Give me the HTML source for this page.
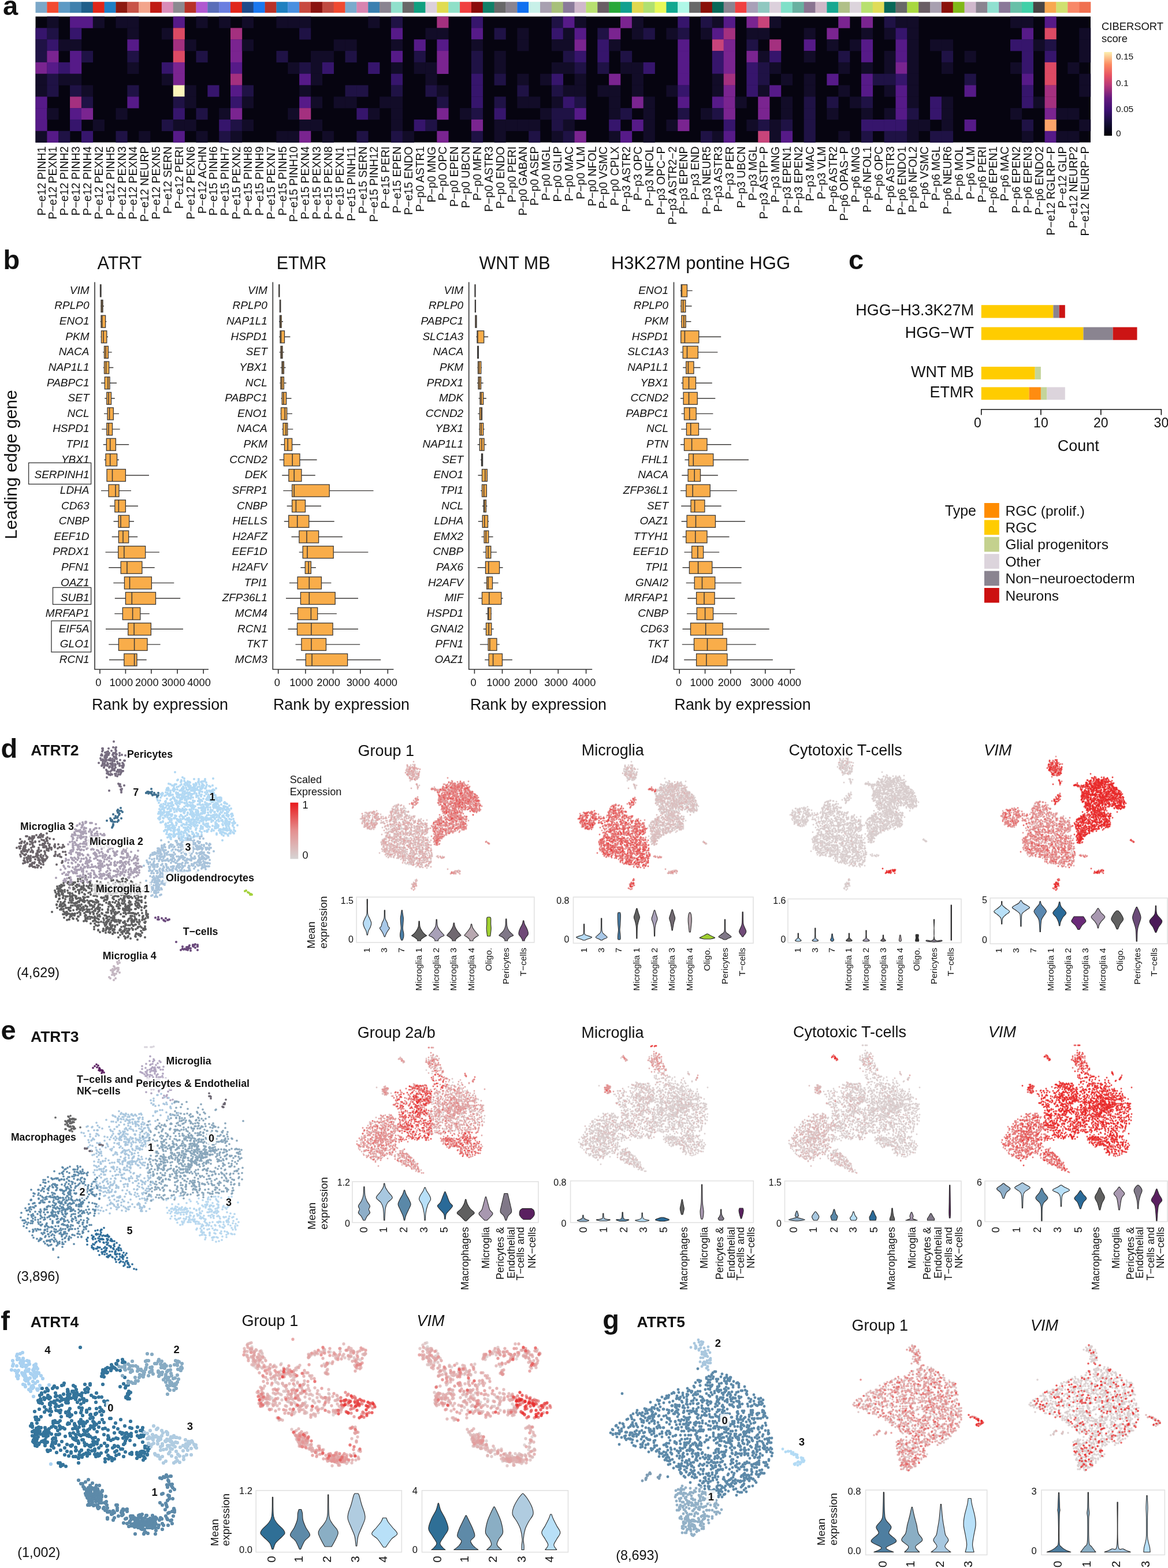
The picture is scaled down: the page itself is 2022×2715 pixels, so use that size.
<!DOCTYPE html>
<html><head><meta charset="utf-8"><title>Figure</title>
<style>html,body{margin:0;padding:0;background:#fff;overflow:hidden;width:2022px;height:2715px;} svg{display:block;} text{font-family:'Liberation Sans', Arial, sans-serif;fill:#111;}</style>
</head><body>
<svg width="2022" height="2715" viewBox="0 0 2022 2715">
<rect width="2022" height="2715" fill="#fff"/>
<defs>
<marker id="k0" markerUnits="userSpaceOnUse" markerWidth="4.1" markerHeight="4.1" refX="2.05" refY="2.05" overflow="visible"><circle cx="2.05" cy="2.05" r="2.05" fill="#5f5f60"/></marker>
<marker id="k1" markerUnits="userSpaceOnUse" markerWidth="4.1" markerHeight="4.1" refX="2.05" refY="2.05" overflow="visible"><circle cx="2.05" cy="2.05" r="2.05" fill="#6b6469"/></marker>
<marker id="k2" markerUnits="userSpaceOnUse" markerWidth="4.1" markerHeight="4.1" refX="2.05" refY="2.05" overflow="visible"><circle cx="2.05" cy="2.05" r="2.05" fill="#aba1b5"/></marker>
<marker id="k3" markerUnits="userSpaceOnUse" markerWidth="4.1" markerHeight="4.1" refX="2.05" refY="2.05" overflow="visible"><circle cx="2.05" cy="2.05" r="2.05" fill="#776d80"/></marker>
<marker id="k4" markerUnits="userSpaceOnUse" markerWidth="4.1" markerHeight="4.1" refX="2.05" refY="2.05" overflow="visible"><circle cx="2.05" cy="2.05" r="2.05" fill="#3f6f8f"/></marker>
<marker id="k5" markerUnits="userSpaceOnUse" markerWidth="4.1" markerHeight="4.1" refX="2.05" refY="2.05" overflow="visible"><circle cx="2.05" cy="2.05" r="2.05" fill="#b2d9f4"/></marker>
<marker id="k6" markerUnits="userSpaceOnUse" markerWidth="4.1" markerHeight="4.1" refX="2.05" refY="2.05" overflow="visible"><circle cx="2.05" cy="2.05" r="2.05" fill="#a8c3db"/></marker>
<marker id="k7" markerUnits="userSpaceOnUse" markerWidth="4.1" markerHeight="4.1" refX="2.05" refY="2.05" overflow="visible"><circle cx="2.05" cy="2.05" r="2.05" fill="#a3d13c"/></marker>
<marker id="k8" markerUnits="userSpaceOnUse" markerWidth="4.1" markerHeight="4.1" refX="2.05" refY="2.05" overflow="visible"><circle cx="2.05" cy="2.05" r="2.05" fill="#6b4a7c"/></marker>
<marker id="k9" markerUnits="userSpaceOnUse" markerWidth="4.1" markerHeight="4.1" refX="2.05" refY="2.05" overflow="visible"><circle cx="2.05" cy="2.05" r="2.05" fill="#c4b7c2"/></marker>
<marker id="k10" markerUnits="userSpaceOnUse" markerWidth="2.9" markerHeight="2.9" refX="1.45" refY="1.45" overflow="visible"><circle cx="1.45" cy="1.45" r="1.45" fill="#d8cdcd" fill-opacity="0.88"/></marker>
<marker id="k11" markerUnits="userSpaceOnUse" markerWidth="2.9" markerHeight="2.9" refX="1.45" refY="1.45" overflow="visible"><circle cx="1.45" cy="1.45" r="1.45" fill="#dbbebe" fill-opacity="0.88"/></marker>
<marker id="k12" markerUnits="userSpaceOnUse" markerWidth="2.9" markerHeight="2.9" refX="1.45" refY="1.45" overflow="visible"><circle cx="1.45" cy="1.45" r="1.45" fill="#deb0b0" fill-opacity="0.88"/></marker>
<marker id="k13" markerUnits="userSpaceOnUse" markerWidth="2.9" markerHeight="2.9" refX="1.45" refY="1.45" overflow="visible"><circle cx="1.45" cy="1.45" r="1.45" fill="#e0a2a2" fill-opacity="0.88"/></marker>
<marker id="k14" markerUnits="userSpaceOnUse" markerWidth="2.9" markerHeight="2.9" refX="1.45" refY="1.45" overflow="visible"><circle cx="1.45" cy="1.45" r="1.45" fill="#e39393" fill-opacity="0.88"/></marker>
<marker id="k15" markerUnits="userSpaceOnUse" markerWidth="2.9" markerHeight="2.9" refX="1.45" refY="1.45" overflow="visible"><circle cx="1.45" cy="1.45" r="1.45" fill="#e48181" fill-opacity="0.88"/></marker>
<marker id="k16" markerUnits="userSpaceOnUse" markerWidth="2.9" markerHeight="2.9" refX="1.45" refY="1.45" overflow="visible"><circle cx="1.45" cy="1.45" r="1.45" fill="#e56a6a" fill-opacity="0.88"/></marker>
<marker id="k17" markerUnits="userSpaceOnUse" markerWidth="2.9" markerHeight="2.9" refX="1.45" refY="1.45" overflow="visible"><circle cx="1.45" cy="1.45" r="1.45" fill="#e65454" fill-opacity="0.88"/></marker>
<marker id="k18" markerUnits="userSpaceOnUse" markerWidth="2.9" markerHeight="2.9" refX="1.45" refY="1.45" overflow="visible"><circle cx="1.45" cy="1.45" r="1.45" fill="#e73e3e" fill-opacity="0.88"/></marker>
<marker id="k19" markerUnits="userSpaceOnUse" markerWidth="2.9" markerHeight="2.9" refX="1.45" refY="1.45" overflow="visible"><circle cx="1.45" cy="1.45" r="1.45" fill="#e82727" fill-opacity="0.88"/></marker>
<marker id="k20" markerUnits="userSpaceOnUse" markerWidth="3.7" markerHeight="3.7" refX="1.85" refY="1.85" overflow="visible"><circle cx="1.85" cy="1.85" r="1.85" fill="#5b88a8"/></marker>
<marker id="k21" markerUnits="userSpaceOnUse" markerWidth="3.7" markerHeight="3.7" refX="1.85" refY="1.85" overflow="visible"><circle cx="1.85" cy="1.85" r="1.85" fill="#2b6b98"/></marker>
<marker id="k22" markerUnits="userSpaceOnUse" markerWidth="3.7" markerHeight="3.7" refX="1.85" refY="1.85" overflow="visible"><circle cx="1.85" cy="1.85" r="1.85" fill="#a8c6de"/></marker>
<marker id="k23" markerUnits="userSpaceOnUse" markerWidth="3.7" markerHeight="3.7" refX="1.85" refY="1.85" overflow="visible"><circle cx="1.85" cy="1.85" r="1.85" fill="#88a6bb"/></marker>
<marker id="k24" markerUnits="userSpaceOnUse" markerWidth="3.7" markerHeight="3.7" refX="1.85" refY="1.85" overflow="visible"><circle cx="1.85" cy="1.85" r="1.85" fill="#b6d7ef"/></marker>
<marker id="k25" markerUnits="userSpaceOnUse" markerWidth="3.7" markerHeight="3.7" refX="1.85" refY="1.85" overflow="visible"><circle cx="1.85" cy="1.85" r="1.85" fill="#b0a4c0"/></marker>
<marker id="k26" markerUnits="userSpaceOnUse" markerWidth="3.7" markerHeight="3.7" refX="1.85" refY="1.85" overflow="visible"><circle cx="1.85" cy="1.85" r="1.85" fill="#5a1e60"/></marker>
<marker id="k27" markerUnits="userSpaceOnUse" markerWidth="3.7" markerHeight="3.7" refX="1.85" refY="1.85" overflow="visible"><circle cx="1.85" cy="1.85" r="1.85" fill="#626263"/></marker>
<marker id="k28" markerUnits="userSpaceOnUse" markerWidth="3.7" markerHeight="3.7" refX="1.85" refY="1.85" overflow="visible"><circle cx="1.85" cy="1.85" r="1.85" fill="#6a6470"/></marker>
<marker id="k29" markerUnits="userSpaceOnUse" markerWidth="3.7" markerHeight="3.7" refX="1.85" refY="1.85" overflow="visible"><circle cx="1.85" cy="1.85" r="1.85" fill="#d8d4dc"/></marker>
<marker id="k30" markerUnits="userSpaceOnUse" markerWidth="6.2" markerHeight="6.2" refX="3.1" refY="3.1" overflow="visible"><circle cx="3.1" cy="3.1" r="3.1" fill="#a9d1f1"/></marker>
<marker id="k31" markerUnits="userSpaceOnUse" markerWidth="6.2" markerHeight="6.2" refX="3.1" refY="3.1" overflow="visible"><circle cx="3.1" cy="3.1" r="3.1" fill="#34749b"/></marker>
<marker id="k32" markerUnits="userSpaceOnUse" markerWidth="6.2" markerHeight="6.2" refX="3.1" refY="3.1" overflow="visible"><circle cx="3.1" cy="3.1" r="3.1" fill="#87abc3"/></marker>
<marker id="k33" markerUnits="userSpaceOnUse" markerWidth="6.2" markerHeight="6.2" refX="3.1" refY="3.1" overflow="visible"><circle cx="3.1" cy="3.1" r="3.1" fill="#b0cce1"/></marker>
<marker id="k34" markerUnits="userSpaceOnUse" markerWidth="6.2" markerHeight="6.2" refX="3.1" refY="3.1" overflow="visible"><circle cx="3.1" cy="3.1" r="3.1" fill="#5d8aa9"/></marker>
<marker id="k35" markerUnits="userSpaceOnUse" markerWidth="5.3" markerHeight="5.3" refX="2.65" refY="2.65" overflow="visible"><circle cx="2.65" cy="2.65" r="2.65" fill="#d8cdcd" fill-opacity="0.8"/></marker>
<marker id="k36" markerUnits="userSpaceOnUse" markerWidth="5.3" markerHeight="5.3" refX="2.65" refY="2.65" overflow="visible"><circle cx="2.65" cy="2.65" r="2.65" fill="#dbbebe" fill-opacity="0.8"/></marker>
<marker id="k37" markerUnits="userSpaceOnUse" markerWidth="5.3" markerHeight="5.3" refX="2.65" refY="2.65" overflow="visible"><circle cx="2.65" cy="2.65" r="2.65" fill="#deb0b0" fill-opacity="0.8"/></marker>
<marker id="k38" markerUnits="userSpaceOnUse" markerWidth="5.3" markerHeight="5.3" refX="2.65" refY="2.65" overflow="visible"><circle cx="2.65" cy="2.65" r="2.65" fill="#e0a2a2" fill-opacity="0.8"/></marker>
<marker id="k39" markerUnits="userSpaceOnUse" markerWidth="5.3" markerHeight="5.3" refX="2.65" refY="2.65" overflow="visible"><circle cx="2.65" cy="2.65" r="2.65" fill="#e39393" fill-opacity="0.8"/></marker>
<marker id="k40" markerUnits="userSpaceOnUse" markerWidth="5.3" markerHeight="5.3" refX="2.65" refY="2.65" overflow="visible"><circle cx="2.65" cy="2.65" r="2.65" fill="#e48181" fill-opacity="0.8"/></marker>
<marker id="k41" markerUnits="userSpaceOnUse" markerWidth="5.3" markerHeight="5.3" refX="2.65" refY="2.65" overflow="visible"><circle cx="2.65" cy="2.65" r="2.65" fill="#e56a6a" fill-opacity="0.8"/></marker>
<marker id="k42" markerUnits="userSpaceOnUse" markerWidth="5.3" markerHeight="5.3" refX="2.65" refY="2.65" overflow="visible"><circle cx="2.65" cy="2.65" r="2.65" fill="#e65454" fill-opacity="0.8"/></marker>
<marker id="k43" markerUnits="userSpaceOnUse" markerWidth="5.3" markerHeight="5.3" refX="2.65" refY="2.65" overflow="visible"><circle cx="2.65" cy="2.65" r="2.65" fill="#e73e3e" fill-opacity="0.8"/></marker>
<marker id="k44" markerUnits="userSpaceOnUse" markerWidth="5.3" markerHeight="5.3" refX="2.65" refY="2.65" overflow="visible"><circle cx="2.65" cy="2.65" r="2.65" fill="#e82727" fill-opacity="0.8"/></marker>
<marker id="k45" markerUnits="userSpaceOnUse" markerWidth="4.9" markerHeight="4.9" refX="2.45" refY="2.45" overflow="visible"><circle cx="2.45" cy="2.45" r="2.45" fill="#5e8aa9"/></marker>
<marker id="k46" markerUnits="userSpaceOnUse" markerWidth="4.9" markerHeight="4.9" refX="2.45" refY="2.45" overflow="visible"><circle cx="2.45" cy="2.45" r="2.45" fill="#93b1c7"/></marker>
<marker id="k47" markerUnits="userSpaceOnUse" markerWidth="4.9" markerHeight="4.9" refX="2.45" refY="2.45" overflow="visible"><circle cx="2.45" cy="2.45" r="2.45" fill="#a9c7de"/></marker>
<marker id="k48" markerUnits="userSpaceOnUse" markerWidth="4.9" markerHeight="4.9" refX="2.45" refY="2.45" overflow="visible"><circle cx="2.45" cy="2.45" r="2.45" fill="#b3dbf5"/></marker>
<marker id="k49" markerUnits="userSpaceOnUse" markerWidth="4.9" markerHeight="4.9" refX="2.45" refY="2.45" overflow="visible"><circle cx="2.45" cy="2.45" r="2.45" fill="#7f9db4"/></marker>
<marker id="k50" markerUnits="userSpaceOnUse" markerWidth="3.6" markerHeight="3.6" refX="1.8" refY="1.8" overflow="visible"><circle cx="1.8" cy="1.8" r="1.8" fill="#d8cdcd" fill-opacity="0.88"/></marker>
<marker id="k51" markerUnits="userSpaceOnUse" markerWidth="3.6" markerHeight="3.6" refX="1.8" refY="1.8" overflow="visible"><circle cx="1.8" cy="1.8" r="1.8" fill="#dbbebe" fill-opacity="0.88"/></marker>
<marker id="k52" markerUnits="userSpaceOnUse" markerWidth="3.6" markerHeight="3.6" refX="1.8" refY="1.8" overflow="visible"><circle cx="1.8" cy="1.8" r="1.8" fill="#deb0b0" fill-opacity="0.88"/></marker>
<marker id="k53" markerUnits="userSpaceOnUse" markerWidth="3.6" markerHeight="3.6" refX="1.8" refY="1.8" overflow="visible"><circle cx="1.8" cy="1.8" r="1.8" fill="#e0a2a2" fill-opacity="0.88"/></marker>
<marker id="k54" markerUnits="userSpaceOnUse" markerWidth="3.6" markerHeight="3.6" refX="1.8" refY="1.8" overflow="visible"><circle cx="1.8" cy="1.8" r="1.8" fill="#e39393" fill-opacity="0.88"/></marker>
<marker id="k55" markerUnits="userSpaceOnUse" markerWidth="3.6" markerHeight="3.6" refX="1.8" refY="1.8" overflow="visible"><circle cx="1.8" cy="1.8" r="1.8" fill="#e48181" fill-opacity="0.88"/></marker>
<marker id="k56" markerUnits="userSpaceOnUse" markerWidth="3.6" markerHeight="3.6" refX="1.8" refY="1.8" overflow="visible"><circle cx="1.8" cy="1.8" r="1.8" fill="#e56a6a" fill-opacity="0.88"/></marker>
<marker id="k57" markerUnits="userSpaceOnUse" markerWidth="3.6" markerHeight="3.6" refX="1.8" refY="1.8" overflow="visible"><circle cx="1.8" cy="1.8" r="1.8" fill="#e65454" fill-opacity="0.88"/></marker>
<marker id="k58" markerUnits="userSpaceOnUse" markerWidth="3.6" markerHeight="3.6" refX="1.8" refY="1.8" overflow="visible"><circle cx="1.8" cy="1.8" r="1.8" fill="#e73e3e" fill-opacity="0.88"/></marker>
<marker id="k59" markerUnits="userSpaceOnUse" markerWidth="3.6" markerHeight="3.6" refX="1.8" refY="1.8" overflow="visible"><circle cx="1.8" cy="1.8" r="1.8" fill="#e82727" fill-opacity="0.88"/></marker>
</defs>
<text x="5" y="26" font-size="47" font-weight="bold">a</text>
<rect x="61.50" y="3.2" width="20.15" height="19" fill="#7ba7c8"/>
<rect x="81.35" y="3.2" width="20.15" height="19" fill="#f24a30"/>
<rect x="101.21" y="3.2" width="20.15" height="19" fill="#5d9ac4"/>
<rect x="121.06" y="3.2" width="20.15" height="19" fill="#3f80ad"/>
<rect x="140.91" y="3.2" width="20.15" height="19" fill="#1f5f8a"/>
<rect x="160.77" y="3.2" width="20.15" height="19" fill="#e0261a"/>
<rect x="180.62" y="3.2" width="20.15" height="19" fill="#1f7fc4"/>
<rect x="200.47" y="3.2" width="20.15" height="19" fill="#8e1a10"/>
<rect x="220.33" y="3.2" width="20.15" height="19" fill="#c85448"/>
<rect x="240.18" y="3.2" width="20.15" height="19" fill="#f3a58c"/>
<rect x="260.03" y="3.2" width="20.15" height="19" fill="#c01c14"/>
<rect x="279.89" y="3.2" width="20.15" height="19" fill="#d98cb8"/>
<rect x="299.74" y="3.2" width="20.15" height="19" fill="#8c8a90"/>
<rect x="319.59" y="3.2" width="20.15" height="19" fill="#b83228"/>
<rect x="339.45" y="3.2" width="20.15" height="19" fill="#b058d0"/>
<rect x="359.30" y="3.2" width="20.15" height="19" fill="#5a6eb8"/>
<rect x="379.15" y="3.2" width="20.15" height="19" fill="#6a7ee0"/>
<rect x="399.01" y="3.2" width="20.15" height="19" fill="#e0261a"/>
<rect x="418.86" y="3.2" width="20.15" height="19" fill="#1f4a8a"/>
<rect x="438.71" y="3.2" width="20.15" height="19" fill="#1a78f0"/>
<rect x="458.57" y="3.2" width="20.15" height="19" fill="#b83228"/>
<rect x="478.42" y="3.2" width="20.15" height="19" fill="#1f80c0"/>
<rect x="498.27" y="3.2" width="20.15" height="19" fill="#4a90e0"/>
<rect x="518.12" y="3.2" width="20.15" height="19" fill="#c84a40"/>
<rect x="537.98" y="3.2" width="20.15" height="19" fill="#8a1410"/>
<rect x="557.83" y="3.2" width="20.15" height="19" fill="#c04a40"/>
<rect x="577.68" y="3.2" width="20.15" height="19" fill="#f04a30"/>
<rect x="597.54" y="3.2" width="20.15" height="19" fill="#7aaacc"/>
<rect x="617.39" y="3.2" width="20.15" height="19" fill="#d884b0"/>
<rect x="637.24" y="3.2" width="20.15" height="19" fill="#3a80b0"/>
<rect x="657.10" y="3.2" width="20.15" height="19" fill="#8a8490"/>
<rect x="676.95" y="3.2" width="20.15" height="19" fill="#90e0cc"/>
<rect x="696.80" y="3.2" width="20.15" height="19" fill="#686868"/>
<rect x="716.66" y="3.2" width="20.15" height="19" fill="#10a080"/>
<rect x="736.51" y="3.2" width="20.15" height="19" fill="#dcd0dc"/>
<rect x="756.36" y="3.2" width="20.15" height="19" fill="#e0dc50"/>
<rect x="776.22" y="3.2" width="20.15" height="19" fill="#90e0c8"/>
<rect x="796.07" y="3.2" width="20.15" height="19" fill="#f04040"/>
<rect x="815.92" y="3.2" width="20.15" height="19" fill="#8a0a0a"/>
<rect x="835.78" y="3.2" width="20.15" height="19" fill="#108068"/>
<rect x="855.63" y="3.2" width="20.15" height="19" fill="#686868"/>
<rect x="875.48" y="3.2" width="20.15" height="19" fill="#8a8490"/>
<rect x="895.34" y="3.2" width="20.15" height="19" fill="#1070f0"/>
<rect x="915.19" y="3.2" width="20.15" height="19" fill="#c8f0e8"/>
<rect x="935.04" y="3.2" width="20.15" height="19" fill="#a8a0b0"/>
<rect x="954.90" y="3.2" width="20.15" height="19" fill="#a8c07a"/>
<rect x="974.75" y="3.2" width="20.15" height="19" fill="#8a7a9a"/>
<rect x="994.60" y="3.2" width="20.15" height="19" fill="#d0b8cc"/>
<rect x="1014.46" y="3.2" width="20.15" height="19" fill="#b8e070"/>
<rect x="1034.31" y="3.2" width="20.15" height="19" fill="#6a5e64"/>
<rect x="1054.16" y="3.2" width="20.15" height="19" fill="#28a838"/>
<rect x="1074.02" y="3.2" width="20.15" height="19" fill="#10a090"/>
<rect x="1093.87" y="3.2" width="20.15" height="19" fill="#e0d850"/>
<rect x="1113.72" y="3.2" width="20.15" height="19" fill="#b0e070"/>
<rect x="1133.58" y="3.2" width="20.15" height="19" fill="#e8f858"/>
<rect x="1153.43" y="3.2" width="20.15" height="19" fill="#10a890"/>
<rect x="1173.28" y="3.2" width="20.15" height="19" fill="#b0f8e8"/>
<rect x="1193.14" y="3.2" width="20.15" height="19" fill="#686868"/>
<rect x="1212.99" y="3.2" width="20.15" height="19" fill="#8a1008"/>
<rect x="1232.84" y="3.2" width="20.15" height="19" fill="#086858"/>
<rect x="1252.70" y="3.2" width="20.15" height="19" fill="#8a8490"/>
<rect x="1272.55" y="3.2" width="20.15" height="19" fill="#f04040"/>
<rect x="1292.40" y="3.2" width="20.15" height="19" fill="#a8a0b8"/>
<rect x="1312.26" y="3.2" width="20.15" height="19" fill="#90c8c0"/>
<rect x="1332.11" y="3.2" width="20.15" height="19" fill="#dcd0dc"/>
<rect x="1351.96" y="3.2" width="20.15" height="19" fill="#80e0c8"/>
<rect x="1371.82" y="3.2" width="20.15" height="19" fill="#68b0a0"/>
<rect x="1391.67" y="3.2" width="20.15" height="19" fill="#8a7490"/>
<rect x="1411.52" y="3.2" width="20.15" height="19" fill="#d0b8c8"/>
<rect x="1431.38" y="3.2" width="20.15" height="19" fill="#18a890"/>
<rect x="1451.23" y="3.2" width="20.15" height="19" fill="#b0c088"/>
<rect x="1471.08" y="3.2" width="20.15" height="19" fill="#dcd4dc"/>
<rect x="1490.93" y="3.2" width="20.15" height="19" fill="#b8e070"/>
<rect x="1510.79" y="3.2" width="20.15" height="19" fill="#e0dc58"/>
<rect x="1530.64" y="3.2" width="20.15" height="19" fill="#086858"/>
<rect x="1550.49" y="3.2" width="20.15" height="19" fill="#686868"/>
<rect x="1570.35" y="3.2" width="20.15" height="19" fill="#a8d840"/>
<rect x="1590.20" y="3.2" width="20.15" height="19" fill="#6a5e64"/>
<rect x="1610.05" y="3.2" width="20.15" height="19" fill="#a8a0b0"/>
<rect x="1629.91" y="3.2" width="20.15" height="19" fill="#8a1008"/>
<rect x="1649.76" y="3.2" width="20.15" height="19" fill="#80b818"/>
<rect x="1669.61" y="3.2" width="20.15" height="19" fill="#d0b8cc"/>
<rect x="1689.47" y="3.2" width="20.15" height="19" fill="#8a8490"/>
<rect x="1709.32" y="3.2" width="20.15" height="19" fill="#90e0d0"/>
<rect x="1729.17" y="3.2" width="20.15" height="19" fill="#8a7898"/>
<rect x="1749.03" y="3.2" width="20.15" height="19" fill="#68c0a8"/>
<rect x="1768.88" y="3.2" width="20.15" height="19" fill="#40d0a8"/>
<rect x="1788.73" y="3.2" width="20.15" height="19" fill="#484444"/>
<rect x="1808.59" y="3.2" width="20.15" height="19" fill="#f8a850"/>
<rect x="1828.44" y="3.2" width="20.15" height="19" fill="#d0e070"/>
<rect x="1848.29" y="3.2" width="20.15" height="19" fill="#f88868"/>
<rect x="1868.15" y="3.2" width="20.15" height="19" fill="#f07050"/>
<rect x="61.5" y="28.6" width="1826.50" height="218.00" fill="#060410"/>
<rect x="81.35" y="28.60" width="20.15" height="20.12" fill="#120c28"/>
<rect x="121.06" y="28.60" width="20.15" height="20.12" fill="#561a88"/>
<rect x="140.91" y="28.60" width="20.15" height="20.12" fill="#561a88"/>
<rect x="160.77" y="28.60" width="20.15" height="20.12" fill="#120c28"/>
<rect x="200.47" y="28.60" width="20.15" height="20.12" fill="#120c28"/>
<rect x="220.33" y="28.60" width="20.15" height="20.12" fill="#120c28"/>
<rect x="299.74" y="28.60" width="20.15" height="20.12" fill="#561a88"/>
<rect x="339.45" y="28.60" width="20.15" height="20.12" fill="#120c28"/>
<rect x="379.15" y="28.60" width="20.15" height="20.12" fill="#120c28"/>
<rect x="418.86" y="28.60" width="20.15" height="20.12" fill="#120c28"/>
<rect x="478.42" y="28.60" width="20.15" height="20.12" fill="#120c28"/>
<rect x="498.27" y="28.60" width="20.15" height="20.12" fill="#120c28"/>
<rect x="518.12" y="28.60" width="20.15" height="20.12" fill="#120c28"/>
<rect x="637.24" y="28.60" width="20.15" height="20.12" fill="#120c28"/>
<rect x="676.95" y="28.60" width="20.15" height="20.12" fill="#1f1245"/>
<rect x="756.36" y="28.60" width="20.15" height="20.12" fill="#a4307f"/>
<rect x="815.92" y="28.60" width="20.15" height="20.12" fill="#36156c"/>
<rect x="954.90" y="28.60" width="20.15" height="20.12" fill="#1f1245"/>
<rect x="974.75" y="28.60" width="20.15" height="20.12" fill="#561a88"/>
<rect x="994.60" y="28.60" width="20.15" height="20.12" fill="#120c28"/>
<rect x="1074.02" y="28.60" width="20.15" height="20.12" fill="#7a2490"/>
<rect x="1093.87" y="28.60" width="20.15" height="20.12" fill="#120c28"/>
<rect x="1173.28" y="28.60" width="20.15" height="20.12" fill="#36156c"/>
<rect x="1212.99" y="28.60" width="20.15" height="20.12" fill="#1f1245"/>
<rect x="1232.84" y="28.60" width="20.15" height="20.12" fill="#120c28"/>
<rect x="1252.70" y="28.60" width="20.15" height="20.12" fill="#561a88"/>
<rect x="1292.40" y="28.60" width="20.15" height="20.12" fill="#7a2490"/>
<rect x="1312.26" y="28.60" width="20.15" height="20.12" fill="#c8447a"/>
<rect x="1332.11" y="28.60" width="20.15" height="20.12" fill="#120c28"/>
<rect x="1451.23" y="28.60" width="20.15" height="20.12" fill="#7a2490"/>
<rect x="1490.93" y="28.60" width="20.15" height="20.12" fill="#7a2490"/>
<rect x="1530.64" y="28.60" width="20.15" height="20.12" fill="#1f1245"/>
<rect x="1550.49" y="28.60" width="20.15" height="20.12" fill="#120c28"/>
<rect x="1570.35" y="28.60" width="20.15" height="20.12" fill="#120c28"/>
<rect x="1749.03" y="28.60" width="20.15" height="20.12" fill="#120c28"/>
<rect x="1768.88" y="28.60" width="20.15" height="20.12" fill="#120c28"/>
<rect x="1808.59" y="28.60" width="20.15" height="20.12" fill="#561a88"/>
<rect x="61.50" y="48.42" width="20.15" height="20.12" fill="#36156c"/>
<rect x="81.35" y="48.42" width="20.15" height="20.12" fill="#1f1245"/>
<rect x="121.06" y="48.42" width="20.15" height="20.12" fill="#36156c"/>
<rect x="220.33" y="48.42" width="20.15" height="20.12" fill="#120c28"/>
<rect x="279.89" y="48.42" width="20.15" height="20.12" fill="#120c28"/>
<rect x="299.74" y="48.42" width="20.15" height="20.12" fill="#dc4a64"/>
<rect x="399.01" y="48.42" width="20.15" height="20.12" fill="#a4307f"/>
<rect x="518.12" y="48.42" width="20.15" height="20.12" fill="#1f1245"/>
<rect x="676.95" y="48.42" width="20.15" height="20.12" fill="#561a88"/>
<rect x="736.51" y="48.42" width="20.15" height="20.12" fill="#120c28"/>
<rect x="756.36" y="48.42" width="20.15" height="20.12" fill="#120c28"/>
<rect x="815.92" y="48.42" width="20.15" height="20.12" fill="#561a88"/>
<rect x="855.63" y="48.42" width="20.15" height="20.12" fill="#1f1245"/>
<rect x="895.34" y="48.42" width="20.15" height="20.12" fill="#120c28"/>
<rect x="954.90" y="48.42" width="20.15" height="20.12" fill="#36156c"/>
<rect x="974.75" y="48.42" width="20.15" height="20.12" fill="#120c28"/>
<rect x="994.60" y="48.42" width="20.15" height="20.12" fill="#561a88"/>
<rect x="1034.31" y="48.42" width="20.15" height="20.12" fill="#1f1245"/>
<rect x="1054.16" y="48.42" width="20.15" height="20.12" fill="#7a2490"/>
<rect x="1093.87" y="48.42" width="20.15" height="20.12" fill="#120c28"/>
<rect x="1113.72" y="48.42" width="20.15" height="20.12" fill="#1f1245"/>
<rect x="1153.43" y="48.42" width="20.15" height="20.12" fill="#120c28"/>
<rect x="1173.28" y="48.42" width="20.15" height="20.12" fill="#1f1245"/>
<rect x="1212.99" y="48.42" width="20.15" height="20.12" fill="#120c28"/>
<rect x="1232.84" y="48.42" width="20.15" height="20.12" fill="#561a88"/>
<rect x="1252.70" y="48.42" width="20.15" height="20.12" fill="#a4307f"/>
<rect x="1292.40" y="48.42" width="20.15" height="20.12" fill="#120c28"/>
<rect x="1312.26" y="48.42" width="20.15" height="20.12" fill="#120c28"/>
<rect x="1391.67" y="48.42" width="20.15" height="20.12" fill="#120c28"/>
<rect x="1431.38" y="48.42" width="20.15" height="20.12" fill="#7a2490"/>
<rect x="1490.93" y="48.42" width="20.15" height="20.12" fill="#120c28"/>
<rect x="1530.64" y="48.42" width="20.15" height="20.12" fill="#120c28"/>
<rect x="1550.49" y="48.42" width="20.15" height="20.12" fill="#36156c"/>
<rect x="1570.35" y="48.42" width="20.15" height="20.12" fill="#120c28"/>
<rect x="1768.88" y="48.42" width="20.15" height="20.12" fill="#561a88"/>
<rect x="1808.59" y="48.42" width="20.15" height="20.12" fill="#dc4a64"/>
<rect x="1868.15" y="48.42" width="20.15" height="20.12" fill="#120c28"/>
<rect x="61.50" y="68.24" width="20.15" height="20.12" fill="#1f1245"/>
<rect x="81.35" y="68.24" width="20.15" height="20.12" fill="#36156c"/>
<rect x="101.21" y="68.24" width="20.15" height="20.12" fill="#120c28"/>
<rect x="121.06" y="68.24" width="20.15" height="20.12" fill="#120c28"/>
<rect x="220.33" y="68.24" width="20.15" height="20.12" fill="#561a88"/>
<rect x="299.74" y="68.24" width="20.15" height="20.12" fill="#a4307f"/>
<rect x="319.59" y="68.24" width="20.15" height="20.12" fill="#120c28"/>
<rect x="399.01" y="68.24" width="20.15" height="20.12" fill="#7a2490"/>
<rect x="418.86" y="68.24" width="20.15" height="20.12" fill="#120c28"/>
<rect x="577.68" y="68.24" width="20.15" height="20.12" fill="#120c28"/>
<rect x="597.54" y="68.24" width="20.15" height="20.12" fill="#120c28"/>
<rect x="676.95" y="68.24" width="20.15" height="20.12" fill="#120c28"/>
<rect x="716.66" y="68.24" width="20.15" height="20.12" fill="#561a88"/>
<rect x="756.36" y="68.24" width="20.15" height="20.12" fill="#561a88"/>
<rect x="815.92" y="68.24" width="20.15" height="20.12" fill="#120c28"/>
<rect x="895.34" y="68.24" width="20.15" height="20.12" fill="#120c28"/>
<rect x="954.90" y="68.24" width="20.15" height="20.12" fill="#120c28"/>
<rect x="974.75" y="68.24" width="20.15" height="20.12" fill="#120c28"/>
<rect x="994.60" y="68.24" width="20.15" height="20.12" fill="#7a2490"/>
<rect x="1034.31" y="68.24" width="20.15" height="20.12" fill="#36156c"/>
<rect x="1054.16" y="68.24" width="20.15" height="20.12" fill="#120c28"/>
<rect x="1173.28" y="68.24" width="20.15" height="20.12" fill="#561a88"/>
<rect x="1232.84" y="68.24" width="20.15" height="20.12" fill="#c8447a"/>
<rect x="1252.70" y="68.24" width="20.15" height="20.12" fill="#7a2490"/>
<rect x="1292.40" y="68.24" width="20.15" height="20.12" fill="#1f1245"/>
<rect x="1332.11" y="68.24" width="20.15" height="20.12" fill="#a4307f"/>
<rect x="1391.67" y="68.24" width="20.15" height="20.12" fill="#561a88"/>
<rect x="1431.38" y="68.24" width="20.15" height="20.12" fill="#120c28"/>
<rect x="1471.08" y="68.24" width="20.15" height="20.12" fill="#120c28"/>
<rect x="1490.93" y="68.24" width="20.15" height="20.12" fill="#561a88"/>
<rect x="1550.49" y="68.24" width="20.15" height="20.12" fill="#561a88"/>
<rect x="1570.35" y="68.24" width="20.15" height="20.12" fill="#120c28"/>
<rect x="1610.05" y="68.24" width="20.15" height="20.12" fill="#120c28"/>
<rect x="1629.91" y="68.24" width="20.15" height="20.12" fill="#120c28"/>
<rect x="1749.03" y="68.24" width="20.15" height="20.12" fill="#36156c"/>
<rect x="1768.88" y="68.24" width="20.15" height="20.12" fill="#36156c"/>
<rect x="1788.73" y="68.24" width="20.15" height="20.12" fill="#120c28"/>
<rect x="1808.59" y="68.24" width="20.15" height="20.12" fill="#1f1245"/>
<rect x="1868.15" y="68.24" width="20.15" height="20.12" fill="#120c28"/>
<rect x="61.50" y="88.05" width="20.15" height="20.12" fill="#1f1245"/>
<rect x="81.35" y="88.05" width="20.15" height="20.12" fill="#7a2490"/>
<rect x="121.06" y="88.05" width="20.15" height="20.12" fill="#561a88"/>
<rect x="140.91" y="88.05" width="20.15" height="20.12" fill="#1f1245"/>
<rect x="220.33" y="88.05" width="20.15" height="20.12" fill="#1f1245"/>
<rect x="299.74" y="88.05" width="20.15" height="20.12" fill="#dc4a64"/>
<rect x="339.45" y="88.05" width="20.15" height="20.12" fill="#1f1245"/>
<rect x="399.01" y="88.05" width="20.15" height="20.12" fill="#7a2490"/>
<rect x="478.42" y="88.05" width="20.15" height="20.12" fill="#1f1245"/>
<rect x="537.98" y="88.05" width="20.15" height="20.12" fill="#120c28"/>
<rect x="557.83" y="88.05" width="20.15" height="20.12" fill="#120c28"/>
<rect x="597.54" y="88.05" width="20.15" height="20.12" fill="#1f1245"/>
<rect x="676.95" y="88.05" width="20.15" height="20.12" fill="#561a88"/>
<rect x="716.66" y="88.05" width="20.15" height="20.12" fill="#1f1245"/>
<rect x="756.36" y="88.05" width="20.15" height="20.12" fill="#7a2490"/>
<rect x="815.92" y="88.05" width="20.15" height="20.12" fill="#1f1245"/>
<rect x="855.63" y="88.05" width="20.15" height="20.12" fill="#120c28"/>
<rect x="974.75" y="88.05" width="20.15" height="20.12" fill="#1f1245"/>
<rect x="994.60" y="88.05" width="20.15" height="20.12" fill="#36156c"/>
<rect x="1034.31" y="88.05" width="20.15" height="20.12" fill="#36156c"/>
<rect x="1074.02" y="88.05" width="20.15" height="20.12" fill="#1f1245"/>
<rect x="1173.28" y="88.05" width="20.15" height="20.12" fill="#561a88"/>
<rect x="1232.84" y="88.05" width="20.15" height="20.12" fill="#36156c"/>
<rect x="1252.70" y="88.05" width="20.15" height="20.12" fill="#7a2490"/>
<rect x="1292.40" y="88.05" width="20.15" height="20.12" fill="#7a2490"/>
<rect x="1312.26" y="88.05" width="20.15" height="20.12" fill="#120c28"/>
<rect x="1332.11" y="88.05" width="20.15" height="20.12" fill="#36156c"/>
<rect x="1391.67" y="88.05" width="20.15" height="20.12" fill="#120c28"/>
<rect x="1451.23" y="88.05" width="20.15" height="20.12" fill="#1f1245"/>
<rect x="1490.93" y="88.05" width="20.15" height="20.12" fill="#561a88"/>
<rect x="1530.64" y="88.05" width="20.15" height="20.12" fill="#120c28"/>
<rect x="1550.49" y="88.05" width="20.15" height="20.12" fill="#561a88"/>
<rect x="1570.35" y="88.05" width="20.15" height="20.12" fill="#120c28"/>
<rect x="1629.91" y="88.05" width="20.15" height="20.12" fill="#1f1245"/>
<rect x="1669.61" y="88.05" width="20.15" height="20.12" fill="#120c28"/>
<rect x="1768.88" y="88.05" width="20.15" height="20.12" fill="#36156c"/>
<rect x="1808.59" y="88.05" width="20.15" height="20.12" fill="#36156c"/>
<rect x="1868.15" y="88.05" width="20.15" height="20.12" fill="#120c28"/>
<rect x="61.50" y="107.87" width="20.15" height="20.12" fill="#7a2490"/>
<rect x="81.35" y="107.87" width="20.15" height="20.12" fill="#561a88"/>
<rect x="101.21" y="107.87" width="20.15" height="20.12" fill="#36156c"/>
<rect x="121.06" y="107.87" width="20.15" height="20.12" fill="#561a88"/>
<rect x="220.33" y="107.87" width="20.15" height="20.12" fill="#120c28"/>
<rect x="279.89" y="107.87" width="20.15" height="20.12" fill="#36156c"/>
<rect x="299.74" y="107.87" width="20.15" height="20.12" fill="#7a2490"/>
<rect x="399.01" y="107.87" width="20.15" height="20.12" fill="#561a88"/>
<rect x="498.27" y="107.87" width="20.15" height="20.12" fill="#120c28"/>
<rect x="518.12" y="107.87" width="20.15" height="20.12" fill="#1f1245"/>
<rect x="537.98" y="107.87" width="20.15" height="20.12" fill="#120c28"/>
<rect x="557.83" y="107.87" width="20.15" height="20.12" fill="#36156c"/>
<rect x="637.24" y="107.87" width="20.15" height="20.12" fill="#36156c"/>
<rect x="676.95" y="107.87" width="20.15" height="20.12" fill="#120c28"/>
<rect x="716.66" y="107.87" width="20.15" height="20.12" fill="#120c28"/>
<rect x="736.51" y="107.87" width="20.15" height="20.12" fill="#120c28"/>
<rect x="756.36" y="107.87" width="20.15" height="20.12" fill="#7a2490"/>
<rect x="815.92" y="107.87" width="20.15" height="20.12" fill="#1f1245"/>
<rect x="855.63" y="107.87" width="20.15" height="20.12" fill="#120c28"/>
<rect x="954.90" y="107.87" width="20.15" height="20.12" fill="#120c28"/>
<rect x="974.75" y="107.87" width="20.15" height="20.12" fill="#120c28"/>
<rect x="994.60" y="107.87" width="20.15" height="20.12" fill="#1f1245"/>
<rect x="1034.31" y="107.87" width="20.15" height="20.12" fill="#1f1245"/>
<rect x="1074.02" y="107.87" width="20.15" height="20.12" fill="#120c28"/>
<rect x="1093.87" y="107.87" width="20.15" height="20.12" fill="#120c28"/>
<rect x="1113.72" y="107.87" width="20.15" height="20.12" fill="#36156c"/>
<rect x="1173.28" y="107.87" width="20.15" height="20.12" fill="#561a88"/>
<rect x="1232.84" y="107.87" width="20.15" height="20.12" fill="#36156c"/>
<rect x="1252.70" y="107.87" width="20.15" height="20.12" fill="#7a2490"/>
<rect x="1292.40" y="107.87" width="20.15" height="20.12" fill="#36156c"/>
<rect x="1312.26" y="107.87" width="20.15" height="20.12" fill="#1f1245"/>
<rect x="1332.11" y="107.87" width="20.15" height="20.12" fill="#120c28"/>
<rect x="1451.23" y="107.87" width="20.15" height="20.12" fill="#120c28"/>
<rect x="1490.93" y="107.87" width="20.15" height="20.12" fill="#120c28"/>
<rect x="1530.64" y="107.87" width="20.15" height="20.12" fill="#120c28"/>
<rect x="1550.49" y="107.87" width="20.15" height="20.12" fill="#7a2490"/>
<rect x="1570.35" y="107.87" width="20.15" height="20.12" fill="#120c28"/>
<rect x="1629.91" y="107.87" width="20.15" height="20.12" fill="#120c28"/>
<rect x="1749.03" y="107.87" width="20.15" height="20.12" fill="#120c28"/>
<rect x="1768.88" y="107.87" width="20.15" height="20.12" fill="#36156c"/>
<rect x="1808.59" y="107.87" width="20.15" height="20.12" fill="#dc4a64"/>
<rect x="1848.29" y="107.87" width="20.15" height="20.12" fill="#120c28"/>
<rect x="61.50" y="127.69" width="20.15" height="20.12" fill="#120c28"/>
<rect x="81.35" y="127.69" width="20.15" height="20.12" fill="#1f1245"/>
<rect x="101.21" y="127.69" width="20.15" height="20.12" fill="#120c28"/>
<rect x="121.06" y="127.69" width="20.15" height="20.12" fill="#120c28"/>
<rect x="279.89" y="127.69" width="20.15" height="20.12" fill="#120c28"/>
<rect x="299.74" y="127.69" width="20.15" height="20.12" fill="#7a2490"/>
<rect x="399.01" y="127.69" width="20.15" height="20.12" fill="#a4307f"/>
<rect x="518.12" y="127.69" width="20.15" height="20.12" fill="#561a88"/>
<rect x="537.98" y="127.69" width="20.15" height="20.12" fill="#120c28"/>
<rect x="676.95" y="127.69" width="20.15" height="20.12" fill="#36156c"/>
<rect x="736.51" y="127.69" width="20.15" height="20.12" fill="#120c28"/>
<rect x="815.92" y="127.69" width="20.15" height="20.12" fill="#36156c"/>
<rect x="855.63" y="127.69" width="20.15" height="20.12" fill="#1f1245"/>
<rect x="895.34" y="127.69" width="20.15" height="20.12" fill="#120c28"/>
<rect x="935.04" y="127.69" width="20.15" height="20.12" fill="#120c28"/>
<rect x="954.90" y="127.69" width="20.15" height="20.12" fill="#36156c"/>
<rect x="994.60" y="127.69" width="20.15" height="20.12" fill="#120c28"/>
<rect x="1054.16" y="127.69" width="20.15" height="20.12" fill="#7a2490"/>
<rect x="1093.87" y="127.69" width="20.15" height="20.12" fill="#120c28"/>
<rect x="1173.28" y="127.69" width="20.15" height="20.12" fill="#561a88"/>
<rect x="1232.84" y="127.69" width="20.15" height="20.12" fill="#120c28"/>
<rect x="1252.70" y="127.69" width="20.15" height="20.12" fill="#a4307f"/>
<rect x="1292.40" y="127.69" width="20.15" height="20.12" fill="#36156c"/>
<rect x="1312.26" y="127.69" width="20.15" height="20.12" fill="#1f1245"/>
<rect x="1351.96" y="127.69" width="20.15" height="20.12" fill="#120c28"/>
<rect x="1391.67" y="127.69" width="20.15" height="20.12" fill="#120c28"/>
<rect x="1431.38" y="127.69" width="20.15" height="20.12" fill="#561a88"/>
<rect x="1490.93" y="127.69" width="20.15" height="20.12" fill="#561a88"/>
<rect x="1510.79" y="127.69" width="20.15" height="20.12" fill="#1f1245"/>
<rect x="1530.64" y="127.69" width="20.15" height="20.12" fill="#1f1245"/>
<rect x="1550.49" y="127.69" width="20.15" height="20.12" fill="#36156c"/>
<rect x="1570.35" y="127.69" width="20.15" height="20.12" fill="#120c28"/>
<rect x="1669.61" y="127.69" width="20.15" height="20.12" fill="#1f1245"/>
<rect x="1768.88" y="127.69" width="20.15" height="20.12" fill="#561a88"/>
<rect x="1808.59" y="127.69" width="20.15" height="20.12" fill="#dc4a64"/>
<rect x="1868.15" y="127.69" width="20.15" height="20.12" fill="#120c28"/>
<rect x="61.50" y="147.51" width="20.15" height="20.12" fill="#120c28"/>
<rect x="81.35" y="147.51" width="20.15" height="20.12" fill="#1f1245"/>
<rect x="121.06" y="147.51" width="20.15" height="20.12" fill="#1f1245"/>
<rect x="140.91" y="147.51" width="20.15" height="20.12" fill="#120c28"/>
<rect x="220.33" y="147.51" width="20.15" height="20.12" fill="#1f1245"/>
<rect x="299.74" y="147.51" width="20.15" height="20.12" fill="#fcf4bc"/>
<rect x="319.59" y="147.51" width="20.15" height="20.12" fill="#120c28"/>
<rect x="359.30" y="147.51" width="20.15" height="20.12" fill="#36156c"/>
<rect x="399.01" y="147.51" width="20.15" height="20.12" fill="#561a88"/>
<rect x="418.86" y="147.51" width="20.15" height="20.12" fill="#1f1245"/>
<rect x="518.12" y="147.51" width="20.15" height="20.12" fill="#120c28"/>
<rect x="597.54" y="147.51" width="20.15" height="20.12" fill="#1f1245"/>
<rect x="617.39" y="147.51" width="20.15" height="20.12" fill="#1f1245"/>
<rect x="676.95" y="147.51" width="20.15" height="20.12" fill="#1f1245"/>
<rect x="736.51" y="147.51" width="20.15" height="20.12" fill="#1f1245"/>
<rect x="756.36" y="147.51" width="20.15" height="20.12" fill="#120c28"/>
<rect x="815.92" y="147.51" width="20.15" height="20.12" fill="#36156c"/>
<rect x="895.34" y="147.51" width="20.15" height="20.12" fill="#1f1245"/>
<rect x="954.90" y="147.51" width="20.15" height="20.12" fill="#1f1245"/>
<rect x="974.75" y="147.51" width="20.15" height="20.12" fill="#120c28"/>
<rect x="994.60" y="147.51" width="20.15" height="20.12" fill="#120c28"/>
<rect x="1034.31" y="147.51" width="20.15" height="20.12" fill="#120c28"/>
<rect x="1054.16" y="147.51" width="20.15" height="20.12" fill="#120c28"/>
<rect x="1093.87" y="147.51" width="20.15" height="20.12" fill="#120c28"/>
<rect x="1153.43" y="147.51" width="20.15" height="20.12" fill="#120c28"/>
<rect x="1173.28" y="147.51" width="20.15" height="20.12" fill="#36156c"/>
<rect x="1232.84" y="147.51" width="20.15" height="20.12" fill="#120c28"/>
<rect x="1252.70" y="147.51" width="20.15" height="20.12" fill="#7a2490"/>
<rect x="1292.40" y="147.51" width="20.15" height="20.12" fill="#36156c"/>
<rect x="1312.26" y="147.51" width="20.15" height="20.12" fill="#120c28"/>
<rect x="1332.11" y="147.51" width="20.15" height="20.12" fill="#561a88"/>
<rect x="1391.67" y="147.51" width="20.15" height="20.12" fill="#120c28"/>
<rect x="1451.23" y="147.51" width="20.15" height="20.12" fill="#120c28"/>
<rect x="1490.93" y="147.51" width="20.15" height="20.12" fill="#561a88"/>
<rect x="1530.64" y="147.51" width="20.15" height="20.12" fill="#120c28"/>
<rect x="1550.49" y="147.51" width="20.15" height="20.12" fill="#561a88"/>
<rect x="1570.35" y="147.51" width="20.15" height="20.12" fill="#120c28"/>
<rect x="1669.61" y="147.51" width="20.15" height="20.12" fill="#561a88"/>
<rect x="1768.88" y="147.51" width="20.15" height="20.12" fill="#36156c"/>
<rect x="1808.59" y="147.51" width="20.15" height="20.12" fill="#a4307f"/>
<rect x="1868.15" y="147.51" width="20.15" height="20.12" fill="#120c28"/>
<rect x="61.50" y="167.33" width="20.15" height="20.12" fill="#561a88"/>
<rect x="121.06" y="167.33" width="20.15" height="20.12" fill="#a4307f"/>
<rect x="140.91" y="167.33" width="20.15" height="20.12" fill="#1f1245"/>
<rect x="220.33" y="167.33" width="20.15" height="20.12" fill="#561a88"/>
<rect x="299.74" y="167.33" width="20.15" height="20.12" fill="#1f1245"/>
<rect x="319.59" y="167.33" width="20.15" height="20.12" fill="#120c28"/>
<rect x="399.01" y="167.33" width="20.15" height="20.12" fill="#36156c"/>
<rect x="418.86" y="167.33" width="20.15" height="20.12" fill="#120c28"/>
<rect x="518.12" y="167.33" width="20.15" height="20.12" fill="#561a88"/>
<rect x="537.98" y="167.33" width="20.15" height="20.12" fill="#120c28"/>
<rect x="577.68" y="167.33" width="20.15" height="20.12" fill="#120c28"/>
<rect x="597.54" y="167.33" width="20.15" height="20.12" fill="#120c28"/>
<rect x="657.10" y="167.33" width="20.15" height="20.12" fill="#120c28"/>
<rect x="676.95" y="167.33" width="20.15" height="20.12" fill="#120c28"/>
<rect x="756.36" y="167.33" width="20.15" height="20.12" fill="#1f1245"/>
<rect x="815.92" y="167.33" width="20.15" height="20.12" fill="#36156c"/>
<rect x="855.63" y="167.33" width="20.15" height="20.12" fill="#1f1245"/>
<rect x="895.34" y="167.33" width="20.15" height="20.12" fill="#120c28"/>
<rect x="915.19" y="167.33" width="20.15" height="20.12" fill="#120c28"/>
<rect x="954.90" y="167.33" width="20.15" height="20.12" fill="#120c28"/>
<rect x="974.75" y="167.33" width="20.15" height="20.12" fill="#36156c"/>
<rect x="994.60" y="167.33" width="20.15" height="20.12" fill="#1f1245"/>
<rect x="1054.16" y="167.33" width="20.15" height="20.12" fill="#120c28"/>
<rect x="1093.87" y="167.33" width="20.15" height="20.12" fill="#7a2490"/>
<rect x="1113.72" y="167.33" width="20.15" height="20.12" fill="#120c28"/>
<rect x="1173.28" y="167.33" width="20.15" height="20.12" fill="#561a88"/>
<rect x="1232.84" y="167.33" width="20.15" height="20.12" fill="#561a88"/>
<rect x="1252.70" y="167.33" width="20.15" height="20.12" fill="#7a2490"/>
<rect x="1272.55" y="167.33" width="20.15" height="20.12" fill="#120c28"/>
<rect x="1312.26" y="167.33" width="20.15" height="20.12" fill="#7a2490"/>
<rect x="1351.96" y="167.33" width="20.15" height="20.12" fill="#120c28"/>
<rect x="1391.67" y="167.33" width="20.15" height="20.12" fill="#1f1245"/>
<rect x="1431.38" y="167.33" width="20.15" height="20.12" fill="#1f1245"/>
<rect x="1471.08" y="167.33" width="20.15" height="20.12" fill="#120c28"/>
<rect x="1490.93" y="167.33" width="20.15" height="20.12" fill="#1f1245"/>
<rect x="1550.49" y="167.33" width="20.15" height="20.12" fill="#561a88"/>
<rect x="1570.35" y="167.33" width="20.15" height="20.12" fill="#120c28"/>
<rect x="1610.05" y="167.33" width="20.15" height="20.12" fill="#36156c"/>
<rect x="1629.91" y="167.33" width="20.15" height="20.12" fill="#120c28"/>
<rect x="1768.88" y="167.33" width="20.15" height="20.12" fill="#36156c"/>
<rect x="1788.73" y="167.33" width="20.15" height="20.12" fill="#120c28"/>
<rect x="1808.59" y="167.33" width="20.15" height="20.12" fill="#a4307f"/>
<rect x="61.50" y="187.15" width="20.15" height="20.12" fill="#561a88"/>
<rect x="81.35" y="187.15" width="20.15" height="20.12" fill="#120c28"/>
<rect x="121.06" y="187.15" width="20.15" height="20.12" fill="#561a88"/>
<rect x="140.91" y="187.15" width="20.15" height="20.12" fill="#7a2490"/>
<rect x="200.47" y="187.15" width="20.15" height="20.12" fill="#120c28"/>
<rect x="299.74" y="187.15" width="20.15" height="20.12" fill="#36156c"/>
<rect x="339.45" y="187.15" width="20.15" height="20.12" fill="#1f1245"/>
<rect x="379.15" y="187.15" width="20.15" height="20.12" fill="#120c28"/>
<rect x="399.01" y="187.15" width="20.15" height="20.12" fill="#7a2490"/>
<rect x="498.27" y="187.15" width="20.15" height="20.12" fill="#120c28"/>
<rect x="518.12" y="187.15" width="20.15" height="20.12" fill="#a4307f"/>
<rect x="617.39" y="187.15" width="20.15" height="20.12" fill="#36156c"/>
<rect x="637.24" y="187.15" width="20.15" height="20.12" fill="#120c28"/>
<rect x="676.95" y="187.15" width="20.15" height="20.12" fill="#120c28"/>
<rect x="756.36" y="187.15" width="20.15" height="20.12" fill="#7a2490"/>
<rect x="796.07" y="187.15" width="20.15" height="20.12" fill="#120c28"/>
<rect x="815.92" y="187.15" width="20.15" height="20.12" fill="#1f1245"/>
<rect x="855.63" y="187.15" width="20.15" height="20.12" fill="#36156c"/>
<rect x="935.04" y="187.15" width="20.15" height="20.12" fill="#120c28"/>
<rect x="954.90" y="187.15" width="20.15" height="20.12" fill="#1f1245"/>
<rect x="974.75" y="187.15" width="20.15" height="20.12" fill="#1f1245"/>
<rect x="994.60" y="187.15" width="20.15" height="20.12" fill="#561a88"/>
<rect x="1054.16" y="187.15" width="20.15" height="20.12" fill="#120c28"/>
<rect x="1074.02" y="187.15" width="20.15" height="20.12" fill="#1f1245"/>
<rect x="1113.72" y="187.15" width="20.15" height="20.12" fill="#120c28"/>
<rect x="1173.28" y="187.15" width="20.15" height="20.12" fill="#1f1245"/>
<rect x="1212.99" y="187.15" width="20.15" height="20.12" fill="#120c28"/>
<rect x="1232.84" y="187.15" width="20.15" height="20.12" fill="#1f1245"/>
<rect x="1252.70" y="187.15" width="20.15" height="20.12" fill="#7a2490"/>
<rect x="1312.26" y="187.15" width="20.15" height="20.12" fill="#7a2490"/>
<rect x="1351.96" y="187.15" width="20.15" height="20.12" fill="#120c28"/>
<rect x="1391.67" y="187.15" width="20.15" height="20.12" fill="#1f1245"/>
<rect x="1431.38" y="187.15" width="20.15" height="20.12" fill="#120c28"/>
<rect x="1490.93" y="187.15" width="20.15" height="20.12" fill="#120c28"/>
<rect x="1530.64" y="187.15" width="20.15" height="20.12" fill="#120c28"/>
<rect x="1550.49" y="187.15" width="20.15" height="20.12" fill="#561a88"/>
<rect x="1570.35" y="187.15" width="20.15" height="20.12" fill="#1f1245"/>
<rect x="1610.05" y="187.15" width="20.15" height="20.12" fill="#36156c"/>
<rect x="1629.91" y="187.15" width="20.15" height="20.12" fill="#120c28"/>
<rect x="1749.03" y="187.15" width="20.15" height="20.12" fill="#120c28"/>
<rect x="1808.59" y="187.15" width="20.15" height="20.12" fill="#7a2490"/>
<rect x="1828.44" y="187.15" width="20.15" height="20.12" fill="#120c28"/>
<rect x="1848.29" y="187.15" width="20.15" height="20.12" fill="#120c28"/>
<rect x="61.50" y="206.96" width="20.15" height="20.12" fill="#561a88"/>
<rect x="121.06" y="206.96" width="20.15" height="20.12" fill="#36156c"/>
<rect x="160.77" y="206.96" width="20.15" height="20.12" fill="#120c28"/>
<rect x="279.89" y="206.96" width="20.15" height="20.12" fill="#1f1245"/>
<rect x="299.74" y="206.96" width="20.15" height="20.12" fill="#120c28"/>
<rect x="319.59" y="206.96" width="20.15" height="20.12" fill="#120c28"/>
<rect x="379.15" y="206.96" width="20.15" height="20.12" fill="#36156c"/>
<rect x="399.01" y="206.96" width="20.15" height="20.12" fill="#1f1245"/>
<rect x="418.86" y="206.96" width="20.15" height="20.12" fill="#120c28"/>
<rect x="518.12" y="206.96" width="20.15" height="20.12" fill="#120c28"/>
<rect x="537.98" y="206.96" width="20.15" height="20.12" fill="#120c28"/>
<rect x="676.95" y="206.96" width="20.15" height="20.12" fill="#120c28"/>
<rect x="716.66" y="206.96" width="20.15" height="20.12" fill="#36156c"/>
<rect x="736.51" y="206.96" width="20.15" height="20.12" fill="#1f1245"/>
<rect x="815.92" y="206.96" width="20.15" height="20.12" fill="#7a2490"/>
<rect x="855.63" y="206.96" width="20.15" height="20.12" fill="#120c28"/>
<rect x="875.48" y="206.96" width="20.15" height="20.12" fill="#120c28"/>
<rect x="895.34" y="206.96" width="20.15" height="20.12" fill="#120c28"/>
<rect x="915.19" y="206.96" width="20.15" height="20.12" fill="#120c28"/>
<rect x="954.90" y="206.96" width="20.15" height="20.12" fill="#1f1245"/>
<rect x="974.75" y="206.96" width="20.15" height="20.12" fill="#120c28"/>
<rect x="1054.16" y="206.96" width="20.15" height="20.12" fill="#36156c"/>
<rect x="1093.87" y="206.96" width="20.15" height="20.12" fill="#561a88"/>
<rect x="1113.72" y="206.96" width="20.15" height="20.12" fill="#120c28"/>
<rect x="1153.43" y="206.96" width="20.15" height="20.12" fill="#120c28"/>
<rect x="1173.28" y="206.96" width="20.15" height="20.12" fill="#7a2490"/>
<rect x="1252.70" y="206.96" width="20.15" height="20.12" fill="#36156c"/>
<rect x="1292.40" y="206.96" width="20.15" height="20.12" fill="#120c28"/>
<rect x="1312.26" y="206.96" width="20.15" height="20.12" fill="#1f1245"/>
<rect x="1332.11" y="206.96" width="20.15" height="20.12" fill="#120c28"/>
<rect x="1351.96" y="206.96" width="20.15" height="20.12" fill="#1f1245"/>
<rect x="1391.67" y="206.96" width="20.15" height="20.12" fill="#1f1245"/>
<rect x="1490.93" y="206.96" width="20.15" height="20.12" fill="#36156c"/>
<rect x="1510.79" y="206.96" width="20.15" height="20.12" fill="#36156c"/>
<rect x="1530.64" y="206.96" width="20.15" height="20.12" fill="#36156c"/>
<rect x="1550.49" y="206.96" width="20.15" height="20.12" fill="#36156c"/>
<rect x="1570.35" y="206.96" width="20.15" height="20.12" fill="#120c28"/>
<rect x="1590.20" y="206.96" width="20.15" height="20.12" fill="#120c28"/>
<rect x="1629.91" y="206.96" width="20.15" height="20.12" fill="#120c28"/>
<rect x="1669.61" y="206.96" width="20.15" height="20.12" fill="#561a88"/>
<rect x="1768.88" y="206.96" width="20.15" height="20.12" fill="#1f1245"/>
<rect x="1808.59" y="206.96" width="20.15" height="20.12" fill="#fca46a"/>
<rect x="1868.15" y="206.96" width="20.15" height="20.12" fill="#120c28"/>
<rect x="61.50" y="226.78" width="20.15" height="20.12" fill="#120c28"/>
<rect x="81.35" y="226.78" width="20.15" height="20.12" fill="#561a88"/>
<rect x="101.21" y="226.78" width="20.15" height="20.12" fill="#1f1245"/>
<rect x="140.91" y="226.78" width="20.15" height="20.12" fill="#36156c"/>
<rect x="200.47" y="226.78" width="20.15" height="20.12" fill="#1f1245"/>
<rect x="240.18" y="226.78" width="20.15" height="20.12" fill="#120c28"/>
<rect x="299.74" y="226.78" width="20.15" height="20.12" fill="#561a88"/>
<rect x="339.45" y="226.78" width="20.15" height="20.12" fill="#120c28"/>
<rect x="379.15" y="226.78" width="20.15" height="20.12" fill="#1f1245"/>
<rect x="399.01" y="226.78" width="20.15" height="20.12" fill="#120c28"/>
<rect x="478.42" y="226.78" width="20.15" height="20.12" fill="#120c28"/>
<rect x="498.27" y="226.78" width="20.15" height="20.12" fill="#120c28"/>
<rect x="518.12" y="226.78" width="20.15" height="20.12" fill="#7a2490"/>
<rect x="557.83" y="226.78" width="20.15" height="20.12" fill="#120c28"/>
<rect x="617.39" y="226.78" width="20.15" height="20.12" fill="#1f1245"/>
<rect x="676.95" y="226.78" width="20.15" height="20.12" fill="#1f1245"/>
<rect x="696.80" y="226.78" width="20.15" height="20.12" fill="#120c28"/>
<rect x="756.36" y="226.78" width="20.15" height="20.12" fill="#7a2490"/>
<rect x="815.92" y="226.78" width="20.15" height="20.12" fill="#1f1245"/>
<rect x="855.63" y="226.78" width="20.15" height="20.12" fill="#120c28"/>
<rect x="915.19" y="226.78" width="20.15" height="20.12" fill="#1f1245"/>
<rect x="954.90" y="226.78" width="20.15" height="20.12" fill="#120c28"/>
<rect x="974.75" y="226.78" width="20.15" height="20.12" fill="#1f1245"/>
<rect x="994.60" y="226.78" width="20.15" height="20.12" fill="#7a2490"/>
<rect x="1054.16" y="226.78" width="20.15" height="20.12" fill="#120c28"/>
<rect x="1074.02" y="226.78" width="20.15" height="20.12" fill="#561a88"/>
<rect x="1113.72" y="226.78" width="20.15" height="20.12" fill="#120c28"/>
<rect x="1212.99" y="226.78" width="20.15" height="20.12" fill="#1f1245"/>
<rect x="1232.84" y="226.78" width="20.15" height="20.12" fill="#120c28"/>
<rect x="1252.70" y="226.78" width="20.15" height="20.12" fill="#561a88"/>
<rect x="1312.26" y="226.78" width="20.15" height="20.12" fill="#c8447a"/>
<rect x="1332.11" y="226.78" width="20.15" height="20.12" fill="#120c28"/>
<rect x="1351.96" y="226.78" width="20.15" height="20.12" fill="#561a88"/>
<rect x="1391.67" y="226.78" width="20.15" height="20.12" fill="#1f1245"/>
<rect x="1451.23" y="226.78" width="20.15" height="20.12" fill="#120c28"/>
<rect x="1490.93" y="226.78" width="20.15" height="20.12" fill="#1f1245"/>
<rect x="1530.64" y="226.78" width="20.15" height="20.12" fill="#1f1245"/>
<rect x="1550.49" y="226.78" width="20.15" height="20.12" fill="#1f1245"/>
<rect x="1570.35" y="226.78" width="20.15" height="20.12" fill="#120c28"/>
<rect x="1610.05" y="226.78" width="20.15" height="20.12" fill="#1f1245"/>
<rect x="1629.91" y="226.78" width="20.15" height="20.12" fill="#1f1245"/>
<rect x="1768.88" y="226.78" width="20.15" height="20.12" fill="#120c28"/>
<rect x="1808.59" y="226.78" width="20.15" height="20.12" fill="#561a88"/>
<rect x="1828.44" y="226.78" width="20.15" height="20.12" fill="#120c28"/>
<rect x="1848.29" y="226.78" width="20.15" height="20.12" fill="#120c28"/>
<text transform="translate(78.63,253.5) rotate(-90)" text-anchor="end" font-size="19.5">P−e12 PINH1</text>
<text transform="translate(98.48,253.5) rotate(-90)" text-anchor="end" font-size="19.5">P−e12 PEXN1</text>
<text transform="translate(118.33,253.5) rotate(-90)" text-anchor="end" font-size="19.5">P−e12 PINH2</text>
<text transform="translate(138.19,253.5) rotate(-90)" text-anchor="end" font-size="19.5">P−e12 PINH3</text>
<text transform="translate(158.04,253.5) rotate(-90)" text-anchor="end" font-size="19.5">P−e12 PINH4</text>
<text transform="translate(177.89,253.5) rotate(-90)" text-anchor="end" font-size="19.5">P−e12 PEXN2</text>
<text transform="translate(197.75,253.5) rotate(-90)" text-anchor="end" font-size="19.5">P−e12 PINH5</text>
<text transform="translate(217.60,253.5) rotate(-90)" text-anchor="end" font-size="19.5">P−e12 PEXN3</text>
<text transform="translate(237.45,253.5) rotate(-90)" text-anchor="end" font-size="19.5">P−e12 PEXN4</text>
<text transform="translate(257.31,253.5) rotate(-90)" text-anchor="end" font-size="19.5">P−e12 NEURP</text>
<text transform="translate(277.16,253.5) rotate(-90)" text-anchor="end" font-size="19.5">P−e12 PEXN5</text>
<text transform="translate(297.01,253.5) rotate(-90)" text-anchor="end" font-size="19.5">P−e12 SERN</text>
<text transform="translate(316.87,253.5) rotate(-90)" text-anchor="end" font-size="19.5">P−e12 PERI</text>
<text transform="translate(336.72,253.5) rotate(-90)" text-anchor="end" font-size="19.5">P−e12 PEXN6</text>
<text transform="translate(356.57,253.5) rotate(-90)" text-anchor="end" font-size="19.5">P−e12 ACHN</text>
<text transform="translate(376.43,253.5) rotate(-90)" text-anchor="end" font-size="19.5">P−e15 PINH6</text>
<text transform="translate(396.28,253.5) rotate(-90)" text-anchor="end" font-size="19.5">P−e15 PINH7</text>
<text transform="translate(416.13,253.5) rotate(-90)" text-anchor="end" font-size="19.5">P−e15 PEXN2</text>
<text transform="translate(435.99,253.5) rotate(-90)" text-anchor="end" font-size="19.5">P−e15 PINH8</text>
<text transform="translate(455.84,253.5) rotate(-90)" text-anchor="end" font-size="19.5">P−e15 PINH9</text>
<text transform="translate(475.69,253.5) rotate(-90)" text-anchor="end" font-size="19.5">P−e15 PEXN7</text>
<text transform="translate(495.55,253.5) rotate(-90)" text-anchor="end" font-size="19.5">P−e15 PINH5</text>
<text transform="translate(515.40,253.5) rotate(-90)" text-anchor="end" font-size="19.5">P−e15 PINH10</text>
<text transform="translate(535.25,253.5) rotate(-90)" text-anchor="end" font-size="19.5">P−e15 PEXN4</text>
<text transform="translate(555.10,253.5) rotate(-90)" text-anchor="end" font-size="19.5">P−e15 PEXN3</text>
<text transform="translate(574.96,253.5) rotate(-90)" text-anchor="end" font-size="19.5">P−e15 PEXN8</text>
<text transform="translate(594.81,253.5) rotate(-90)" text-anchor="end" font-size="19.5">P−e15 PEXN1</text>
<text transform="translate(614.66,253.5) rotate(-90)" text-anchor="end" font-size="19.5">P−e15 PINH11</text>
<text transform="translate(634.52,253.5) rotate(-90)" text-anchor="end" font-size="19.5">P−e15 SERN</text>
<text transform="translate(654.37,253.5) rotate(-90)" text-anchor="end" font-size="19.5">P−e15 PINH12</text>
<text transform="translate(674.22,253.5) rotate(-90)" text-anchor="end" font-size="19.5">P−e15 PERI</text>
<text transform="translate(694.08,253.5) rotate(-90)" text-anchor="end" font-size="19.5">P−e15 EPEN</text>
<text transform="translate(713.93,253.5) rotate(-90)" text-anchor="end" font-size="19.5">P−e15 ENDO</text>
<text transform="translate(733.78,253.5) rotate(-90)" text-anchor="end" font-size="19.5">P−p0 ASTR1</text>
<text transform="translate(753.64,253.5) rotate(-90)" text-anchor="end" font-size="19.5">P−p0 MNG</text>
<text transform="translate(773.49,253.5) rotate(-90)" text-anchor="end" font-size="19.5">P−p0 OPC</text>
<text transform="translate(793.34,253.5) rotate(-90)" text-anchor="end" font-size="19.5">P−p0 EPEN</text>
<text transform="translate(813.20,253.5) rotate(-90)" text-anchor="end" font-size="19.5">P−p0 UBCN</text>
<text transform="translate(833.05,253.5) rotate(-90)" text-anchor="end" font-size="19.5">P−p0 MFN</text>
<text transform="translate(852.90,253.5) rotate(-90)" text-anchor="end" font-size="19.5">P−p0 ASTR3</text>
<text transform="translate(872.76,253.5) rotate(-90)" text-anchor="end" font-size="19.5">P−p0 ENDO</text>
<text transform="translate(892.61,253.5) rotate(-90)" text-anchor="end" font-size="19.5">P−p0 PERI</text>
<text transform="translate(912.46,253.5) rotate(-90)" text-anchor="end" font-size="19.5">P−p0 GABAN</text>
<text transform="translate(932.32,253.5) rotate(-90)" text-anchor="end" font-size="19.5">P−p0 ASEP</text>
<text transform="translate(952.17,253.5) rotate(-90)" text-anchor="end" font-size="19.5">P−p0 MGL</text>
<text transform="translate(972.02,253.5) rotate(-90)" text-anchor="end" font-size="19.5">P−p0 GLIP</text>
<text transform="translate(991.88,253.5) rotate(-90)" text-anchor="end" font-size="19.5">P−p0 MAC</text>
<text transform="translate(1011.73,253.5) rotate(-90)" text-anchor="end" font-size="19.5">P−p0 VLM</text>
<text transform="translate(1031.58,253.5) rotate(-90)" text-anchor="end" font-size="19.5">P−p0 NFOL</text>
<text transform="translate(1051.44,253.5) rotate(-90)" text-anchor="end" font-size="19.5">P−p0 VSMC</text>
<text transform="translate(1071.29,253.5) rotate(-90)" text-anchor="end" font-size="19.5">P−p0 CPLX</text>
<text transform="translate(1091.14,253.5) rotate(-90)" text-anchor="end" font-size="19.5">P−p3 ASTR2</text>
<text transform="translate(1111.00,253.5) rotate(-90)" text-anchor="end" font-size="19.5">P−p3 OPC</text>
<text transform="translate(1130.85,253.5) rotate(-90)" text-anchor="end" font-size="19.5">P−p3 NFOL</text>
<text transform="translate(1150.70,253.5) rotate(-90)" text-anchor="end" font-size="19.5">P−p3 OPC−P</text>
<text transform="translate(1170.56,253.5) rotate(-90)" text-anchor="end" font-size="19.5">P−p3 ASTR2−2</text>
<text transform="translate(1190.41,253.5) rotate(-90)" text-anchor="end" font-size="19.5">P−p3 EPENP</text>
<text transform="translate(1210.26,253.5) rotate(-90)" text-anchor="end" font-size="19.5">P−p3 END</text>
<text transform="translate(1230.12,253.5) rotate(-90)" text-anchor="end" font-size="19.5">P−p3 NEUR5</text>
<text transform="translate(1249.97,253.5) rotate(-90)" text-anchor="end" font-size="19.5">P−p3 ASTR3</text>
<text transform="translate(1269.82,253.5) rotate(-90)" text-anchor="end" font-size="19.5">P−p3 PER</text>
<text transform="translate(1289.68,253.5) rotate(-90)" text-anchor="end" font-size="19.5">P−p3 UBCN</text>
<text transform="translate(1309.53,253.5) rotate(-90)" text-anchor="end" font-size="19.5">P−p3 MGL</text>
<text transform="translate(1329.38,253.5) rotate(-90)" text-anchor="end" font-size="19.5">P−p3 ASTP−P</text>
<text transform="translate(1349.24,253.5) rotate(-90)" text-anchor="end" font-size="19.5">P−p3 MNG</text>
<text transform="translate(1369.09,253.5) rotate(-90)" text-anchor="end" font-size="19.5">P−p3 EPEN1</text>
<text transform="translate(1388.94,253.5) rotate(-90)" text-anchor="end" font-size="19.5">P−p3 EPEN2</text>
<text transform="translate(1408.80,253.5) rotate(-90)" text-anchor="end" font-size="19.5">P−p3 MAC</text>
<text transform="translate(1428.65,253.5) rotate(-90)" text-anchor="end" font-size="19.5">P−p3 VLM</text>
<text transform="translate(1448.50,253.5) rotate(-90)" text-anchor="end" font-size="19.5">P−p6 ASTR2</text>
<text transform="translate(1468.35,253.5) rotate(-90)" text-anchor="end" font-size="19.5">P−p6 OPAS−P</text>
<text transform="translate(1488.21,253.5) rotate(-90)" text-anchor="end" font-size="19.5">P−p6 MNG</text>
<text transform="translate(1508.06,253.5) rotate(-90)" text-anchor="end" font-size="19.5">P−p6 NFOL1</text>
<text transform="translate(1527.91,253.5) rotate(-90)" text-anchor="end" font-size="19.5">P−p6 OPC</text>
<text transform="translate(1547.77,253.5) rotate(-90)" text-anchor="end" font-size="19.5">P−p6 ASTR3</text>
<text transform="translate(1567.62,253.5) rotate(-90)" text-anchor="end" font-size="19.5">P−p6 ENDO1</text>
<text transform="translate(1587.47,253.5) rotate(-90)" text-anchor="end" font-size="19.5">P−p6 NFOL2</text>
<text transform="translate(1607.33,253.5) rotate(-90)" text-anchor="end" font-size="19.5">P−p6 VSMC</text>
<text transform="translate(1627.18,253.5) rotate(-90)" text-anchor="end" font-size="19.5">P−p6 MGL</text>
<text transform="translate(1647.03,253.5) rotate(-90)" text-anchor="end" font-size="19.5">P−p6 NEUR6</text>
<text transform="translate(1666.89,253.5) rotate(-90)" text-anchor="end" font-size="19.5">P−p6 MOL</text>
<text transform="translate(1686.74,253.5) rotate(-90)" text-anchor="end" font-size="19.5">P−p6 VLM</text>
<text transform="translate(1706.59,253.5) rotate(-90)" text-anchor="end" font-size="19.5">P−p6 PERI</text>
<text transform="translate(1726.45,253.5) rotate(-90)" text-anchor="end" font-size="19.5">P−p6 EPEN1</text>
<text transform="translate(1746.30,253.5) rotate(-90)" text-anchor="end" font-size="19.5">P−p6 MAC</text>
<text transform="translate(1766.15,253.5) rotate(-90)" text-anchor="end" font-size="19.5">P−p6 EPEN2</text>
<text transform="translate(1786.01,253.5) rotate(-90)" text-anchor="end" font-size="19.5">P−p6 EPEN3</text>
<text transform="translate(1805.86,253.5) rotate(-90)" text-anchor="end" font-size="19.5">P−p6 ENDO2</text>
<text transform="translate(1825.71,253.5) rotate(-90)" text-anchor="end" font-size="19.5">P−e12 RGLRP−P</text>
<text transform="translate(1845.57,253.5) rotate(-90)" text-anchor="end" font-size="19.5">P−e12 GLIP</text>
<text transform="translate(1865.42,253.5) rotate(-90)" text-anchor="end" font-size="19.5">P−e12 NEURP2</text>
<text transform="translate(1885.27,253.5) rotate(-90)" text-anchor="end" font-size="19.5">P−e12 NEURP−P</text>
<defs><linearGradient id="magma" x1="0" y1="1" x2="0" y2="0"><stop offset="0" stop-color="#000004"/><stop offset="0.15" stop-color="#140e36"/><stop offset="0.3" stop-color="#3b0f70"/><stop offset="0.45" stop-color="#641a80"/><stop offset="0.6" stop-color="#b73779"/><stop offset="0.72" stop-color="#e75263"/><stop offset="0.85" stop-color="#fc8961"/><stop offset="1" stop-color="#fcf0b0"/></linearGradient></defs>
<rect x="1911.4" y="90" width="13.6" height="145" fill="url(#magma)"/>
<text x="1907" y="51.5" font-size="18.4">CIBERSORT</text>
<text x="1907" y="73" font-size="18.4">score</text>
<text x="1932" y="102.6" font-size="15.5">0.15</text>
<text x="1932" y="148.6" font-size="15.5">0.1</text>
<text x="1932" y="193.6" font-size="15.5">0.05</text>
<text x="1932" y="235.6" font-size="15.5">0</text>
<text x="5.5" y="466" font-size="47" font-weight="bold">b</text>
<text transform="translate(29.2,804.4) rotate(-90)" font-size="30.2" text-anchor="middle">Leading edge gene</text>
<path d="M164 488.4V1159H361" fill="none" stroke="#333" stroke-width="1.6"/>
<path d="M172.9 1159v7.5" stroke="#333" stroke-width="1.6"/>
<text x="170.4" y="1187.8" font-size="18.3" text-anchor="middle">0</text>
<path d="M217.4 1159v7.5" stroke="#333" stroke-width="1.6"/>
<text x="209.8" y="1187.8" font-size="18.3" text-anchor="middle">1000</text>
<path d="M261.9 1159v7.5" stroke="#333" stroke-width="1.6"/>
<text x="254.3" y="1187.8" font-size="18.3" text-anchor="middle">2000</text>
<path d="M307.1 1159v7.5" stroke="#333" stroke-width="1.6"/>
<text x="300" y="1187.8" font-size="18.3" text-anchor="middle">3000</text>
<path d="M352.2 1159v7.5" stroke="#333" stroke-width="1.6"/>
<text x="344.5" y="1187.8" font-size="18.3" text-anchor="middle">4000</text>
<text x="277" y="1228.5" font-size="26.9" text-anchor="middle">Rank by expression</text>
<text x="207" y="466" font-size="30.5" text-anchor="middle">ATRT</text>
<text x="154.5" y="508.7" font-size="19" font-style="italic" text-anchor="end">VIM</text>
<path d="M173.8 503.4H173.5M175.0 503.4H174.6" stroke="#3c3a38" stroke-width="1.4"/>
<rect x="173.5" y="492.9" width="1.5" height="21" fill="#f9ad4a" stroke="#3c3a38" stroke-width="1.3"/>
<path d="M174.2 492.9v21" stroke="#3c3a38" stroke-width="1.5"/>
<text x="154.5" y="535.3" font-size="19" font-style="italic" text-anchor="end">RPLP0</text>
<path d="M174.5 530.0H175.0M178.0 530.0H180.0" stroke="#3c3a38" stroke-width="1.4"/>
<rect x="175.0" y="519.5" width="3.0" height="21" fill="#f9ad4a" stroke="#3c3a38" stroke-width="1.3"/>
<path d="M176.5 519.5v21" stroke="#3c3a38" stroke-width="1.5"/>
<text x="154.5" y="562.0" font-size="19" font-style="italic" text-anchor="end">ENO1</text>
<path d="M173.7 556.7H175.0M182.6 556.7H184.3" stroke="#3c3a38" stroke-width="1.4"/>
<rect x="175.0" y="546.2" width="7.6" height="21" fill="#f9ad4a" stroke="#3c3a38" stroke-width="1.3"/>
<path d="M176.7 546.2v21" stroke="#3c3a38" stroke-width="1.5"/>
<text x="154.5" y="588.6" font-size="19" font-style="italic" text-anchor="end">PKM</text>
<path d="M174.5 583.3H175.4M184.8 583.3H187.0" stroke="#3c3a38" stroke-width="1.4"/>
<rect x="175.4" y="572.8" width="9.4" height="21" fill="#f9ad4a" stroke="#3c3a38" stroke-width="1.3"/>
<path d="M179.0 572.8v21" stroke="#3c3a38" stroke-width="1.5"/>
<text x="154.5" y="615.2" font-size="19" font-style="italic" text-anchor="end">NACA</text>
<path d="M178.0 609.9H180.5M187.4 609.9H193.7" stroke="#3c3a38" stroke-width="1.4"/>
<rect x="180.5" y="599.4" width="6.9" height="21" fill="#f9ad4a" stroke="#3c3a38" stroke-width="1.3"/>
<path d="M183.0 599.4v21" stroke="#3c3a38" stroke-width="1.5"/>
<text x="154.5" y="641.8" font-size="19" font-style="italic" text-anchor="end">NAP1L1</text>
<path d="M178.7 636.5H180.5M188.7 636.5H196.3" stroke="#3c3a38" stroke-width="1.4"/>
<rect x="180.5" y="626.0" width="8.2" height="21" fill="#f9ad4a" stroke="#3c3a38" stroke-width="1.3"/>
<path d="M183.5 626.0v21" stroke="#3c3a38" stroke-width="1.5"/>
<text x="154.5" y="668.5" font-size="19" font-style="italic" text-anchor="end">PABPC1</text>
<path d="M175.0 663.2H181.3M190.0 663.2H202.0" stroke="#3c3a38" stroke-width="1.4"/>
<rect x="181.3" y="652.7" width="8.7" height="21" fill="#f9ad4a" stroke="#3c3a38" stroke-width="1.3"/>
<path d="M186.9 652.7v21" stroke="#3c3a38" stroke-width="1.5"/>
<text x="154.5" y="695.1" font-size="19" font-style="italic" text-anchor="end">SET</text>
<path d="M181.3 689.8H184.8M192.5 689.8H198.8" stroke="#3c3a38" stroke-width="1.4"/>
<rect x="184.8" y="679.3" width="7.7" height="21" fill="#f9ad4a" stroke="#3c3a38" stroke-width="1.3"/>
<path d="M188.0 679.3v21" stroke="#3c3a38" stroke-width="1.5"/>
<text x="154.5" y="721.7" font-size="19" font-style="italic" text-anchor="end">NCL</text>
<path d="M180.0 716.4H186.0M196.3 716.4H206.0" stroke="#3c3a38" stroke-width="1.4"/>
<rect x="186.0" y="705.9" width="10.3" height="21" fill="#f9ad4a" stroke="#3c3a38" stroke-width="1.3"/>
<path d="M189.5 705.9v21" stroke="#3c3a38" stroke-width="1.5"/>
<text x="154.5" y="748.4" font-size="19" font-style="italic" text-anchor="end">HSPD1</text>
<path d="M176.2 743.1H184.8M194.5 743.1H207.7" stroke="#3c3a38" stroke-width="1.4"/>
<rect x="184.8" y="732.6" width="9.7" height="21" fill="#f9ad4a" stroke="#3c3a38" stroke-width="1.3"/>
<path d="M188.0 732.6v21" stroke="#3c3a38" stroke-width="1.5"/>
<text x="154.5" y="775.0" font-size="19" font-style="italic" text-anchor="end">TPI1</text>
<path d="M178.7 769.7H184.3M200.4 769.7H223.2" stroke="#3c3a38" stroke-width="1.4"/>
<rect x="184.3" y="759.2" width="16.1" height="21" fill="#f9ad4a" stroke="#3c3a38" stroke-width="1.3"/>
<path d="M190.7 759.2v21" stroke="#3c3a38" stroke-width="1.5"/>
<text x="154.5" y="801.6" font-size="19" font-style="italic" text-anchor="end">YBX1</text>
<path d="M180.5 796.3H183.0M202.6 796.3H206.0" stroke="#3c3a38" stroke-width="1.4"/>
<rect x="183.0" y="785.8" width="19.6" height="21" fill="#f9ad4a" stroke="#3c3a38" stroke-width="1.3"/>
<path d="M190.7 785.8v21" stroke="#3c3a38" stroke-width="1.5"/>
<text x="154.5" y="828.3" font-size="19" font-style="italic" text-anchor="end">SERPINH1</text>
<path d="M185.0 823.0H185.0M217.4 823.0H258.0" stroke="#3c3a38" stroke-width="1.4"/>
<rect x="185.0" y="812.5" width="32.4" height="21" fill="#f9ad4a" stroke="#3c3a38" stroke-width="1.3"/>
<path d="M194.5 812.5v21" stroke="#3c3a38" stroke-width="1.5"/>
<text x="154.5" y="854.9" font-size="19" font-style="italic" text-anchor="end">LDHA</text>
<path d="M175.0 849.6H188.0M206.0 849.6H227.0" stroke="#3c3a38" stroke-width="1.4"/>
<rect x="188.0" y="839.1" width="18.0" height="21" fill="#f9ad4a" stroke="#3c3a38" stroke-width="1.3"/>
<path d="M200.0 839.1v21" stroke="#3c3a38" stroke-width="1.5"/>
<text x="154.5" y="881.5" font-size="19" font-style="italic" text-anchor="end">CD63</text>
<path d="M190.0 876.2H198.8M217.4 876.2H239.0" stroke="#3c3a38" stroke-width="1.4"/>
<rect x="198.8" y="865.7" width="18.6" height="21" fill="#f9ad4a" stroke="#3c3a38" stroke-width="1.3"/>
<path d="M205.4 865.7v21" stroke="#3c3a38" stroke-width="1.5"/>
<text x="154.5" y="908.1" font-size="19" font-style="italic" text-anchor="end">CNBP</text>
<path d="M196.5 902.8H205.0M223.7 902.8H232.0" stroke="#3c3a38" stroke-width="1.4"/>
<rect x="205.0" y="892.3" width="18.7" height="21" fill="#f9ad4a" stroke="#3c3a38" stroke-width="1.3"/>
<path d="M209.0 892.3v21" stroke="#3c3a38" stroke-width="1.5"/>
<text x="154.5" y="934.8" font-size="19" font-style="italic" text-anchor="end">EEF1D</text>
<path d="M193.7 929.5H205.4M222.7 929.5H238.2" stroke="#3c3a38" stroke-width="1.4"/>
<rect x="205.4" y="919.0" width="17.3" height="21" fill="#f9ad4a" stroke="#3c3a38" stroke-width="1.3"/>
<path d="M213.0 919.0v21" stroke="#3c3a38" stroke-width="1.5"/>
<text x="154.5" y="961.4" font-size="19" font-style="italic" text-anchor="end">PRDX1</text>
<path d="M182.5 956.1H204.7M251.7 956.1H275.9" stroke="#3c3a38" stroke-width="1.4"/>
<rect x="204.7" y="945.6" width="47.0" height="21" fill="#f9ad4a" stroke="#3c3a38" stroke-width="1.3"/>
<path d="M214.8 945.6v21" stroke="#3c3a38" stroke-width="1.5"/>
<text x="154.5" y="988.0" font-size="19" font-style="italic" text-anchor="end">PFN1</text>
<path d="M188.2 982.7H209.2M245.9 982.7H267.7" stroke="#3c3a38" stroke-width="1.4"/>
<rect x="209.2" y="972.2" width="36.7" height="21" fill="#f9ad4a" stroke="#3c3a38" stroke-width="1.3"/>
<path d="M219.9 972.2v21" stroke="#3c3a38" stroke-width="1.5"/>
<text x="154.5" y="1014.7" font-size="19" font-style="italic" text-anchor="end">OAZ1</text>
<path d="M196.3 1009.4H215.4M262.4 1009.4H301.3" stroke="#3c3a38" stroke-width="1.4"/>
<rect x="215.4" y="998.9" width="47.0" height="21" fill="#f9ad4a" stroke="#3c3a38" stroke-width="1.3"/>
<path d="M224.5 998.9v21" stroke="#3c3a38" stroke-width="1.5"/>
<text x="154.5" y="1041.3" font-size="19" font-style="italic" text-anchor="end">SUB1</text>
<path d="M198.8 1036.0H217.4M269.5 1036.0H312.2" stroke="#3c3a38" stroke-width="1.4"/>
<rect x="217.4" y="1025.5" width="52.1" height="21" fill="#f9ad4a" stroke="#3c3a38" stroke-width="1.3"/>
<path d="M228.3 1025.5v21" stroke="#3c3a38" stroke-width="1.5"/>
<text x="154.5" y="1067.9" font-size="19" font-style="italic" text-anchor="end">MRFAP1</text>
<path d="M198.3 1062.6H212.3M242.8 1062.6H258.8" stroke="#3c3a38" stroke-width="1.4"/>
<rect x="212.3" y="1052.1" width="30.5" height="21" fill="#f9ad4a" stroke="#3c3a38" stroke-width="1.3"/>
<path d="M229.6 1052.1v21" stroke="#3c3a38" stroke-width="1.5"/>
<text x="154.5" y="1094.6" font-size="19" font-style="italic" text-anchor="end">EIF5A</text>
<path d="M183.0 1089.3H221.7M261.4 1089.3H317.0" stroke="#3c3a38" stroke-width="1.4"/>
<rect x="221.7" y="1078.8" width="39.7" height="21" fill="#f9ad4a" stroke="#3c3a38" stroke-width="1.3"/>
<path d="M232.1 1078.8v21" stroke="#3c3a38" stroke-width="1.5"/>
<text x="154.5" y="1121.2" font-size="19" font-style="italic" text-anchor="end">GLO1</text>
<path d="M188.2 1115.9H205.4M255.0 1115.9H277.6" stroke="#3c3a38" stroke-width="1.4"/>
<rect x="205.4" y="1105.4" width="49.6" height="21" fill="#f9ad4a" stroke="#3c3a38" stroke-width="1.3"/>
<path d="M232.6 1105.4v21" stroke="#3c3a38" stroke-width="1.5"/>
<text x="154.5" y="1147.8" font-size="19" font-style="italic" text-anchor="end">RCN1</text>
<path d="M188.9 1142.5H214.8M237.0 1142.5H253.7" stroke="#3c3a38" stroke-width="1.4"/>
<rect x="214.8" y="1132.0" width="22.2" height="21" fill="#f9ad4a" stroke="#3c3a38" stroke-width="1.3"/>
<path d="M232.6 1132.0v21" stroke="#3c3a38" stroke-width="1.5"/>
<path d="M472.3 488.4V1159H681.4" fill="none" stroke="#333" stroke-width="1.6"/>
<path d="M481.7 1159v7.5" stroke="#333" stroke-width="1.6"/>
<text x="479.9" y="1187.8" font-size="18.3" text-anchor="middle">0</text>
<path d="M528.9 1159v7.5" stroke="#333" stroke-width="1.6"/>
<text x="521.5" y="1187.8" font-size="18.3" text-anchor="middle">1000</text>
<path d="M576.6 1159v7.5" stroke="#333" stroke-width="1.6"/>
<text x="568.6" y="1187.8" font-size="18.3" text-anchor="middle">2000</text>
<path d="M623.8 1159v7.5" stroke="#333" stroke-width="1.6"/>
<text x="620" y="1187.8" font-size="18.3" text-anchor="middle">3000</text>
<path d="M671.3 1159v7.5" stroke="#333" stroke-width="1.6"/>
<text x="667.7" y="1187.8" font-size="18.3" text-anchor="middle">4000</text>
<text x="591" y="1228.5" font-size="26.9" text-anchor="middle">Rank by expression</text>
<text x="522" y="466" font-size="30.5" text-anchor="middle">ETMR</text>
<text x="462.8" y="508.7" font-size="19" font-style="italic" text-anchor="end">VIM</text>
<path d="M482.9 503.4H482.8M483.8 503.4H483.8" stroke="#3c3a38" stroke-width="1.4"/>
<rect x="482.8" y="492.9" width="1.0" height="21" fill="#f9ad4a" stroke="#3c3a38" stroke-width="1.3"/>
<path d="M483.3 492.9v21" stroke="#3c3a38" stroke-width="1.5"/>
<text x="462.8" y="535.3" font-size="19" font-style="italic" text-anchor="end">RPLP0</text>
<path d="M484.4 530.0H484.4M485.8 530.0H485.8" stroke="#3c3a38" stroke-width="1.4"/>
<rect x="484.4" y="519.5" width="1.4" height="21" fill="#f9ad4a" stroke="#3c3a38" stroke-width="1.3"/>
<path d="M485.0 519.5v21" stroke="#3c3a38" stroke-width="1.5"/>
<text x="462.8" y="562.0" font-size="19" font-style="italic" text-anchor="end">NAP1L1</text>
<path d="M483.0 556.7H484.4M487.2 556.7H490.0" stroke="#3c3a38" stroke-width="1.4"/>
<rect x="484.4" y="546.2" width="2.8" height="21" fill="#f9ad4a" stroke="#3c3a38" stroke-width="1.3"/>
<path d="M485.5 546.2v21" stroke="#3c3a38" stroke-width="1.5"/>
<text x="462.8" y="588.6" font-size="19" font-style="italic" text-anchor="end">HSPD1</text>
<path d="M483.3 583.3H485.0M492.5 583.3H502.4" stroke="#3c3a38" stroke-width="1.4"/>
<rect x="485.0" y="572.8" width="7.5" height="21" fill="#f9ad4a" stroke="#3c3a38" stroke-width="1.3"/>
<path d="M486.5 572.8v21" stroke="#3c3a38" stroke-width="1.5"/>
<text x="462.8" y="615.2" font-size="19" font-style="italic" text-anchor="end">SET</text>
<path d="M483.5 609.9H486.0M489.0 609.9H491.8" stroke="#3c3a38" stroke-width="1.4"/>
<rect x="486.0" y="599.4" width="3.0" height="21" fill="#f9ad4a" stroke="#3c3a38" stroke-width="1.3"/>
<path d="M487.5 599.4v21" stroke="#3c3a38" stroke-width="1.5"/>
<text x="462.8" y="641.8" font-size="19" font-style="italic" text-anchor="end">YBX1</text>
<path d="M485.5 636.5H488.0M491.4 636.5H494.6" stroke="#3c3a38" stroke-width="1.4"/>
<rect x="488.0" y="626.0" width="3.4" height="21" fill="#f9ad4a" stroke="#3c3a38" stroke-width="1.3"/>
<path d="M489.5 626.0v21" stroke="#3c3a38" stroke-width="1.5"/>
<text x="462.8" y="668.5" font-size="19" font-style="italic" text-anchor="end">NCL</text>
<path d="M484.4 663.2H485.9M491.4 663.2H495.6" stroke="#3c3a38" stroke-width="1.4"/>
<rect x="485.9" y="652.7" width="5.5" height="21" fill="#f9ad4a" stroke="#3c3a38" stroke-width="1.3"/>
<path d="M488.0 652.7v21" stroke="#3c3a38" stroke-width="1.5"/>
<text x="462.8" y="695.1" font-size="19" font-style="italic" text-anchor="end">PABPC1</text>
<path d="M486.5 689.8H488.2M495.6 689.8H504.5" stroke="#3c3a38" stroke-width="1.4"/>
<rect x="488.2" y="679.3" width="7.4" height="21" fill="#f9ad4a" stroke="#3c3a38" stroke-width="1.3"/>
<path d="M490.8 679.3v21" stroke="#3c3a38" stroke-width="1.5"/>
<text x="462.8" y="721.7" font-size="19" font-style="italic" text-anchor="end">ENO1</text>
<path d="M485.5 716.4H486.5M496.7 716.4H506.0" stroke="#3c3a38" stroke-width="1.4"/>
<rect x="486.5" y="705.9" width="10.2" height="21" fill="#f9ad4a" stroke="#3c3a38" stroke-width="1.3"/>
<path d="M493.3 705.9v21" stroke="#3c3a38" stroke-width="1.5"/>
<text x="462.8" y="748.4" font-size="19" font-style="italic" text-anchor="end">NACA</text>
<path d="M488.0 743.1H490.0M497.8 743.1H507.3" stroke="#3c3a38" stroke-width="1.4"/>
<rect x="490.0" y="732.6" width="7.8" height="21" fill="#f9ad4a" stroke="#3c3a38" stroke-width="1.3"/>
<path d="M495.0 732.6v21" stroke="#3c3a38" stroke-width="1.5"/>
<text x="462.8" y="775.0" font-size="19" font-style="italic" text-anchor="end">PKM</text>
<path d="M486.0 769.7H492.5M505.6 769.7H520.0" stroke="#3c3a38" stroke-width="1.4"/>
<rect x="492.5" y="759.2" width="13.1" height="21" fill="#f9ad4a" stroke="#3c3a38" stroke-width="1.3"/>
<path d="M498.2 759.2v21" stroke="#3c3a38" stroke-width="1.5"/>
<text x="462.8" y="801.6" font-size="19" font-style="italic" text-anchor="end">CCND2</text>
<path d="M483.8 796.3H491.4M519.0 796.3H548.6" stroke="#3c3a38" stroke-width="1.4"/>
<rect x="491.4" y="785.8" width="27.6" height="21" fill="#f9ad4a" stroke="#3c3a38" stroke-width="1.3"/>
<path d="M506.2 785.8v21" stroke="#3c3a38" stroke-width="1.5"/>
<text x="462.8" y="828.3" font-size="19" font-style="italic" text-anchor="end">DEK</text>
<path d="M488.2 823.0H499.9M521.9 823.0H545.8" stroke="#3c3a38" stroke-width="1.4"/>
<rect x="499.9" y="812.5" width="22.0" height="21" fill="#f9ad4a" stroke="#3c3a38" stroke-width="1.3"/>
<path d="M509.2 812.5v21" stroke="#3c3a38" stroke-width="1.5"/>
<text x="462.8" y="854.9" font-size="19" font-style="italic" text-anchor="end">SFRP1</text>
<path d="M490.3 849.6H505.6M570.2 849.6H646.5" stroke="#3c3a38" stroke-width="1.4"/>
<rect x="505.6" y="839.1" width="64.6" height="21" fill="#f9ad4a" stroke="#3c3a38" stroke-width="1.3"/>
<path d="M509.2 839.1v21" stroke="#3c3a38" stroke-width="1.5"/>
<text x="462.8" y="881.5" font-size="19" font-style="italic" text-anchor="end">CNBP</text>
<path d="M496.7 876.2H505.6M528.5 876.2H556.0" stroke="#3c3a38" stroke-width="1.4"/>
<rect x="505.6" y="865.7" width="22.9" height="21" fill="#f9ad4a" stroke="#3c3a38" stroke-width="1.3"/>
<path d="M512.4 865.7v21" stroke="#3c3a38" stroke-width="1.5"/>
<text x="462.8" y="908.1" font-size="19" font-style="italic" text-anchor="end">HELLS</text>
<path d="M491.8 902.8H499.7M534.8 902.8H578.7" stroke="#3c3a38" stroke-width="1.4"/>
<rect x="499.7" y="892.3" width="35.1" height="21" fill="#f9ad4a" stroke="#3c3a38" stroke-width="1.3"/>
<path d="M514.7 892.3v21" stroke="#3c3a38" stroke-width="1.5"/>
<text x="462.8" y="934.8" font-size="19" font-style="italic" text-anchor="end">H2AFZ</text>
<path d="M504.5 929.5H517.9M551.6 929.5H592.9" stroke="#3c3a38" stroke-width="1.4"/>
<rect x="517.9" y="919.0" width="33.7" height="21" fill="#f9ad4a" stroke="#3c3a38" stroke-width="1.3"/>
<path d="M531.0 919.0v21" stroke="#3c3a38" stroke-width="1.5"/>
<text x="462.8" y="961.4" font-size="19" font-style="italic" text-anchor="end">EEF1D</text>
<path d="M517.7 956.1H524.2M577.2 956.1H637.4" stroke="#3c3a38" stroke-width="1.4"/>
<rect x="524.2" y="945.6" width="53.0" height="21" fill="#f9ad4a" stroke="#3c3a38" stroke-width="1.3"/>
<path d="M532.0 945.6v21" stroke="#3c3a38" stroke-width="1.5"/>
<text x="462.8" y="988.0" font-size="19" font-style="italic" text-anchor="end">H2AFV</text>
<path d="M520.4 982.7H528.3M538.4 982.7H546.9" stroke="#3c3a38" stroke-width="1.4"/>
<rect x="528.3" y="972.2" width="10.1" height="21" fill="#f9ad4a" stroke="#3c3a38" stroke-width="1.3"/>
<path d="M534.2 972.2v21" stroke="#3c3a38" stroke-width="1.5"/>
<text x="462.8" y="1014.7" font-size="19" font-style="italic" text-anchor="end">TPI1</text>
<path d="M500.9 1009.4H515.1M556.4 1009.4H573.4" stroke="#3c3a38" stroke-width="1.4"/>
<rect x="515.1" y="998.9" width="41.3" height="21" fill="#f9ad4a" stroke="#3c3a38" stroke-width="1.3"/>
<path d="M535.3 998.9v21" stroke="#3c3a38" stroke-width="1.5"/>
<text x="462.8" y="1041.3" font-size="19" font-style="italic" text-anchor="end">ZFP36L1</text>
<path d="M495.0 1036.0H520.4M580.2 1036.0H620.0" stroke="#3c3a38" stroke-width="1.4"/>
<rect x="520.4" y="1025.5" width="59.8" height="21" fill="#f9ad4a" stroke="#3c3a38" stroke-width="1.3"/>
<path d="M535.3 1025.5v21" stroke="#3c3a38" stroke-width="1.5"/>
<text x="462.8" y="1067.9" font-size="19" font-style="italic" text-anchor="end">MCM4</text>
<path d="M502.0 1062.6H515.5M549.7 1062.6H582.9" stroke="#3c3a38" stroke-width="1.4"/>
<rect x="515.5" y="1052.1" width="34.2" height="21" fill="#f9ad4a" stroke="#3c3a38" stroke-width="1.3"/>
<path d="M538.4 1052.1v21" stroke="#3c3a38" stroke-width="1.5"/>
<text x="462.8" y="1094.6" font-size="19" font-style="italic" text-anchor="end">RCN1</text>
<path d="M498.6 1089.3H514.5M576.1 1089.3H620.0" stroke="#3c3a38" stroke-width="1.4"/>
<rect x="514.5" y="1078.8" width="61.6" height="21" fill="#f9ad4a" stroke="#3c3a38" stroke-width="1.3"/>
<path d="M538.9 1078.8v21" stroke="#3c3a38" stroke-width="1.5"/>
<text x="462.8" y="1121.2" font-size="19" font-style="italic" text-anchor="end">TKT</text>
<path d="M511.5 1115.9H521.9M564.5 1115.9H623.2" stroke="#3c3a38" stroke-width="1.4"/>
<rect x="521.9" y="1105.4" width="42.6" height="21" fill="#f9ad4a" stroke="#3c3a38" stroke-width="1.3"/>
<path d="M539.0 1105.4v21" stroke="#3c3a38" stroke-width="1.5"/>
<text x="462.8" y="1147.8" font-size="19" font-style="italic" text-anchor="end">MCM3</text>
<path d="M512.6 1142.5H529.3M601.6 1142.5H659.2" stroke="#3c3a38" stroke-width="1.4"/>
<rect x="529.3" y="1132.0" width="72.3" height="21" fill="#f9ad4a" stroke="#3c3a38" stroke-width="1.3"/>
<path d="M540.1 1132.0v21" stroke="#3c3a38" stroke-width="1.5"/>
<path d="M811.7 488.4V1159H1025.2" fill="none" stroke="#333" stroke-width="1.6"/>
<path d="M821.4 1159v7.5" stroke="#333" stroke-width="1.6"/>
<text x="819.7" y="1187.8" font-size="18.3" text-anchor="middle">0</text>
<path d="M869.5 1159v7.5" stroke="#333" stroke-width="1.6"/>
<text x="862.6" y="1187.8" font-size="18.3" text-anchor="middle">1000</text>
<path d="M918.2 1159v7.5" stroke="#333" stroke-width="1.6"/>
<text x="910.3" y="1187.8" font-size="18.3" text-anchor="middle">2000</text>
<path d="M966.3 1159v7.5" stroke="#333" stroke-width="1.6"/>
<text x="962.7" y="1187.8" font-size="18.3" text-anchor="middle">3000</text>
<path d="M1014.6 1159v7.5" stroke="#333" stroke-width="1.6"/>
<text x="1011" y="1187.8" font-size="18.3" text-anchor="middle">4000</text>
<text x="932" y="1228.5" font-size="26.9" text-anchor="middle">Rank by expression</text>
<text x="891" y="466" font-size="30.5" text-anchor="middle">WNT MB</text>
<text x="802.2" y="508.7" font-size="19" font-style="italic" text-anchor="end">VIM</text>
<path d="M822.3 503.4H822.1M822.9 503.4H822.9" stroke="#3c3a38" stroke-width="1.4"/>
<rect x="822.1" y="492.9" width="0.8" height="21" fill="#f9ad4a" stroke="#3c3a38" stroke-width="1.3"/>
<path d="M822.5 492.9v21" stroke="#3c3a38" stroke-width="1.5"/>
<text x="802.2" y="535.3" font-size="19" font-style="italic" text-anchor="end">RPLP0</text>
<path d="M822.5 530.0H822.4M823.4 530.0H823.4" stroke="#3c3a38" stroke-width="1.4"/>
<rect x="822.4" y="519.5" width="1.0" height="21" fill="#f9ad4a" stroke="#3c3a38" stroke-width="1.3"/>
<path d="M822.9 519.5v21" stroke="#3c3a38" stroke-width="1.5"/>
<text x="802.2" y="562.0" font-size="19" font-style="italic" text-anchor="end">PABPC1</text>
<path d="M822.9 556.7H822.9M825.0 556.7H825.0" stroke="#3c3a38" stroke-width="1.4"/>
<rect x="822.9" y="546.2" width="2.1" height="21" fill="#f9ad4a" stroke="#3c3a38" stroke-width="1.3"/>
<path d="M824.0 546.2v21" stroke="#3c3a38" stroke-width="1.5"/>
<text x="802.2" y="588.6" font-size="19" font-style="italic" text-anchor="end">SLC1A3</text>
<path d="M824.4 583.3H826.0M837.7 583.3H845.1" stroke="#3c3a38" stroke-width="1.4"/>
<rect x="826.0" y="572.8" width="11.7" height="21" fill="#f9ad4a" stroke="#3c3a38" stroke-width="1.3"/>
<path d="M827.0 572.8v21" stroke="#3c3a38" stroke-width="1.5"/>
<text x="802.2" y="615.2" font-size="19" font-style="italic" text-anchor="end">NACA</text>
<path d="M826.0 609.9H826.7M828.4 609.9H829.0" stroke="#3c3a38" stroke-width="1.4"/>
<rect x="826.7" y="599.4" width="1.7" height="21" fill="#f9ad4a" stroke="#3c3a38" stroke-width="1.3"/>
<path d="M827.5 599.4v21" stroke="#3c3a38" stroke-width="1.5"/>
<text x="802.2" y="641.8" font-size="19" font-style="italic" text-anchor="end">PKM</text>
<path d="M826.5 636.5H827.5M832.8 636.5H834.0" stroke="#3c3a38" stroke-width="1.4"/>
<rect x="827.5" y="626.0" width="5.3" height="21" fill="#f9ad4a" stroke="#3c3a38" stroke-width="1.3"/>
<path d="M829.5 626.0v21" stroke="#3c3a38" stroke-width="1.5"/>
<text x="802.2" y="668.5" font-size="19" font-style="italic" text-anchor="end">PRDX1</text>
<path d="M826.0 663.2H828.0M832.6 663.2H836.7" stroke="#3c3a38" stroke-width="1.4"/>
<rect x="828.0" y="652.7" width="4.6" height="21" fill="#f9ad4a" stroke="#3c3a38" stroke-width="1.3"/>
<path d="M830.0 652.7v21" stroke="#3c3a38" stroke-width="1.5"/>
<text x="802.2" y="695.1" font-size="19" font-style="italic" text-anchor="end">MDK</text>
<path d="M828.6 689.8H831.0M836.7 689.8H842.0" stroke="#3c3a38" stroke-width="1.4"/>
<rect x="831.0" y="679.3" width="5.7" height="21" fill="#f9ad4a" stroke="#3c3a38" stroke-width="1.3"/>
<path d="M833.0 679.3v21" stroke="#3c3a38" stroke-width="1.5"/>
<text x="802.2" y="721.7" font-size="19" font-style="italic" text-anchor="end">CCND2</text>
<path d="M827.3 716.4H830.3M834.5 716.4H835.0" stroke="#3c3a38" stroke-width="1.4"/>
<rect x="830.3" y="705.9" width="4.2" height="21" fill="#f9ad4a" stroke="#3c3a38" stroke-width="1.3"/>
<path d="M833.0 705.9v21" stroke="#3c3a38" stroke-width="1.5"/>
<text x="802.2" y="748.4" font-size="19" font-style="italic" text-anchor="end">YBX1</text>
<path d="M829.0 743.1H830.3M836.7 743.1H838.8" stroke="#3c3a38" stroke-width="1.4"/>
<rect x="830.3" y="732.6" width="6.4" height="21" fill="#f9ad4a" stroke="#3c3a38" stroke-width="1.3"/>
<path d="M833.0 732.6v21" stroke="#3c3a38" stroke-width="1.5"/>
<text x="802.2" y="775.0" font-size="19" font-style="italic" text-anchor="end">NAP1L1</text>
<path d="M826.7 769.7H830.3M838.1 769.7H842.0" stroke="#3c3a38" stroke-width="1.4"/>
<rect x="830.3" y="759.2" width="7.8" height="21" fill="#f9ad4a" stroke="#3c3a38" stroke-width="1.3"/>
<path d="M834.0 759.2v21" stroke="#3c3a38" stroke-width="1.5"/>
<text x="802.2" y="801.6" font-size="19" font-style="italic" text-anchor="end">SET</text>
<path d="M832.0 796.3H833.5M835.6 796.3H836.0" stroke="#3c3a38" stroke-width="1.4"/>
<rect x="833.5" y="785.8" width="2.1" height="21" fill="#f9ad4a" stroke="#3c3a38" stroke-width="1.3"/>
<path d="M834.5 785.8v21" stroke="#3c3a38" stroke-width="1.5"/>
<text x="802.2" y="828.3" font-size="19" font-style="italic" text-anchor="end">ENO1</text>
<path d="M827.5 823.0H834.5M843.4 823.0H844.1" stroke="#3c3a38" stroke-width="1.4"/>
<rect x="834.5" y="812.5" width="8.9" height="21" fill="#f9ad4a" stroke="#3c3a38" stroke-width="1.3"/>
<path d="M839.8 812.5v21" stroke="#3c3a38" stroke-width="1.5"/>
<text x="802.2" y="854.9" font-size="19" font-style="italic" text-anchor="end">TPI1</text>
<path d="M832.0 849.6H834.5M842.4 849.6H843.0" stroke="#3c3a38" stroke-width="1.4"/>
<rect x="834.5" y="839.1" width="7.9" height="21" fill="#f9ad4a" stroke="#3c3a38" stroke-width="1.3"/>
<path d="M837.7 839.1v21" stroke="#3c3a38" stroke-width="1.5"/>
<text x="802.2" y="881.5" font-size="19" font-style="italic" text-anchor="end">NCL</text>
<path d="M835.0 876.2H837.3M841.5 876.2H843.4" stroke="#3c3a38" stroke-width="1.4"/>
<rect x="837.3" y="865.7" width="4.2" height="21" fill="#f9ad4a" stroke="#3c3a38" stroke-width="1.3"/>
<path d="M838.8 865.7v21" stroke="#3c3a38" stroke-width="1.5"/>
<text x="802.2" y="908.1" font-size="19" font-style="italic" text-anchor="end">LDHA</text>
<path d="M827.8 902.8H835.2M844.5 902.8H846.2" stroke="#3c3a38" stroke-width="1.4"/>
<rect x="835.2" y="892.3" width="9.3" height="21" fill="#f9ad4a" stroke="#3c3a38" stroke-width="1.3"/>
<path d="M838.8 892.3v21" stroke="#3c3a38" stroke-width="1.5"/>
<text x="802.2" y="934.8" font-size="19" font-style="italic" text-anchor="end">EMX2</text>
<path d="M833.5 929.5H838.1M845.8 929.5H853.6" stroke="#3c3a38" stroke-width="1.4"/>
<rect x="838.1" y="919.0" width="7.7" height="21" fill="#f9ad4a" stroke="#3c3a38" stroke-width="1.3"/>
<path d="M841.3 919.0v21" stroke="#3c3a38" stroke-width="1.5"/>
<text x="802.2" y="961.4" font-size="19" font-style="italic" text-anchor="end">CNBP</text>
<path d="M836.2 956.1H841.3M849.8 956.1H860.0" stroke="#3c3a38" stroke-width="1.4"/>
<rect x="841.3" y="945.6" width="8.5" height="21" fill="#f9ad4a" stroke="#3c3a38" stroke-width="1.3"/>
<path d="M845.1 945.6v21" stroke="#3c3a38" stroke-width="1.5"/>
<text x="802.2" y="988.0" font-size="19" font-style="italic" text-anchor="end">PAX6</text>
<path d="M826.7 982.7H840.5M864.6 982.7H870.6" stroke="#3c3a38" stroke-width="1.4"/>
<rect x="840.5" y="972.2" width="24.1" height="21" fill="#f9ad4a" stroke="#3c3a38" stroke-width="1.3"/>
<path d="M845.8 972.2v21" stroke="#3c3a38" stroke-width="1.5"/>
<text x="802.2" y="1014.7" font-size="19" font-style="italic" text-anchor="end">H2AFV</text>
<path d="M837.7 1009.4H842.6M852.5 1009.4H862.7" stroke="#3c3a38" stroke-width="1.4"/>
<rect x="842.6" y="998.9" width="9.9" height="21" fill="#f9ad4a" stroke="#3c3a38" stroke-width="1.3"/>
<path d="M845.1 998.9v21" stroke="#3c3a38" stroke-width="1.5"/>
<text x="802.2" y="1041.3" font-size="19" font-style="italic" text-anchor="end">MIF</text>
<path d="M828.2 1036.0H834.5M867.8 1036.0H870.6" stroke="#3c3a38" stroke-width="1.4"/>
<rect x="834.5" y="1025.5" width="33.3" height="21" fill="#f9ad4a" stroke="#3c3a38" stroke-width="1.3"/>
<path d="M846.8 1025.5v21" stroke="#3c3a38" stroke-width="1.5"/>
<text x="802.2" y="1067.9" font-size="19" font-style="italic" text-anchor="end">HSPD1</text>
<path d="M841.0 1062.6H844.5M850.0 1062.6H851.0" stroke="#3c3a38" stroke-width="1.4"/>
<rect x="844.5" y="1052.1" width="5.5" height="21" fill="#f9ad4a" stroke="#3c3a38" stroke-width="1.3"/>
<path d="M846.0 1052.1v21" stroke="#3c3a38" stroke-width="1.5"/>
<text x="802.2" y="1094.6" font-size="19" font-style="italic" text-anchor="end">GNAI2</text>
<path d="M836.7 1089.3H841.5M850.8 1089.3H854.7" stroke="#3c3a38" stroke-width="1.4"/>
<rect x="841.5" y="1078.8" width="9.3" height="21" fill="#f9ad4a" stroke="#3c3a38" stroke-width="1.3"/>
<path d="M846.2 1078.8v21" stroke="#3c3a38" stroke-width="1.5"/>
<text x="802.2" y="1121.2" font-size="19" font-style="italic" text-anchor="end">PFN1</text>
<path d="M830.9 1115.9H845.1M860.0 1115.9H864.8" stroke="#3c3a38" stroke-width="1.4"/>
<rect x="845.1" y="1105.4" width="14.9" height="21" fill="#f9ad4a" stroke="#3c3a38" stroke-width="1.3"/>
<path d="M847.9 1105.4v21" stroke="#3c3a38" stroke-width="1.5"/>
<text x="802.2" y="1147.8" font-size="19" font-style="italic" text-anchor="end">OAZ1</text>
<path d="M839.2 1142.5H846.2M869.5 1142.5H886.9" stroke="#3c3a38" stroke-width="1.4"/>
<rect x="846.2" y="1132.0" width="23.3" height="21" fill="#f9ad4a" stroke="#3c3a38" stroke-width="1.3"/>
<path d="M853.6 1132.0v21" stroke="#3c3a38" stroke-width="1.5"/>
<path d="M1166.5 488.4V1159H1376.3" fill="none" stroke="#333" stroke-width="1.6"/>
<path d="M1176.2 1159v7.5" stroke="#333" stroke-width="1.6"/>
<text x="1175" y="1187.8" font-size="18.3" text-anchor="middle">0</text>
<path d="M1220.6 1159v7.5" stroke="#333" stroke-width="1.6"/>
<text x="1214.8" y="1187.8" font-size="18.3" text-anchor="middle">1000</text>
<path d="M1264.8 1159v7.5" stroke="#333" stroke-width="1.6"/>
<text x="1263" y="1187.8" font-size="18.3" text-anchor="middle">2000</text>
<path d="M1324.8 1159v7.5" stroke="#333" stroke-width="1.6"/>
<text x="1319" y="1187.8" font-size="18.3" text-anchor="middle">3000</text>
<path d="M1368.3 1159v7.5" stroke="#333" stroke-width="1.6"/>
<text x="1366.7" y="1187.8" font-size="18.3" text-anchor="middle">4000</text>
<text x="1285.6" y="1228.5" font-size="26.9" text-anchor="middle">Rank by expression</text>
<text x="1213" y="466" font-size="31" text-anchor="middle">H3K27M pontine HGG</text>
<text x="1157.0" y="508.7" font-size="19" font-style="italic" text-anchor="end">ENO1</text>
<path d="M1177.6 503.4H1179.2M1189.5 503.4H1198.7" stroke="#3c3a38" stroke-width="1.4"/>
<rect x="1179.2" y="492.9" width="10.3" height="21" fill="#f9ad4a" stroke="#3c3a38" stroke-width="1.3"/>
<path d="M1180.3 492.9v21" stroke="#3c3a38" stroke-width="1.5"/>
<text x="1157.0" y="535.3" font-size="19" font-style="italic" text-anchor="end">RPLP0</text>
<path d="M1178.0 530.0H1179.2M1186.8 530.0H1197.6" stroke="#3c3a38" stroke-width="1.4"/>
<rect x="1179.2" y="519.5" width="7.6" height="21" fill="#f9ad4a" stroke="#3c3a38" stroke-width="1.3"/>
<path d="M1182.6 519.5v21" stroke="#3c3a38" stroke-width="1.5"/>
<text x="1157.0" y="562.0" font-size="19" font-style="italic" text-anchor="end">PKM</text>
<path d="M1178.7 556.7H1179.9M1187.2 556.7H1196.4" stroke="#3c3a38" stroke-width="1.4"/>
<rect x="1179.9" y="546.2" width="7.3" height="21" fill="#f9ad4a" stroke="#3c3a38" stroke-width="1.3"/>
<path d="M1183.8 546.2v21" stroke="#3c3a38" stroke-width="1.5"/>
<text x="1157.0" y="588.6" font-size="19" font-style="italic" text-anchor="end">HSPD1</text>
<path d="M1178.0 583.3H1178.7M1209.8 583.3H1248.2" stroke="#3c3a38" stroke-width="1.4"/>
<rect x="1178.7" y="572.8" width="31.1" height="21" fill="#f9ad4a" stroke="#3c3a38" stroke-width="1.3"/>
<path d="M1185.4 572.8v21" stroke="#3c3a38" stroke-width="1.5"/>
<text x="1157.0" y="615.2" font-size="19" font-style="italic" text-anchor="end">SLC1A3</text>
<path d="M1178.0 609.9H1182.2M1208.4 609.9H1242.4" stroke="#3c3a38" stroke-width="1.4"/>
<rect x="1182.2" y="599.4" width="26.2" height="21" fill="#f9ad4a" stroke="#3c3a38" stroke-width="1.3"/>
<path d="M1189.5 599.4v21" stroke="#3c3a38" stroke-width="1.5"/>
<text x="1157.0" y="641.8" font-size="19" font-style="italic" text-anchor="end">NAP1L1</text>
<path d="M1182.2 636.5H1187.7M1201.0 636.5H1212.5" stroke="#3c3a38" stroke-width="1.4"/>
<rect x="1187.7" y="626.0" width="13.3" height="21" fill="#f9ad4a" stroke="#3c3a38" stroke-width="1.3"/>
<path d="M1191.4 626.0v21" stroke="#3c3a38" stroke-width="1.5"/>
<text x="1157.0" y="668.5" font-size="19" font-style="italic" text-anchor="end">YBX1</text>
<path d="M1179.2 663.2H1182.2M1204.5 663.2H1232.8" stroke="#3c3a38" stroke-width="1.4"/>
<rect x="1182.2" y="652.7" width="22.3" height="21" fill="#f9ad4a" stroke="#3c3a38" stroke-width="1.3"/>
<path d="M1192.5 652.7v21" stroke="#3c3a38" stroke-width="1.5"/>
<text x="1157.0" y="695.1" font-size="19" font-style="italic" text-anchor="end">CCND2</text>
<path d="M1178.0 689.8H1183.1M1207.2 689.8H1238.3" stroke="#3c3a38" stroke-width="1.4"/>
<rect x="1183.1" y="679.3" width="24.1" height="21" fill="#f9ad4a" stroke="#3c3a38" stroke-width="1.3"/>
<path d="M1192.5 679.3v21" stroke="#3c3a38" stroke-width="1.5"/>
<text x="1157.0" y="721.7" font-size="19" font-style="italic" text-anchor="end">PABPC1</text>
<path d="M1179.6 716.4H1184.5M1205.2 716.4H1234.4" stroke="#3c3a38" stroke-width="1.4"/>
<rect x="1184.5" y="705.9" width="20.7" height="21" fill="#f9ad4a" stroke="#3c3a38" stroke-width="1.3"/>
<path d="M1193.7 705.9v21" stroke="#3c3a38" stroke-width="1.5"/>
<text x="1157.0" y="748.4" font-size="19" font-style="italic" text-anchor="end">NCL</text>
<path d="M1179.2 743.1H1188.4M1209.5 743.1H1230.9" stroke="#3c3a38" stroke-width="1.4"/>
<rect x="1188.4" y="732.6" width="21.1" height="21" fill="#f9ad4a" stroke="#3c3a38" stroke-width="1.3"/>
<path d="M1195.7 732.6v21" stroke="#3c3a38" stroke-width="1.5"/>
<text x="1157.0" y="775.0" font-size="19" font-style="italic" text-anchor="end">PTN</text>
<path d="M1178.0 769.7H1184.5M1224.0 769.7H1265.9" stroke="#3c3a38" stroke-width="1.4"/>
<rect x="1184.5" y="759.2" width="39.5" height="21" fill="#f9ad4a" stroke="#3c3a38" stroke-width="1.3"/>
<path d="M1197.6 759.2v21" stroke="#3c3a38" stroke-width="1.5"/>
<text x="1157.0" y="801.6" font-size="19" font-style="italic" text-anchor="end">FHL1</text>
<path d="M1185.4 796.3H1192.3M1234.8 796.3H1296.0" stroke="#3c3a38" stroke-width="1.4"/>
<rect x="1192.3" y="785.8" width="42.5" height="21" fill="#f9ad4a" stroke="#3c3a38" stroke-width="1.3"/>
<path d="M1200.3 785.8v21" stroke="#3c3a38" stroke-width="1.5"/>
<text x="1157.0" y="828.3" font-size="19" font-style="italic" text-anchor="end">NACA</text>
<path d="M1180.3 823.0H1191.1M1212.5 823.0H1242.9" stroke="#3c3a38" stroke-width="1.4"/>
<rect x="1191.1" y="812.5" width="21.4" height="21" fill="#f9ad4a" stroke="#3c3a38" stroke-width="1.3"/>
<path d="M1202.2 812.5v21" stroke="#3c3a38" stroke-width="1.5"/>
<text x="1157.0" y="854.9" font-size="19" font-style="italic" text-anchor="end">ZFP36L1</text>
<path d="M1178.0 849.6H1187.9M1229.3 849.6H1275.8" stroke="#3c3a38" stroke-width="1.4"/>
<rect x="1187.9" y="839.1" width="41.4" height="21" fill="#f9ad4a" stroke="#3c3a38" stroke-width="1.3"/>
<path d="M1199.2 839.1v21" stroke="#3c3a38" stroke-width="1.5"/>
<text x="1157.0" y="881.5" font-size="19" font-style="italic" text-anchor="end">SET</text>
<path d="M1179.2 876.2H1196.0M1219.9 876.2H1248.7" stroke="#3c3a38" stroke-width="1.4"/>
<rect x="1196.0" y="865.7" width="23.9" height="21" fill="#f9ad4a" stroke="#3c3a38" stroke-width="1.3"/>
<path d="M1202.6 865.7v21" stroke="#3c3a38" stroke-width="1.5"/>
<text x="1157.0" y="908.1" font-size="19" font-style="italic" text-anchor="end">OAZ1</text>
<path d="M1179.6 902.8H1189.1M1238.5 902.8H1290.0" stroke="#3c3a38" stroke-width="1.4"/>
<rect x="1189.1" y="892.3" width="49.4" height="21" fill="#f9ad4a" stroke="#3c3a38" stroke-width="1.3"/>
<path d="M1204.5 892.3v21" stroke="#3c3a38" stroke-width="1.5"/>
<text x="1157.0" y="934.8" font-size="19" font-style="italic" text-anchor="end">TTYH1</text>
<path d="M1181.5 929.5H1187.7M1224.0 929.5H1262.5" stroke="#3c3a38" stroke-width="1.4"/>
<rect x="1187.7" y="919.0" width="36.3" height="21" fill="#f9ad4a" stroke="#3c3a38" stroke-width="1.3"/>
<path d="M1203.8 919.0v21" stroke="#3c3a38" stroke-width="1.5"/>
<text x="1157.0" y="961.4" font-size="19" font-style="italic" text-anchor="end">EEF1D</text>
<path d="M1184.5 956.1H1197.6M1217.6 956.1H1245.2" stroke="#3c3a38" stroke-width="1.4"/>
<rect x="1197.6" y="945.6" width="20.0" height="21" fill="#f9ad4a" stroke="#3c3a38" stroke-width="1.3"/>
<path d="M1207.9 945.6v21" stroke="#3c3a38" stroke-width="1.5"/>
<text x="1157.0" y="988.0" font-size="19" font-style="italic" text-anchor="end">TPI1</text>
<path d="M1181.5 982.7H1193.4M1232.8 982.7H1283.8" stroke="#3c3a38" stroke-width="1.4"/>
<rect x="1193.4" y="972.2" width="39.4" height="21" fill="#f9ad4a" stroke="#3c3a38" stroke-width="1.3"/>
<path d="M1208.6 972.2v21" stroke="#3c3a38" stroke-width="1.5"/>
<text x="1157.0" y="1014.7" font-size="19" font-style="italic" text-anchor="end">GNAI2</text>
<path d="M1187.7 1009.4H1202.2M1237.8 1009.4H1283.4" stroke="#3c3a38" stroke-width="1.4"/>
<rect x="1202.2" y="998.9" width="35.6" height="21" fill="#f9ad4a" stroke="#3c3a38" stroke-width="1.3"/>
<path d="M1215.5 998.9v21" stroke="#3c3a38" stroke-width="1.5"/>
<text x="1157.0" y="1041.3" font-size="19" font-style="italic" text-anchor="end">MRFAP1</text>
<path d="M1190.2 1036.0H1205.6M1237.1 1036.0H1272.3" stroke="#3c3a38" stroke-width="1.4"/>
<rect x="1205.6" y="1025.5" width="31.5" height="21" fill="#f9ad4a" stroke="#3c3a38" stroke-width="1.3"/>
<path d="M1219.0 1025.5v21" stroke="#3c3a38" stroke-width="1.5"/>
<text x="1157.0" y="1067.9" font-size="19" font-style="italic" text-anchor="end">CNBP</text>
<path d="M1189.1 1062.6H1206.3M1234.6 1062.6H1275.8" stroke="#3c3a38" stroke-width="1.4"/>
<rect x="1206.3" y="1052.1" width="28.3" height="21" fill="#f9ad4a" stroke="#3c3a38" stroke-width="1.3"/>
<path d="M1220.6 1052.1v21" stroke="#3c3a38" stroke-width="1.5"/>
<text x="1157.0" y="1094.6" font-size="19" font-style="italic" text-anchor="end">CD63</text>
<path d="M1181.5 1089.3H1195.5M1251.2 1089.3H1331.7" stroke="#3c3a38" stroke-width="1.4"/>
<rect x="1195.5" y="1078.8" width="55.7" height="21" fill="#f9ad4a" stroke="#3c3a38" stroke-width="1.3"/>
<path d="M1221.7 1078.8v21" stroke="#3c3a38" stroke-width="1.5"/>
<text x="1157.0" y="1121.2" font-size="19" font-style="italic" text-anchor="end">TKT</text>
<path d="M1180.8 1115.9H1201.5M1258.1 1115.9H1308.7" stroke="#3c3a38" stroke-width="1.4"/>
<rect x="1201.5" y="1105.4" width="56.6" height="21" fill="#f9ad4a" stroke="#3c3a38" stroke-width="1.3"/>
<path d="M1224.5 1105.4v21" stroke="#3c3a38" stroke-width="1.5"/>
<text x="1157.0" y="1147.8" font-size="19" font-style="italic" text-anchor="end">ID4</text>
<path d="M1184.2 1142.5H1205.6M1259.0 1142.5H1337.9" stroke="#3c3a38" stroke-width="1.4"/>
<rect x="1205.6" y="1132.0" width="53.4" height="21" fill="#f9ad4a" stroke="#3c3a38" stroke-width="1.3"/>
<path d="M1222.9 1132.0v21" stroke="#3c3a38" stroke-width="1.5"/>
<rect x="49.6" y="801.4" width="108.0" height="36.9" fill="none" stroke="#333" stroke-width="1.3"/>
<rect x="91.5" y="1017.3" width="66.1" height="29.2" fill="none" stroke="#333" stroke-width="1.3"/>
<rect x="89" y="1075" width="68.6" height="54.0" fill="none" stroke="#333" stroke-width="1.3"/>
<text x="1469" y="465.5" font-size="47" font-weight="bold">c</text>
<rect x="1698.8" y="528.2" width="124.6" height="22.3" fill="#ffcc00"/>
<rect x="1823.4" y="528.2" width="10.2" height="22.3" fill="#8a8490"/>
<rect x="1833.6" y="528.2" width="10.2" height="22.3" fill="#cc1414"/>
<text x="1686" y="546.4" font-size="27" text-anchor="end">HGG−H3.3K27M</text>
<rect x="1698.8" y="566.5" width="176.7" height="22.2" fill="#ffcc00"/>
<rect x="1875.5" y="566.5" width="51.1" height="22.2" fill="#8a8490"/>
<rect x="1926.6" y="566.5" width="41.9" height="22.2" fill="#cc1414"/>
<text x="1686" y="584.6" font-size="27" text-anchor="end">HGG−WT</text>
<rect x="1698.8" y="635" width="92.9" height="21.9" fill="#ffcc00"/>
<rect x="1791.7" y="635" width="10.2" height="21.9" fill="#c4d49a"/>
<text x="1686" y="653.0" font-size="27" text-anchor="end">WNT MB</text>
<rect x="1698.8" y="670.4" width="82.7" height="21.8" fill="#ffcc00"/>
<rect x="1781.5" y="670.4" width="20.4" height="21.8" fill="#ff8c10"/>
<rect x="1801.9" y="670.4" width="10.6" height="21.8" fill="#c4d49a"/>
<rect x="1812.5" y="670.4" width="31.3" height="21.8" fill="#dcd4dc"/>
<text x="1686" y="688.3" font-size="27" text-anchor="end">ETMR</text>
<path d="M1698.0 709H2011" stroke="#111" stroke-width="1.6"/>
<path d="M1698.8 709V718.6" stroke="#111" stroke-width="1.6"/>
<text x="1692.5" y="740.4" font-size="23" text-anchor="middle">0</text>
<path d="M1801.9 709V718.6" stroke="#111" stroke-width="1.6"/>
<text x="1801.9" y="740.4" font-size="23" text-anchor="middle">10</text>
<path d="M1905.8 709V718.6" stroke="#111" stroke-width="1.6"/>
<text x="1905.8" y="740.4" font-size="23" text-anchor="middle">20</text>
<path d="M2010.4 709V718.6" stroke="#111" stroke-width="1.6"/>
<text x="2010.4" y="740.4" font-size="23" text-anchor="middle">30</text>
<text x="1866.8" y="780.5" font-size="27" text-anchor="middle">Count</text>
<text x="1635.8" y="892.8" font-size="25">Type</text>
<rect x="1704" y="871.0" width="25.8" height="25.6" fill="#ff8c00"/>
<text x="1740.5" y="892.5" font-size="24.5">RGC (prolif.)</text>
<rect x="1704" y="900.4" width="25.8" height="25.6" fill="#ffcc00"/>
<text x="1740.5" y="921.9" font-size="24.5">RGC</text>
<rect x="1704" y="929.8" width="25.8" height="25.6" fill="#c4d18e"/>
<text x="1740.5" y="951.3" font-size="24.5">Glial progenitors</text>
<rect x="1704" y="959.2" width="25.8" height="25.6" fill="#dcd4dc"/>
<text x="1740.5" y="980.7" font-size="24.5">Other</text>
<rect x="1704" y="988.6" width="25.8" height="25.6" fill="#8a8490"/>
<text x="1740.5" y="1010.1" font-size="24.5">Non−neuroectoderm</text>
<rect x="1704" y="1018.0" width="25.8" height="25.6" fill="#cc1010"/>
<text x="1740.5" y="1039.5" font-size="24.5">Neurons</text>
<text x="1.5" y="1312.3" font-size="47" font-weight="bold">d</text>
<text x="53.2" y="1308.2" font-size="26.5" font-weight="bold">ATRT2</text>
<path d="M188 1517l4 4 21 0-78 1 92 4-10 1-93 1 2 0 3 0 79 0-98 1 7 0 3 0 68 1-69 1 56 0 60 0-114 1 4 0 12 0-26 1 50 0 80 0-138 1 63 0 26 0 36 0-129 1 100 0-93 1 96 0 27 0-109 1 24 0 79 0-122 1 44 0 10 0 12 0 70 0 14 0-110 1 37 0 18 0-69 1 45 0 54 0-114 1 33 0 35 0-31 1 10 0 7 0 14 0 18 0 6 0-103 1 64 0 12 0 7 0 43 0 21 0-82 1-10 1 25 0 18 1 3 0 8 0 2 0-111 1 90 0 5 0 31 0 6 0-135 1 9 0 14 0 65 0 23 0-62 1 10 0 7 0 28 0 21 0 26 0-137 1 82 0-87 1 24 0 43 0 19 0-69 1 89 0 17 0 32 0-155 1 56 0 33 0 40 0-50 1 40 0-21 1 34 0-126 1 29 0 13 0 41 0 23 0-96 1 68 1-42 1 12 0 17 0 73 0 4 0-89 1 24 0-45 1 9 0 10 0 7 0 9 0-65 1 49 0 16 0 20 0 5 0 31 0-116 1 13 0 44 0 56 0-114 1 81 0 16 0 5 0-81 1 76 0 28 0-122 1 61 0 55 0-70 1 33 0-32 1-56 1 31 0 5 0 10 0 13 0 75 0 5 0-109 1 84 0 2 0 2 0 3 0-88 1 34 0-50 1 2 0 19 0 27 0 5 0-67 1 28 0 25 1 11 0 53 0 12 0-89 1 9 0 22 0 21 0 15 0 14 0-40 1 31 0 3 0 24 0-124 1 44 0 7 0 20 0 61 0-163 2 62 0 32 1-68 1 82 0 24 0 6 0 2 0 9 0-110 1 27 0 37 0 25 0 16 0-123 1 6 0 5 0 40 0 56 0 35 0-114 1 33 0-57 1 14 0 54 0 58 0-15 1 1 0 2 0-93 1 19 0 18 0 24 0 30 0 20 0-126 1 31 0 7 0 27 0-23 1 32 0-69 1 25 0 28 0 6 0 10 0-39 1 42 0-50 1 88 0 11 0-83 1 16 0 25 0 24 0-65 1 1 0 31 0 31 0-41 1 22 0-9 1 31 0 2 0-61 1 21 0 58 0-43 1 44 0-60 2 37 0 13 0-38 1-8 1 23 0 7 0 5 0-61 1 62 0 12 1-80 1 23 0 6 0-5 2 6 0 35 0 10 0-53 1 23 1 8 0 8 0 6 0-60 1 60 0 18 0-35 2 7 0-5 1-27 1 3 0-8 1 7 0 30 0 2 0 14 1-41 1 40 1-13 3-17 2 12 0 4 0-4 2 9 0" fill="none" stroke="none" marker-start="url(#k0)" marker-mid="url(#k0)" marker-end="url(#k0)"/>
<path d="M63 1446l6 0 6 0-28 2 4 2 15 0-11 1 3 0-23 2 15 0 43 0-55 4 16 1 24 0-31 2 31 0-22 1 18 0-22 1 49 0-57 1 25 0 7 0-19 1 2 2-18 1 3 0 23 1-32 1 50 0-45 2 10 0 5 1 26 0-39 1 6 0 23 0 13 0-43 1 16 0 8 0-18 1-10 1 26 2 40 1-68 1 28 0 8 0-6 2 15 0-18 1 9 1 35 0-60 1 7 1 14 0 6 1 3 1-29 1 22 0-17 1 56 1-64 2 15 1 9 0-13 2 16 0-19 1 12 1-11 1 2 0 12 0-16 1 6 1 2 0 1 0 1 1 4 0" fill="none" stroke="none" marker-start="url(#k1)" marker-mid="url(#k1)" marker-end="url(#k1)"/>
<path d="M143 1424l14 1 2 0 7 2-32 2 9 0 29 5-42 2 15 0-13 1 24 0-18 3 30 0-9 1-13 1 20 1-23 1-18 1 3 1 41 1-29 1 19 0-16 2 7 0-16 1 6 0 30 0-43 1 27 3 7 0-36 2 48 0 11 1-28 1 5 0 14 0-49 2 13 0 4 0 2 0 2 0 36 0-65 1 14 0 17 0 8 0 42 0-68 1 67 0-72 1 48 1-38 1 33 0-43 1 66 1-32 1 35 0-19 1-49 1 31 0 4 0-23 1 6 0-23 1 2 0 46 0 33 1 9 0-25 1 30 0-94 1 49 0-37 1 29 0-26 1 62 0 20 0-97 1 44 0-32 1 17 0-8 1 9 0 31 0 14 0 22 0-47 1 4 0 2 0 20 0 39 1-17 1 12 0-110 1 33 0 10 0 12 0-53 1 41 0-35 1 19 0 63 0-88 1 99 0 15 0-124 1 4 0 7 0 8 0-6 1 23 0 77 0 10 0-125 1 41 0 18 0 3 0 33 0-69 1 41 0 28 0 1 0-55 1 54 1-57 1 22 0-38 2 57 0 7 0 25 0-87 1 37 0 24 0 1 0 2 0-30 1 3 0 7 0 6 0 12 0-81 1 89 1 32 0-99 1 12 0 4 0 60 0-43 2 1 0 34 0 26 0-104 2 2 0 4 0 82 1-94 1 73 0 16 0-71 1-24 1 2 0 64 0 20 0 5 0 13 0 11 0-122 1 8 0 71 1-82 1 66 0 5 0-35 1 20 0 8 0-58 1 2 0 70 0-38 1 9 0 23 0-3 1 21 0-60 1 9 0 55 0-60 1 6 0 9 0 66 0 1 0 8 0-69 1-41 4 80 0-88 1 9 1 17 0 1 0 4 0-21 1 27 0-30 1-1 2 17 1-16 7" fill="none" stroke="none" marker-start="url(#k2)" marker-mid="url(#k2)" marker-end="url(#k2)"/>
<path d="M197 1284l4 10 0 6-19 3 18 0-4 1 1 0 0 1 4 1-15 1 2 0 7 0-20 1 2 0 40 0-32 3-2 1-1 2 20 0-18 1 24 1-29 1 4 0 1 0 7 0 25 0-30 4 18 1 3 0-26 1 5 1 7 0 2 0-18 1-1 1 10 0 25 0-21 1 5 1 18 1-19 1-10 3 14 0-5 1-8 1 26 0-24 1 20 0-22 3 24 0-8 1 4 1-5 2 6 15 2 0 2 11" fill="none" stroke="none" marker-start="url(#k3)" marker-mid="url(#k3)" marker-end="url(#k3)"/>
<path d="M262 1366l-5 6 4 0-3 1 3 0-4 1 5 0 2 2 3 0-3 1 9 1-66 31-15 10 2 1 11 0-9 3 3 0 4 0-8 8" fill="none" stroke="none" marker-start="url(#k4)" marker-mid="url(#k4)" marker-end="url(#k4)"/>
<path d="M308 1350l6 1 39 2-40 1 14 1 17 0-5 1 1 1 10 0-55 1 10 0 19 0 15 0 12 0-26 1 12 0 3 0-4 1 14 0 3 0 15 0-67 1 48 0 13 0-53 1 55 0-58 1 22 0-37 1 58 0 2 0-62 1 40 0-29 1 1 0 14 0 23 0 11 0-26 1 4 0 7 0 5 0-40 1 32 0 8 0 4 0-48 1 19 0 17 0 2 0 2 0 11 0-29 1 30 0 16 0 1 0 4 1-31 1 18 0-74 1 9 0 18 0-26 1 26 0 18 0 10 0 9 0 22 0-72 1 11 0 26 0-39 1 19 0 3 0 4 0 50 0 0 1-52 2 31 0 12 0 2 0-41 1 10 0-17 1 60 0 5 0 2 0-61 1 10 0 42 0-60 1 14 0 38 0-43 1 36 0 10 0-9 1 25 0-77 1 42 0 18 0 10 0 4 0-77 1 20 0 14 0 6 0 22 0-79 1 24 0 1 0 35 0-48 1 30 0 61 0-82 1 23 0 3 0-42 1 3 0 4 0 11 0 49 0-47 1 53 0 7 0 22 0-114 1 72 0 8 0 16 0 8 0-83 1 26 0 1 0 6 0 1 0-57 1 19 0 39 0-53 1 15 0 41 0 14 0 22 0-55 1 40 0-72 1 49 0 24 0 16 0 3 0 9 0 6 0-109 1 47 0 50 0-91 1 1 0 10 0 14 0 72 0-112 1 20 0 14 0 6 0 5 0 34 0 38 0 3 0-80 1 2 0 10 0 3 0 20 0 9 0 5 0-60 1 9 0 1 0 2 0-39 1 37 0 16 1 2 0 20 0-76 1 1 0 1 0 6 0 4 0 3 0 10 0 29 0 20 0 21 0 10 0 13 0-70 1-45 1 3 0 42 0 5 0 18 0 5 0-22 1 70 0 1 0-107 1 3 0 33 0 4 0 9 0 3 0-51 1 28 0 11 0 26 0 8 0-79 1 6 0 7 0 62 0 14 0 17 0-118 1 27 0 16 0 24 0 40 0-69 1 20 0 49 0 10 0-118 1 98 0 4 0 9 0-85 1 37 0 1 0-67 1 44 0 25 0 47 0-93 1 30 0 7 0 15 0 6 0 37 0 12 0-73 1 7 0 3 0-32 1 23 0 53 0-72 1 23 0 11 0 43 0 3 0-80 1 66 0-69 1 82 0 6 0-101 1 26 0 7 0 11 0 4 0 45 0-60 1 5 0 17 0 55 0-120 1 73 0 45 0-75 1 6 0 37 0-87 1 11 0-3 1 35 0 6 0 3 0 37 0 3 0 13 0-101 1 11 0 47 0 11 0 1 0 18 0-88 1 41 0 30 0-68 1 17 0 15 0 23 0 15 0 11 0-77 1 5 0 1 0 74 0 28 0-104 1 28 0 11 0-49 1 48 0-47 1 69 0 6 0 13 0 2 0-95 1 3 0 33 0-3 1 80 0-46 1 28 0 25 0-93 1 18 0 26 0 1 0-70 1 21 0 75 0-66 1 15 0 47 0-69 1 6 0 65 0 8 0 14 0-63 1-33 1 5 0 22 0 48 0-41 1 44 1-93 1 8 0 33 1-10 1-4 1 10 0-17 1 4 4 0 7-21 10" fill="none" stroke="none" marker-start="url(#k5)" marker-mid="url(#k5)" marker-end="url(#k5)"/>
<path d="M329 1452l17 0 6 0-16 3-5 1 1 0 11 1-13 3 27 0-25 1 2 1 1 0 29 0-69 1 12 0 17 0 6 0 23 0-12 1 21 0-78 1 47 1 9 0 4 0 3 0-61 1 23 0 35 0-62 1 74 0 3 0-24 1 13 0-73 1 70 0-25 1 22 0-34 1 12 0-47 1 5 0 5 0 29 0 16 0 6 0-59 1 9 1 7 0 29 0 8 0 6 0-66 1 10 0 50 0 25 0 7 0-72 1 26 0 26 0 5 0 7 0 10 0-88 1 15 0 43 0 9 0-19 1 25 0-82 1 13 0 15 0 6 0 31 1-58 1 28 0 57 0 1 0-82 1 5 0 3 0 22 0 31 0 23 0-50 1 5 0-43 1 27 0 15 0 3 0 3 0-19 1 33 0 18 0-28 1 8 0 4 0 10 0 3 0 5 0-78 1 20 0 13 0-21 1 43 0 13 0 19 0-109 1 28 0 5 0 4 0 32 0 8 0 12 0-76 1 31 0 9 0 37 0 8 0-96 2 4 0 62 0-26 1 8 0 21 0 29 0-1 1 6 0-93 1 48 0 18 0 22 0-92 1 26 0-25 1 4 0 12 0 53 0 13 0 1 0-58 1 39 0 16 0-44 1 7 0 51 0 3 0-100 1 24 1 42 0 24 0-60 1 25 1-11 1-28 1 30 0 6 1 7 0-37 1-19 1 10 2 67 0-35 1-27 1-1 1 5 0 39 0-61 3 6 0 21 0-23 2 35 0-31 1 25 2-29 2 5 1 2 0 11 0-1 1 3 0 4 0-25 1 4 1 19 0-14 1 8 0-6 1 5 0-9 2 6 0-1 5-10 2 15 1-8 1 1 0-4 1 2 4 6 4-15 1" fill="none" stroke="none" marker-start="url(#k6)" marker-mid="url(#k6)" marker-end="url(#k6)"/>
<path d="M434 1548l0 1 2 0" fill="none" stroke="none" marker-start="url(#k7)" marker-mid="url(#k7)" marker-end="url(#k7)"/>
<path d="M334 1636l0 2 1 1-12 1 3 1 12 0-14 1-8 1 6 1 3 0 5 2" fill="none" stroke="none" marker-start="url(#k8)" marker-mid="url(#k8)" marker-end="url(#k8)"/>
<path d="M287 1590l-12 2 18 0-9 2" fill="none" stroke="none" marker-start="url(#k8)" marker-mid="url(#k8)" marker-end="url(#k8)"/>
<path d="M204 1669l-6 5-3 4 3 1-3 3 0 2 12 0-10 2 1 3-9 3 11 2-3 3" fill="none" stroke="none" marker-start="url(#k9)" marker-mid="url(#k9)" marker-end="url(#k9)"/>
<path d="M148 1517l-5 2 5 0-28 1 19 2 72 0 7 0-68 1 70 1-17 1-68 1 33 0 44 0-94 1 88 0-76 1 13 0 13 0 31 1 31 0-30 1 36 0-97 1 45 0 4 0 32 0 22 0 6 0-130 1 27 0 27 0 5 0-20 1 54 0-62 1 8 0 5 0 8 0 19 0-73 1 37 0 12 0 61 0-81 1 8 0 73 0 2 0 19 0 6 0-99 1 11 0 12 0 8 0 8 1 56 0-108 1 11 0 24 0 32 0 17 0-111 1 39 0 6 0 23 0 15 0-79 1 2 1 9 0-13 1 33 0 38 1-79 1 11 0 96 0 7 0 33 0-122 1 117 0-136 1 23 0 41 0 23 0-26 1 80 0-135 1 78 1 33 0 18 0-134 1 7 0 15 0 37 0 38 0 16 0 7 0-91 1 66 0 17 0-101 1 9 0 21 0 7 0 33 0 60 0-97 1 33 0 6 0 35 0-85 1 3 0 38 0 37 0 9 0 12 0 4 0 12 0-118 1-8 1 14 0 1 0 45 1 27 0-91 1 21 0 98 0-117 1 24 0 12 0-59 1 34 1 3 0 27 0 4 0 77 0-126 1 12 0 22 0 84 0 1 0-134 3 37 0 30 0 35 0 33 0-102 1 40 0 15 0 34 0 13 0 2 0-115 1 8 0 74 0 14 0 13 0-125 1 83 0 25 0 33 0 2 0-145 1 43 0 12 0 42 0-60 1 51 0 25 0-122 1 19 0 103 0-26 1 10 0 2 0 17 0-114 1 30 0 4 0 21 0 50 0 2 0 17 0-130 1 47 0 44 0-56 1 85 0-102 1 41 0 52 0-64 1 45 0 28 0-109 1 1 0 33 0 57 0-50 1 30 0 18 0-42 1 14 0 27 0 22 0 6 0 15 0-132 1 5 0 58 0 23 0-91 1 91 0 33 0-34 1-18 1-57 1 45 0 27 0 19 1 18 0-75 1 7 1 27 0 55 0 9 0-107 1 85 0 18 0-125 1 6 0 19 0 98 1-49 1 40 0 5 0-98 1 45 0 15 0-63 1 16 0 24 0 31 0 5 0-54 1 35 0 4 0 31 0 15 0-82 1 9 0 4 0 2 0 28 0-28 1-21 1 26 0-24 3 5 0 51 0-23 1-5 1 57 0-41 1 6 0 23 0 1 0 5 1-61 1 6 0-11 1 40 0 30 0-86 1 21 0 12 0 39 0 17 0-54 1 11 0 41 0-80 1 37 0-28 1 18 2 13 0 2 0-17 3 17 0 31 1-35 1 32 0 4 1-10 1 9 0-8 1 3 5" fill="none" stroke="none" marker-start="url(#k0)" marker-mid="url(#k0)" marker-end="url(#k0)"/>
<path d="M81 1443l-9 4-16 1 11 1-16 1 8 0 8 0-16 1 1 1 5 0 24 2-5 1 5 1 1 0-39 1-6 1 24 0-4 1-23 1 3 0 46 0-8 1 20 1-10 2-6 1 32 1-36 1 11 0 9 0 8 0 5 0-79 1 52 1 19 0-60 1 2 0 1 0 41 0 5 1-49 1 42 0-17 1-22 1 53 1 13 0 4 0-74 3 25 0 1 0-1 1 14 0-12 2-17 1 21 0 5 0 20 0-59 1 68 0-55 1 3 0 13 1-23 1 11 1 8 1 5 1-13 1 20 0 2 0-23 1-9 1 5 0 26 0-14 1 15 0-32 1 13 0 13 0 2 8" fill="none" stroke="none" marker-start="url(#k1)" marker-mid="url(#k1)" marker-end="url(#k1)"/>
<path d="M148 1423l1 0 0 1-1 1 8 0-14 4 0 3 4 1 19 1-9 2 7 0-24 1-3 1-2 1 1 0 19 1 5 0-18 1 2 0 15 0-18 1 18 2 22 0-3 2 4 0-18 2-14 1-23 1 33 0-19 2-14 1 43 1-20 1 10 0 18 1-56 2 8 0 16 0-16 1 32 0 18 0 18 0-47 2 22 0-21 2-7 3 3 0-12 1 45 0 8 0-61 1 23 2 64 1-90 1 16 0 99 1-113 1 70 0 20 0-14 1-80 1 10 0 66 0 13 0-91 1 58 1 35 0-75 1 61 0 3 1-64 1 96 0-66 2-33 1 74 0 16 0-36 1 24 0 6 0-83 1 100 0-122 1 49 0 18 1 4 0-12 2 65 0-49 1 21 0-61 1 25 0 25 0 19 0-87 1 85 0 6 0-30 1 6 0 14 0 23 0-87 1 84 0-89 2 32 0 13 1 23 0-101 1 42 0-17 1 16 0 14 0 11 0 1 0 32 0 28 0-126 1 20 0 1 0 14 0 1 0 23 0 8 0 37 0 26 0-115 1 5 0 106 0-97 1 31 0 16 0-15 1 66 0-24 1-109 1 30 0 88 0 4 0 7 0 1 0-102 1 9 0 17 0 32 0 41 0 9 0-79 1 24 0 13 0 6 0-55 1 51 0-75 1 3 0 15 0 72 0 1 0 15 0 4 0 1 0-106 1 32 0 49 0 25 0 4 0-114 1 4 0 2 0 24 0 73 0-77 1 35 0 20 0-93 1 61 0 5 0 23 0 19 0-67 1 45 0 14 0-7 1-74 1 3 0 37 0 22 0 40 0-89 1 19 0 1 0 7 0 17 0-69 1 66 0-91 1 94 0 3 0-18 1 8 0-72 1 35 0 35 0-25 3-5 3" fill="none" stroke="none" marker-start="url(#k2)" marker-mid="url(#k2)" marker-end="url(#k2)"/>
<path d="M196 1294l4 1-23 1 1 0 0 3 15 1-16 1 12 3 18 0-25 4 1 0 3 0 11 2 3 1-1 1-4 2-4 1-16 1 13 0 10 0 17 1-17 1-20 3 3 1 10 0 4 0 9 0 9 0-35 1 9 0 13 1-16 1 11 1 4 0-5 2-14 1 9 0 11 0-2 2-3 2 12 0 2 0-11 1-7 2 11 0 3 1 5 0-11 3-11 1 6 0-9 5 20 11 2 4 4 5-2 1-20 2 21 3" fill="none" stroke="none" marker-start="url(#k3)" marker-mid="url(#k3)" marker-end="url(#k3)"/>
<path d="M255 1371l2 0 6 0-3 1-7 1 14 0 7 0-4 3 2 3 0 2-62 23-6 3 2 4-6 2-9 4-6 4 7 0 13 0-11 12" fill="none" stroke="none" marker-start="url(#k4)" marker-mid="url(#k4)" marker-end="url(#k4)"/>
<path d="M303 1337l41 12-37 2 48 1-27 2 15 0 5 0-27 1 3 1-21 2 11 0 5 0 16 0-33 1 56 0-60 1 27 0 11 1 2 0 14 0-35 1 28 0-10 1-34 1 17 0 15 0-41 2 10 0 67 1-56 1 2 0-14 1 10 0 24 0 1 0 26 0 4 0-46 1 48 1-81 1 8 0 50 0 14 0 9 0-41 1 1 0 41 0-50 1 14 1-54 1 32 0 50 0 10 0-84 1 39 0 4 0 17 0-67 1 13 0 17 0 5 0 26 0 20 0 12 0-67 1 12 0 7 0 0 1-15 1 8 0 9 0 32 0-57 1 73 0-103 1 17 0 63 0-50 1 13 0 6 0 24 0 28 0-78 1 8 0 17 0 28 0 13 0 19 0-107 1 61 0 49 0-40 1 1 0 6 0 21 0-2 1 9 0-72 1 6 0-37 1 44 0 4 0 65 0-92 1 8 0 72 0 15 0-46 1 17 0 13 0 1 0-90 1 59 0 25 0 1 0 1 0-47 1 5 0 18 0 13 0-72 1 9 0 24 0 7 0 50 0 18 0-119 1 4 0 26 0 17 0 62 0 2 0-111 1 75 0 18 0 5 0-83 1 15 0 25 0 16 0 25 0 20 0-95 1 45 0 5 0 3 0 22 0 3 0-22 1 30 0-103 1 8 0 11 0 10 0 24 0 58 0-98 1 17 0 27 0 11 0 27 0 13 0-106 1 58 0 7 0 6 0 21 0-82 2 12 0 7 0 17 0-55 1 8 0 88 0-87 1 34 0 25 0 12 0-78 1 12 0 3 0 40 0 8 0-66 1 59 0 60 0-115 1 58 0 45 0-100 1 17 0 15 0 48 0 12 0 22 0-110 1 29 0 19 0 25 0 14 0 4 0 10 0 1 0 16 0-35 1 2 0-84 1-10 1 41 0 34 0 17 0 12 0-53 1 20 0 11 0-56 1 42 0 16 0 3 0-86 1 29 0 19 0 2 0 7 0 7 0 56 0-121 1 75 0 2 0 3 0 3 0 3 0-68 1 3 0 27 0-11 1 14 0 42 0 6 0 8 0-74 1 21 0 7 0 68 0-123 1 12 0 18 0 15 0 13 0 26 0 39 0-127 1 1 0 55 0 2 0 37 0-68 1 40 0 57 0-96 1 17 0 34 0 32 0 4 0-75 1 14 0 20 0 33 0-65 1 3 0 31 0 22 0 15 0-86 1 9 0 46 0 26 0 17 0-112 1 50 0 27 0-76 1 45 0 35 0 1 0 23 0-109 1 61 0 3 0 8 0 33 0-101 1 27 0-20 1 75 0 14 0-95 1 2 0 8 0 19 0 3 0 6 0 60 0 3 0-99 1 88 0-79 1 36 0-13 1 33 0 20 0 13 0 2 0-110 1 16 0 2 0 64 0-45 1 6 0 72 0-82 1 86 0-94 1 31 0-39 1 74 0 24 0-93 1 27 0-36 1 28 0 24 0 45 0-101 1 8 0 2 1 15 0-24 1 6 0-7 1 16 0 1 0 4 0 2 0 14 0-40 1 6 0 29 0 10 0-11 1 3 2-15 2 5 0 68 0-59 1" fill="none" stroke="none" marker-start="url(#k5)" marker-mid="url(#k5)" marker-end="url(#k5)"/>
<path d="M336 1448l13 0-3 1-36 3 20 1-51 2 50 0-23 1 17 1 19 0-50 1 54 0-11 1 3 1 6 0 1 0-36 1 4 0 19 0 26 0 5 0-67 1 29 0 13 0-54 1 15 0 63 0-82 1 34 0 13 0 12 1 6 0 8 0-51 1 15 0 2 0 0 1 15 0 7 0 1 0-49 1 35 0 35 0-12 1 11 0-44 1 22 0 4 0-67 1 5 0 17 0 5 0-22 1 3 0 85 2-52 1 14 0 17 0-48 1 49 0-73 1-9 2 12 0 23 0 43 0-82 1 25 0 7 0 26 0-26 2 18 0 2 0 28 0-27 1-38 1 33 0 19 0 18 0 12 0-16 1 8 0 1 1 4 0-68 1 27 1 12 0 27 0-76 1 15 0 2 0 32 0 18 0-81 4 75 0-3 1 7 0 12 0 2 0 1 0-39 1 42 0-76 1 24 0-49 1 9 0 1 0 78 0-84 1 42 0 2 0-61 1 71 0 30 0-67 1 18 0-43 1 7 0 2 0 50 0 21 0 14 1 3 0-55 1 5 0 5 0 17 0-68 1 40 0 29 0 8 0-69 1 26 0 63 0-75 1 2 1 11 0 20 0 13 0 2 0 14 0-85 1 6 0 59 0-33 1 9 0 9 0 17 0-39 1 30 0-5 1-45 1 15 0 26 0 6 0-4 2-22 1 18 0 5 1-28 2 4 1-13 1-4 2 26 0-28 1 6 1 3 0 11 0-17 3 17 0-15 1 13 0-25 1 22 1-21 1 22 0-13 1 15 0-13 1 3 2-13 1 1 0 8 0-6 1-2 2 11 0 1 1 1 1-8 1 2 1-9 1 7 0-1 2 2 0 1 0 0 5-2 2" fill="none" stroke="none" marker-start="url(#k6)" marker-mid="url(#k6)" marker-end="url(#k6)"/>
<path d="M424 1543l7 3 2 3" fill="none" stroke="none" marker-start="url(#k7)" marker-mid="url(#k7)" marker-end="url(#k7)"/>
<path d="M305 1631l29 7 8 0-17 2 2 2-11 1 4 0-2 1 5 0 2 1 17 0" fill="none" stroke="none" marker-start="url(#k8)" marker-mid="url(#k8)" marker-end="url(#k8)"/>
<path d="M274 1588l6 2-7 2 17 1" fill="none" stroke="none" marker-start="url(#k8)" marker-mid="url(#k8)" marker-end="url(#k8)"/>
<path d="M206 1663l-1 13-6 2 5 0 1 1-1 2-7 5 4 0-4 1 1 0-7 7" fill="none" stroke="none" marker-start="url(#k9)" marker-mid="url(#k9)" marker-end="url(#k9)"/>
<path d="M196 1524l-53 1 50 0-38 2 19 1 31 0 1 0 23 0-85 1 56 0 43 0-87 1 40 0 17 1-79 1 33 0 6 0-65 1 47 0 13 0 1 0 14 0 26 0 18 0-119 1 23 0 31 0 5 0 42 0-3 1 5 0 10 0-94 2 58 0 47 0-128 1 86 0 50 0-141 1 60 0 19 0 25 0 14 0 26 0-32 1-76 1 3 0 25 0 4 0 62 0-134 1 129 0-116 1 61 0 45 0-113 1 5 0 6 0 19 0 57 0 16 0 35 0-102 1 5 0-24 1 35 0 12 0 57 0-113 1 28 0 9 1 25 0 55 0-60 1 27 0-90 1 24 0 83 0-80 1-16 1 3 0 4 0 47 0 37 0 28 0-108 1 71 0 31 0 13 0 5 0-136 1 22 0 44 0-66 1-6 1 18 0 5 0-24 1 43 0 52 0 18 0-70 1 21 0 17 0 1 0 22 0 31 0-111 1 11 1 6 0 15 0 43 0 11 0 4 0 8 0 20 0-132 1 123 0-89 1 15 0 28 0 16 0 40 0-120 1 59 0 15 0 16 0 37 0-124 1 5 0 107 0-132 1 47 0 33 0 25 0 26 0-141 1 7 0 59 0 39 0 14 0 8 0-127 1 14 0-6 1 7 0 10 0 7 0 18 0 8 0 36 0-88 1 30 0 36 0 24 0 8 0 15 0-83 1 10 0 44 0 63 0-129 1 39 0 57 0 20 0 7 0-131 1 1 0 125 0 10 0-37 1-76 1 13 0 19 0 18 0 30 0 1 0-111 1 12 0 14 0 20 0 19 0-45 1 16 1-33 1 27 1 18 0 5 0 10 0 30 0-88 1 75 0 6 0 24 0 36 0-119 1 5 0 7 0 68 0 15 0-104 1 5 0 38 0 9 0-50 1 82 0 27 0 20 0-132 1 24 0-26 1 6 0 21 0-26 1 24 0 23 0 78 0 6 0-119 1 29 0 21 0 4 0 24 0 43 0-58 1-87 1 37 0 12 0 8 1 16 0 41 0-61 1 6 0 53 0 5 0-109 1 1 0 51 0 18 0 47 0-120 1 71 0 8 0 27 0 11 0-98 1 28 0 35 0 11 0 23 0-82 1 38 0-13 1 67 0-26 1 12 0 11 0-25 1-57 1 24 1 37 0-34 1 6 0 27 0 17 0 1 0-44 1-9 1 49 0-17 1-15 1-14 1 0 1 66 0-28 1 25 0-69 1 12 0 7 0 26 0-35 1-6 1 12 0 21 0 7 0-45 1 66 0-71 2 48 0-22 1 5 0 42 0-28 1 6 1 13 0 3 0-25 4 36 2" fill="none" stroke="none" marker-start="url(#k0)" marker-mid="url(#k0)" marker-end="url(#k0)"/>
<path d="M71 1444l-26 4 14 0 15 1-4 1 12 0-28 2 26 0 6 0-14 2-16 1 19 0 1 0-24 2 9 0 7 0-26 2 14 1-9 1 29 1 10 0-13 1 1 0 35 0-65 1-8 1 6 0 52 0 1 0-62 1 24 0 23 0-5 1 2 0-23 1 35 0 18 0-73 1 55 0-22 2-22 1-8 2 40 0-24 1 12 0 3 0-11 1 21 0-33 3 51 0-54 1 72 0-71 1 57 0-47 1 41 0 6 0-43 2 2 0 23 0-10 1 2 1 7 0-34 1 3 0 29 1-38 2 1 0 34 0 2 0-10 1-20 2 60 0-1 1-67 1 19 0-6 2 2 0 20 0 23 0" fill="none" stroke="none" marker-start="url(#k1)" marker-mid="url(#k1)" marker-end="url(#k1)"/>
<path d="M138 1426l0 1 6 0-1 1 0 1-10 1 8 3 8 1 18 0-21 1 10 2 6 0-30 2 16 0-6 1 3 0-16 1 0 2 20 0-19 1 14 0 20 0 5 0 5 0-43 2 9 0 19 0-24 1 4 0 41 0-56 1 17 0 25 0-21 1 11 0 14 0-32 1 22 1-12 2 21 1-36 1 20 0 1 1-6 1 8 0 22 1-48 1 41 0 30 0-50 1 23 0 16 1 5 1-59 1 32 0 14 0-55 1 7 0 22 0 33 0-4 1-46 1 13 2 24 0 44 0-83 2 53 0-63 1 7 0 7 0 27 1 19 0 31 0-32 2-10 1 42 0 9 0-63 1-26 1 27 0 7 0 26 0-60 1 24 0 49 0 10 0-86 1 7 0 22 0-12 1 30 0-17 1 1 0 56 0-32 1-21 1 13 1 28 0-81 1 20 0 38 0 28 0-26 1 25 0 18 0 4 0-95 1 4 0 48 0 38 1-76 1 14 0-29 2 10 0 7 0 66 1-73 1 54 0 12 0-98 1 6 0 79 0 19 0-97 1 45 0 7 0 36 0 24 0 2 0-88 1 67 0-59 1 18 0 8 0 6 0-48 1 71 0 21 0-82 1 20 0 37 1 6 0 25 0 2 0-123 1 39 0 2 0 1 0 83 0-98 1 5 0 15 0 73 0-66 1 52 0-113 1 27 0 4 0 45 0 45 0-105 1 74 0 10 0 11 0 9 0-95 1 6 1 30 0-41 1 39 1 55 0 2 1-100 1 101 0-20 1 1 1 15 0-82 1 19 0-45 1 67 0 39 0 2 0 13 0-100 1 27 0 24 0 25 0-58 1-14 1 25 0-15 1 69 0-59 1 9 0 51 0-107 1 68 0-72 2 11 0 26 0-39 2 30 1 2 0-29 1" fill="none" stroke="none" marker-start="url(#k2)" marker-mid="url(#k2)" marker-end="url(#k2)"/>
<path d="M188 1296l12 2-13 3-2 1 1 3-10 1 8 0 18 0-1 1 10 0-4 1-25 2 15 0-16 1 20 0-27 2 17 0 9 0-22 2 11 0 0 1-7 1 12 0-16 1 17 0-13 1 21 0-32 2 23 0 18 0-34 2 21 0-6 1 21 0-37 1 30 0-26 1 26 0 5 0 2 0-24 2-10 1 32 0-17 3 9 1 0 1 0 1 2 0 7 0-26 4 5 1-2 1 18 0-17 1 12 2 12 16-6 2" fill="none" stroke="none" marker-start="url(#k3)" marker-mid="url(#k3)" marker-end="url(#k3)"/>
<path d="M253 1373l21 4-65 22-5 3-1 2 4 0 5 2-7 1-9 3 8 4-4 2 3 0-5 1 12 0-17 5 3 5 0 2" fill="none" stroke="none" marker-start="url(#k4)" marker-mid="url(#k4)" marker-end="url(#k4)"/>
<path d="M316 1346l3 2 50 0-33 1 19 0-36 3 25 0 10 0-40 1 11 0 25 0-21 2 28 0-36 1-29 1 53 1-17 1-16 1 9 0 5 0 10 0-6 1-4 1 11 0 20 0-15 1-20 1 6 0 3 0 5 0-21 1 23 0 9 0 8 0 1 0 18 0-58 1 2 0 19 0 4 0 6 0 1 0-58 1 13 0 4 0-19 1 27 0 1 0 9 0 43 0 3 0-80 1 10 0 57 0-57 1 64 0-45 1 17 0 13 0-45 1 19 0 4 0 37 0-49 1 54 0-65 1 17 0 7 0 11 0-62 1 1 0 11 0 3 0 33 0 5 0 26 0 11 0-87 1 11 0 7 0 9 0 1 0 23 0 17 0-54 1 1 0 44 0 33 0-88 1 46 0 12 0 11 0-32 1-22 1 40 0 23 0 5 0-90 1 29 0 27 0 27 0 14 0 7 0-83 1 17 0 28 0 39 0-70 1 2 0 6 0 9 0 28 0-62 1 27 0 43 0 10 0-99 2 35 0 52 0 15 0-92 1 24 0 56 0 14 1-84 1 18 0 20 0 20 0 12 0-80 1 59 0 28 0-54 1 4 0 65 0-106 1 94 0-71 1 36 0 13 0 2 0-66 1 33 0 45 0-36 1 25 0-65 1 4 0 12 0 21 0 42 0 15 0-106 1 88 0 22 0-109 1 75 0 7 0-17 1 23 0 11 1 19 0-120 1 26 0 80 0-85 1 8 0 7 0 5 0 2 0 6 0 31 0 19 0 3 0 10 0-97 1 18 0 5 0 1 0 49 0 29 0-119 1 18 0 15 0 44 0 12 0 19 0-66 1 23 0 21 0 13 0 16 0-54 1 1 0-60 1 61 0 19 0 5 0 19 0-65 1 16 0 19 0 35 0 3 0-42 1 30 0-51 1 13 0 30 0 3 0 25 0-112 1 4 0 47 0 4 0-11 1 60 0 1 0-96 1 39 0 5 0-30 1 22 0 2 0 14 0 52 0-111 1 28 0 31 0 7 0 14 0-88 1 12 0 8 0 50 0 13 0 6 0-88 1 18 0 23 0 41 0 7 0 10 0-90 1 20 0 4 0 56 0-64 1 13 0 6 0 34 0 4 0 13 0 14 0 8 0-93 1 30 0 6 0 7 0 17 0-15 1 5 0-75 1 67 0-19 1 56 0 10 0-118 1 27 0 9 0-23 1 49 0 57 0-99 1 77 0 18 0 3 0-79 1 42 0 38 0-110 1 12 0 28 0 11 0 4 1 13 0 40 0 16 0-96 1 88 0-104 1 58 0 20 0 1 0-52 1 50 0-55 1-28 1 36 0 43 0 2 0 18 0 5 0-50 1 1 0 3 0 41 0-91 1 7 0 2 0 71 0 5 0-100 1 21 0 19 0 60 0 3 0 8 0 1 0 7 0-116 1 7 0 14 0 48 0 12 0-61 1 37 0 36 1-81 1 48 0 37 0-76 1 78 0 16 0-91 1 10 0 66 0 8 0-109 1 6 0 40 0 9 0-51 1 11 0 8 0 31 0 33 0-83 1 32 0 3 1 68 0-56 1 3 0-41 1 14 1 2 0-22 2 26 0-25 1 26 0-7 1 3 2 3 4" fill="none" stroke="none" marker-start="url(#k5)" marker-mid="url(#k5)" marker-end="url(#k5)"/>
<path d="M328 1447l-3 5 0 2-21 2 17 1 12 0-27 1 9 0 3 0 28 0-40 1 20 0-12 1 24 0-53 2 26 1 1 0 3 0 34 0-20 1-36 1 4 1-17 1 21 0 12 0 8 0 11 0 16 0-68 1 45 0 21 0 3 0 16 0-92 1 2 0 43 0-37 1 55 0 7 0 15 0-44 1 36 0 7 0 5 0-75 1 21 0 5 0 11 0-14 2-37 1-6 1 80 0-83 1 6 0 50 0-50 1 15 0 35 0 29 0 3 0-30 1-61 1 93 0-69 1 71 0-96 1 16 0 74 0-65 1 11 0 13 0 42 0-73 1 83 1-102 1 24 0 17 0 18 0 19 0 1 0-71 1 5 0 5 0 34 0 40 0-88 1 35 0 12 0 16 0 19 0-42 1 6 0 14 0-38 1 35 0-45 1 6 0 11 0 51 0-42 1 44 0-90 1 93 0 7 0-50 1 11 0 21 0 8 0-9 1-79 1 8 0 8 0 8 0 27 0 38 0-5 1-73 1 47 0 17 0 3 0-1 1 20 0-81 1 44 0 11 0 34 0-94 1 4 0 24 0 12 0 4 0-23 1 2 0 25 0-39 2 5 0 67 0-61 2 9 0-37 1 39 0 29 0-58 1 2 0 26 0-21 1 37 1 5 0-41 1 10 0-26 1 10 0 25 0 3 0-14 3 13 0 1 0 7 0-36 2 4 0 3 0 22 0-19 1-6 1 3 0 11 0-17 1 12 0 1 0-19 2 34 0-26 1-1 1 19 0-39 1 15 1 8 0 15 0-21 1 3 0 7 0-11 1 2 3-12 2 7 0 4 1 4 1-1 2-3 1 9 0-6 2-9 1 3 3 2 1 5 0-4 2 9 2-15 1 8 3" fill="none" stroke="none" marker-start="url(#k6)" marker-mid="url(#k6)" marker-end="url(#k6)"/>
<path d="M426 1542l3 3 5 3" fill="none" stroke="none" marker-start="url(#k7)" marker-mid="url(#k7)" marker-end="url(#k7)"/>
<path d="M338 1635l-1 1 5 0-14 1-12 2 11 0 15 0-17 2 5 1-17 3" fill="none" stroke="none" marker-start="url(#k8)" marker-mid="url(#k8)" marker-end="url(#k8)"/>
<path d="M269 1589l14 4 8 0-5 2" fill="none" stroke="none" marker-start="url(#k8)" marker-mid="url(#k8)" marker-end="url(#k8)"/>
<path d="M203 1666l4 1-10 6 6 3-4 1 2 0-9 3 4 1 7 1-8 1-1 5" fill="none" stroke="none" marker-start="url(#k9)" marker-mid="url(#k9)" marker-end="url(#k9)"/>
<text x="220" y="1312.3" font-size="17.8" font-weight="bold">Pericytes</text>
<text x="235.3" y="1378.4" font-size="18" font-weight="bold" text-anchor="middle">7</text>
<text x="367.5" y="1385.5" font-size="18" font-weight="bold" text-anchor="middle">1</text>
<rect x="317.4" y="1456.0" width="16.0" height="20.7" fill="#fff" fill-opacity="0.85" rx="2"/><text x="325.4" y="1472.8" font-size="18" font-weight="bold" text-anchor="middle">3</text>
<text x="35" y="1437.2" font-size="17.8" font-weight="bold">Microglia 3</text>
<rect x="151" y="1448" width="99" height="20.5" fill="#fff" fill-opacity="0.72" rx="2"/>
<text x="155" y="1463.3" font-size="17.8" font-weight="bold">Microglia 2</text>
<rect x="160" y="1528" width="101.5" height="22" fill="#fff" fill-opacity="0.72" rx="2"/>
<text x="166" y="1544.6" font-size="17.8" font-weight="bold">Microglia 1</text>
<rect x="283" y="1509.5" width="159" height="19" fill="#fff" fill-opacity="0.8"/>
<text x="287" y="1525.8" font-size="18" font-weight="bold">Oligodendrocytes</text>
<text x="316.7" y="1618.7" font-size="17.8" font-weight="bold">T−cells</text>
<text x="177.8" y="1660.9" font-size="17.8" font-weight="bold">Microglia 4</text>
<text x="29" y="1692" font-size="23.4">(4,629)</text>
<text x="619.5" y="1308.6" font-size="27">Group 1</text>
<path d="M718 1325l0 9-5 1 6 0-15 1 6 5 11 0 3 5-3 1 2 0-40 48 4 1 28 0-29 2 3 1 11 0-3 1 5 0-21 1 3 0 10 0-9 2 1 0 4 1 11 0 2 1-19 1 11 0 6 0-61 1 45 0 12 0 2 0-11 1 7 0 6 0-62 1 62 1-52 1 1 0 55 0-60 1 64 0-71 1 41 0 17 0 6 0 4 0-53 1 27 0 7 0 1 0-8 1 28 0 9 0-78 1 15 0 28 1 22 0 7 0 2 0-83 2 1 0 59 0-58 1 11 0 44 0 41 0-100 1 19 0 63 0 17 0-90 1 43 0 4 0 14 0 4 0-59 1 40 0 14 0 2 0 19 0-71 1 37 0 16 0-41 1 4 0 49 0 4 0 14 0-91 1 61 0-69 1 104 0-101 1 101 0-104 1 19 0 23 0 11 1 6 0 33 0-82 1 89 0-41 1 50 0-57 1 13 0 18 0-75 1 49 0 16 0 8 0-71 1 42 0 13 0 1 0 1 0 26 0 3 0-53 1 18 0 2 0 6 0 39 0 1 0-14 1 11 0-11 2-47 1 49 0-58 1 12 0 31 0 22 0-47 1 10 0 33 0-43 1 22 0-20 1 28 0-42 1 11 0 8 0 4 0 32 0 1 0-62 1 28 0 16 0-38 1 9 0 5 0 25 1-46 2 11 0 7 0 41 0 14 0-39 1 14 0-17 1 9 0 14 0-58 1 24 0 13 0 4 0-43 1 19 0 59 0-75 1 20 1 13 0 29 0-61 1 16 0 15 0-30 1 13 0 15 0-26 1 51 0 3 0 18 0-29 1 20 0 1 0-59 2 3 0 32 0 21 0 8 0-66 1 3 0 1 0 14 0 30 0 12 0-28 1 6 0-33 1 7 0 4 0 46 0-49 1 2 0 51 0-61 1 6 0 6 0 6 0 24 0 5 0-28 1 5 0-33 1 5 0 53 0 12 0-36 1 9 0 28 0-77 1 4 0 16 0 21 0-2 1 13 0 13 0 11 0 3 0-70 1 16 0 33 0 10 0 16 0-45 1 2 0 22 0 1 0 3 0-56 1 19 0 10 0-28 1 12 0 11 0 4 1 30 0-60 1 46 0 10 0 8 0-66 1 3 0 7 0 18 0 26 0 15 0-62 1 14 0 54 1-50 1 1 0 8 0 14 0 9 0-37 1 59 0-46 1 43 0-63 1 28 0 6 0 3 0-30 1 21 0-9 1 7 0 26 0 11 0-23 1 24 0-33 1 2 0 4 0 18 0-35 1 6 0 17 0 7 0-22 2 2 0-11 2 14 0 7 0 9 0-26 1 4 0 20 0-26 1 10 0-5 1 33 1-11 2 11 0-21 1 7 1 64 7-3 2-7 1-62 12 0 5-2 2-2 1 4 1-7 5" fill="none" stroke="none" marker-start="url(#k10)" marker-mid="url(#k10)" marker-end="url(#k10)"/>
<path d="M715 1324l-10 1 6 0 6 1-11 1 10 2-6 1-5 1 6 0 4 0-10 1 5 0 6 1 2 0-10 1 0 1 7 0-6 1 3 0 10 0-16 1 2 0 1 0 4 0 2 0 11 0-16 1-4 1 2 0 3 0 9 0 4 0-19 1 9 0 4 0 7 0-21 1 1 0 7 1-5 1 7 0 4 0 6 0-15 2 7 0-2 1 6 0 1 0 4 0-6 1 3 0 1 1-10 1 4 0-6 1 2 0-3 2 78 5-67 1 72 1-71 1 4 0-3 1 0 2 65 0-65 3 36 3 47 4-10 4-30 7 35 7 2 0-113 2-4 1 3 0 137 0-137 1 4 0 1 0-10 1 2 1-1 2 3 0 11 0-20 1 9 0 80 0-71 1-16 1 1 0-3 1 5 0 2 0 1 0 6 0 2 0 5 0-48 1 27 0 6 0 3 0-12 1 10 0 1 0 20 0-65 1 3 0 2 0 33 0 2 0 23 0 2 0-75 1 53 0 5 0 4 0 1 0 79 0-138 1 4 0 6 0 2 0 37 0 2 0 14 0-66 1 1 0 46 0 3 0 4 0 100 0-130 1 33 0 9 0-69 1 6 0 43 0 9 0 2 0 2 0 1 0 1 0 7 0-75 1 8 0 42 0 9 0 2 0 16 0-74 1 3 0 17 0 28 0 12 0 5 0 7 0 13 0 2 0-91 1 7 0 29 0 14 0 7 0 4 0 2 0 18 0 4 0 78 0-158 1 13 0 4 0 33 0 9 0 3 0 85 0-148 1 8 0 1 0 49 0 14 0 6 0-83 1 4 0 19 0 18 0 10 0 5 0 5 0 4 0 9 0-76 1 2 0 1 0 10 0 15 0 2 0 9 0 20 0 13 0 8 0 11 0 14 0 63 0-162 1 1 0 4 0 10 0 36 0 119 0-170 1 4 0 42 0 9 0 15 0 39 0-109 1 4 0 5 0 6 0 5 0 10 0 8 0 9 0 42 0 5 0 2 0-98 1 11 0 12 0 23 0 1 0 29 0 13 0-88 1 3 0 32 0 11 0 7 0 2 0 22 0 18 0 1 0 4 0-102 1 15 0 8 0 11 0 2 0 7 0 12 0 9 0-45 1 6 0 8 0 27 0 19 0 30 0-96 1 7 0 18 0 67 0-95 1 12 0 26 0 7 0 12 0 5 0 12 0 1 0 14 0 2 0-77 1 29 0 5 0 5 0 17 0 3 0 15 0 6 0 58 0-156 1 4 0 4 0 4 0 3 0 1 0 28 0 1 0 4 0 19 0 38 0-45 1 9 0 4 0 15 0 6 0 10 0-106 1 2 0 38 0 8 0 4 0 6 0 3 0 10 0 14 0 3 0 4 0 2 0 1 0 76 0-173 1 9 0 6 0 1 0 20 0 10 0 1 0 14 0 10 0 12 0 7 0 2 0 13 0 2 0 1 0 64 0-164 1 24 0 29 0 14 0 12 0-72 1 57 0 9 0 6 0 1 0 5 0 14 0-101 1 32 0 1 0 4 0 7 0 8 0 3 0 14 0 16 0 5 0 12 0 2 0 1 0 41 0-141 1 2 0 4 0 30 0 3 0 31 0 16 0-57 1 15 0 2 0 15 0 1 0 22 0 6 0 1 0-52 1 2 0 2 0 3 0 41 0 2 0 6 0 1 0-61 1 5 0 5 0 9 0 8 0 7 0 3 0 3 0 2 0 3 0 15 0-63 1 1 0 3 0 13 0 12 0 7 0 13 0 5 0 3 0 2 0 1 0 3 0 1 0-64 1 6 0 1 0 18 0 25 0 15 0 35 0 6 0-112 1 4 0 33 0 2 0 1 0 13 0 4 0 8 0 2 0-50 1 5 0 4 0 19 0 6 0 8 0 6 0 7 0-57 1 1 0 6 0 11 0 3 0 2 0 6 0-50 1 23 0 2 0 3 0 3 0 7 0 14 0 6 0 11 0-59 1 3 0 35 0 4 0 12 0-43 1 8 0 18 0 16 0-49 1 44 0-46 1 12 0 1 0 1 0 4 0 9 0 21 0-51 1 4 0 2 0 1 0 10 0 5 0 2 0 9 0 17 0 8 0-55 1 5 0 26 0 1 0 6 0 26 0-71 1 11 0 19 0 4 0 3 0 30 0 1 0-67 1 2 0 19 0 2 0 3 0 2 0 5 0 17 0 6 0 1 0 9 0-48 1 7 0 27 0 2 0 4 0 2 0 2 0-66 1 11 0 4 0 8 0 1 0 6 0 10 0 4 0 2 0 21 0 6 0 2 0-59 1 6 0 4 0 6 0 11 0 13 0 5 0 8 0 9 0-57 1 3 0 3 0 9 0 8 0 24 0-71 1 3 0 3 0 33 0 2 0 3 0 1 0 4 0 8 0 3 0 5 0 7 0-72 1 47 0 10 0 6 0-50 1 10 0 9 0 19 0 2 0 3 0 3 0 19 0-77 1 5 0 22 0 6 0 4 0 1 0 15 0 25 0 2 0-77 1 1 0 32 0 1 0 10 0 2 0 8 0 8 0-65 1 10 0 3 0 7 0 11 0 17 0 7 0 10 0 10 0 7 0 3 0-78 1 12 0 4 0 4 0 19 0 8 0 12 0 12 0-75 1 10 0 36 0 5 0 1 0 9 0-51 1 35 0 1 0 14 0 2 0-63 1 23 0 6 0 1 0 7 0 37 0 3 0 2 0-60 1 1 0 5 0 8 0 4 0 12 0 8 0 12 0-64 1 7 0 1 0 2 0 3 0 11 0 17 0 12 0 3 0 7 0 7 0 2 0-70 1 15 0 8 0 28 0 4 0 2 0 9 0-66 1 13 0 6 0 5 0 1 0 3 0 15 0 18 0 1 0 7 0 1 0-76 1 1 0 16 0 6 0 3 0 7 0 17 0 5 0 8 0 1 0 2 0 1 0 16 0-80 1 8 0 21 0 5 0 10 0 5 0 12 0 1 0 10 0 1 0-78 1 8 0 16 0 14 0 15 0 6 0 6 0 18 0-78 1 1 0 10 0 3 0 4 0 3 0 2 0 8 0 7 0 10 0 10 0 5 0-55 1 24 0 3 0 9 0 2 0 15 0 14 0-85 1 11 0 23 0 2 0 3 0 25 0-40 1 3 0 9 0 11 0 5 0 2 0 3 0 6 0 13 0 1 0 5 0 8 0-76 1 1 0 28 0 5 0 9 0 13 0 3 0 6 0 12 0-73 1 3 0 24 0 15 0 30 0-76 1 5 0 12 0 13 0 6 0 8 0 17 0 2 0 6 0 7 0-73 1 8 0 1 0 8 0 18 0 7 0 9 0 8 0-64 1 8 0 12 0 2 0 5 0 4 0 9 0 4 0 2 0 17 0 4 0 10 0 10 0 10 0-93 1 4 0 14 0 7 0 13 0 19 0 28 0-86 1 26 0 16 0 1 0 6 0 13 0 2 0 28 0-77 1 3 0 6 0 14 0 1 0 6 0 10 0-28 1 3 0 4 0 4 0 7 0 8 0 8 0 2 0 4 0 2 0-47 1 18 0 21 0-26 1 2 0 3 0 25 0-36 1 1 0 25 0 7 0-24 1 3 0 1 0 3 0 6 0 16 0 1 0 1 0 5 0-35 1 3 0-5 1 1 0 6 0 10 0 2 0 5 0 13 0-45 1 5 0 6 0 4 0 10 0 8 0 10 0 1 0-39 1 24 0-19 1 9 0 3 0 7 0 13 0-31 1 5 0 12 0 1 0 1 1 9 0-3 1 3 0 2 0-13 2 10 2 55 4-1 1 3 0-5 1 5 0-10 2 3 0-4 1-63 13-6 3 4 1-3 1-4 1 7 0-4 1-1 1 1 2-2 1 2 0" fill="none" stroke="none" marker-start="url(#k11)" marker-mid="url(#k11)" marker-end="url(#k11)"/>
<path d="M716 1319l2 5 0 3-13 1 4 0 1 0-2 1 4 0 6 1 1 0 5 1-20 1 4 0 8 0-9 1 11 0-15 1 14 0-12 1 1 1 5 0 3 0 2 0 10 0-7 1-11 1 6 0-1 1 2 0 7 0-15 1 3 0 4 0 1 0 2 0-10 1 2 0 6 0 2 0 5 0 2 0-9 1-9 1 6 0 5 1-2 1 1 0 4 0 1 0 2 0-9 1-1 1-4 1 2 0 1 1 9 0 1 0-4 1 1 1 3 7 2 5 28 0 31 0 11 0-71 1-11 1 70 0-35 1 2 0 2 0 59 0-52 1 23 1 14 1 11 0 7 0-55 1 18 0 6 1 30 0 4 0-15 1 4 0-1 5-12 1-72 4 56 0 44 0-97 1 57 0 2 0-22 1 5 0 29 0-4 1 2 1 22 0-43 1 3 0-56 1 90 2 4 0 6 0-12 1 17 0 3 0-46 1 20 0-111 1 120 0 13 0-127 1 85 0 6 0 3 0 4 0 37 0-143 2 12 0-18 1 149 0-59 2-77 1 129 0-48 1 29 0 23 0-147 1 100 0 38 0-123 1 4 1 80 0-100 1 16 0 3 0-49 1 36 0 22 0-73 1 5 0 6 0 31 0 22 0 80 0-139 1 5 0 9 0 24 0 7 0 6 0 6 0-58 1 14 0 3 0 23 0-31 1 2 0 28 0-25 1 1 0 40 0-56 1 4 0 33 0 3 0-49 1 11 0 54 0 11 0 89 0-145 1 1 0 6 0 5 0 42 0 13 0-79 1 13 0 19 0 5 0 27 0 17 0 59 0 31 0-156 1 1 0 8 0 17 0 1 0 34 0-82 1 20 0 5 0 5 0 4 0 3 0 2 0 15 0 23 0 55 0 7 0 19 0 3 0-134 1 21 0 121 0-145 1 2 0 22 0 7 0 9 0 3 0 15 0 13 0-87 1 14 0 2 0 21 0 9 0 26 0 61 0-140 1 12 0 1 0 26 0 45 0 18 0-51 1 20 0 17 0 5 0 3 0 26 0 2 0 9 0 38 0 4 0-163 1 43 0 12 0 19 0 39 0 39 0 6 0-170 1 12 0 1 0 47 0 28 0 34 0 16 0-138 1 6 0 12 0 3 0 32 0 8 0 6 0 1 0 10 0 8 0 12 0 44 0-138 1 7 0 11 0 13 0 16 0 19 0 7 0 15 0 6 0 3 0 4 0 3 0 37 0 24 0 1 0-168 1 10 0 2 0 7 0 27 0 11 0 16 0 6 0 13 0 12 0 26 0-128 1 13 0 23 0 5 0 21 0 17 0 65 0 3 0-151 1 18 0 22 0 22 0 40 0 33 0 19 0 2 0 2 0 7 0-162 1 2 0 9 0 22 0 3 0 22 0 10 0 2 0 8 0 5 0 22 0-107 1 17 0 18 0 55 0 26 0 47 0-164 1 7 0 2 0 63 0 2 0 20 0 29 0 8 0 25 0-151 1 13 0 37 0 18 0 5 0 4 0 14 0 30 0 20 0-140 1 6 0 48 0 1 0 11 0 1 0 3 0 19 0 51 0 4 0-142 1 1 0 40 0 19 0 2 0 3 0 19 0 17 0 2 0 12 0 19 0-89 1 1 0 3 0 1 0 17 0 34 0 24 0 39 0-124 1 24 0 16 0 3 0 17 0 21 0-95 1 14 0 4 0 49 0 4 0 4 0 22 0 4 0 9 0 1 0-95 1 16 0 20 0 72 0-103 1 1 0 33 0 16 0 2 0-61 1 2 0 15 0 46 0-38 1 9 0 11 0-52 1 1 0 1 0 26 0 1 0 7 0 4 0-27 1 6 0 5 0 5 0 4 0 13 0 6 0 4 0 11 0 26 0 10 0-87 1 3 0 22 0 4 0 15 0 5 0 26 0-59 1 3 0 4 0 46 0-86 1 19 0 40 0 26 0-86 1 2 0 46 0 13 0 24 0 15 0-93 1 7 0 3 0 1 0 7 0 31 0 32 0 3 0 3 0-90 1 4 0 3 0 43 0 12 0 20 0 11 0-91 1 9 0 28 0 7 0 13 0 6 0-63 1 7 0 2 0 73 0-89 1 16 0 13 0 1 0 2 0 14 0 9 0 18 0-75 1 1 0 20 0 31 0 8 0 8 0 4 0-63 1 18 0 20 0 28 0 6 0-84 1 16 0 23 0 1 0 8 0 5 0 1 0 9 0-56 1 3 0 27 0 35 0-71 1 2 0 2 0 32 0 12 0 33 0-61 1 3 0 8 0 5 0 20 0 20 0-76 1 1 0 4 0 6 0 3 0 22 0 3 0 21 0 2 0 29 0-89 1 2 0 22 0 8 0 16 0 12 0 3 0-67 1 7 0 11 0 44 0 30 0-83 1 17 0 13 0 19 0 10 0 4 0 7 0 2 0-60 1 23 0 5 0 19 0 1 0 7 0 9 0-82 1 1 0 12 0 3 0 1 0 42 0-53 1 29 0 10 0 12 0 19 0-64 1 8 0 2 0 5 0 16 0 20 0 15 0-77 1 5 0 12 0 5 0 5 0 6 0 3 0 10 0 6 0 26 0-63 1 19 0 47 0-85 1 6 0 12 0 54 0-68 1 1 0 3 0 1 0 5 0 38 0 6 0 18 0 3 0-72 1 9 0 2 0 3 0 2 0 7 0 22 0-39 1 9 0 15 0 44 0-76 1 7 0 10 0 28 0 10 0 10 0-66 1 26 0 2 0 2 0 22 0 11 0 4 0 4 0 1 0-53 1 42 0 3 0 2 0 16 0-75 1 11 0 7 0 1 0 25 0 1 0-47 1 18 0 22 0 16 0 6 0 2 0 1 0 8 0-70 1 5 0 16 0 3 0 21 0 2 0 8 0 8 0-69 1 12 0 5 0 5 0 29 0-43 1 1 0 24 0 8 0 4 0 32 0-51 1 5 0 12 0 26 0 8 0 4 0 10 0-60 1 8 0-25 1 12 0 8 0 15 0 17 0 4 0 6 0 26 0-80 1 8 0 1 0 9 0 15 0 8 0 2 0 3 0 5 0 19 0 4 0-59 1 25 0 9 0 8 0-33 1 6 0 2 0 6 0-29 1 29 0 13 0-27 1-14 1 18 0 13 0 5 0-37 1 28 0 13 1 4 0 3 0-40 1 3 0 6 0 16 0 3 0 3 0 7 0 1 0-48 1 15 0 9 0 2 0 2 1 1 0-10 1 12 1 10 0-23 1 23 0-16 1 4 1 10 0 1 0-10 1 19 0-14 1 43 3 12 5 7 1-7 1-66 11-4 6 1 1 2 0-5 1 1 4 1 0-4 4 5 0" fill="none" stroke="none" marker-start="url(#k12)" marker-mid="url(#k12)" marker-end="url(#k12)"/>
<path d="M705 1325l9 3 4 1-3 1 1 0 5 0-12 1 1 0 8 0-10 1 14 0 5 0-18 1 4 1-1 1-4 1 8 1-14 1 23 1 0 2-10 1 10 1-16 3 1 1 4 2 68 3 21 2-7 2-16 1 4 0-63 1 73 0-20 1 5 0 7 0 6 0 9 1-19 1 5 0-20 1 6 1 1 0 2 0 5 0 4 0 9 0 17 0-41 1 11 0 13 0-21 1 17 0-43 1 2 0 2 0 19 0 40 0 1 0-62 1 26 0 8 0 5 0 21 0-39 1 9 0-26 1 5 0 7 0 16 0 8 0-16 1 12 0 2 0 19 0 4 0-38 1 6 0 2 0 10 0 2 0 5 0 9 0 12 0-39 1 2 0 8 0 19 0-50 1 16 0 2 0 33 0 9 0-53 1 14 0 14 0 16 0 3 0-36 1 3 0 42 0-36 1 4 0 14 1 9 0-39 1 16 0 10 0-36 1 42 0 5 0 3 0 2 0 5 0-97 1 43 0 35 0-34 2 3 0 7 0 1 0 6 0 4 0 8 0 26 0 2 0-44 1 23 0 7 0-51 1 2 0-40 1 41 0 21 0 9 0 11 0-87 1 6 0 46 0 31 0 1 0 12 0-91 1 47 0 3 0 3 0 18 0 4 0 14 0 6 0 9 0-58 1 13 0 40 0-60 1 7 0 15 0 19 0 3 0-30 1 12 0 9 0 17 0-21 1 4 0 4 0 3 0 1 0 2 0 2 0-98 1 61 0 7 0 41 0-104 1 49 0 16 0 14 0-76 1 2 0 41 0 8 0 7 0 17 0 40 0-60 1 23 0 9 0 1 0-40 1 18 0 30 0 1 0-99 1 53 0 1 0 36 0 1 0 17 0-36 1 17 0-90 1 60 0 21 0-21 1 24 0 1 0 18 0 1 0-53 1 4 0 9 0-89 1 95 0 18 0 16 0 6 0 4 0-1 1 3 0-50 1 34 0 7 0 2 0-176 1 132 0 2 0 10 0 9 0-122 1 96 0 8 0 5 0 9 0-26 1 12 0 10 0 2 0-150 1 146 0-163 1 158 0-133 1 119 0 16 0-12 1 1 0 13 0 4 0-142 1 125 0 5 0 1 0 9 0 7 0-14 1 8 0 12 0-165 1 10 0 122 0 19 0 1 0 3 0 11 0-157 1 35 0 78 0 9 0 13 0 4 0 15 0-174 1 141 0 2 0 9 0-148 1 130 0 3 0 15 0 17 0 1 0-153 1 12 0 101 0 25 0 17 0-41 1 4 0 21 0 9 0 4 0 8 0-152 1 23 0 25 0 64 0 12 0 3 0-149 1 79 0 90 0-17 1 5 0 7 0 5 0-40 1 24 0 14 0 2 0-92 1 47 0 7 0 2 0 6 0 15 0-150 1 8 0 60 0 2 0 84 0 15 0-177 1 9 0 142 0 3 0 1 0 24 0-159 1 29 0 107 0 22 0 1 0-169 1 13 0 37 0 12 0 38 0 15 0 7 0 8 0 11 0 8 0 7 0 5 0-154 1 47 0 77 0 21 0 10 0-151 1 42 0 64 0 8 0 2 0 8 0 24 0 6 0-162 1 159 0-69 1 45 0 6 0 3 0 14 0 4 0-165 1 10 0 84 0 18 0 3 0 5 0 1 0 8 0 14 0 10 0-107 1 71 0 42 0-41 1 11 0 22 0-97 1 11 0 65 0 9 0 2 0 22 0-97 1 9 0 24 0 14 0 31 0 19 0-49 1 37 0-31 1 26 0 5 0-27 1 4 0 15 0 2 0 4 0-62 1 33 0 18 0 5 0-88 1 68 0-29 1 32 0 2 0-14 1 15 0-4 1 3 0-7 1 12 0 3 0-17 1-62 1 61 0 3 0 2 0-28 1 36 0-95 1 48 0 36 0-64 1 32 0 25 1 6 0-76 1 19 2 1 0 38 0 20 0-94 1 42 0 56 0-7 1 4 0 83 0-159 1-16 1 63 0 24 0-18 1 20 0-46 1 136 0-169 1-6 1 71 0-37 1-18 2 20 0 24 1-16 1 27 0-30 1 9 1 18 0-34 1 17 0 24 1-65 2 6 1 40 0-51 4 56 2-35 1 13 1 5 0 22 1 6 1 24 0 1 0-46 1 43 0-55 1 15 0 2 2 15 6-18 1-9 2 9 0 64 10 3 0 5 1-11 1 2 0 5 0-6 1-2 1-4 1 6 0 3 0 7 0-76 13-3 5 3 1-5 2 6 0-3 1-1 1-1 5" fill="none" stroke="none" marker-start="url(#k13)" marker-mid="url(#k13)" marker-end="url(#k13)"/>
<path d="M705 1341l70 6-57 2 93 4-34 1 3 1 3 0 14 0 6 0-16 1 12 0 3 0-14 1 6 0 10 0-36 1 2 0 5 0 11 0 6 0-18 1 14 0 5 0 2 0 15 0-23 1 2 0 5 0-16 1 10 0 2 0 8 0 6 0-31 1 9 0 3 0 3 0 11 0 2 0 2 0-35 1 5 0 19 0 7 0-33 1 2 0 12 0 11 0 1 0 4 0 11 0 3 0-62 1 36 0 14 0 10 0 2 0-57 1 1 0 28 0 6 0 5 0 15 0-56 1 9 0 8 0 1 0 7 0 8 0 2 0 2 0 1 0 5 0 16 0-58 1 2 0 6 0 11 0 4 0 1 0 1 0 1 0 4 0 8 0 13 0 8 0-50 1 3 0 22 0 16 0 10 0-30 1 1 0 23 0-50 1 19 0 8 0 30 0 2 0 1 0-47 1 10 0 1 0 3 0 3 0 10 0-37 1 45 0 4 0 8 0-2 1 2 0 2 0-48 1 40 0 4 0-37 1 8 0 5 0 23 0 8 0 1 0-59 1 1 0 14 0 26 0 2 0 1 0 3 0 1 0 2 0-29 1 1 0 1 0 18 0 1 0 10 0-54 1 1 0 49 0 1 0 8 0-52 1 28 0 3 0 2 0 9 0 2 0 1 0 4 0 3 0-58 1 2 0 2 0 5 0 2 0 16 0 2 0 25 0 4 0 5 0-64 1 11 0 1 0 7 0 3 0 10 0 6 0 1 0 7 0 15 0-101 1 38 0 1 0 9 0 11 0-20 1 7 0 28 0 6 0 6 0 7 0 3 0 6 0 1 0-105 1 44 0 3 0-7 1 1 0 9 0 2 0 14 0 4 0 1 0 6 0 6 0 14 0 7 0 5 0-63 1 6 0 14 0 6 0 2 0 3 0 7 0 4 0 4 0 11 0-103 1 50 0 1 0 4 0 9 0 7 0 1 0 28 0-102 1 42 0 5 0 14 0 12 0 2 0 7 0 10 0 6 0 1 0 4 0-105 1 4 0 43 0 7 0 3 0 1 0 1 0 8 0 14 0 2 0 9 0 14 0-109 1 47 0 11 0 5 0 3 0 11 0 2 0 20 0 3 0 15 0-115 1 5 0 68 0 8 0 14 0 4 0 5 0 5 0-109 1 63 0 10 0 1 0 6 0 4 0 17 0 11 0 4 0-70 1 64 0 4 0-53 1 6 0 10 0 22 0 8 0 2 0 1 0-54 1 1 0 11 0 5 0 14 0 21 0-56 1 13 0 1 0 8 0 3 0 11 0 12 0 5 0 9 0-114 1 54 0 3 0 6 0 15 0 6 0 9 0 4 0 1 0 11 0-56 1 1 0 5 0 9 0-15 1 21 0 5 0 27 0 5 0-41 1 20 0 5 0-46 1 7 0 1 0 2 0 4 0 27 0 27 0-65 1 11 0 4 0 18 0 20 0-38 1 1 0 8 0 27 0 8 0 1 0 3 0-34 1-27 1 5 0 12 0-17 1 31 0 25 0-58 1 4 0 15 0-16 1 8 0 6 0-1 2 4 0 9 0-28 1 28 0 2 0-17 1 8 0 3 0 1 0 5 1 9 0-43 1 24 0 7 0-31 1 19 0-10 1 5 0 12 0 5 0 1 0-37 1 39 0 3 0 2 0 2 0 2 0 1 0-48 1 2 0 34 0 8 0-41 1 16 0 5 0 2 0 5 0-33 1 26 0 27 0-55 1 10 0 15 0 18 0 8 0-49 1 7 0 2 0 23 0-18 1 13 0 12 1 7 0-81 1 37 0 1 0 10 0 8 0 14 0-36 1 23 0 2 0 2 0 10 0 8 0-48 1 16 0 8 0 14 0 6 0 2 0 1 0-38 1 7 0 8 0 7 0 5 0 18 0-61 1 12 0 6 0 3 0 8 0 21 0-48 1 2 0 42 0 4 0 7 0-11 1 12 0-52 1 8 0 4 0 14 0 16 0 5 0-55 1 7 0 3 0 35 0 2 0 6 0 2 0-43 1 1 0 12 0 2 0 4 0 30 0-56 1 31 0 6 0 14 0-32 1 19 0-28 1-4 1 8 0 7 0 6 0 3 0 5 0 11 0-36 1 12 0 11 0-21 1 9 0 6 0 18 0-17 1-13 1 8 0 3 0-22 1 3 0 2 0-1 1 7 0 2 0 5 0-3 2-22 1 10 0 9 0-11 1 6 0 3 0 1 0-1 1-1 1-12 1 5 0 7 0 2 0-9 1 3 1-5 1-2 1 6 0 1 0-6 1 5 0-7 1 5 0 0 1 2 0 86 0 1 1 1 0-85 1 86 0-95 1 4 0-1 1 7 20 23 29" fill="none" stroke="none" marker-start="url(#k14)" marker-mid="url(#k14)" marker-end="url(#k14)"/>
<path d="M783 1353l9 1 8 2-16 1 2 0 2 0-8 1 14 0 7 0-18 1 15 0 7 0-32 1 11 0 9 0 7 0 7 0-31 1 16 0 1 0 15 0-41 1 14 0 10 0 3 0 6 0 13 0-46 1 15 0 11 0 6 0-26 1 6 0 1 0 10 0 15 0 4 0 3 0-14 1 9 0-58 1 18 0 9 0 10 0 7 0 5 0-51 1 16 0 30 0 4 0-41 1 6 0 5 0 1 0 1 0 21 0 1 0 8 0 11 0-41 1 9 0 9 0 3 0 5 0 4 0-13 1 9 0 12 0-19 1 26 0-47 1 7 0 10 0-10 1 5 0 5 0 15 0 5 0 9 0-48 1 20 0 11 0 1 0 11 0 2 0-45 1 16 0 2 0 5 0 4 0 11 0 7 0 7 0-49 1 2 0 5 0 2 0 7 0 14 0 7 0 8 0-52 1 15 0 21 0 1 0 14 0 3 0 3 0 6 0-53 1 17 0 3 0 20 0-42 1 2 0 6 0 1 0 8 0 2 0 1 0 3 0 9 0-38 1 28 0 2 0 5 0 2 0 4 0 2 0 2 0 7 0 1 0 8 0-64 1 21 0 22 0 16 0 5 0 4 0-64 1 15 0 2 0 1 0 7 0 14 0 3 0 10 0 2 0-99 1 60 0 2 0 29 0 4 0 12 0-52 1 10 0 5 0 1 0 1 0 4 0 17 0-50 1 2 0 19 0 3 0 3 0 6 0 4 0 20 0-60 1 30 0 1 0 31 0-59 1 18 0 26 0 24 0-69 1 3 0 17 0 11 0 23 0 5 0 5 0-43 1 13 0 5 0 14 0-101 1 10 0 35 0 30 0 18 0-47 1 25 0 3 0 1 0 40 0-107 1 48 0 2 0 7 0 2 0 6 0 5 0 3 0 7 0-23 1 26 0 16 0 4 0-29 1 18 0-47 1 10 0 21 0 22 0 7 0-41 1 5 0 24 0 20 0-59 1 19 0 1 0 4 0 6 0 5 0 6 0 9 0-58 1 1 0 19 0 3 0 15 0 1 0 9 0 1 0 9 0-54 1 2 0 15 0 1 0 23 0 1 0 2 0 8 0 7 0-46 1 2 0 15 0 21 0 2 0-58 1 1 0 1 0 9 0 10 0 7 0 26 0 1 0 5 0-49 1 13 0 8 0 7 0 4 0 14 0-45 1 6 0 36 0-42 1 13 0 39 0-64 1 2 0 1 0 18 0 37 0-55 1 8 0 11 0 8 0 29 0-52 1 8 0 11 0 4 0 2 0-17 1 1 0 4 1 2 0 1 0 9 0 4 0-21 1-20 1 18 0 3 0 1 0 7 0-14 1 9 0-9 1 11 0 10 0-33 1 14 0-6 1 7 0 2 0 5 0 3 0 18 0-19 1 6 0 3 0 5 0-39 1 11 0 16 0 5 0 2 0 2 0-13 1-4 1 25 0-49 1 6 0 13 0-18 1-4 1 6 0 12 0 12 1 17 0-51 1 3 0 6 0 38 0 4 0-45 1 3 0 10 0 10 0 2 0 18 0-38 1 2 0 26 0-40 1 22 0 1 0 24 0 4 0-29 1 1 0 17 0 14 0-42 1 9 0 3 0 23 0-24 1 11 0-13 1 26 0-4 1 14 0-55 1 0 1 3 0 23 0 14 0 11 0-52 1 26 0 2 0 3 0 6 0 6 0 10 0 3 0-53 2 9 0 9 0 1 0 19 0 11 0-33 1-20 1 3 0 19 0 9 0-14 1-15 1 6 0-4 1 7 0 23 0-12 1 5 0-16 1-8 1 11 0-9 2 4 0-1 1 5 0-11 1 6 0-2 1 6 0-11 1 7 0 3 0-7 1-2 2 5 0 4 1-7 1 4 0-3 1 2 0-2 1 86 0-85 1 1 1 3 2 22 48 0 1 0 1" fill="none" stroke="none" marker-start="url(#k15)" marker-mid="url(#k15)" marker-end="url(#k15)"/>
<path d="M797 1353l-20 2 4 1 16 1 3 1-28 2 15 0 13 0 2 0-6 1-8 1 5 0-19 1 21 0 5 0-28 1 9 0 6 0 5 0-8 1 16 0 7 0-41 1 22 0 15 0-35 2 38 0 5 0-40 1 25 0-14 1 17 0-38 1 44 0 8 0 5 0-60 1 16 0 15 0-19 1 15 0 24 0 5 0 2 0-42 1 17 0 9 0-21 1 19 0 24 0-63 1 10 0 3 0 42 1-48 1 2 0 18 0 40 0-65 1 22 0 11 0 28 0-45 1 38 0-47 1 2 1 5 0 4 0 11 0 16 0 9 0-45 1 12 0 1 0 17 0 3 0 17 0-57 1 7 0 20 0 11 0-77 1 82 0 3 0 14 0-21 1 25 0-21 1 7 0 11 0-34 1 5 0 3 0 13 0 17 0-65 1 48 0-23 1 17 0-37 1 14 0 5 0 21 0-95 1 80 0 18 0-48 1 17 0 9 0 4 0 7 0-29 1 18 0 8 0 4 0 21 0-37 1 21 0 18 0-35 1 5 0-21 1 28 1-36 1 19 0-15 1 5 0 32 0 7 0 5 0-31 1 24 0 5 0 14 0-57 2 15 0-15 1 13 0 9 0 26 0-50 1 5 0 16 0 22 0 5 0 2 1-52 1 8 0 9 1-5 1-1 5 28 0-8 1-17 2-8 2 20 0 1 0-36 1 28 0-10 1 12 1 1 0-7 1-17 1 7 0 29 1-42 1 17 0 28 0-46 2 42 0-48 3 31 0-1 1 13 0 5 0 3 0-21 2-29 1 12 1 1 0 19 0-16 2-8 1-11 1 14 1 12 2-19 2 7 4-6 3-2 1-1 10" fill="none" stroke="none" marker-start="url(#k16)" marker-mid="url(#k16)" marker-end="url(#k16)"/>
<path d="M773 1364l8 0 28 0 0 1-4 1-42 1 36 6-21 1 19 0 4 3-41 1 62 2-54 1 17 1-5 1-4 1 20 1 16 0-21 1 37 0-2 1-16 1-14 2 5 0-6 1 29 0-54 2 61 2-66 1 31 1 3 1 18 5-44 3 16 1 3 1 0 6-8 3-12 2 9 0 17 0-30 3-17 3 13 1-7 2 33 6-27 1-7 20 0 5" fill="none" stroke="none" marker-start="url(#k17)" marker-mid="url(#k17)" marker-end="url(#k17)"/>
<path d="M773 1408l46 3-37 6" fill="none" stroke="none" marker-start="url(#k18)" marker-mid="url(#k18)" marker-end="url(#k18)"/>
<text x="1006.7" y="1308.0" font-size="27">Microglia</text>
<path d="M1093 1319l-11 6 6 0 7 0-13 1 12 1 1 0-13 1 2 1 2 0 6 1-11 1 5 0 7 0 2 0-15 1 2 0 4 0 1 0 8 0 9 0-20 1 9 0-9 1 1 0 1 0 8 0 1 0-15 1 4 0 5 0 2 0-10 1 1 0 3 0 3 0 1 0 4 0 5 0-16 1 1 0 1 0 1 0 4 0 13 0 1 0-11 1 4 0-14 1 2 0 2 0 5 0 5 0 2 0 3 0-19 1 2 0 3 0 7 0-12 1 8 0 8 0-17 1 6 0 2 0 4 0 8 0 1 0-19 1 6 0 2 0 3 0 7 0-10 1 6 1 1 0 1 0-13 1 5 0 6 0-10 1 2 0 8 0 1 0 2 0 1 0-15 1 65 0-64 1 2 0 1 0 1 0 3 0 1 0 2 0 2 0-11 1 10 0-4 1 2 0-10 1 72 0 29 1-34 1 26 0-26 1 3 0 23 0-22 1 2 0 4 0 13 0 2 0-22 1 8 0 11 0 5 0-10 1 6 0-77 1 47 0 4 0 1 0 5 0 6 0 2 0 6 0 3 0 3 0-28 1 1 0 6 0 5 0 3 0 2 0 3 0 1 0 8 0 5 0 4 0-88 1 65 0 6 0 4 0-29 1 5 0 3 0 6 0 6 0 3 0 7 0 1 0 1 0 3 0-79 1 43 0 1 0 5 0 1 0 7 0 1 0 6 0 5 0 6 0 1 0 10 0-86 1 48 0 1 0 1 0 2 0 4 0 1 0 6 0 3 0 4 0 2 0 13 0 2 0-41 1 3 0 9 0 2 0 6 0 1 0 1 0 12 0 3 0 2 0-85 1 42 0 10 0 8 0 2 0 2 0 5 0 5 0 2 0 3 0 5 0 2 0-47 1 5 0 7 0 2 0 5 0 1 0 4 0 1 0 1 0 6 0 14 0 2 0-50 1 6 0 2 0 1 0 6 0 5 0 6 0 3 0 14 0 2 0 4 0 1 0-49 1 1 0 7 0 1 0 7 0 3 0 6 0 2 0 6 0 1 0 3 0 7 0 6 0-43 1 7 0 2 0 5 0 1 0 1 0 1 0 1 0 3 0 5 0 4 0 8 0 6 0-52 1 15 0 2 0 2 0 2 0 8 0 16 0 4 0 2 0 1 0 1 0 2 0 1 0-59 1 9 0 7 0 5 0 2 0 3 0 3 0 2 0 8 0 8 0-35 1 4 0 10 0 1 0 14 0 6 0 1 0 11 0 1 0-60 1 7 0 9 0 2 0 3 0 12 0 5 0 4 0 8 0 1 0 8 0 1 0-53 1 6 0 5 0 2 0 1 0 1 0 12 0 6 0 12 0 5 0 6 0-62 1 7 0 2 0 1 0 1 0 2 0 5 0 1 0 3 0 2 0 2 0 1 0 27 0 1 0 7 0 1 0-61 1 3 0 33 0 4 0 4 0 2 0 1 0 3 0 1 0 2 0 1 0 3 0 5 0-58 1 3 0 3 0 14 0 1 0 1 0 2 0 2 0 1 0 6 0 1 0 5 0 2 0 5 0 5 0 9 0-64 1 2 0 8 0 6 0 1 0 10 0 4 0 2 0 7 0 9 0 1 0 9 0-51 1 8 0 6 0 8 0 1 0 5 0 1 0 2 0 1 0 3 0 2 0 2 0 5 0 1 0 2 0 1 0 4 0 1 0 2 0-59 1 3 0 1 0 31 0 13 0 4 0 2 0 8 0-67 1 2 0 1 0 7 0 3 0 3 0 1 0 2 0 2 0 8 0 1 0 2 0 2 0 6 0 5 0 1 0 10 0 6 0 1 0 2 0-64 1 3 0 11 0 5 0 1 0 1 0 1 0 12 0 8 0 23 0-66 1 1 0 2 0 4 0 3 0 14 0 5 0 1 0 1 0 11 0 1 0 6 0 2 0 4 0 9 0 1 0-64 1 1 0 2 0 10 0 9 0 11 0 1 0 4 0 2 0 2 0 16 0-60 1 27 0 3 0 1 0 11 0 1 0 15 0 7 0 3 0 1 0-67 1 5 0 14 0 12 0 2 0 2 0 1 0 9 0 4 0 2 0 4 0 1 0 7 0 5 0-68 1 4 0 2 0 13 0 4 0 8 0 6 0 12 0 2 0 8 0 5 0-65 1 5 0 14 0 3 0 9 0 2 0 7 0 1 0 9 0 6 0 1 0 2 0-56 1 7 0 3 0 1 0 1 0 8 0 5 0 7 0 2 0 2 0 2 0 4 0 2 0 1 0 4 0 2 0 4 0 4 0-63 1 9 0 14 0 5 0 1 0 3 0 4 0 4 0 3 0 10 0 3 0 11 0 4 0-61 1 1 0 1 0 6 0 7 0 3 0 7 0 2 0 5 0 2 0 6 0 1 0 4 0 4 0 5 0 4 0-64 1 15 0 2 0 12 0 1 0 5 0 2 0 4 0 5 0 11 0 2 0 8 0-69 1 7 0 3 0 5 0 3 0 6 0 4 0 2 0 2 0 4 0 15 0 10 0 6 0-62 1 10 0 6 0 13 0 6 0 3 0 1 0 1 0 8 0 5 0 5 0 2 0-55 1 1 0 11 0 2 0 5 0 2 0 2 0 7 0 12 0 1 0 12 0 7 0-66 1 9 0 5 0 7 0 4 0 7 0 6 0 5 0 5 0 5 0 9 0-62 1 1 0 4 0 15 0 3 0 5 0 4 0 5 0 9 0 2 0 10 0-59 1 2 0 1 0 2 0 2 0 1 0 9 0 1 0 4 0 1 0 6 0 17 0 3 0 15 0-62 1 2 0 1 0 3 0 12 0 3 0 9 0 1 0 2 0 12 0 4 0 3 0 2 0 1 0 3 0-59 1 1 0 7 0 2 0 8 0 2 0 23 0 6 0 1 0 3 0 1 0 5 0 4 0-66 1 7 0 3 0 4 0 2 0 4 0 14 0 4 0 7 0 14 0 1 0 3 0 4 0-58 1 5 0 10 0 2 0 9 0 18 0 12 0-56 1 5 0 1 0 1 0 2 0 1 0 3 0 5 0 3 0 20 0 4 0 3 0 5 0 1 0 3 0-64 1 3 0 7 0 3 0 8 0 4 0 1 0 3 0 1 0 4 0 19 0 5 0-55 1 2 0 3 0 3 0 4 0 6 0 9 0 18 0 6 0 4 0-55 1 1 0 7 0 1 0 11 0 3 0 2 0 2 0 2 0 27 0-57 1 3 0 2 0 8 0 5 0-8 1 3 0 3 0 5 0-8 1 5 0-11 1 1 0 3 0 3 0 1 0 6 0 3 0-16 1 5 0 4 0 6 0 7 0-22 1 8 0 8 0 5 0-26 1 9 0 11 0 1 0 12 0 3 0 1 0-38 1 9 0 2 0 2 0 3 0 3 0 6 0 5 0 2 0 5 0-36 1 12 0 5 0 6 0 3 0-35 1 3 0 4 0 5 0 8 0 2 0 4 0 1 0 1 0 1 0 4 0 2 0 1 0 1 0-16 1 3 0 6 0 6 0 1 0 1 0 3 0 2 0-45 1 3 0 18 0 1 0 14 0 1 0 3 0 5 0-47 1 5 0 3 0 5 0 6 0 7 0-26 1 26 0 16 0 11 0-54 1 9 0 17 0 5 0 3 0 4 0 6 0 5 0 1 0-51 1 3 0 1 0 5 0 2 0 17 0 6 0 9 0-48 1 2 0 1 0 11 0 4 0 16 0-25 1 11 0 9 0 17 0 3 0 4 0-43 1 2 0 1 0 12 0 2 0 1 0 3 0 8 0-40 1 7 0 6 0 10 0 21 0 3 0 4 0-43 1 2 0 12 0 6 0 8 0 6 0 1 0 4 0 1 0 3 0 2 0-40 1 3 0 5 0 3 0 4 0 7 0 4 0 7 0 1 0 1 0 9 0-45 1 2 0 1 0 3 0 4 0 1 0 23 0 1 0 4 0-53 1 3 0 20 0 24 0 2 0 8 0-43 1 19 0 3 0 9 0 5 0 4 0 3 0-55 1 2 0 1 0 5 0 8 0 11 0 1 0 2 0 10 0 5 0-43 1 3 0 29 0 4 0 2 0 2 0 5 0 5 0-48 1 1 0 2 0 1 0 13 0 5 0 1 0 2 0 3 0 6 0 6 0 12 0 1 0-43 1 3 0 1 0 14 0 5 0 13 0 3 0-48 1 14 0 4 0 15 0 12 0-49 1 12 0 3 0 4 0 1 0 17 0 1 0-32 1 14 0 6 0 3 0 3 0 5 0-28 1 5 0 16 0 1 0 1 0-29 1 4 0 8 0 7 0 6 0 1 0 14 0-21 2 4 0-18 1 7 0 7 0-20 1 9 0 2 0 1 0 7 0-14 1 12 0-16 1 12 0 3 0-22 1 8 0 1 0 1 0 1 0-2 1 2 0 1 0 5 0 2 0-15 1 4 0 7 0 3 0-13 1 5 0 1 0 4 0 1 0-13 1 15 0-13 2 5 0 2 0 0 1 2 0-9 1 6 0 1 0-6 1 3 0-5 1 4 0 86 0-86 1 1 1 1 0 89 0 0 1-94 1 4 1 2 21 26 27 2 1" fill="none" stroke="none" marker-start="url(#k10)" marker-mid="url(#k10)" marker-end="url(#k10)"/>
<path d="M1092 1325l2 0-12 2 5 1 3 0 4 1-8 1 2 0 10 0-11 1-3 1 1 0 13 0 2 0-6 3 1 0-7 1 3 1-7 1 9 0-15 1 4 1 7 0 8 0 5 0-20 1 2 0 1 0 6 0 1 0 2 0 4 1 2 0-17 1 5 0 5 1-8 1 6 0 1 0 1 0-2 1 2 0 3 0 4 0-5 1 2 0-8 3 70 3 9 1 5 0 0 2 5 0-18 1 4 0 8 0 1 0-76 1 47 0 18 0-64 1 61 0 9 0 1 0 2 0 9 0-78 1 61 0 6 0 6 0 1 0 2 0-79 1 55 0 4 0 6 0 8 0 8 0 4 0-27 1 4 0 4 0 3 0 2 0-25 1 14 0 2 0 3 0 6 0 1 0 18 0-90 1 43 0 13 0 2 0 11 0 2 0 16 0-98 1 56 0 5 0 7 0 12 0 6 0 8 0 1 0 1 0-38 1 23 0 12 0-28 1 8 0 7 0 5 0 14 0-43 1 1 0 3 0 7 0 4 0 7 0 1 0-26 1 1 0 11 0 10 0 8 0 4 0 4 0 7 0 1 0-38 1 9 0 24 0 1 0-19 1 4 0 13 0-33 1 2 0 6 0 9 0 12 0 7 0 10 0-37 1 23 0 5 0 4 0 1 0 2 0-56 1 25 0 8 0 3 0 1 0 11 0 2 0 2 0 2 0-26 1 22 0 7 0-42 1 9 0 5 0 2 0 7 0 5 0 19 0-46 1 3 0 17 0 8 0 8 0 2 0-47 1 6 0 13 0 2 0 3 0 12 0 9 0 2 0-54 1 1 0 1 0 7 0 2 0 15 0 3 0 16 0 7 0 1 0 8 0-58 1 3 0 48 0 10 0-52 1 2 0 7 0 9 0 11 0 2 0 8 0 4 0 6 0-54 1 7 0 4 0 4 0 2 0 1 0 3 0 13 0 2 0 5 0 7 0 3 0 1 0 4 0-62 1 9 0 9 0 3 0 17 0 11 0 4 0 6 0-61 1 6 0 3 0 8 0 4 0 10 0 6 0 12 0 9 0-55 1 2 0 3 0 19 0 3 0 1 0 5 0 1 0 9 0 3 0 4 0 11 0-63 1 8 0 2 0 2 0 19 0 1 0 8 0 12 0 1 0 8 0 7 0-65 1 6 0 2 0 1 0 2 0 12 0 13 0 24 0-53 1 1 0 3 0 1 0 15 0 1 0 1 0 3 0 9 0 4 0 3 0 3 0 5 0 6 0-58 1 14 0 18 0 4 0 18 0 7 0-65 1 23 0 10 0 9 0 7 0-53 1 1 0 11 0 5 0 3 0 8 0 2 0 3 0 11 0 3 0 2 0 15 0-45 1 2 0 6 0 4 0 3 0 7 0 19 0-56 1 7 0 19 0 6 0 21 0 7 0 1 0 2 0-48 1 2 0 8 0 1 0 6 0 30 0 5 0 1 0-59 1 13 0 7 0 5 0 24 0 4 0 5 0-65 1 18 0 5 0 1 0 13 0 21 0-54 1 4 0 8 0 12 0 3 0 9 0 10 0 8 0 2 0-56 1 9 0 9 0 6 0 6 0 1 0 5 0 1 0 6 0 1 0 3 0-9 1 6 0 10 0-39 1 5 0 5 0 12 0 17 0 1 0-59 1 1 0 3 0 5 0 3 0 1 0 16 0 11 0 6 0 9 0 6 0-53 1 31 0 12 0 1 0 1 0-51 1 15 0 2 0 21 0 14 0 1 0 7 0-49 1 43 0 2 0 7 0-39 1-17 1 1 0 7 0 4 0 2 0 8 0-26 1 3 0 1 0 8 0 10 0 7 0-17 1 4 0 6 0-22 1 15 0 1 0 3 0 1 0 8 0 3 0-30 1 16 0-26 1 22 0 4 0 3 0 29 0-43 1 6 0 3 0 11 0 2 0-17 1 6 0 2 0 3 0 1 0 11 0-39 1 13 0 12 0 8 0-36 1 2 0 8 0 4 0 12 0 6 0-30 1 5 0 11 0 22 0-40 1 1 0 10 0 5 0 2 0 3 0 13 0-38 1 1 0 40 0 8 0 1 0-49 1 13 0 12 0 9 0 2 0 2 0 7 0 2 0-45 1 2 0 1 0 13 0 2 0 1 0 6 0 5 0-32 1 19 0-25 1 2 0 6 0 3 0 4 0 6 0 7 0 7 0 2 0 8 0 2 0-15 1 10 0 3 0 3 0-46 1 6 0 1 0 5 0 3 0 2 0 2 0 24 0 4 0-51 1 6 0 16 0 9 0 7 0 14 0 1 0-44 1 1 0 10 0 10 0 12 0 7 0 1 0 4 0 1 0-34 1 8 0 2 0 1 0 1 0 18 0 2 0 2 0-54 1 3 0 12 0 3 0 3 0 6 0 3 0 7 0 1 0 1 0 9 0 2 0-54 1 14 0 6 0 2 0 15 0 5 0-35 1 4 0 17 0 8 0-35 1 5 0 31 0 14 0 4 0 1 0-50 1 21 0 9 0 3 0 10 0 5 0 3 0 2 0-53 1 3 0 4 0 5 0 13 0 19 0 2 0-55 1 9 0 1 0 11 0 11 0 13 0 6 0 4 0-50 1 1 0 4 0 8 0 9 0 1 0 9 0 22 0-28 1 2 0 9 0 14 0-50 1 9 0 3 0 9 0 9 0 11 0 11 0-43 1 12 0 3 0 1 0 5 0-31 1 3 0 3 0 7 0 1 0 21 0 11 0-35 1 6 0 5 0 14 0-34 1 6 0 5 0 8 0 4 0 2 0-17 1 1 0 2 0 15 0 6 0-19 1 1 0 6 0 4 0 2 0-27 1 3 0 3 0 4 0 2 0-7 1 2 0 1 0 2 0 4 0 2 0 2 1 4 0-18 1 1 0 2 0 1 0-6 1 7 0 3 0-10 1 9 0 2 0 4 0-12 1 1 0 6 1-9 1 2 0 2 0 2 0-4 1-4 1 7 0-5 1 2 0 2 0-4 1 8 0-7 1 2 0 2 0 83 0-85 1-1 1 2 0-3 1-2 1 8 0 84 0 1 0 1 0-90 1 3 0-3 1 34 44 2 1-6 1-1 1 7 0-8 2 4 1" fill="none" stroke="none" marker-start="url(#k11)" marker-mid="url(#k11)" marker-end="url(#k11)"/>
<path d="M1092 1331l-1 12 94 30 2 16-6 2-4 1 2 5 11 1-132 11 86 3-6 7 13 0 13 1-28 8 27 0 6 3-36 2 24 1-85 5 57 0 5 18 86 2-82 24 34 25-14 1 9 0 1 0 4 0-9 1-5 1 4 0-6 1 1 0 6 0 8 0" fill="none" stroke="none" marker-start="url(#k12)" marker-mid="url(#k12)" marker-end="url(#k12)"/>
<path d="M1124 1366l-1 1 8 0-3 1 4 0-32 22-26 17-52 5 45 1-17 2 33 2 5 0-35 3-33 3 85 0-53 4-5 3 47 0-13 2 15 0-10 1-30 2 58 1-16 1-48 3 13 0 36 2-3 6-34 1-2 4-11 4 170 2-174 3 18 1 12 3 11 0 18 8-41 2 71 6 8 1-55 1 58 0-5 1 12 20 18 2-6 1-3 1 11 0-9 1-5 2 3 0" fill="none" stroke="none" marker-start="url(#k13)" marker-mid="url(#k13)" marker-end="url(#k13)"/>
<path d="M1126 1367l3 1 4 3-35 12-4 7-3 2 6 0-31 1 26 0-20 1 19 5-26 1 10 0-18 1 4 0 9 0-6 2 7 0 1 3 10 0 1 0-30 1 21 0-52 1 38 0 3 0 9 0-68 1 51 0 13 1 9 0-68 1 58 0 15 0-18 1 6 0 3 1 10 0-43 1 14 0 11 0-42 1 3 0 32 0 13 0-54 1 12 0 25 1 18 1-50 1 49 0-19 1 9 0 1 0 54 0-111 1 3 0 14 0 25 0 40 0-28 1 20 0 2 0-61 1 39 0 1 0 2 0 11 0 2 0 7 0 12 0 6 0-5 1-81 1 6 0 6 0 3 0 11 0 36 0 29 0 10 0-96 1 65 0 15 0 9 0-79 1 46 0 37 0-94 1 93 0-100 2 11 0 45 0 13 0 8 0 27 0-104 1 32 0 58 0-94 1 2 0 14 0 30 0 48 0-88 1 1 0 68 0 12 0 10 0-41 1 16 0 14 0 1 0 1 0 18 0-63 1 25 0 42 0-63 1 2 0 5 0-5 1 45 0 14 0-73 1 71 0-33 1 9 0-39 1 4 0 2 1 8 1 10 0 22 0-49 1 29 0-18 1 3 0 2 0 2 0 6 0 22 0-22 1 8 0 12 0 15 0-25 1-16 1 2 0 28 0-43 2 11 0 1 0 54 1-31 1-11 1-35 1 23 0 12 0 18 0-36 1 44 0-16 1 3 0 29 0-77 1 20 0 31 0-28 1-22 1 1 0 32 0 45 0-58 1 14 1 12 0 24 0 3 1-77 1 18 0 38 0-42 1 29 0 35 0-63 2 4 0 30 0 5 0-38 2 9 0 6 0 3 0 11 0 25 0 6 1 5 0-19 1 15 0-69 1 10 0 32 0-28 1-18 1 16 0 16 0-1 1 33 0 13 0-32 1 17 0 3 0-62 1 46 0-19 2 47 1-72 1 7 0 1 0 18 0-12 1 55 0-37 1 13 0-20 1 18 0-24 1 26 0 40 0-37 1 17 0 31 0-46 1 42 0 2 0 3 0-80 1 17 0 17 0-15 1 18 0-26 1 33 1-30 1 24 0 9 0-8 1-25 2 29 0 13 0-32 1 6 3 22 2-10 2 61 8-3 2 1 0-67 13-4 6-4 1 1 1 5 0-6 7" fill="none" stroke="none" marker-start="url(#k14)" marker-mid="url(#k14)" marker-end="url(#k14)"/>
<path d="M1128 1363l0 3 1 0-6 1 8 1 3 2-35 11 0 3-3 1 1 0 4 0-9 1 6 1-1 2-7 2-4 1 4 0-24 1-3 1 33 0-26 1 1 0-10 1 2 0 29 0-29 1 29 0-30 2 3 0 1 0-10 1 8 0 6 1-11 1 7 0-4 1 1 0 6 0 3 0 5 0-22 1 7 0 14 0-52 1 32 0 15 0 9 0-27 1 4 0 2 0 2 0 16 0-67 1 1 0 13 0 38 0 10 0-51 1 49 0 8 0-62 1 13 0-5 1 12 0-21 1 11 0 3 0 1 0 39 0 4 0 7 0-75 2 3 0 3 0 4 0 13 0 42 0 3 0 5 0 15 0-89 1 7 0 14 0 1 0 4 0 2 0 5 0 20 0 7 0 3 0 12 0 1 0-66 1 42 0 11 0 3 0 14 0-79 1 23 0 3 0 6 0 17 0 26 0 6 0-79 1 2 0 18 0 10 0 4 0 3 0 15 0 2 0 2 0 14 0 4 0-78 1 11 0 40 0 38 0 13 0-97 1 23 0 2 0 25 0 2 0 2 0 5 0 21 0 14 0-95 1 13 0 9 0 1 0 1 0 46 0 10 0 17 0-84 1 7 0 65 0 9 0 2 0 6 0-104 1 23 0 24 0 8 0 19 0 14 0 10 0-43 1 14 0 27 0 5 0-87 1 5 0 16 0 20 0 8 0-60 1 15 0 13 0 1 0 31 0 21 0 4 0-88 1 8 0 3 0 8 0 53 0 25 0 10 0-102 1 43 0 6 0 17 0 12 0 14 0 12 0-102 1 16 0 19 0 6 0 33 0 21 0-99 1 3 0 14 0 1 0 1 0 43 0 7 0 38 0-101 1 11 0 19 0 17 0 8 0 2 0 8 0 2 0 34 0-106 1 8 0 27 0 5 0 7 0 37 0 3 0-43 1 13 0 1 0 11 0 20 0 16 0 2 0-57 1 1 0 12 0 9 0 8 0-67 1 23 0 23 0 10 0 2 0 4 0 16 0-84 1 2 0 28 0 3 0 8 0 1 0 7 0 8 0 8 0 18 0 18 0-52 1 3 0 8 0 2 0 4 0 5 0 29 0-54 1 17 0 28 0 1 0 5 0-54 1 5 0 43 0 5 0-60 1 6 0 4 0 25 0 6 0 4 0-42 1 19 0 25 0 7 0 3 0 1 0-64 1 11 0 1 0 24 0 7 0 22 0-63 1 16 0 5 0 11 0 1 0 3 0-35 1 17 0 17 0 3 0 30 0-56 1 16 0 6 0 21 0-52 1 11 0 4 0 8 0 2 0 31 0-61 1 55 0-55 1 6 0 7 0 7 0-21 1 7 0 19 0 20 0 14 0-58 1 3 0 3 0 9 0 5 0 30 0-47 1 6 0 12 0 2 0 10 0 14 0-44 1 1 0 9 0 19 0 8 0 14 0 9 0 3 0 1 0-71 1 17 0 13 0 4 0 8 0 14 0 10 0-65 1 23 0 1 0 9 0 22 0 10 0 8 0-55 1 35 0 6 0 7 0 2 0-73 1 12 0 18 0 6 0 1 0 3 0 3 0 20 0 12 0 2 0-54 1 10 0 6 0 30 0-65 1 1 0 22 0 17 0 10 0 3 0 12 0-31 1 4 0-37 1 16 0 15 0 21 0 4 0 1 0 14 0-75 1 3 0 2 0 15 0 8 0 18 0 3 0 3 0 7 0 2 1-60 1 10 0 35 0-39 1 6 0 16 0 23 0 5 0 11 0 1 0-68 1 18 0 43 0 1 0 2 0 2 0 3 0 12 0-81 1 10 0 7 0 6 0 38 0-41 1 1 0 2 0 3 0 17 0 30 0-75 1 7 0 17 0 7 0-12 1 2 0 5 0 4 0 9 0 10 0 1 0 19 0 11 0-74 1 10 0 30 0 4 0 9 0 9 0 8 0 1 0-74 1 54 0 5 0 15 0-77 1 4 0 4 0 9 0 14 0 1 0 19 0 9 0 15 0 2 0-75 1 23 0 3 0 1 0 6 0 17 0 4 0 2 0 7 0 1 0 1 0-67 1 8 0 1 0 1 0 10 0 3 0 2 0 28 0 24 0 5 0-63 1 19 0 21 0 9 0-65 1 23 0 7 0 37 0 4 0-46 1 7 0 30 0 2 0 1 0 16 0-75 1 18 0 4 0 24 0 4 0 25 0-73 1 23 0 9 0 14 0 10 0 3 0 4 0 3 0-70 1 10 0 35 0 3 0 10 0 19 0-29 1-17 1 24 0 1 0 23 0-74 1 17 0 1 0 2 0 4 0-7 1 2 0 5 0 3 0 4 0 26 0-59 1 1 0 16 0 9 0 3 0 10 0 18 0 8 0 8 0 13 0-69 1 33 0 18 0 2 0-33 1 8 0 4 0 14 0 5 0-39 1 12 0 20 0 5 0 7 0-51 1 13 0 5 0 21 0-21 1 7 0 15 0 2 0-38 1 36 0 7 0-24 1-8 1 4 0 25 0 4 0-36 1 3 0 17 0 4 0 4 0-33 1 29 0-24 1 22 0-17 1 5 0 7 0 19 0-15 1-6 1 9 0 6 0 3 0 2 0-16 2 4 0 7 0-17 25-4 5 4 0 0 2-2 7-2 1" fill="none" stroke="none" marker-start="url(#k15)" marker-mid="url(#k15)" marker-end="url(#k15)"/>
<path d="M1125 1366l2 0-2 1 10 0-6 2 6 0-39 14 2 3-8 7 7 0-31 1 28 0-34 1 6 0-3 1-5 1 33 1-29 1 14 0-2 1 5 0-5 1-16 1 1 0-3 1 5 0 2 0 9 0-43 1 36 0-2 1 14 0-58 1 4 0 3 0 29 0-38 1 59 0-63 1 3 0 1 0 4 0 2 0 2 0 5 0 24 0 10 0 3 0 11 0-66 1 1 0 2 0 47 0 4 0-37 1 25 0-28 1 1 0 31 0 11 0 3 0-66 1 12 0 10 0 23 0 2 0 2 0 11 0 19 0-69 1 40 0 25 0-65 1 47 0 26 0 3 0-83 1 17 0 19 0 14 0 34 0 1 0-86 1 8 0 49 0 23 0-80 1 18 0 6 0 12 0 46 0-89 1 3 0 25 0 5 0 47 0-74 1 1 0 5 0 41 0-39 1 49 0-57 1 9 0 8 0 20 0 43 0-73 1 37 0 6 0 17 0 21 0 5 0-90 1 10 0 21 0 11 0 41 0-85 1 13 0 26 0 12 0 9 0 8 0-47 1 31 0 4 0 11 0 4 0 3 0 1 0 2 0 9 0 12 0 7 0-101 1 18 0 13 0 16 0 18 0 23 0 6 0 2 0-100 1 6 0 8 0 4 0 29 0 11 0 4 0 17 0 14 0 3 0-93 1 3 0 13 0 29 0 8 0 20 0-76 1 6 0 7 0 27 0 6 0 1 0 13 0 41 0-42 1 12 0 4 0 15 0 1 0 1 0 4 0-86 1 4 0 4 0 35 0 6 0 2 0 30 0 4 0 3 0 1 0-92 1 1 0 63 0 11 0 16 0 5 0-85 1 13 0 24 0 4 0 40 0-92 1 73 0 14 0-89 1 59 0 1 0 5 0 4 0 18 0 2 0 1 0 12 0 2 0-99 1 2 0 4 0 37 0 4 0 3 0 2 0 33 0-56 1 16 0 16 0 1 0 8 0 8 0 6 0 10 0-56 1 1 0 2 0 1 0 52 0 5 0-44 1 22 0 6 0-51 1 4 0 10 0 3 0 29 0 7 0 9 0 2 0-60 1 17 0 29 0 1 0 13 0 3 0-73 1 35 0 9 0 12 0 7 0 1 0-60 1 13 0 33 0 5 0 3 0 5 0-47 1 5 0 1 0 14 0 8 0 1 0 3 0 3 0-57 1 13 0 12 0 3 0 22 0 19 0 5 0-38 1 10 0 1 0 1 0 3 0 1 0 10 0 4 0-43 1-14 1 16 0-1 1 47 0-64 1 6 0 2 0 1 0 1 0 8 0 1 0 34 0 6 0 6 0-40 1 11 0 11 0 16 0-62 1 7 0 5 0 12 0 5 0-33 1 2 0 12 0 8 0 7 0 11 0 8 0 4 0-55 1 25 0 31 0 7 0 11 0 4 0-75 1 22 0 5 0 6 0 9 0 12 0 18 0 8 0-76 1 16 0 4 0 13 0 3 0-45 1 23 0 12 0 4 0 7 0 27 0-70 1 4 0 2 0 11 0 3 0 25 0 2 0 15 0 7 0-72 1 33 0 23 0-52 1 10 0 23 0 35 0-71 1 3 0 3 0 21 0 5 0 5 0 15 0 1 0 8 0 5 0-63 1 12 0 22 0 28 0 11 0-76 1 9 0 1 0 1 0 8 0 19 0 5 0 4 0 8 0 12 0 7 0 6 0 1 0 4 0-78 1 20 0 17 0 2 0 7 0 22 0 3 0-75 1 10 1 34 0 1 0 12 0 18 0 1 0-65 1 7 0 6 0 6 0 2 0 30 0-61 1 15 0 12 0 4 0 1 0 2 0 2 0 13 0 3 0 3 0 5 0 13 0-71 1 1 0 7 0 18 0 6 0-34 1 4 0 16 0 12 0 5 0 3 0 15 0 1 0 6 0 4 0 1 0-62 1 5 0 14 0 23 0 17 0 2 0 9 0-73 1 1 0 13 0 3 0 17 0 13 0 13 0 13 0 6 0-72 1 1 0 27 0 25 0-61 1 21 0 14 0 13 0 12 0-59 1 6 0 5 0 2 0 5 0 5 0 2 0 1 0 5 0 4 0 2 0 6 0 6 0 8 0-49 1 27 0 11 0 2 0 11 0 4 0 12 0-85 1 14 0 12 0 8 0 2 0 8 0 9 0 9 0-48 1 10 0 3 0 4 0 5 0 11 0 6 0 4 0 2 0 10 0 5 0 3 0-67 1 5 0 3 0 25 0 5 0 12 0 5 0 13 0-64 1 7 0 11 0-14 1 1 0 6 0 6 0 20 0 1 0 2 0 20 0 1 0 1 0 10 0 4 0-65 1 7 0 7 0 1 0 13 0 4 0 2 0 16 0 16 0-71 1 23 0 8 0 1 0 21 0 2 0 4 0-30 1 31 0-55 1 15 0 1 0 11 0 5 0 1 0 13 0-32 1 3 0 11 0 8 0 8 0 20 0-38 1 1 0 12 0 6 1-26 1 7 0 4 0 3 0 12 0 2 0 7 0-29 1 10 0-4 1 10 0 16 0-31 1 2 0 2 0 20 0 13 0-48 1 15 0 3 0 1 0 5 0 13 0 10 0-18 1 8 0 10 0 1 0-20 1 16 0-38 1 5 0 4 0 7 0 5 0 5 0-15 1 10 0 14 0 2 3-20 1 6 0 6 1 6 1-22 25 0 1 2 1-2 1 5 2-7 1 1 0 1 1 0 1-5 2" fill="none" stroke="none" marker-start="url(#k16)" marker-mid="url(#k16)" marker-end="url(#k16)"/>
<path d="M1125 1366l-29 17-7 7 4 0 3 0-20 6-14 1-5 5 9 2-3 1 12 0 8 0 1 1-68 1 50 0-53 1 59 0-57 1 17 0 30 0-57 3 8 0 1 0 4 0 64 0 13 1-34 1 5 0 19 0-60 1 1 0-10 1 21 0 18 0-29 1 20 0 22 0-46 1 52 1-64 1 1 0 67 0-70 1 13 0 16 0 17 0 42 0-80 1 59 0 18 0-87 1-2 1 23 0 10 0-17 3 62 0-57 1 37 0 5 0 7 0 17 0 10 0-51 1-41 2 8 1 96 0-98 1 9 0 66 0-76 1 6 0 48 0 12 0 7 0-70 1 51 0 30 0 21 0-63 1 24 1 24 1 5 0 4 0-56 1 28 1 18 0 9 0 2 0-58 1 14 2 17 0 1 0-17 1 5 0-7 1 38 0-59 1 44 2-33 1 10 0 8 0 24 0 2 0-6 1-43 1 26 0-29 1 7 0 14 0 7 0 20 0-25 1 2 0 24 0-57 1 19 0 44 0-66 1 14 0 8 0 45 0-52 1 1 0 18 0 12 0 14 0 3 0-27 1-36 1 36 0 6 0 2 1 15 0 7 0-56 1 38 0 20 0-43 1 53 0-64 1 20 0 11 0 22 0-56 1 16 0 19 0-41 1 12 0 4 0 26 0-40 1 7 0 7 0 38 0-22 1 24 0 18 0-59 1 35 0 6 0 12 0 5 0-65 1 10 0-13 1 7 0-19 1 40 0 35 0-59 1 4 0 32 0 26 0-29 1 17 0 18 0-16 1 9 0-55 1 7 0 10 0 20 0 4 0 3 0 9 0-62 2 10 0-15 2 40 0 16 0 8 0 1 0-58 1 51 0 21 0-73 1 1 0 2 0 24 0 5 0-6 1 34 0-66 1 74 0-62 1 9 0 26 0 30 0-3 1-28 1 1 0 16 0 1 0 2 0-45 1 47 0-36 1 24 0 1 0 18 0-4 1-28 1-12 1 14 0-17 1 13 0 29 0-30 1-3 1 10 0 6 0 6 0 2 0 6 0 9 0-37 1 7 0 6 0-16 1 19 0-12 2 2 0 14 0 9 0-1 2 5 0 4 1-18 2-7 20-1 2 1 5 0 1-5 1-1 2 0 2 1 0 3 0" fill="none" stroke="none" marker-start="url(#k17)" marker-mid="url(#k17)" marker-end="url(#k17)"/>
<path d="M1134 1370l-40 18-17 27-74 2 28 1 9 0 13 2-42 1 93 0-54 1 34 2-72 1 5 1 25 0-17 1-3 2 4 0 32 0 21 11 30 3 5 1-65 6 2 5 41 1-33 1 36 2 22 0-39 1 18 3 6 0 21 6-51 2 41 0-55 1 49 0-29 1-33 3 30 0 39 3 6 2-9 5 11 4-26 39-4 6" fill="none" stroke="none" marker-start="url(#k18)" marker-mid="url(#k18)" marker-end="url(#k18)"/>
<path d="M1075 1442l-22 18 5 12 46 17" fill="none" stroke="none" marker-start="url(#k19)" marker-mid="url(#k19)" marker-end="url(#k19)"/>
<text x="1365.6" y="1308.3" font-size="27">Cytotoxic T-cells</text>
<path d="M1466 1307l-1 6 3 0-14 1 6 0 7 1-12 1 13 0-14 1 4 0 1 0-2 1 4 0 4 0 2 0-8 1 6 0 1 0 5 0-13 1 1 0 6 0 3 0-14 1 3 0 2 0 12 0 6 0-21 1 1 0 8 0 3 0-11 1 2 0 8 0-15 1 4 0 6 0 2 0 4 0-15 1 1 0 4 0 3 0 5 0 6 0-17 1 2 0 1 0 3 0 1 0 2 0 12 0-21 1 2 0 8 0 1 0 3 0-19 1 4 0 10 0 10 0-20 1 1 0 1 0 4 0 2 0 5 0 3 0 1 0-13 1 5 0 1 0 3 0 8 0-22 1 1 0 2 0 3 0 5 0 2 0 5 0 3 0 1 0-14 1 1 0 2 0 10 0-19 1 1 0 8 0 3 0 8 0-9 1-8 1 5 0 1 0 2 0 4 0 1 0 2 0-15 1 5 0 7 0 1 0 3 0 1 0-16 1 3 0 7 0 1 0 1 0 2 0 54 0-67 1 12 0-10 1 2 0 4 0 2 0-10 1 2 0 5 0 5 0-3 1-10 1 76 0 1 1 29 0-35 1 16 0 5 0 6 0-28 1 4 0 24 0-23 1 2 0 4 0 11 0 3 0 2 0 1 0-24 1 4 0 5 0 8 0 3 0 6 0-38 1 16 0 2 0 2 0 7 0 3 0 3 0-84 1 1 0 1 0 50 0 5 0 1 0 5 0 4 0 2 0 1 0 6 0 1 0 1 0 4 0 3 0 4 0-83 1 48 0 2 0 6 0 5 0 3 0 1 0 5 0 2 0 6 0 2 0 9 0-93 1 54 0 14 0 3 0 3 0 1 0 5 0 2 0 1 0 1 0 3 0 2 0 2 0-91 1 56 0 3 0 4 0 1 0 5 0 1 0 1 0 2 0 1 0 3 0 5 0-35 1 1 0 5 0 1 0 8 0 1 0 1 0 2 0 4 0 4 0 1 0 6 0 1 0 1 0 2 0 11 0-96 1 2 0 29 0 17 0 1 0 5 0 1 0 2 0 5 0 4 0 3 0 2 0 2 0 2 0 1 0 1 0 4 0 12 0-104 1 12 0 45 0 2 0 2 0 3 0 1 0 6 0 1 0 1 0 6 0 4 0 2 0 4 0 9 0 2 0 3 0 1 0 1 0-67 1 27 0 9 0 2 0 6 0 4 0 5 0 3 0 6 0 1 0 1 0 2 0-92 1 25 0 2 0 1 0 1 0 1 0 1 0 2 0 12 0 4 0 6 0 7 0 4 0 2 0 1 0 5 0 5 0 5 0 3 0 3 0 2 0 1 0-68 1 2 0 3 0 7 0 3 0 2 0 5 0 1 0 7 0 2 0 6 0 2 0 2 0 1 0 1 0 4 0 2 0 3 0 13 0 1 0-61 1 2 0 2 0 4 0 1 0 6 0 1 0 1 0 1 0 3 0 4 0 1 0 1 0 1 0 2 0 3 0 3 0 3 0 1 0 14 0 2 0 4 0 1 0 1 0-62 1 6 0 4 0 3 0 1 0 4 0 1 0 8 0 3 0 6 0 1 0 2 0 6 0 1 0 3 0 4 0 4 0 4 0 2 0-58 1 1 0 11 0 4 0 4 0 2 0 4 0 1 0 1 0 1 0 2 0 3 0 10 0 7 0 1 0 1 0 6 0-59 1 3 0 17 0 2 0 2 0 3 0 5 0 2 0 2 0 3 0 12 0 1 0 4 0 2 0 1 0 1 0 2 0 1 0 1 0-64 1 10 0 5 0 2 0 1 0 5 0 1 0 1 0 3 0 3 0 3 0 8 0 5 0 3 0 3 0 11 0-51 1 1 0 4 0 7 0 3 0 1 0 13 0 2 0 5 0 1 0 2 0 3 0 4 0 1 0 3 0-62 1 2 0 6 0 9 0 2 0 3 0 6 0 7 0 6 0 2 0 1 0 8 0 2 0 5 0 2 0 1 0 1 0 1 0-57 1 7 0 5 0 2 0 1 0 14 0 1 0 3 0 2 0 11 0 1 0 1 0 2 0 3 0 2 0-61 1 7 0 5 0 6 0 5 0 2 0 2 0 3 0 1 0 2 0 8 0 5 0 7 0 4 0 8 0 1 0-61 1 4 0 2 0 1 0 1 0 4 0 2 0 2 0 5 0 2 0 12 0 8 0 2 0 2 0 4 0 2 0 1 0 8 0 1 0-66 1 4 0 3 0 5 0 4 0 11 0 1 0 2 0 1 0 1 0 5 0 2 0 1 0 2 0 2 0 1 0 2 0 1 0 5 0 1 0 2 0 4 0-61 1 3 0 4 0 4 0 1 0 7 0 7 0 1 0 1 0 1 0 1 0 1 0 2 0 1 0 13 0 6 0 2 0 1 0 3 0 5 0 5 0-68 1 1 0 1 0 6 0 2 0 7 0 6 0 11 0 8 0 1 0 3 0 6 0 1 0 2 0 1 0 7 0 1 0 1 0-105 1 42 0 2 0 1 0 3 0 9 0 14 0 2 0 5 0 1 0 2 0 2 0 2 0 2 0 3 0 3 0 2 0 2 0 1 0 2 0 3 0 4 0-68 1 3 0 4 0 1 0 1 0 2 0 2 0 1 0 3 0 2 0 1 0 2 0 1 0 10 0 12 0 16 0 1 0 1 0 1 0 3 0 2 0 2 0-114 1 45 0 2 0 3 0 4 0 3 0 2 0 2 0 2 0 2 0 1 0 1 0 1 0 1 0 1 0 3 0 1 0 5 0 1 0 5 0 1 0 2 0 3 0 3 0 6 0 1 0 1 0 2 0 5 0 1 0-110 1 3 0 1 0 39 0 1 0 10 0 8 0 2 0 1 0 1 0 22 0 7 0 1 0 5 0 5 0 4 0 2 0-107 1 37 0 1 0 1 0 2 0 2 0 2 0 2 0 1 0 5 0 2 0 8 0 6 0 1 0 4 0 1 0 1 0 5 0 1 0 7 0 3 0 1 0 6 0 7 0-111 1 1 0 44 0 2 0 3 0 17 0 4 0 3 0 1 0 5 0 1 0 3 0 4 0 3 0 3 0 11 0 5 0-114 1 45 0 2 0 8 0 3 0 1 0 16 0 2 0 1 0 1 0 1 0 1 0 7 0 1 0 2 0 1 0 10 0 2 0 3 0 5 0 2 0 4 0 1 0-113 1 42 0 1 0 4 0 3 0 2 0 1 0 3 0 6 0 6 0 7 0 2 0 1 0 1 0 1 0 9 0 5 0 2 0 4 0 1 0 6 0 1 0 1 0 5 0-118 1 46 0 4 0 2 0 4 0 4 0 1 0 5 0 4 0 7 0 2 0 3 0 3 0 7 0 4 0 2 0 1 0 1 0 2 0 6 0 1 0 5 0-111 1 42 0 5 0 3 0 12 0 2 0 1 0 9 0 1 0 1 0 8 0 11 0 6 0 1 0 3 0 2 0 7 0-122 1 4 0 1 0 2 0 4 0 42 0 7 0 4 0 1 0 8 0 1 0 3 0 2 0 8 0 2 0 2 0 2 0 1 0 2 0 1 0 1 0 3 0 3 0 1 0 2 0-107 1 48 0 2 0 9 0 2 0 4 0 2 0 3 0 3 0 5 0 1 0 4 0 4 0 1 0 4 0 3 0 3 0 1 0 1 0 5 0 6 0 5 0 1 0 3 0 4 0-122 1 6 0 41 0 11 0 2 0 6 0 7 0 2 0 4 0 1 0 3 0 2 0 1 0 5 0 1 0 2 0 3 0 2 0 1 0 1 0 5 0 5 0 4 0 4 0-125 1 5 0 7 0 45 0 15 0 3 0 8 0 2 0 3 0 7 0 1 0 1 0 3 0 11 0 2 0 2 0 4 0 2 0 7 0-149 1 1 0 25 0 2 0 2 0 2 0 44 0 2 0 7 0 2 0 4 0 3 0 1 0 9 0 2 0 2 0 2 0 2 0 2 0 13 0 3 0 8 0 3 0 1 0 2 0 1 0 4 0-152 1 3 0 5 0 1 0 69 0 1 0 5 0 2 0 8 0 1 0 4 0 6 0 4 0 3 0 3 0 2 0 8 0 10 0 8 0 4 0 1 0 2 0 3 0-156 1 1 0 2 0 14 0 17 0 59 0 11 0 1 0 7 0 1 0 2 0 10 0 4 0 8 0 6 0 5 0 3 0 4 0-157 1 4 0 1 0 31 0 52 0 5 0 1 0 2 0 3 0 5 0 4 0 2 0 2 0 1 0 4 0 1 0 1 0 2 0 7 0 3 0 9 0 2 0 4 0 3 0 2 0 5 0 5 0-162 1 36 0 56 0 1 0 3 0 2 0 8 0 9 0 4 0 2 0 4 0 5 0 1 0 1 0 1 0 4 0 2 0 3 0 1 0 10 0 4 0-152 1 31 0 54 0 1 0 2 0 10 0 9 0 1 0 12 0 2 0 4 0 3 0 6 0 1 0 1 0 9 0 7 0-153 1 3 0 1 0 10 0 1 0 3 0 69 0 1 0 3 0 2 0 1 0 9 0 2 0 1 0 3 0 1 0 5 0 1 0 4 0 2 0 12 0 1 0 8 0 3 0 1 0 1 0-154 1 8 0 1 0 6 0 4 0 74 0 1 0 1 0 4 0 1 0 3 0 1 0 6 0 6 0 9 0 8 0 4 0 7 0 2 0 2 0 2 0 2 0-151 1 4 0 10 0 3 0 72 0 1 0 1 0 8 0 3 0 1 0 6 0 2 0 2 0 7 0 11 0 7 0 5 0 4 0 2 0 3 0 2 0 4 0-158 1 1 0 1 0 1 0 6 0 4 0 75 0 7 0 2 0 1 0 4 0 3 0 5 0 6 0 8 0 4 0 3 0 1 0 4 0 9 0 6 0 4 0 4 0-161 1 7 0 1 0 1 0 8 0 6 0 70 0 7 0 5 0 4 0 6 0 7 0 6 0 18 0 3 0 8 0 2 0-187 1 28 0 7 0 3 0 2 0 10 0 1 0 77 0 5 0 1 0 1 0 2 0 1 0 3 0 5 0 1 0 24 0 5 0 2 0 1 0 1 0 4 0 1 0 3 0-194 1 35 0 7 0 1 0 8 0 3 0 6 0 4 0 62 0 3 0 1 0 7 0 3 0 8 0 5 0 1 0 3 0 1 0 4 0 20 0 6 0-192 1 3 0 4 0 28 0 2 0 2 0 5 0 11 0 11 0 1 0 1 0 65 0 3 0 2 0 1 0 3 0 3 0 2 0 4 0 2 0 9 0 19 0 11 0-203 1 1 0 6 0 1 0 8 0 30 0 7 0 3 0 5 0 5 0 2 0 1 0 2 0 1 0 72 0 1 0 3 0 2 0 3 0 1 0 4 0 7 0 4 0 2 0 2 0 4 0 22 0 4 0-199 1 4 0 5 0 2 0 2 0 5 0 25 0 7 0 3 0 1 0 3 0 4 0 2 0 6 0 70 0 3 0 3 0 8 0 1 0 5 0 6 0 6 0-171 1 2 0 1 0 1 0 13 0 3 0 24 0 4 0 4 0 11 0 78 0 12 0 3 0 1 0 1 0 1 0 2 0 1 0 9 0-180 1 8 0 13 0 5 0 7 0 19 0 13 0 12 0 74 0 8 0 3 0 4 0 2 0 1 0 2 0 13 0-173 1 11 0 1 0 4 0 29 0 10 0 2 0 4 0 1 0 4 0 64 0 15 0 4 0 3 0 6 0 1 0 4 0 29 0-202 1 3 0 5 0 5 0 5 0 7 0 26 0 11 0 2 0 4 0 1 0 10 0 2 0 75 0 7 0 2 0 1 0 4 0 1 0 6 0-168 1 2 0 3 0 10 0 24 0 5 0 16 0 3 0 5 0 3 0 1 0 1 0 3 0 10 0 52 0 8 0 1 0 5 0 2 0 4 0 6 0 6 0-181 1 2 0 3 0 2 0 6 0 12 0 3 0 25 0 8 0 2 0 1 0 1 0 2 0 1 0 13 0 10 0 4 0 65 0 2 0 1 0 3 0 5 0 2 0 3 0 4 0 1 0 6 0 1 0 3 0-181 1 10 0 2 0 1 0 1 0 6 0 5 0 4 0 5 0 5 0 7 0 1 0 2 0 8 0 1 0 3 0 7 0 2 0 6 0 7 0 3 0 49 0 1 0 6 0 2 0 7 0 2 0 6 0 4 0 1 0 2 0 7 0 9 0-191 1 5 0 7 0 11 0 5 0 24 0 1 0 4 0 13 0 10 0 5 0 4 0 5 0 47 0 9 0 7 0 3 0 1 0 3 0 3 0 2 0 1 0 7 0 2 0 5 0 5 0 1 0-192 1 6 0 8 0 1 0 12 0 1 0 8 0 10 0 14 0 2 0 3 0 2 0 12 0 9 0 63 0 3 0 3 0 8 0 1 0 7 0 5 0 1 0 2 0 1 0 4 0-188 1 7 0 2 0 13 0 5 0 1 0 5 0 2 0 3 0 5 0 3 0 10 0 1 0 5 0 10 0 13 0 3 0 4 0 2 0 17 0 35 0 1 0 2 0 4 0 5 0 5 0 2 0 3 0 1 0 3 0 1 0 3 0 1 0 4 0 1 0 1 0 2 0 1 0 4 0 4 0-190 1 4 0 6 0 16 0 2 0 3 0 6 0 21 0 8 0 6 0 9 0 8 0 4 0 44 0 2 0 24 0 1 0 9 0 1 0 6 0 1 0 2 0 4 0 1 0 1 0 2 0-189 1 1 0 5 0 10 0 10 0 3 0 22 0 4 0 4 0 10 0 2 0 30 0 3 0 34 0 2 0 1 0 10 0 3 0 2 0 4 0 3 0 12 0 1 0 1 0 3 0 5 0 2 0-187 1 2 0 1 0 2 0 4 0 6 0 3 0 6 0 1 0 1 0 22 0 1 0 9 0 1 0 2 0 14 0 1 0 10 0 14 0 16 0 20 0 2 0 3 0 1 0 2 0 6 0 8 0 1 0 4 0 2 0 3 0 3 0-172 1 2 0 1 0 3 0 3 0 2 0 5 0 2 0 5 0 11 0 7 0 3 0 7 0 29 0 6 0 1 0 5 0 4 0 7 0 1 0 6 0 26 0 2 0 5 0 15 0 6 0 4 0 3 0 1 0 9 0 12 0-193 1 11 0 13 0 24 0 1 0 1 0 5 0 1 0 2 0 15 0 1 0 4 0 15 0 2 0 6 0 31 0 1 0 2 0 4 0 7 0 1 0 6 0 8 0 2 0 6 0 7 0 3 0 1 0 1 0 2 0 4 0 1 0-187 1 3 0 11 0 1 0 41 0 1 0 2 0 12 0 1 0 1 0 8 0 11 0 1 0 7 0 1 0 4 0 29 0 2 0 2 0 5 0 2 0 18 0 1 0 6 0 5 0 3 0 2 0 1 0 1 0-185 1 4 0 13 0 5 0 3 0 11 0 4 0 6 0 5 0 8 0 1 0 8 0 9 0 9 0 12 0 34 0 1 0 1 0 2 0 5 0 2 0 5 0 2 0 2 0 1 0 3 0 11 0 14 0 4 0-180 1 3 0 3 0 7 0 6 0 3 0 8 0 3 0 22 0 4 0 5 0 7 0 1 0 3 0 3 0 1 0 3 0 3 0 5 0 1 0 12 0 1 0 7 0 15 0 7 0 2 0 6 0 8 0 8 0 2 0 8 0 8 0 3 0 4 0 1 0-187 1 8 0 5 0 2 0 4 0 21 0 37 0 8 0 16 0 7 0 2 0 8 0 21 0 2 0 1 0 2 0 7 0 6 0 2 0 1 0 2 0 1 0 12 0 7 0 1 0 5 0-182 1 3 0 3 0 5 0 1 0 2 0 1 0 1 0 4 0 1 0 13 0 10 0 4 0 4 0 7 0 5 0 5 0 8 0 5 0 1 0 14 0 1 0 2 0 4 0 6 0 13 0 8 0 4 0 2 0 10 0 8 0 2 0 2 0 6 0 5 0 3 0 5 0 3 0 2 0-186 1 3 0 2 0 2 0 12 0 1 0 22 0 7 0 3 0 6 0 2 0 3 0 7 0 3 0 15 0 12 0 11 0 2 0 18 0 3 0 3 0 8 0 6 0 4 0 1 0 5 0 3 0 5 0 1 0 1 0 1 0 5 0 2 0 1 0 1 0 1 0-179 1 8 0 3 0 2 0 6 0 23 0 4 0 5 0 12 0 8 0 7 0 3 0 22 0 4 0 5 0 14 0 7 0 3 0 4 0 4 0 1 0 1 0 3 0 4 0 4 0 4 0 1 0 2 0 1 0 8 0 2 0 5 0 4 0-187 1 1 0 6 0 8 0 3 0 1 0 1 0 1 0 18 0 3 0 8 0 13 0 1 0 1 0 11 0 2 0 8 0 11 0 11 0 6 0 10 0 7 0 8 0 1 0 1 0 2 0 2 0 9 0 8 0 2 0 4 0 7 0 1 0 5 0-180 1 3 0 2 0 5 0 8 0 33 0 5 0 6 0 3 0 1 0 9 0 1 0 4 0 11 0 3 0 2 0 1 0 4 0 1 0 2 0 20 0 6 0 5 0 13 0 2 0 25 0 2 0 4 0-181 1 8 0 1 0 6 0 4 0 18 0 1 0 5 0 4 0 14 0 13 0 4 0 9 0 3 0 3 0 3 0 2 0 2 0 4 0 8 0 1 0 10 0 3 0 21 0 5 0 7 0 3 0 2 0 6 0 1 0 2 0 2 0 6 0 2 0 1 0-185 1 17 0 32 0 15 0 12 0 24 0 2 0 9 0 4 0 11 0 4 0 5 0 4 0 4 0 12 0 2 0 1 0 4 0 1 0 6 0 8 0 4 0 1 0 3 0 2 0-181 1 1 0 1 0 5 0 7 0 13 0 21 0 2 0 3 0 9 0 10 0 1 0 4 0 2 0 2 0 1 0 3 0 1 0 1 0 8 0 5 0 6 0 16 0 1 0 2 0 3 0 4 0 5 0 13 0 13 0 5 0 3 0 2 0-173 1 1 0 1 0 7 0 25 0 14 0 10 0 1 0 10 0 1 0 1 0 1 0 3 0 4 0 6 0 6 0 1 0 3 0 13 0 2 0 1 0 4 0 8 0 3 0 8 0 3 0 7 0 4 0 1 0 4 0 1 0 2 0 4 0 4 0 1 0 4 0 2 0 2 0 3 0 4 0-177 1 2 0 6 0 24 0 4 0 1 0 6 0 1 0 4 0 4 0 6 0 1 0 1 0 1 0 2 0 1 0 2 0 4 0 1 0 16 0 5 0 1 0 13 0 1 0 2 0 8 0 1 0 3 0 1 0 1 0 2 0 10 0 4 0 3 0 4 0 2 0 3 0 13 0 6 0 2 0 2 0 2 0-174 1 3 0 35 0 8 0 7 0 11 0 2 0 8 0 22 0 7 0 1 0 26 0 3 0 1 0 5 0 3 0 3 0 4 0 5 0 1 0 16 0-140 1 9 0 6 0 3 0 16 0 1 0 9 0 8 0 3 0 3 0 6 0 6 0 2 0 13 0 4 0 6 0 3 0 6 0 13 0 8 0 4 0 8 0 4 0-146 1 15 0 1 0 1 0 1 0 1 0 4 0 17 0 26 0 3 0 5 0 1 0 1 0 3 0 11 0 10 0 2 0 2 0 2 0 4 0 2 0 1 0 3 0 1 0 5 0 7 0 1 0-119 1 5 0 5 0 5 0 5 0 2 0 14 0 3 0 4 0 2 0 2 0 4 0 27 0 3 0 4 0 1 0 6 0 9 0 6 0 2 0 4 0 2 0 12 0-130 1 1 0 3 0 2 0 8 0 1 0 11 0 5 0 7 0 11 0 3 0 5 0 3 0 3 0 1 0 2 0 2 0 1 0 23 0 1 0 4 0 2 0 6 0 8 0 2 0 1 0 4 0-124 1 9 0 1 0 1 0 1 0 14 0 20 0 11 0 1 0 11 0 3 0 3 0 12 0 6 0 1 0 4 0 4 0 5 0 2 0 3 0 1 0 3 0 1 0 15 0-134 1 4 0 17 0 5 0 6 0 5 0 1 0 1 0 2 0 1 0 4 0 10 0 2 0 2 0 7 0 1 0 3 0 21 0 7 0 17 0 7 0-120 1 1 0 1 0 16 0 2 0 4 0 5 0 2 0 7 0 3 0 1 0 9 0 8 0 5 0 2 0 7 0 22 0 3 0 2 0 1 0 6 0 1 0 4 0-100 1 1 0 1 0 5 0 1 0 5 0 6 0 4 0 2 0 7 0 4 0 1 0 6 0 4 0 12 0 14 0 3 0 3 0 3 0 1 0 3 0 3 0 7 0 6 0-109 1 9 0 2 0 1 0 3 0 3 0 2 0 6 0 13 0 1 0 7 0 11 0 1 0 5 0 19 0 8 0 1 0 3 0 2 0 5 0 1 0-118 1 11 0 3 0 24 0 1 0 5 0 2 0 5 0 4 0 2 0 11 0 5 0 27 0 2 0 1 0 6 0 1 0-101 1 6 0 8 0 2 0 4 0 21 0 5 0 11 0 5 0 27 0 3 0 13 0 1 0 3 0-110 1 7 0 15 0 1 0 4 0 23 0 3 0 1 0 10 0 25 0 2 0 2 0 1 0 1 0 2 0 6 0 3 0-104 1 5 0 7 0 3 0 1 0 1 0 1 0 14 0 22 0 3 0 9 0 15 0 9 0 4 0 3 0 1 0 1 0 3 0 1 0-103 1 3 0 1 0 2 0 1 0 2 0 8 0 5 0 1 0 1 0 1 0 28 0 1 0 1 0 5 0 27 0 2 0 1 0 1 0 1 0 1 0 3 0 3 0 1 0 1 0-103 1 4 0 2 0 5 0 9 0 17 0 8 0 5 0 2 0 11 0 3 0 3 0 8 0 10 0 7 0 1 0 3 0 1 0-101 1 7 0 1 0 4 0 4 0 2 0 11 0 6 0 3 0 1 0 1 0 1 0 18 0 3 0 9 0 3 0 1 0 15 0 5 0 7 0 2 0-103 1 2 0 5 0 3 0 6 0 6 0 5 0 3 0 1 0 2 0 2 0 8 0 5 0 5 0 6 0 10 0 8 0 10 0 5 0 2 0 1 0 3 0-103 1 2 0 1 0 2 0 13 0 4 0 2 0 3 0 2 0 2 0 3 0 2 0 3 0 6 0 13 0 5 0 2 0 1 0 4 0 4 0 25 0 2 0 1 0-98 1 12 0 3 0 5 0 2 0 5 0 11 0 7 0 10 0 2 0 5 0 2 0 7 0 2 0 1 0 4 0 12 0 1 0 5 0 2 0-103 1 2 0 1 0 10 0 12 0 2 0 6 0 5 0 1 0 1 0 6 0 2 0 5 0 8 0 6 0 2 0 3 0 8 0 1 0 2 0 1 0 5 0 8 0 3 0 1 0 1 0 3 0-103 1 6 0 9 0 1 0 5 0 1 0 1 0 4 0 6 0 3 0 4 0 1 0 4 0 4 0 6 0 9 0 8 0 22 0 1 0 5 0 1 0 3 0-108 1 6 0 2 0 5 0 10 0 6 0 2 0 6 0 4 0 1 0 8 0 10 0 3 0 12 0 3 0 23 0 2 0 90 0-189 1 1 0 2 0 1 0 2 0 11 0 3 0 17 0 1 0 1 0 4 0 1 0 4 0 2 0 15 0 8 0 12 0 8 0 3 0 2 0 90 0-191 1 6 0 18 0 2 0 9 0 5 0 9 0 10 0 3 0 4 0 7 0 9 0 1 0 2 0 14 0 1 0 3 0 90 0 1 0-191 1 1 0 3 0 6 0 1 0 1 0 2 0 7 0 9 0 7 0 3 0 11 0 1 0 3 0 3 0 4 0 10 0 1 0 3 0 20 0 2 0 1 0 94 0-195 1 5 0 1 0 22 0 6 0 4 0 1 0 12 0 4 0 12 0 3 0 12 0 2 0 21 0 89 0 1 0 1 0-197 1 3 0 1 0 4 0 6 0 3 0 1 0 2 0 19 0 12 0 1 0 8 0 6 0 3 0 5 0 8 0 14 0 1 0 4 0 4 0-104 1 9 0 1 0 1 0 2 0 1 0 2 0 4 0 6 0 4 0 2 0 5 0 12 0 1 0 8 0 3 0 1 0 6 0 3 0 4 0 3 0 5 0 2 0 1 0 3 0 10 0 2 0-95 1 1 0 12 0 5 0 4 0 17 0 3 0 3 0 6 0 12 0 2 0 1 0 2 0 5 0 6 0 4 0-86 1 13 0 4 0 2 0 6 0 18 0 5 0 5 0 9 0 2 0 9 0 6 0-80 1 7 0 7 0 8 0 1 0 2 0 21 0 2 0 1 0 6 0 6 0 3 0 14 0-67 1 3 0 7 0 1 0 2 0 2 0 3 0 2 0 2 0 1 0 3 0 2 0 9 0 10 0 9 0 4 0 10 0 2 0-84 1 7 0 7 0 6 0 2 0 4 0 1 0 4 0 1 0 4 0 3 0 2 0 6 0 6 0 2 0 10 0 13 0 7 0-82 1 3 0 5 0 2 0 2 0 3 0 13 0 4 0 2 0 2 0 2 0 8 0 3 0 6 0 3 0 6 0 5 0 1 0 7 0 4 0 4 0-83 1 12 0 1 0 1 0 13 0 19 0 1 0 10 0 3 0 1 0 12 0 3 0-82 1 3 0 1 0 4 0 17 0 10 0 3 0 4 0 1 0 3 0 8 0 7 0 2 0 6 0 5 0 1 0 7 0-78 1 5 0 6 0 1 0 3 0 2 0 2 0 1 0 5 0 1 0 4 0 1 0 19 0 1 0 9 0 5 0 1 0 2 0 2 0 5 0 2 0 1 0 1 0 6 0-86 1 1 0 2 0 1 0 13 0 1 0 6 0 4 0 6 0 1 0 4 0 10 0 4 0 4 0 2 0 7 0 1 0 1 0 2 0 11 0 1 0 4 0 1 0-90 1 9 0 1 0 2 0 1 0 1 0 8 0 3 0 2 0 10 0 4 0 1 0 1 0 14 0 15 0 10 0 6 0-83 1 16 0 2 0 4 0 3 0 11 0 1 0 10 0 4 0 6 0 1 0 4 0 1 0 1 0 1 0 3 0 6 0-75 1 1 0 2 0 5 0 5 0 3 0 8 0 3 0 1 0 1 0 2 0 4 0 4 0 3 0 6 0 4 0 2 0 8 0 9 0 4 0-72 1 6 0 1 0 10 0 2 0 5 0 7 0 1 0 4 0 11 0 3 0 11 0 2 0 1 0 2 0 12 0 5 0-94 1 14 0 13 0 7 0 1 0 2 0 3 0 6 0 17 0 3 0 1 0 10 0-65 1 3 0 10 0 3 0 4 0 6 0 11 0 5 0 1 0 1 0 3 0 3 0 10 0 1 0 5 0 1 0 1 0 1 0 5 0 4 0 4 0-82 1 1 0 2 0 1 0 4 0 1 0 1 0 1 0 15 0 3 0 4 0 5 0 9 0 4 0 2 0 3 0 5 0 1 0 2 0 6 0 1 0 1 0 12 0-86 1 8 0 1 0 3 0 6 0 5 0 1 0 13 0 16 0 31 0-80 1 4 0 1 0 13 0 13 0 1 0 6 0 1 0 8 0 17 0 1 0 1 0 7 0 4 0 3 0-77 1 8 0 1 0 9 0 2 0 2 0 3 0 5 0 7 0 1 0 2 0 4 0 1 0 9 0 1 0 7 0 3 0 14 0 10 0-95 1 9 0 13 0 7 0 2 0 1 0 2 0 6 0 3 0 1 0 4 0 1 0 18 0 5 0 8 0 3 0 1 0 8 0 11 0-98 1 1 0 4 0 3 0 11 0 2 0 5 0 4 0 11 0 5 0 14 0 3 0 5 0 8 0 18 0 7 0-102 1 11 0 7 0 9 0 10 0 3 0 6 0 3 0 2 0 2 0 8 0 3 0 1 0 2 0 5 0 3 0 15 0 2 0 4 0 1 0 4 0-85 1 2 0 1 0 7 0 1 0 1 0 12 0 1 0 3 0 2 0 1 0 6 0 5 0 2 0 38 0-69 1 2 0 3 0 2 0 2 0 2 0 4 0 4 0 2 0 2 0 4 0 9 0 1 0 1 0 3 0 1 0 2 0 6 0-51 1 12 0 12 0 4 0 2 0 19 0 1 0-54 1 13 0 2 0 4 0 7 0 8 0 7 0 3 0 4 0-44 1 3 0 11 0 1 0 2 0 13 0 3 0 2 0 3 0 3 0-39 1 8 0 6 0 4 0 8 0 10 0 7 0 5 0-51 1 13 0 4 0 4 0 6 0 3 0 14 0-32 1 1 0 1 0 1 0 2 0 20 0 6 0 5 0 3 0-51 1 4 0 5 0 3 0 1 0 3 0 3 0 1 0 6 0 4 0 2 0 3 0 4 0 3 0 7 0 1 0 1 0-47 1 8 0 3 0 3 0 7 0 5 0 9 0 10 0 1 0-42 1 1 0 20 0 1 0 3 0 2 0 12 0-41 1 5 0 4 0 1 0 4 0 4 0 3 0 1 0 6 0 14 0-32 1 5 0 11 0 1 0 1 0 8 0-24 1 23 0 2 0 1 0 2 0-20 1 18 0 3 0-17 1 4 0 7 0 5 0-22 1 7 0 2 0 9 0 9 0-20 1 6 0 6 1-19 21 1 2-2 1-3 3 3 1 1 0-6 1 2 0 1 0 2 0-6 1 3 0 4 0-6 1 1 0 4 0 1 0-6 1 0 1 7 0-6 1 1 0 2 0-5 1 3 0-5 2 1 1 5 0-2 2" fill="none" stroke="none" marker-start="url(#k10)" marker-mid="url(#k10)" marker-end="url(#k10)"/>
<path d="M1454 1314l13 0-4 3 5 2-15 1 7 0 8 0 6 0-22 1 13 1 2 0-5 3 14 1-17 2-5 2 5 0 12 1-13 7 9 1 4 39 78 4 6 5-31 4-91 11 119 4-169 1 133 3-103 1-42 1 152 7-37 2-68 2 110 3-145 1 44 3 56 3 45 5-96 1 79 1-48 4 11 12-26 3 11 1-38 1 55 1-43 10 52 3-11 21 7 0-12 27-1 7" fill="none" stroke="none" marker-start="url(#k11)" marker-mid="url(#k11)" marker-end="url(#k11)"/>
<path d="M1543 1510" fill="none" stroke="none" marker-start="url(#k17)" marker-mid="url(#k17)" marker-end="url(#k17)"/>
<path d="M1545 1506l5 0-8 1 3 0-10 1 3 0 2 0 6 0 3 0-12 2 4 0-7 1 1 0 4 0 1 0-7 1 9 0 7 0" fill="none" stroke="none" marker-start="url(#k18)" marker-mid="url(#k18)" marker-end="url(#k18)"/>
<path d="M1528 1504l20 2-1 1-6 1 8 0-9 1 1 0 6 0-12 1 4 0-1 1" fill="none" stroke="none" marker-start="url(#k19)" marker-mid="url(#k19)" marker-end="url(#k19)"/>
<text x="1703.3" y="1308.3" font-size="27" font-style="italic">VIM</text>
<path d="M1798 1390l21 10-11 2-59 10 82 5-27 8 26 5-30 11-2 19 53 6 3 23" fill="none" stroke="none" marker-start="url(#k10)" marker-mid="url(#k10)" marker-end="url(#k10)"/>
<path d="M1796 1393l-6 2 1 2 15 4-5 1-7 1 13 0-3 3-15 1 29 1 1 2-25 8 55 2-38 1 13 0-69 3 96 0-56 2 44 1-8 1 7 2-42 5 28 0-40 2 60 1-48 7-16 1 26 4 47 1-59 14-2 11 30 7 31 4-10 5" fill="none" stroke="none" marker-start="url(#k11)" marker-mid="url(#k11)" marker-end="url(#k11)"/>
<path d="M1801 1388l4 1-10 1-3 2-1 3 14 1-8 1-1 1 5 1 14 0-9 1-11 1-9 1 10 0 10 0 3 0-55 1 45 0 14 0-77 1 29 0-6 2 47 0 1 0-61 1 54 0 2 1 2 0 4 0-43 1 23 0 0 2 7 1 28 0-5 1 23 0-105 1 88 0-71 1 59 0 10 0-61 2 19 0 5 0 6 0 40 0 14 0-52 1 17 0 31 0-55 1-46 1 53 0 10 0 14 1 18 1-25 1-14 1-37 1 55 0 37 0-71 1 23 0 12 0 19 0-44 1 11 0 31 0 10 0-28 1 20 0 15 0-55 1 21 0 10 0-22 1-13 1 1 0 11 0 6 0-24 1 15 0 14 0 36 1-59 1 39 1 8 0-53 1 55 0-60 1 9 0 58 0-56 1 2 0 11 0 6 0 29 1-9 1 5 0-39 1 36 0 17 0-22 1-40 2 55 0-5 1-39 1 49 1-58 1 61 0-20 2 4 1-2 1 6 0 17 0 4 0-63 1 1 0 2 1 3 0 19 1-40 1 55 0-52 1 20 0 10 0-14 1 55 0-83 1 3 0 5 0 30 0 34 0-32 1 5 1 39 0-81 1 61 0-40 1 42 0-7 1-38 1 32 0-40 1 67 0-47 1 19 0-22 2 4 0 7 1 43 0 3 0-74 1 74 0-21 1 3 1 15 0-17 1 21 0-52 1 15 1 25 0 9 0-75 1 59 0-45 1 62 1-57 2 2 0 47 0 10 0-25 2 12 0 2 0 5 0-28 2 12 0-6 2 15 0-13 6 4 0-19 1 5 1 11 2 15 2" fill="none" stroke="none" marker-start="url(#k12)" marker-mid="url(#k12)" marker-end="url(#k12)"/>
<path d="M1800 1388l-3 3 0 2 3 1 11 0 3 0-15 1 6 0-10 1 10 0-9 2 2 0-42 1 33 0 10 0-9 1 7 0 19 0 2 0-63 1-7 1 2 1 6 0 7 0-16 1 15 1 26 0 24 0-20 1 25 0-66 1 34 0 20 0 9 0-66 1 12 0 68 0 2 0-71 1 36 0 3 0 17 0 5 0-74 1 11 0 35 0 10 0-32 1 18 0 33 0-47 1 19 0 7 0-61 1 1 0 14 0 13 0 6 0 15 0 37 0-31 1 7 0 15 0-68 1 15 0 24 0 9 0 44 0-87 1 74 0-84 1 6 0 87 0 3 0-44 1 19 0 3 0 13 0 6 0-84 1 1 0 18 0 22 0 1 0 35 0-35 1 4 0 4 0 8 0 10 0 8 0 3 0 11 0-98 1 15 0 3 0 8 0 44 0 37 0-94 1 32 0 30 0 18 0 1 0 6 0-98 1 44 0 3 0 17 0 13 0 17 0 8 0 2 0-99 1 96 0-107 1 6 0 35 0 8 0 3 0 10 0-59 1 52 0 20 0 20 0 5 0-99 1 36 0 6 0 21 0 21 0 3 0-89 1 8 0 39 0 1 0 13 0 42 0-96 1 47 0 9 0 4 0 15 0 8 0 11 0 3 0-95 1 50 0 16 0 1 0 4 0 3 0 7 0 9 0-88 1 29 0 4 0 9 0 7 0 17 0 35 0-100 1 2 0 3 0 32 0 2 0 5 0 7 0 49 0 1 0-56 1 18 0 10 0 10 0 9 0 8 0-57 1 37 0 12 0 2 0-54 1 7 0 17 0 7 0 10 0 8 0-57 1 3 0 15 0-11 1 46 0 14 0-73 1 21 0 49 0-43 1 5 0 5 0 7 0 1 0 30 0-57 1 5 0 5 0 6 0 6 0-32 1 14 0 4 0 8 0 12 0 1 0 19 0-35 1 34 0-49 1 2 0 41 0-10 2-41 1 2 0 1 0 57 0-61 1 45 0 11 0-46 1 29 0 11 0-57 1 30 0 4 0 9 0 33 0-78 1 15 0 4 0 5 0 9 0 2 0 1 0 14 0 4 0-57 1 4 0 20 0 25 0-33 1 21 0 10 0 5 0 19 0 10 0-47 1 8 0 3 0 10 0-35 1-18 1 4 0 16 0 43 0 8 0-40 1 5 0 19 0 13 0-64 1 16 0 16 0 13 0 14 0 8 0 6 0-73 1 21 0 6 0 21 0-5 1 14 0 16 0-70 1 22 0 5 0 12 0 8 0 27 0 4 0-41 1 4 0 27 0-64 1 31 0-42 1 13 0 32 0 14 0 3 1 17 0-73 1 6 0 27 0 42 0-77 1 8 0 23 0 12 0 3 0 8 0 1 1 3 0 13 0-77 1 7 0-4 1 17 0 34 0 14 0 10 0 2 0-60 1 17 0-26 1 3 0 10 0 11 0-29 1 49 0 1 0 11 0 1 0 3 0 6 0-27 1-14 1-27 1 1 0 57 0-44 1 10 0 3 0 8 0 1 0 11 0 4 0 12 0 2 0 1 0-69 1 1 0 4 0 4 0 21 0 3 0 39 0 10 0-75 1 35 1 28 0 8 0-77 1 6 0 86 0-84 1 15 0 25 0 17 0-56 1 12 0 4 0 24 0 17 0-63 1 28 0 20 0 4 0-36 1 25 0 3 0-15 1 1 0 1 0 7 0 1 0 8 0 19 0-43 1 4 0 15 0 9 0-9 1 15 0 11 0-41 2 13 0 13 1 3 0 17 0 4 0-41 1 3 0 4 0 16 0 16 0-36 1 26 0 11 0 1 0-47 1 43 0-20 1 1 0-16 1 4 0 17 0-14 1 9 0 13 1 3 0 3 1 4 1-20 2" fill="none" stroke="none" marker-start="url(#k13)" marker-mid="url(#k13)" marker-end="url(#k13)"/>
<path d="M1828 1310l8 24 28 25-70 30 3 0 3 0 6 0-8 1 12 0-18 1 18 3-12 1 11 0-16 1-1 1 1 0 7 0 4 0-15 1 8 0 1 1 14 0-3 1-52 1 2 0 34 0 3 0-42 1 51 0 5 0-65 1 62 0 6 0-66 1 45 0 4 0 7 1-66 2 10 0 14 0 26 0 11 0 22 0-72 1 42 0 18 0 5 0 2 0-78 1 6 0 15 0 5 0 10 0 18 0 8 0 2 0 13 0 10 0-66 1 1 0 24 0 7 0 3 0 8 0 26 0 1 0 1 0-92 1 3 0 65 0 10 0 8 0-88 1 6 0 38 0 14 0 19 0-48 1 13 0 11 0 15 0 13 0 11 0-92 1 4 0 1 0 22 0 2 0 3 0 40 0 1 0-69 1 15 0 32 0 2 0 4 0 4 0 2 0 8 0 31 0-100 1 19 0 4 0 4 0 24 0 25 0 23 0-90 1 7 0 2 0 23 0 36 0 2 0 6 0 7 0 11 0-103 1 72 0 28 0-99 1 14 0 1 0 55 0 3 0 30 0-60 1 21 0 39 0-95 1 16 0 8 0 42 0 5 0-73 1 13 0 29 0 56 0 2 0-86 1 4 0 25 0 11 0 10 0 29 0-78 1 42 0 18 0 7 0 11 0-77 1 85 0-99 1 55 0 4 0 9 0 4 0 11 0-88 1 9 0 5 0 22 0 59 0 6 0-94 1 2 0 5 0 57 0 4 0 32 0 2 0 2 0-106 1 13 0 58 0-71 1 8 0 48 0 11 0 2 0 8 0 6 0 7 0-87 1 1 0 29 0 27 0 7 0 20 0 2 0 3 0 15 0 1 0-64 1 5 0 5 0 2 0 3 0 12 0 21 0-40 1 15 0 2 0 22 0-61 1 13 0 4 0 44 0 12 0 1 0 3 0-47 1 22 0-41 1 1 0 9 0 17 0 6 0 10 0 5 0 4 0 6 0 3 0 2 0 1 0-27 1 18 0 5 0 6 0-71 1 33 0 19 0 1 0 1 0 7 0-62 1 1 0 1 0 15 0 21 0 11 0 13 0-49 1 11 0 10 0 3 0 6 0 26 0-54 1 1 0 3 0 5 0 6 0 4 0-44 1 38 0 12 0 3 0 19 0-61 1 34 0 3 0 1 0 5 0 12 0 3 0-60 1 5 0 15 0 1 0 27 0-49 1 2 0 5 0 7 0 3 0 1 0-14 1 4 0 11 0 4 0 2 0 1 0 6 0 22 0-54 1 10 0 9 0 24 0 5 0-43 1 8 0 22 0 23 0 13 0-71 1 15 0 16 0 25 0-34 1 2 0 13 0 29 0-53 1 57 0-74 1 9 0 1 0 13 0 6 0 10 0 3 0 33 0-76 1 14 0 2 0 6 0 25 0-51 1 7 0 3 0 30 0 8 0 28 0-72 1 1 0 1 0 15 0 19 0 6 0 7 0-52 1 48 0 33 0 2 0-69 1 2 0 40 0 8 0-63 1 37 0 1 0 11 0-46 1 10 0 2 0 3 0 40 0 9 0 1 0-69 1 10 0 5 0 5 0 11 0 18 0 11 0 10 0 7 0 4 0-74 1 37 0 12 0 12 0 2 0 1 0-49 1 6 0-3 1 2 0 23 0 29 0-65 1 9 0 1 0 5 0 2 0 5 0 3 0 1 0 28 0 16 0-62 1 6 0 5 0 4 0 19 0-49 1 9 0 2 0 2 0 20 0 2 0 10 0 6 0 9 0 6 0-66 1 12 0 43 0 18 0 1 0-81 1 5 0 4 0 16 0 17 0 1 0 30 0 1 0 7 0 1 0-78 1 1 0 4 0 10 0 4 0 1 0 30 0 9 0 24 0 2 0-81 1 13 0 6 0 4 0 6 0 15 0 17 0-68 1 9 0 62 0-66 1 14 0 1 0 9 0 9 0 2 0 21 0 5 0 11 0-74 1 2 0 11 0 11 0 4 0 24 0-48 1 6 0 10 0 7 0 8 0 15 0-23 1 2 0 9 0 16 0 4 0-51 1 17 0 22 0 31 0-64 1 1 0 1 0 36 0 3 0 6 0 13 0 13 0-79 1 18 0 1 0 28 0-42 1 25 0 7 0 18 0 7 0 2 0 7 0 7 0 1 0-68 1 13 0 3 0 16 0 3 0-36 1 8 0 7 0 3 0 7 0 4 0 6 0 34 0-77 1 25 0 14 0 19 0 8 0 6 0 16 0 10 0-55 1 6 0 9 0 3 0 3 0 29 0-69 1 14 0 6 0 11 0 2 0 18 0-41 1 3 0 12 0 5 0 8 0 12 0-39 2 1 0 20 0-30 1 17 0 15 0 2 0 3 0-21 1 3 0 30 0-35 1 27 0 1 0-31 1 36 0-23 1 1 0 3 0 19 0-40 1 3 0 18 0-10 1-14 1 10 0 18 0 9 1-2 2-7 1-1 1 4 1 56 8" fill="none" stroke="none" marker-start="url(#k14)" marker-mid="url(#k14)" marker-end="url(#k14)"/>
<path d="M1817 1317l0 2 4 1 2 1 5 0-9 3 1 4-1 2-1 5 6 7 46 22-38 12-32 12 5 1-8 2 2 2-4 4 17 0-6 1 4 1-23 1 2 0 2 0 4 1-53 1 1 0 6 0 5 1 34 0 8 0 1 0-53 1 18 0 26 0-31 1 12 0-21 1 11 0 3 0 39 0 2 0-65 1 3 0 14 0 62 0-28 1-53 1 7 0 27 0-15 1 4 0 46 0 6 0-62 1 12 0 9 0-11 1 3 0 3 0 5 0 28 0-65 1 14 0 12 0 18 0-37 1 5 0 21 0-4 1 33 0-55 1 82 0 30 0-113 1 31 0 69 0-90 1 35 0-42 1 10 0 5 0 18 0 21 0 13 0 10 0-83 1 17 0 20 0-22 1 2 0 3 0 17 0 2 0 54 0-84 1 5 0 26 0 17 0 7 0 5 0 43 0-108 1 2 0 12 0 4 0 59 0 5 0 1 0-80 1 1 0 17 0 20 0 6 0 34 0 22 0-103 1 3 0 3 0 11 0 1 0 25 0 4 0 64 0-96 1 46 0 22 0 11 0-90 1 5 0 10 0 80 0-37 1 35 0-40 1 28 0-72 1 76 0 20 0-42 1 3 0 25 0 20 0-40 2 29 0-53 1 57 0-56 1 56 0-59 1 19 0 24 0-15 2 28 1-45 1 23 0 5 0-31 1 3 0 11 0-31 2 19 0-3 2 36 1-49 1 71 0-70 1 20 0 11 0 1 0 27 0 3 0-70 1 9 0 19 0 4 0 3 0 3 0 31 0-70 1 2 0 60 0-39 1 32 0 7 0 2 0 2 0 7 0-76 1 2 0 23 0 14 0 39 0-50 1 12 0 16 0 8 0 3 0-63 1 7 0 23 0 5 0 17 0 15 0-31 1 5 0 15 0-55 1 17 0 3 0 34 0 1 0 3 0-62 1 1 0 11 0 40 0 6 0-54 1 48 0 12 0 14 0-76 1 13 0 33 0-39 1 50 0 6 0 7 0-67 1 13 0 4 0 4 0 23 0 36 0-83 1 12 0 4 0 1 0 30 0 5 0 10 0 9 0 6 0-72 1 48 0 10 0-51 1 56 0 9 0-79 1 3 0 22 0 5 0 8 0 38 0-42 1 48 0 4 0-68 1 42 0-16 1 7 0 7 0 8 0-59 1 6 0 2 0 4 0 8 0 13 0 13 0 13 0 10 0 4 0 1 0-61 1 5 0 34 0 7 0 3 0 1 0-31 1 15 0 15 0 10 0-58 1 2 0 2 0 24 0 17 0-37 1 2 0 12 0 21 0 4 0-27 1 14 0 15 0-49 1 7 0 3 0 18 0 10 0-52 1 4 0 58 0 5 0-61 1 31 0 23 0-54 1 3 0 25 0-28 1 35 0 6 0 18 0-52 1 9 0 7 0 13 0 7 0 16 0 12 0-46 1 2 0 7 0 49 0 6 0 4 0-66 1-20 1 16 0 9 0 38 0 20 0 5 0-80 1 14 0 6 0 13 0 16 0-19 1 8 0 15 0 4 1-34 1 25 0-36 1 12 0 15 0 7 0-35 1 7 0 6 0 12 0 6 2 2 0-36 1 9 0 5 0 5 0 15 0 4 0 3 0-9 1 2 0-5 1-9 1 3 0 8 1 3 0 7 0 2 0 2 1-16 2 16 0-15 1 67 9-74 20" fill="none" stroke="none" marker-start="url(#k15)" marker-mid="url(#k15)" marker-end="url(#k15)"/>
<path d="M1830 1316l-13 3 16 2-5 1 2 0 1 0-4 1 9 0 3 0-20 2 2 0-1 1 9 0-10 1 4 0 1 0-9 1 5 1 6 0 1 2-5 1 5 0 10 1-15 1 11 0-10 1 1 0 6 0 3 2-7 1-5 1 11 0-11 2 8 0 1 0 5 0-11 1 2 0 7 0-12 3 17 8-3 6 25 1 6 1 3 0 13 0 42 6 4 2-12 4-81 1 0 3 40 2-41 1 75 4 10 0-93 2-5 1 4 0 7 0-1 1 81 1-2 2 10 2-112 3-46 3-10 1 60 1 6 0 92 0-152 1-13 1 56 0-53 1 52 0-37 2 138 2 5 0-158 1 130 0 41 0-141 1-37 1 23 0-4 1 17 0 102 0 8 0-148 3 49 0-48 1 3 0 131 0 18 0-106 1 23 1 20 0-69 1 152 0-176 3 13 0 14 0 72 0 62 1-143 2 58 0-54 1 76 1-87 2 9 0-11 2 66 1 11 0-24 5 7 0 4 0 14 1 9 0-16 1-24 1 46 0-44 1 20 1 16 2-25 1 26 0 8 1-49 1 25 0 19 0-47 2 5 0 20 0 22 1 2 0-33 2 7 0 34 1-50 1 15 0 1 1 47 0 103 1-116 1 4 0 114 1-177 2 70 0-11 1-46 2 22 0-23 1 7 0 2 0 12 1-15 1 40 0-6 1-62 1 31 0 3 0-3 1 25 0 11 0-64 1 63 0-55 1 47 0 9 0 9 0-45 1-22 1 30 0 29 0 2 0-48 1-30 1 59 1 12 0 7 0 4 0-50 3 24 0-19 1 10 0 24 0 33 2-71 2 8 0 70 0-26 1-23 3-8 2 31 0-30 1-10 1 12 0 3 0 1 0-1 1 29 2-24 5 76 6-6 1 8 0-4 1-5 1 1 1 6 0-12 1 5 0-74 23" fill="none" stroke="none" marker-start="url(#k16)" marker-mid="url(#k16)" marker-end="url(#k16)"/>
<path d="M1823 1317l6 1-4 1 2 2-11 2 7 0-8 1 4 0 1 0 1 0 7 0 1 1-14 1 2 1 10 0-4 1 11 0-7 1 1 0-6 1-3 1 5 0 8 0 2 0 3 0-18 2 1 0 5 0 1 0-2 1 5 0 7 0-18 1 8 0 1 0 9 0 1 0-11 1 0 1 1 0-1 1 7 1 1 0 1 1-10 2 9 0-5 1 2 0 66 3 4 3-67 2 0 2 82 0-24 1 3 1 23 0-32 1 13 0 4 0-68 1 45 0 15 0 10 1 17 0-60 1 50 0-48 1 43 0 19 0-21 1-37 1 4 0 14 0 9 0-5 1 14 1 21 0-22 1 26 0-31 1 20 0 1 0-40 2 6 0 8 0 37 0-40 1-7 1-2 1 52 0-49 1 42 0-52 1 2 0 0 1 37 0 1 0-19 1-61 2 62 0-18 1 12 0 40 0-98 1 45 0 27 0 5 0-81 1 45 0-40 1 77 0 13 1-42 1 26 0 7 0-86 1 1 0 54 0 5 0 22 0 3 0 2 0-25 1 26 0-25 2 48 0-50 1 50 0-33 1 13 0 1 0 9 0 12 0-3 1-59 1 18 0 6 0-77 2 57 1 0 1 56 0-20 1-2 1 3 0-10 2 36 0-61 1 16 0 35 1-45 1 16 0 6 0-164 1-4 1 171 0-23 2 8 0 2 0 4 0-9 1 12 0-170 1 150 0 13 0-9 1 29 0-182 1 143 0 38 0-14 1 8 0-167 1 148 0 7 0-33 1 22 0 4 1-155 1 158 0-28 1 26 2-10 1 10 0 20 1-45 1 13 0 8 0 21 0 4 0-166 1 128 1 25 0 2 0 6 0-13 1 11 0-28 1 7 0 7 0 6 0-127 1 139 0-49 1 45 0-45 1-95 1 93 0 5 0 24 0-26 2 18 0 10 0 6 0-63 1 38 0 39 0-136 1 102 1-18 1 39 0-32 2 19 0-4 1-8 1 1 0-15 1-80 2 101 0-18 1-64 3 64 0 2 0 9 0-14 2-1 1 6 1-23 1 26 1-1 1-5 1 91 1-86 1 88 0-90 1 93 0-88 1 88 0 1 0-176 2 83 0-49 3-24 1 28 4-11 3-2 1 48 3-2 7-11 3 4 17 38 2 17 3-1 1-6 1 1 1-5 1 1 0-2 1 9 0 7 0-77 10 1 2-3 5-2 1 1 0 2 0 1 4-5 1 1 0 1 0-7 3 2 1 5 0" fill="none" stroke="none" marker-start="url(#k17)" marker-mid="url(#k17)" marker-end="url(#k17)"/>
<path d="M1829 1316l-12 1 5 3-3 1 11 0-9 1 1 0 0 1 8 0 4 1-6 1 2 0-5 1 6 1-13 1 10 0 10 0-21 1 2 0 5 0 14 0-25 1 13 0 5 0-12 2 3 0 7 0 9 0-11 1 3 0 4 0-18 1 4 3 12 0 3 0-7 1 4 0 4 0-14 1 9 0 57 1-65 2 84 4-17 1 27 0-20 1 20 0-15 1 9 0 3 0-16 1 2 0 2 0 1 0 8 0 8 0-37 1 33 0-22 1 4 0 3 0 25 0-38 1 14 0 2 0 5 0 8 0 1 0 4 0-86 1 54 0 7 0 5 0-14 1 9 0 9 0 2 0 1 0 5 0 2 0 2 0-81 1 29 0 30 0 2 0 16 0 1 0 11 0-35 1 5 0 11 0 18 0 1 0-102 1 60 0 4 0 7 0 12 0 1 0 12 0 2 0 2 0 1 0-60 1 1 0 14 0 19 0 2 0 2 0 5 0 8 0 8 0-64 1 3 0 10 0 4 0 15 0 11 0 22 0 2 0-61 1 9 0 7 0 1 0 1 0 9 0 13 0 20 0 1 0-60 1 10 0 7 0 9 0 5 0 6 0 11 0 12 0 1 0-56 1 4 0 3 0 8 0 9 0 2 0 1 0 2 0 4 0 13 0 3 0 1 0-47 1 20 0 12 0 15 0 1 0 6 0-41 1 11 0 13 0-27 1 39 0 1 0 8 0-44 1 18 0 15 0 2 0 6 0 2 0 2 0-41 1 7 0 8 0 4 0 14 0 2 0-48 1 11 0 3 0 2 0 7 0 1 0 9 0-28 1 5 0 40 0 8 0 2 0-61 1 24 0 10 0 7 0 10 0-56 1 3 0 8 0 1 0 1 0 14 0 3 0 2 0 9 0 17 0 5 0 5 0-67 1 17 0 1 0 24 0 9 0 1 0 3 0 8 0 1 0-56 1 9 0 20 0 7 0 5 0 3 0 2 0 2 0 9 0-66 1 7 0 2 0 2 0 48 0 3 0 1 0 7 0-66 1 4 0 6 0 2 0 3 0 1 0 2 0 3 0 5 0 12 0 2 0 3 0 10 0 8 0 1 0-45 1 30 0 5 0 10 0 2 0-68 1 9 0 1 0 21 0 5 0 2 0 5 0 17 0-100 1 3 0 39 0 5 0 17 0 14 0 2 0 5 0 9 0 12 0-67 1 13 0 15 0 3 0 1 0 2 0 10 0 1 0 12 0 8 0-63 1 2 0 8 0 1 0 15 0 6 0 15 0 10 0 9 0-111 1 49 0 3 0 17 0 7 0 2 0 12 0 6 0 10 0-62 1 5 0 17 0 10 0 1 0 19 0 10 0 1 0-111 1 10 0 41 0 1 0 19 0 24 0 2 0 4 0 1 0 10 0-65 1 10 0 2 0 17 0 1 0 4 0 3 0 12 0 6 0 18 0-112 1 50 0 2 0 6 0 14 0 4 0 9 0 5 0 1 0 10 0 5 0 4 0-67 1 18 0 8 0 1 0 4 0 7 0 4 0 11 0 2 0-104 1 47 0 9 0 11 0 15 0 15 0 11 0 7 0-61 1 22 0 6 0 7 0 28 0-117 1 69 0 7 0 1 0 4 0 8 0 25 0-114 1 52 0 10 0 10 0 3 0 15 0 1 0 17 0 3 0 2 0 5 0-118 1 54 0 1 0 13 0 13 0 2 0 9 0 1 0 1 0 6 0 3 0 1 0-52 1 2 0 4 0 3 0 4 0 4 0 5 0 14 0 13 0 1 0 17 0-65 1 6 0 1 0 10 0 2 0 3 0 5 0 5 0 24 0 2 0 2 0-62 1 9 0 37 0 6 0 1 0 3 0-57 1 2 0 8 0 4 0 28 0 4 0 15 0-62 1 9 0 5 0 11 0 10 0 7 0-27 1 4 0 49 0-66 1 13 0 4 0 37 0 5 0 4 0 3 0-55 1 1 0 3 0 13 0 3 0 4 0 15 0-47 1 6 0 13 0 1 0 38 0-57 1 3 0 1 0 19 0 3 0 1 0 4 0-33 1 14 0 5 0 4 0-21 1 9 0 10 0 1 0-19 1 11 0 6 0-5 1 8 0 30 0-45 1 1 0 6 0 9 0 6 0-13 1 8 0 12 0-27 1 13 0 4 0 14 0-45 1 7 0 2 0 7 0 8 0 5 0 8 0 2 0-41 1 7 0 12 0 8 0 7 0-34 1 10 0 11 0 13 0 4 0-38 1 7 0 29 0 1 0 2 0 4 0 2 0 1 0 2 0-51 1 24 0 15 0 3 0 5 0-46 1 3 0 1 0 1 0 13 0 2 0 1 0 3 0 17 0 7 0-15 1 20 0-58 1 3 0 3 0 7 0 16 0 5 0 3 0 8 0 1 0 6 0-51 1 11 0 7 0 25 0 2 0-34 1 4 0 15 0 11 0 3 0 1 0 2 0-50 1 1 0 7 0 4 0 7 0 11 0 15 0-47 1 6 0 7 0 1 0 6 0 7 0-17 1 10 0 8 0 20 0 4 0-30 1 1 0 13 0 16 0 3 0-54 1 3 0 3 0 13 0 7 0 1 0 4 0 7 0 15 0-58 1 15 0 3 0 3 0 7 0 23 0-39 1 3 0 7 0 5 0 3 0 22 0-51 1 3 0 35 0 8 0 3 0 3 0 4 0-28 1 12 0 11 0 5 0 3 0-58 1 3 0 14 0 14 0 17 0-53 1 10 0 1 0 30 0 7 0 1 0 9 0-47 1 2 0 1 0 9 0 10 0 1 0 2 0 3 0 6 0 6 0-46 1 18 0 12 0 23 0 3 0-55 1 23 0 3 0 6 0 12 0 11 0-51 1 6 0 3 0 3 0 11 0-20 1 7 0 6 0 3 0 7 0 6 0 3 0-37 1 8 0 8 0 13 0 1 0 2 0 3 0-22 1 15 0 16 0-44 1 6 0 3 0 15 0-13 1 13 0-22 1 3 0 2 0 2 0 12 0 6 0-17 1 1 0 3 0 1 0-14 1 2 0 3 0 1 0 2 0 3 0 1 0 4 1 1 0-15 1 3 0 1 0 1 0 6 0 3 0-22 1 8 0 8 0 1 0 3 0-9 1 1 0 3 0-5 1 1 0 4 0 3 0-2 1 1 0 1 0-9 1-4 2 7 0-5 1 2 0-4 1 2 0 1 1 1 0 2 0 87 0-94 1 5 0-2 1 2 1 1 0-5 2 8 0-5 1-86 11 125 36-12 2 3 2 2 1-69 11 1 2-3 3-2 2 2 0-4 1 4 0 3 1-4 4" fill="none" stroke="none" marker-start="url(#k18)" marker-mid="url(#k18)" marker-end="url(#k18)"/>
<path d="M1827 1316l3 3-14 5 14 2-10 3-3 2 19 0-19 1-1 1 1 0 11 3-4 3 13 0-5 1-10 1 73 4 16 1 15 0-35 1 3 0 17 1 6 0-24 1 1 0 8 0 12 0 2 0-18 1 10 0-75 1 50 0 6 0 5 0 6 0 6 0 2 0 1 0-22 1 1 0 14 0 5 0 2 0 3 0 7 0-34 1 13 0 3 0 6 0 7 0-12 1 4 0 1 0 3 0 2 0 7 0 4 0-43 1 1 0 18 0 3 0 2 0 10 0-79 1 46 0 1 0 5 0 9 0 6 0 5 0 1 0 1 0 19 0-42 1 1 0 1 0 5 0 2 0 6 0 3 0 2 0 2 0 2 0 17 0-46 1 6 0 9 0 2 0 6 0 8 0 1 0 9 0 1 0-62 1 1 0 22 0 5 0 18 0 10 0 3 0 5 0-65 1 7 0 9 0 5 0 14 0 2 0 2 0 2 0 1 0 1 0 6 0 3 0 13 0-51 1 7 0 1 0 7 0 1 0 3 0 8 0 3 0 15 0 2 0-42 1 5 0 7 0 10 0 4 0 4 0 4 0 12 0-43 1 10 0 4 0 13 0 2 0 2 0 8 0 7 0-38 1 2 0 4 0 2 0 3 0 8 0 11 0 9 0 2 0 1 0 1 0-53 1 5 0 3 0 7 0 6 0 1 0 1 0 16 0 8 0 6 0-62 1 12 0 5 0 5 0 1 0 1 0 3 0 1 0 13 0 4 0 8 0 4 0 1 0-58 1 2 0 15 0 2 0 3 0 5 0 15 0 1 0 18 0 2 0-56 1 15 0 13 0 5 0 1 0 2 0 9 0 1 0 8 0-60 1 13 0 12 0 2 0 6 0 13 0 7 0 11 0 1 0-60 1 4 0 4 0 6 0 7 0 2 0 19 0 3 0 1 0 4 0 3 0 8 0-64 1 16 0 3 0 13 0 4 0 2 0 3 0 2 0 3 0 1 0 5 0 1 0-47 1 19 0 1 0 1 0 3 0 1 0 1 0 13 0 8 0 1 0-52 1 6 0 2 0 13 0 11 0 12 0 16 0-58 1 1 0 26 0 2 0 9 0 4 0 8 0 2 0 1 0 2 0 3 0 3 0-63 1 5 0 5 0 1 0 3 0 2 0 4 0 10 0 11 0 17 0 5 0 2 0-66 1 9 0 3 0 4 0 4 0 1 0 1 0 2 0 3 0 2 0 4 0 2 0 5 0 5 0 3 0 8 0 2 0 5 0-107 1 43 0 10 0 8 0 3 0 1 0 18 0 3 0 8 0 10 0-63 1 2 0 1 0 2 0 3 0 8 0 9 0 6 0 2 0 3 0 7 0 8 0 3 0 14 0-63 1 19 0 4 0 4 0 5 0 11 0 3 0 11 0-52 1 2 0 20 0 1 0 8 0 2 0 12 0 5 0 7 0 4 0 1 0-65 1 3 0 6 0 6 0 13 0 2 0 2 0 10 0 4 0 2 0 5 0 6 0 1 0 6 0-71 1 10 0 4 0 1 0 5 0 15 0 3 0 14 0 1 0 2 0 11 0 1 0-109 1 41 0 19 0 4 0 18 0 17 0 1 0 12 0-113 1 56 0 1 0 8 0 4 0 2 0 9 0 5 0 2 0 5 0 6 0 4 0-108 1 47 0 1 0 15 0 5 0 2 0 7 0 12 0 4 0 2 0 1 0 9 0 8 0 3 0-58 1 7 0 8 0 2 0 4 0 3 0 1 0 3 0 4 0 10 0-100 1 68 0 1 0 13 0 6 0 3 0 17 0 4 0 9 0-117 1 45 0 2 0 9 0 7 0 1 0 9 0 1 0 3 0 1 0 5 0 15 0 11 0 3 0 5 0-72 1 5 0 10 0 1 0 9 0 10 0 28 0 4 0 6 0-62 1 12 0 10 0 13 0 8 0 6 0 5 0 7 0-63 1 1 0 2 0 8 0 12 0 2 0 5 0 7 0 9 0 2 0 18 0-69 1 1 0 4 0 2 0 17 0 15 0 6 0 16 0 4 0-63 1 19 0 12 0 1 0 8 0 8 0 9 0-57 1 3 0 17 0 1 0 6 0 4 0 2 0 12 0 1 0 8 0 3 0-57 1 5 0 4 0 1 0 7 0 2 0 2 0 5 0 13 0 12 0 5 0-58 1 4 0 7 0 7 0 3 0 25 0 5 0 4 0 2 0 2 0 2 0 1 0 1 0 3 0-59 1 7 0 4 0 7 0 28 0 10 0 4 0-67 1 7 0 5 0 13 0 4 0 5 0 18 0 3 0 10 0-62 1 4 0 6 0 4 0 3 0 5 0 24 0 7 0 1 0 5 0-60 1 6 0 5 0 12 0 5 0 24 0 5 0-57 1 5 0 9 0 4 0 40 0-58 1 1 0 9 0 2 0 2 0 7 0-19 1 3 0 9 0 10 0-12 1 4 0 1 0 1 0 3 0 9 0-38 2 15 0 1 0 6 0 8 0-22 1 13 0 4 0 13 0-4 1 3 0-17 1 18 0-22 1 5 0 2 0 3 0 3 0 3 0 2 0-6 1 10 0 9 0-44 1 11 0 4 0 6 0 7 0 4 0 1 0 1 0-35 1 21 0 3 0 2 0 2 0 11 0 7 0-50 1 3 0 1 0 10 0 20 0 1 0 2 0 2 0 1 0 7 0-40 1 10 0 2 0 2 0 4 0 13 0-39 1 14 0 17 0-34 1 9 0 21 0-32 1 3 0 2 0 2 0 7 0 14 0 15 0 7 0 5 0-57 1 4 0 7 0 3 0 19 0 7 0-21 1 16 0 4 0 14 0-41 1 14 0 6 0 11 0 8 0 5 0-46 1 19 0 1 0 1 0 9 0 10 0 7 0-58 1 7 0 3 0 3 0 10 0 10 0 2 0 7 0 2 0 8 0 2 0-44 1 12 0 21 0 7 0 4 0-41 1 3 0 20 0 4 0 1 0 7 0 2 0 9 0-55 1 18 0 26 0-50 1 23 0 35 0 1 0-45 1 14 0 6 0 3 0 9 0 1 0 4 0 4 0 1 0 3 0 2 0-56 1 4 0 1 0 3 0 5 0 12 0 1 0 12 0 8 0 3 0-50 1 3 0 23 0 4 0 9 0 2 0 5 0 1 0 5 0-54 1 14 0 7 0 3 0 31 0 2 0 1 0-54 1 13 0 1 0 14 0 6 0-28 1 3 0 10 0 16 0 12 0-29 1 4 0-26 1 3 0 3 0 7 0 9 0 9 0 3 0 5 0 9 0-25 1 5 0-17 1 6 0 13 0-26 1 9 0 8 0 7 0-18 1 12 0 1 0 4 0 8 0-20 3 8 0-17 1 17 0-20 1 3 1 1 0 11 0-16 1 4 0 6 0 4 0-15 1 6 1-3 1 4 0 2 0-1 1-7 1 5 0 1 1 3 0-2 1 3 0-5 1 2 0-4 1 1 1-2 1-1 2 3 0 41 49-9 1 3 1-6 1 1 0-71 17 4 3-5 1 4 0-4 1 1 2-2 1 2 1 0 4" fill="none" stroke="none" marker-start="url(#k19)" marker-mid="url(#k19)" marker-end="url(#k19)"/>
<defs><linearGradient id="sexp" x1="0" y1="0" x2="0" y2="1"><stop offset="0" stop-color="#e8191c"/><stop offset="0.5" stop-color="#e49090"/><stop offset="1" stop-color="#d6d4d4"/></linearGradient></defs>
<text x="501.8" y="1355.7" font-size="18.1">Scaled</text>
<text x="501.8" y="1376.5" font-size="18.1">Expression</text>
<rect x="502.4" y="1389.7" width="13.9" height="97.6" fill="url(#sexp)"/>
<text x="523.6" y="1399.5" font-size="18.1">1</text>
<text x="523.6" y="1486.5" font-size="18.1">0</text>
<text transform="translate(545.3,1642.5) rotate(-90)" font-size="18.8">Mean</text><text transform="translate(566,1642.5) rotate(-90)" font-size="18.8">expression</text>
<rect x="617.2" y="1553.3" width="307.6" height="78.6" fill="none" stroke="#e2e2e2" stroke-width="1.6"/>
<text x="612" y="1564.8" font-size="16" text-anchor="end" fill="#222">1.5</text>
<text x="612" y="1631.8" font-size="16" text-anchor="end" fill="#222">0</text>
<path d="M636.4 1557.0C636.4 1561.2 636.0 1576.5 636.6 1582.0C637.2 1587.5 638.8 1587.3 639.8 1590.0C640.8 1592.7 642.5 1595.5 642.8 1598.0C643.0 1600.5 642.1 1602.7 641.3 1605.0C640.5 1607.3 638.6 1609.7 637.8 1612.0C637.0 1614.3 636.6 1617.8 636.4 1619.0L635.2 1619.0C635.0 1617.8 634.6 1614.3 633.8 1612.0C633.0 1609.7 631.1 1607.3 630.3 1605.0C629.5 1602.7 628.5 1600.5 628.8 1598.0C629.0 1595.5 630.8 1592.7 631.8 1590.0C632.8 1587.3 634.4 1587.5 635.0 1582.0C635.6 1576.5 635.2 1561.2 635.2 1557.0Z" fill="#b8dcf5" stroke="#2a2a2a" stroke-width="1.1" stroke-linejoin="round"/>
<path d="M666.5 1576.0C666.6 1578.3 666.2 1586.3 666.9 1590.0C667.5 1593.7 669.6 1595.7 670.4 1598.0C671.2 1600.3 671.2 1602.5 671.9 1604.0C672.6 1605.5 674.4 1605.8 674.4 1607.0C674.4 1608.2 672.8 1609.5 671.9 1611.0C671.0 1612.5 669.8 1614.2 668.9 1616.0C668.0 1617.8 666.9 1621.0 666.5 1622.0L665.3 1622.0C664.9 1621.0 663.8 1617.8 662.9 1616.0C662.0 1614.2 660.8 1612.5 659.9 1611.0C659.0 1609.5 657.4 1608.2 657.4 1607.0C657.4 1605.8 659.2 1605.5 659.9 1604.0C660.6 1602.5 660.6 1600.3 661.4 1598.0C662.2 1595.7 664.2 1593.7 664.9 1590.0C665.5 1586.3 665.2 1578.3 665.3 1576.0Z" fill="#a8c8e8" stroke="#2a2a2a" stroke-width="1.1" stroke-linejoin="round"/>
<path d="M696.4 1576.0C696.5 1577.2 697.0 1580.7 697.3 1583.0C697.6 1585.3 698.2 1587.2 698.3 1590.0C698.4 1592.8 698.0 1597.0 697.8 1600.0C697.6 1603.0 697.1 1605.3 697.3 1608.0C697.5 1610.7 698.5 1613.7 698.8 1616.0C699.0 1618.3 699.1 1620.0 698.8 1622.0C698.5 1624.0 697.1 1627.0 696.8 1628.0L694.8 1628.0C694.5 1627.0 693.1 1624.0 692.8 1622.0C692.5 1620.0 692.5 1618.3 692.8 1616.0C693.0 1613.7 694.1 1610.7 694.3 1608.0C694.5 1605.3 694.0 1603.0 693.8 1600.0C693.6 1597.0 693.2 1592.8 693.3 1590.0C693.4 1587.2 694.0 1585.3 694.3 1583.0C694.6 1580.7 695.0 1577.2 695.2 1576.0Z" fill="#4a7fa8" stroke="#2a2a2a" stroke-width="1.1" stroke-linejoin="round"/>
<path d="M726.2 1595.0C726.4 1596.7 726.4 1602.2 727.1 1605.0C727.8 1607.8 729.2 1609.8 730.6 1612.0C732.0 1614.2 734.3 1616.7 735.6 1618.0C736.9 1619.3 738.9 1619.2 738.6 1620.0C738.3 1620.8 735.3 1621.8 733.6 1623.0C731.9 1624.2 729.4 1626.0 728.6 1627.0C727.8 1628.0 728.6 1628.7 728.6 1629.0L722.6 1629.0C722.6 1628.7 723.4 1628.0 722.6 1627.0C721.8 1626.0 719.3 1624.2 717.6 1623.0C715.9 1621.8 712.9 1620.8 712.6 1620.0C712.3 1619.2 714.3 1619.3 715.6 1618.0C716.9 1616.7 719.2 1614.2 720.6 1612.0C722.0 1609.8 723.4 1607.8 724.1 1605.0C724.8 1602.2 724.9 1596.7 725.0 1595.0Z" fill="#606060" stroke="#2a2a2a" stroke-width="1.1" stroke-linejoin="round"/>
<path d="M756.3 1592.0C756.5 1593.8 756.5 1600.0 757.2 1603.0C757.9 1606.0 759.1 1607.7 760.7 1610.0C762.3 1612.3 765.4 1615.3 766.7 1617.0C768.0 1618.7 769.4 1619.0 768.7 1620.0C768.0 1621.0 764.4 1621.8 762.7 1623.0C761.0 1624.2 759.4 1626.0 758.7 1627.0C758.0 1628.0 758.7 1628.7 758.7 1629.0L752.7 1629.0C752.7 1628.7 753.4 1628.0 752.7 1627.0C752.0 1626.0 750.4 1624.2 748.7 1623.0C747.0 1621.8 743.4 1621.0 742.7 1620.0C742.0 1619.0 743.4 1618.7 744.7 1617.0C746.0 1615.3 749.1 1612.3 750.7 1610.0C752.3 1607.7 753.5 1606.0 754.2 1603.0C754.9 1600.0 755.0 1593.8 755.1 1592.0Z" fill="#a8a0b8" stroke="#2a2a2a" stroke-width="1.1" stroke-linejoin="round"/>
<path d="M786.4 1598.0C786.6 1599.2 786.9 1602.7 787.8 1605.0C788.7 1607.3 790.3 1609.8 791.8 1612.0C793.3 1614.2 795.8 1616.7 796.8 1618.0C797.8 1619.3 798.5 1619.2 797.8 1620.0C797.1 1620.8 794.3 1621.8 792.8 1623.0C791.3 1624.2 789.5 1626.0 788.8 1627.0C788.1 1628.0 788.8 1628.7 788.8 1629.0L782.8 1629.0C782.8 1628.7 783.5 1628.0 782.8 1627.0C782.1 1626.0 780.3 1624.2 778.8 1623.0C777.3 1621.8 774.5 1620.8 773.8 1620.0C773.1 1619.2 773.8 1619.3 774.8 1618.0C775.8 1616.7 778.3 1614.2 779.8 1612.0C781.3 1609.8 782.9 1607.3 783.8 1605.0C784.7 1602.7 785.0 1599.2 785.2 1598.0Z" fill="#706870" stroke="#2a2a2a" stroke-width="1.1" stroke-linejoin="round"/>
<path d="M816.7 1600.0C816.9 1601.0 817.2 1604.0 818.1 1606.0C819.0 1608.0 820.6 1610.0 822.1 1612.0C823.6 1614.0 826.1 1616.7 827.1 1618.0C828.1 1619.3 828.8 1619.2 828.1 1620.0C827.4 1620.8 824.6 1621.8 823.1 1623.0C821.6 1624.2 819.8 1626.0 819.1 1627.0C818.4 1628.0 819.1 1628.7 819.1 1629.0L813.1 1629.0C813.1 1628.7 813.8 1628.0 813.1 1627.0C812.4 1626.0 810.6 1624.2 809.1 1623.0C807.6 1621.8 804.8 1620.8 804.1 1620.0C803.4 1619.2 804.1 1619.3 805.1 1618.0C806.1 1616.7 808.6 1614.0 810.1 1612.0C811.6 1610.0 813.2 1608.0 814.1 1606.0C815.0 1604.0 815.3 1601.0 815.5 1600.0Z" fill="#b8a8b0" stroke="#2a2a2a" stroke-width="1.1" stroke-linejoin="round"/>
<path d="M848.2 1588.0C848.5 1588.3 849.5 1588.0 849.7 1590.0C850.0 1592.0 849.6 1597.0 849.7 1600.0C849.8 1603.0 850.3 1605.0 850.2 1608.0C850.1 1611.0 849.5 1615.8 849.2 1618.0C849.0 1620.2 848.8 1620.5 848.7 1621.0L843.7 1621.0C843.6 1620.5 843.5 1620.2 843.2 1618.0C843.0 1615.8 842.3 1611.0 842.2 1608.0C842.1 1605.0 842.6 1603.0 842.7 1600.0C842.8 1597.0 842.5 1592.0 842.7 1590.0C843.0 1588.0 844.0 1588.3 844.2 1588.0Z" fill="#a0d030" stroke="#2a2a2a" stroke-width="1.1" stroke-linejoin="round"/>
<path d="M876.9 1591.0C877.0 1593.2 877.1 1600.5 877.8 1604.0C878.5 1607.5 879.7 1609.7 881.3 1612.0C882.9 1614.3 886.1 1616.7 887.3 1618.0C888.5 1619.3 889.1 1619.2 888.3 1620.0C887.5 1620.8 883.9 1621.8 882.3 1623.0C880.7 1624.2 879.4 1626.0 878.8 1627.0C878.2 1628.0 878.8 1628.7 878.8 1629.0L873.8 1629.0C873.8 1628.7 874.4 1628.0 873.8 1627.0C873.2 1626.0 871.9 1624.2 870.3 1623.0C868.7 1621.8 865.1 1620.8 864.3 1620.0C863.5 1619.2 864.1 1619.3 865.3 1618.0C866.5 1616.7 869.7 1614.3 871.3 1612.0C872.9 1609.7 874.1 1607.5 874.8 1604.0C875.5 1600.5 875.5 1593.2 875.7 1591.0Z" fill="#807888" stroke="#2a2a2a" stroke-width="1.1" stroke-linejoin="round"/>
<path d="M906.8 1594.0C907.0 1595.0 907.3 1597.7 908.2 1600.0C909.1 1602.3 911.2 1605.7 912.2 1608.0C913.2 1610.3 913.9 1612.3 914.2 1614.0C914.5 1615.7 914.7 1616.7 914.2 1618.0C913.7 1619.3 912.2 1620.5 911.2 1622.0C910.2 1623.5 908.7 1625.8 908.2 1627.0C907.7 1628.2 908.2 1628.7 908.2 1629.0L904.2 1629.0C904.2 1628.7 904.7 1628.2 904.2 1627.0C903.7 1625.8 902.2 1623.5 901.2 1622.0C900.2 1620.5 898.7 1619.3 898.2 1618.0C897.7 1616.7 897.9 1615.7 898.2 1614.0C898.5 1612.3 899.2 1610.3 900.2 1608.0C901.2 1605.7 903.3 1602.3 904.2 1600.0C905.1 1597.7 905.4 1595.0 905.6 1594.0Z" fill="#704a78" stroke="#2a2a2a" stroke-width="1.1" stroke-linejoin="round"/>
<text transform="translate(640.3,1641) rotate(-90)" font-size="15.4" text-anchor="end">1</text>
<text transform="translate(670.4,1641) rotate(-90)" font-size="15.4" text-anchor="end">3</text>
<text transform="translate(700.3,1641) rotate(-90)" font-size="15.4" text-anchor="end">7</text>
<text transform="translate(730.1,1641) rotate(-90)" font-size="15.4" text-anchor="end">Microglia 1</text>
<text transform="translate(760.2,1641) rotate(-90)" font-size="15.4" text-anchor="end">Microglia 2</text>
<text transform="translate(790.3,1641) rotate(-90)" font-size="15.4" text-anchor="end">Microglia 3</text>
<text transform="translate(820.6,1641) rotate(-90)" font-size="15.4" text-anchor="end">Microglia 4</text>
<text transform="translate(850.7,1641) rotate(-90)" font-size="15.4" text-anchor="end">Oligo.</text>
<text transform="translate(880.8,1641) rotate(-90)" font-size="15.4" text-anchor="end">Pericytes</text>
<text transform="translate(910.7,1641) rotate(-90)" font-size="15.4" text-anchor="end">T−cells</text>
<rect x="992.5" y="1553.3" width="311.5" height="79.9" fill="none" stroke="#e2e2e2" stroke-width="1.6"/>
<text x="985.5" y="1564.8" font-size="16" text-anchor="end" fill="#222">0.8</text>
<text x="985.5" y="1631.8" font-size="16" text-anchor="end" fill="#222">0</text>
<path d="M1011.7 1600.0C1011.8 1602.8 1011.2 1613.7 1012.1 1617.0C1013.0 1620.3 1015.0 1619.0 1017.1 1620.0C1019.2 1621.0 1024.6 1622.0 1024.6 1623.0C1024.6 1624.0 1019.2 1625.2 1017.1 1626.0C1015.0 1626.8 1012.9 1627.7 1012.1 1628.0L1010.1 1628.0C1009.3 1627.7 1007.2 1626.8 1005.1 1626.0C1003.0 1625.2 997.6 1624.0 997.6 1623.0C997.6 1622.0 1003.0 1621.0 1005.1 1620.0C1007.2 1619.0 1009.2 1620.3 1010.1 1617.0C1011.0 1613.7 1010.4 1602.8 1010.5 1600.0Z" fill="#b8dcf5" stroke="#2a2a2a" stroke-width="1.1" stroke-linejoin="round"/>
<path d="M1041.8 1590.0C1041.9 1593.7 1041.5 1607.3 1042.2 1612.0C1042.9 1616.7 1044.7 1616.2 1046.2 1618.0C1047.7 1619.8 1051.4 1621.7 1051.2 1623.0C1051.0 1624.3 1046.7 1625.2 1045.2 1626.0C1043.7 1626.8 1042.7 1627.7 1042.2 1628.0L1040.2 1628.0C1039.7 1627.7 1038.7 1626.8 1037.2 1626.0C1035.7 1625.2 1031.4 1624.3 1031.2 1623.0C1031.0 1621.7 1034.7 1619.8 1036.2 1618.0C1037.7 1616.2 1039.5 1616.7 1040.2 1612.0C1040.9 1607.3 1040.5 1593.7 1040.6 1590.0Z" fill="#a8c8e8" stroke="#2a2a2a" stroke-width="1.1" stroke-linejoin="round"/>
<path d="M1073.6 1580.0C1073.7 1580.8 1074.3 1581.7 1074.3 1585.0C1074.3 1588.3 1074.0 1595.8 1073.8 1600.0C1073.6 1604.2 1073.0 1607.0 1073.0 1610.0C1073.0 1613.0 1073.6 1615.5 1073.8 1618.0C1074.0 1620.5 1074.2 1623.5 1074.1 1625.0C1074.0 1626.5 1073.4 1626.7 1073.3 1627.0L1070.3 1627.0C1070.2 1626.7 1069.6 1626.5 1069.5 1625.0C1069.4 1623.5 1069.6 1620.5 1069.8 1618.0C1070.0 1615.5 1070.6 1613.0 1070.6 1610.0C1070.6 1607.0 1070.0 1604.2 1069.8 1600.0C1069.6 1595.8 1069.3 1588.3 1069.3 1585.0C1069.3 1581.7 1069.9 1580.8 1070.0 1580.0Z" fill="#4a7fa8" stroke="#2a2a2a" stroke-width="1.1" stroke-linejoin="round"/>
<path d="M1103.0 1573.0C1103.3 1574.2 1104.2 1577.5 1104.9 1580.0C1105.6 1582.5 1107.3 1585.5 1107.4 1588.0C1107.5 1590.5 1106.1 1592.2 1105.4 1595.0C1104.7 1597.8 1103.8 1600.0 1103.4 1605.0C1103.0 1610.0 1103.0 1621.7 1102.9 1625.0L1101.9 1625.0C1101.8 1621.7 1101.8 1610.0 1101.4 1605.0C1101.0 1600.0 1100.1 1597.8 1099.4 1595.0C1098.7 1592.2 1097.3 1590.5 1097.4 1588.0C1097.5 1585.5 1099.2 1582.5 1099.9 1580.0C1100.6 1577.5 1101.5 1574.2 1101.8 1573.0Z" fill="#606060" stroke="#2a2a2a" stroke-width="1.1" stroke-linejoin="round"/>
<path d="M1133.7 1576.0C1134.1 1577.3 1135.4 1581.5 1136.1 1584.0C1136.8 1586.5 1138.1 1588.8 1138.1 1591.0C1138.1 1593.2 1136.8 1594.5 1136.1 1597.0C1135.4 1599.5 1134.5 1602.0 1134.1 1606.0C1133.7 1610.0 1133.7 1618.5 1133.6 1621.0L1132.6 1621.0C1132.5 1618.5 1132.5 1610.0 1132.1 1606.0C1131.7 1602.0 1130.8 1599.5 1130.1 1597.0C1129.4 1594.5 1128.1 1593.2 1128.1 1591.0C1128.1 1588.8 1129.4 1586.5 1130.1 1584.0C1130.8 1581.5 1132.1 1577.3 1132.5 1576.0Z" fill="#a8a0b8" stroke="#2a2a2a" stroke-width="1.1" stroke-linejoin="round"/>
<path d="M1164.3 1575.0C1164.7 1576.3 1166.0 1580.5 1166.7 1583.0C1167.4 1585.5 1168.7 1587.7 1168.7 1590.0C1168.7 1592.3 1167.3 1594.5 1166.7 1597.0C1166.1 1599.5 1165.6 1602.7 1165.2 1605.0C1164.8 1607.3 1164.5 1610.0 1164.3 1611.0L1163.1 1611.0C1163.0 1610.0 1162.6 1607.3 1162.2 1605.0C1161.8 1602.7 1161.3 1599.5 1160.7 1597.0C1160.1 1594.5 1158.7 1592.3 1158.7 1590.0C1158.7 1587.7 1160.0 1585.5 1160.7 1583.0C1161.4 1580.5 1162.7 1576.3 1163.1 1575.0Z" fill="#706870" stroke="#2a2a2a" stroke-width="1.1" stroke-linejoin="round"/>
<path d="M1195.1 1580.0C1195.4 1580.8 1196.4 1582.5 1196.8 1585.0C1197.2 1587.5 1197.4 1591.7 1197.3 1595.0C1197.2 1598.3 1196.6 1601.8 1196.3 1605.0C1196.0 1608.2 1195.5 1612.5 1195.3 1614.0L1193.3 1614.0C1193.1 1612.5 1192.6 1608.2 1192.3 1605.0C1192.0 1601.8 1191.4 1598.3 1191.3 1595.0C1191.2 1591.7 1191.4 1587.5 1191.8 1585.0C1192.2 1582.5 1193.2 1580.8 1193.5 1580.0Z" fill="#b8a8b0" stroke="#2a2a2a" stroke-width="1.1" stroke-linejoin="round"/>
<path d="M1225.0 1617.0C1225.6 1617.3 1226.8 1618.2 1228.4 1619.0C1230.0 1619.8 1232.9 1621.2 1234.4 1622.0C1235.9 1622.8 1238.2 1623.3 1237.4 1624.0C1236.6 1624.7 1230.7 1625.7 1229.4 1626.0L1219.4 1626.0C1218.1 1625.7 1212.2 1624.7 1211.4 1624.0C1210.6 1623.3 1212.9 1622.8 1214.4 1622.0C1215.9 1621.2 1218.8 1619.8 1220.4 1619.0C1222.0 1618.2 1223.2 1617.3 1223.8 1617.0Z" fill="#a0d030" stroke="#2a2a2a" stroke-width="1.1" stroke-linejoin="round"/>
<path d="M1255.6 1592.0C1255.7 1595.3 1255.3 1607.8 1256.0 1612.0C1256.7 1616.2 1258.3 1615.3 1260.0 1617.0C1261.7 1618.7 1266.0 1620.7 1266.0 1622.0C1266.0 1623.3 1261.5 1624.2 1260.0 1625.0C1258.5 1625.8 1257.5 1626.7 1257.0 1627.0L1253.0 1627.0C1252.5 1626.7 1251.5 1625.8 1250.0 1625.0C1248.5 1624.2 1244.0 1623.3 1244.0 1622.0C1244.0 1620.7 1248.3 1618.7 1250.0 1617.0C1251.7 1615.3 1253.3 1616.2 1254.0 1612.0C1254.7 1607.8 1254.3 1595.3 1254.4 1592.0Z" fill="#807888" stroke="#2a2a2a" stroke-width="1.1" stroke-linejoin="round"/>
<path d="M1286.3 1579.0C1286.4 1582.2 1286.3 1593.7 1286.7 1598.0C1287.1 1602.3 1287.9 1602.7 1288.7 1605.0C1289.5 1607.3 1291.4 1610.2 1291.7 1612.0C1292.0 1613.8 1291.4 1614.7 1290.7 1616.0C1290.0 1617.3 1288.4 1619.0 1287.7 1620.0C1287.0 1621.0 1286.9 1621.7 1286.7 1622.0L1284.7 1622.0C1284.5 1621.7 1284.4 1621.0 1283.7 1620.0C1283.0 1619.0 1281.4 1617.3 1280.7 1616.0C1280.0 1614.7 1279.4 1613.8 1279.7 1612.0C1280.0 1610.2 1281.9 1607.3 1282.7 1605.0C1283.5 1602.7 1284.3 1602.3 1284.7 1598.0C1285.1 1593.7 1285.0 1582.2 1285.1 1579.0Z" fill="#704a78" stroke="#2a2a2a" stroke-width="1.1" stroke-linejoin="round"/>
<text transform="translate(1015.6,1641) rotate(-90)" font-size="15.4" text-anchor="end">1</text>
<text transform="translate(1045.7,1641) rotate(-90)" font-size="15.4" text-anchor="end">3</text>
<text transform="translate(1076.3,1641) rotate(-90)" font-size="15.4" text-anchor="end">7</text>
<text transform="translate(1106.9,1641) rotate(-90)" font-size="15.4" text-anchor="end">Microglia 1</text>
<text transform="translate(1137.6,1641) rotate(-90)" font-size="15.4" text-anchor="end">Microglia 2</text>
<text transform="translate(1168.2,1641) rotate(-90)" font-size="15.4" text-anchor="end">Microglia 3</text>
<text transform="translate(1198.8,1641) rotate(-90)" font-size="15.4" text-anchor="end">Microglia 4</text>
<text transform="translate(1228.9,1641) rotate(-90)" font-size="15.4" text-anchor="end">Oligo.</text>
<text transform="translate(1259.5,1641) rotate(-90)" font-size="15.4" text-anchor="end">Pericytes</text>
<text transform="translate(1290.2,1641) rotate(-90)" font-size="15.4" text-anchor="end">T−cells</text>
<rect x="1364" y="1556.5" width="300.0" height="75.9" fill="none" stroke="#e2e2e2" stroke-width="1.6"/>
<text x="1360.5" y="1564.8" font-size="16" text-anchor="end" fill="#222">1.6</text>
<text x="1360.5" y="1632.3" font-size="16" text-anchor="end" fill="#222">0</text>
<path d="M1382.4 1616.0C1382.4 1617.3 1382.0 1622.2 1382.6 1624.0C1383.2 1625.8 1385.1 1626.2 1385.8 1627.0C1386.5 1627.8 1387.4 1628.5 1386.8 1629.0C1386.2 1629.5 1383.0 1629.8 1382.3 1630.0L1381.3 1630.0C1380.5 1629.8 1377.4 1629.5 1376.8 1629.0C1376.2 1628.5 1377.1 1627.8 1377.8 1627.0C1378.5 1626.2 1380.4 1625.8 1381.0 1624.0C1381.6 1622.2 1381.2 1617.3 1381.2 1616.0Z" fill="#b8dcf5" stroke="#2a2a2a" stroke-width="1.1" stroke-linejoin="round"/>
<path d="M1411.9 1607.0C1411.9 1609.8 1411.5 1620.7 1412.1 1624.0C1412.7 1627.3 1414.6 1626.2 1415.3 1627.0C1416.0 1627.8 1416.9 1628.5 1416.3 1629.0C1415.7 1629.5 1412.5 1629.8 1411.8 1630.0L1410.8 1630.0C1410.0 1629.8 1406.9 1629.5 1406.3 1629.0C1405.7 1628.5 1406.6 1627.8 1407.3 1627.0C1408.0 1626.2 1409.9 1627.3 1410.5 1624.0C1411.1 1620.7 1410.7 1609.8 1410.7 1607.0Z" fill="#a8c8e8" stroke="#2a2a2a" stroke-width="1.1" stroke-linejoin="round"/>
<path d="M1441.2 1617.0C1441.3 1618.2 1441.7 1622.3 1442.1 1624.0C1442.5 1625.7 1443.5 1626.2 1443.6 1627.0C1443.7 1627.8 1443.0 1628.5 1442.6 1629.0C1442.2 1629.5 1441.3 1629.8 1441.1 1630.0L1440.1 1630.0C1439.8 1629.8 1439.0 1629.5 1438.6 1629.0C1438.2 1628.5 1437.5 1627.8 1437.6 1627.0C1437.7 1626.2 1438.7 1625.7 1439.1 1624.0C1439.5 1622.3 1439.8 1618.2 1440.0 1617.0Z" fill="#4a7fa8" stroke="#2a2a2a" stroke-width="1.1" stroke-linejoin="round"/>
<path d="M1470.5 1616.0C1470.5 1617.3 1470.1 1622.2 1470.7 1624.0C1471.3 1625.8 1473.2 1626.2 1473.9 1627.0C1474.6 1627.8 1475.5 1628.5 1474.9 1629.0C1474.3 1629.5 1471.2 1629.8 1470.4 1630.0L1469.4 1630.0C1468.7 1629.8 1465.5 1629.5 1464.9 1629.0C1464.3 1628.5 1465.2 1627.8 1465.9 1627.0C1466.6 1626.2 1468.5 1625.8 1469.1 1624.0C1469.7 1622.2 1469.3 1617.3 1469.3 1616.0Z" fill="#606060" stroke="#2a2a2a" stroke-width="1.1" stroke-linejoin="round"/>
<path d="M1500.1 1611.0C1500.1 1613.2 1499.7 1621.3 1500.3 1624.0C1500.9 1626.7 1502.7 1626.2 1503.5 1627.0C1504.3 1627.8 1505.6 1628.5 1505.0 1629.0C1504.4 1629.5 1500.8 1629.8 1500.0 1630.0L1499.0 1630.0C1498.2 1629.8 1494.6 1629.5 1494.0 1629.0C1493.4 1628.5 1494.7 1627.8 1495.5 1627.0C1496.3 1626.2 1498.1 1626.7 1498.7 1624.0C1499.3 1621.3 1498.9 1613.2 1498.9 1611.0Z" fill="#a8a0b8" stroke="#2a2a2a" stroke-width="1.1" stroke-linejoin="round"/>
<path d="M1529.6 1619.0C1529.7 1620.0 1529.4 1623.5 1530.0 1625.0C1530.6 1626.5 1532.5 1627.3 1533.0 1628.0C1533.5 1628.7 1533.6 1628.7 1533.0 1629.0C1532.4 1629.3 1530.1 1629.8 1529.5 1630.0L1528.5 1630.0C1527.9 1629.8 1525.6 1629.3 1525.0 1629.0C1524.4 1628.7 1524.5 1628.7 1525.0 1628.0C1525.5 1627.3 1527.4 1626.5 1528.0 1625.0C1528.6 1623.5 1528.3 1620.0 1528.4 1619.0Z" fill="#706870" stroke="#2a2a2a" stroke-width="1.1" stroke-linejoin="round"/>
<path d="M1559.0 1619.0C1559.2 1620.0 1559.7 1623.5 1559.9 1625.0C1560.1 1626.5 1560.5 1627.2 1560.4 1628.0C1560.3 1628.8 1559.6 1629.7 1559.4 1630.0L1557.4 1630.0C1557.2 1629.7 1556.5 1628.8 1556.4 1628.0C1556.3 1627.2 1556.7 1626.5 1556.9 1625.0C1557.1 1623.5 1557.7 1620.0 1557.8 1619.0Z" fill="#b8a8b0" stroke="#2a2a2a" stroke-width="1.1" stroke-linejoin="round"/>
<path d="M1589.7 1618.0C1589.8 1618.3 1590.2 1619.0 1590.2 1620.0C1590.2 1621.0 1589.6 1622.7 1589.7 1624.0C1589.8 1625.3 1590.6 1627.0 1590.7 1628.0C1590.8 1629.0 1590.3 1629.7 1590.2 1630.0L1585.2 1630.0C1585.1 1629.7 1584.6 1629.0 1584.7 1628.0C1584.8 1627.0 1585.6 1625.3 1585.7 1624.0C1585.8 1622.7 1585.2 1621.0 1585.2 1620.0C1585.2 1619.0 1585.6 1618.3 1585.7 1618.0Z" fill="#303030" stroke="#2a2a2a" stroke-width="1.1" stroke-linejoin="round"/>
<path d="M1617.6 1592.0C1617.6 1597.7 1615.7 1620.0 1617.8 1626.0C1619.9 1632.0 1628.1 1627.3 1630.0 1628.0C1631.9 1628.7 1631.1 1629.5 1629.0 1630.0C1626.9 1630.5 1619.4 1630.8 1617.5 1631.0L1616.5 1631.0C1614.6 1630.8 1607.1 1630.5 1605.0 1630.0C1602.9 1629.5 1602.1 1628.7 1604.0 1628.0C1605.9 1627.3 1614.1 1632.0 1616.2 1626.0C1618.3 1620.0 1616.4 1597.7 1616.4 1592.0Z" fill="#807888" stroke="#2a2a2a" stroke-width="1.1" stroke-linejoin="round"/>
<path d="M1647.4 1567.0C1647.4 1577.2 1647.4 1617.8 1647.4 1628.0L1646.2 1628.0C1646.2 1617.8 1646.2 1577.2 1646.2 1567.0Z" fill="#704a78" stroke="#2a2a2a" stroke-width="1.1" stroke-linejoin="round"/>
<text transform="translate(1386.3,1641) rotate(-90)" font-size="15.4" text-anchor="end">1</text>
<text transform="translate(1415.8,1641) rotate(-90)" font-size="15.4" text-anchor="end">3</text>
<text transform="translate(1445.1,1641) rotate(-90)" font-size="15.4" text-anchor="end">7</text>
<text transform="translate(1474.4,1641) rotate(-90)" font-size="15.4" text-anchor="end">Microglia 1</text>
<text transform="translate(1504.0,1641) rotate(-90)" font-size="15.4" text-anchor="end">Microglia 2</text>
<text transform="translate(1533.5,1641) rotate(-90)" font-size="15.4" text-anchor="end">Microglia 3</text>
<text transform="translate(1562.9,1641) rotate(-90)" font-size="15.4" text-anchor="end">Microglia 4</text>
<text transform="translate(1592.2,1641) rotate(-90)" font-size="15.4" text-anchor="end">Oligo.</text>
<text transform="translate(1621.5,1641) rotate(-90)" font-size="15.4" text-anchor="end">Pericytes</text>
<text transform="translate(1651.3,1641) rotate(-90)" font-size="15.4" text-anchor="end">T−cells</text>
<rect x="1714.2" y="1554.9" width="306.8" height="79.3" fill="none" stroke="#e2e2e2" stroke-width="1.6"/>
<text x="1709" y="1564.4" font-size="16" text-anchor="end" fill="#222">5</text>
<text x="1709" y="1632.8" font-size="16" text-anchor="end" fill="#222">0</text>
<path d="M1734.8 1560.7C1734.9 1561.8 1734.3 1565.1 1735.2 1567.0C1736.1 1568.9 1738.1 1570.1 1740.2 1572.0C1742.3 1573.9 1747.5 1576.3 1747.7 1578.3C1747.9 1580.3 1743.2 1582.0 1741.2 1584.0C1739.2 1586.0 1736.8 1587.3 1735.7 1590.0C1734.6 1592.7 1735.0 1598.3 1734.8 1600.0L1733.6 1600.0C1733.5 1598.3 1733.8 1592.7 1732.7 1590.0C1731.6 1587.3 1729.2 1586.0 1727.2 1584.0C1725.2 1582.0 1720.5 1580.3 1720.7 1578.3C1720.9 1576.3 1726.1 1573.9 1728.2 1572.0C1730.3 1570.1 1732.3 1568.9 1733.2 1567.0C1734.1 1565.1 1733.5 1561.8 1733.6 1560.7Z" fill="#b8e0f8" stroke="#2a2a2a" stroke-width="1.1" stroke-linejoin="round"/>
<path d="M1768.0 1559.0C1768.6 1559.8 1769.0 1562.0 1771.4 1564.0C1773.8 1566.0 1781.6 1569.0 1782.4 1571.0C1783.2 1573.0 1778.6 1574.2 1776.4 1576.0C1774.2 1577.8 1770.7 1579.7 1769.4 1582.0C1768.1 1584.3 1768.6 1586.3 1768.4 1590.0C1768.2 1593.7 1768.1 1601.7 1768.0 1604.0L1766.8 1604.0C1766.7 1601.7 1766.6 1593.7 1766.4 1590.0C1766.2 1586.3 1766.7 1584.3 1765.4 1582.0C1764.1 1579.7 1760.6 1577.8 1758.4 1576.0C1756.2 1574.2 1751.6 1573.0 1752.4 1571.0C1753.2 1569.0 1761.0 1566.0 1763.4 1564.0C1765.8 1562.0 1766.2 1559.8 1766.8 1559.0Z" fill="#b0d0ea" stroke="#2a2a2a" stroke-width="1.1" stroke-linejoin="round"/>
<path d="M1801.3 1560.7C1801.5 1561.6 1801.6 1564.1 1802.7 1566.0C1803.8 1567.9 1806.2 1570.0 1807.7 1572.0C1809.2 1574.0 1811.7 1576.0 1811.5 1578.3C1811.3 1580.6 1808.2 1583.4 1806.7 1586.0C1805.2 1588.6 1803.6 1589.4 1802.7 1594.0C1801.8 1598.6 1801.5 1610.2 1801.3 1613.5L1800.1 1613.5C1799.9 1610.2 1799.6 1598.6 1798.7 1594.0C1797.8 1589.4 1796.2 1588.6 1794.7 1586.0C1793.2 1583.4 1790.1 1580.6 1789.9 1578.3C1789.7 1576.0 1792.2 1574.0 1793.7 1572.0C1795.2 1570.0 1797.6 1567.9 1798.7 1566.0C1799.8 1564.1 1799.9 1561.6 1800.1 1560.7Z" fill="#5a88b0" stroke="#2a2a2a" stroke-width="1.1" stroke-linejoin="round"/>
<path d="M1834.8 1561.7C1835.2 1563.1 1835.4 1566.9 1837.2 1570.0C1839.0 1573.1 1845.1 1577.4 1845.6 1580.4C1846.1 1583.4 1841.8 1585.4 1840.2 1588.0C1838.6 1590.6 1837.1 1593.5 1836.2 1596.0C1835.3 1598.5 1835.0 1601.8 1834.8 1603.0L1833.6 1603.0C1833.4 1601.8 1833.1 1598.5 1832.2 1596.0C1831.3 1593.5 1829.8 1590.6 1828.2 1588.0C1826.6 1585.4 1822.3 1583.4 1822.8 1580.4C1823.3 1577.4 1829.4 1573.1 1831.2 1570.0C1833.0 1566.9 1833.2 1563.1 1833.6 1561.7Z" fill="#2a6a98" stroke="#2a2a2a" stroke-width="1.1" stroke-linejoin="round"/>
<path d="M1875.4 1587.0C1875.7 1587.5 1876.7 1588.6 1877.4 1590.0C1878.1 1591.4 1880.5 1593.5 1879.8 1595.5C1879.1 1597.5 1875.2 1599.7 1873.4 1602.0C1871.6 1604.3 1869.7 1608.2 1868.9 1609.4L1865.9 1609.4C1865.2 1608.2 1863.2 1604.3 1861.4 1602.0C1859.6 1599.7 1855.7 1597.5 1855.0 1595.5C1854.3 1593.5 1856.7 1591.4 1857.4 1590.0C1858.1 1588.6 1859.1 1587.5 1859.4 1587.0Z" fill="#6a2a78" stroke="#2a2a2a" stroke-width="1.1" stroke-linejoin="round"/>
<path d="M1901.5 1572.7C1902.2 1573.9 1904.0 1577.5 1905.9 1580.0C1907.8 1582.5 1912.5 1585.1 1912.7 1587.6C1912.9 1590.1 1908.5 1592.8 1906.9 1595.0C1905.3 1597.2 1903.8 1599.0 1902.9 1601.0C1902.0 1603.0 1901.7 1606.0 1901.5 1607.0L1900.3 1607.0C1900.1 1606.0 1899.8 1603.0 1898.9 1601.0C1898.0 1599.0 1896.5 1597.2 1894.9 1595.0C1893.3 1592.8 1888.9 1590.1 1889.1 1587.6C1889.3 1585.1 1894.0 1582.5 1895.9 1580.0C1897.8 1577.5 1899.6 1573.9 1900.3 1572.7Z" fill="#a898b0" stroke="#2a2a2a" stroke-width="1.1" stroke-linejoin="round"/>
<path d="M1935.7 1577.0C1936.5 1577.8 1938.7 1579.5 1940.2 1582.0C1941.7 1584.5 1944.8 1588.8 1944.6 1591.8C1944.4 1594.8 1940.8 1597.2 1939.2 1600.0C1937.6 1602.8 1935.9 1607.2 1935.2 1608.7L1933.2 1608.7C1932.5 1607.2 1930.8 1602.8 1929.2 1600.0C1927.6 1597.2 1924.0 1594.8 1923.8 1591.8C1923.6 1588.8 1926.7 1584.5 1928.2 1582.0C1929.7 1579.5 1932.0 1577.8 1932.7 1577.0Z" fill="#606060" stroke="#2a2a2a" stroke-width="1.1" stroke-linejoin="round"/>
<path d="M1968.4 1570.6C1969.0 1571.8 1970.7 1575.0 1971.8 1578.0C1972.9 1581.0 1975.0 1585.0 1975.0 1588.7C1975.0 1592.4 1972.8 1596.5 1971.8 1600.0C1970.8 1603.5 1969.9 1605.0 1969.3 1610.0C1968.7 1615.0 1968.5 1626.7 1968.4 1630.0L1967.2 1630.0C1967.0 1626.7 1966.9 1615.0 1966.3 1610.0C1965.7 1605.0 1964.8 1603.5 1963.8 1600.0C1962.8 1596.5 1960.6 1592.4 1960.6 1588.7C1960.6 1585.0 1962.7 1581.0 1963.8 1578.0C1964.9 1575.0 1966.6 1571.8 1967.2 1570.6Z" fill="#6a4a78" stroke="#2a2a2a" stroke-width="1.1" stroke-linejoin="round"/>
<path d="M2001.5 1568.4C2001.7 1570.8 2001.2 1578.6 2002.9 1583.0C2004.6 1587.4 2011.2 1591.2 2011.7 1594.9C2012.2 1598.6 2007.6 1601.7 2005.9 1605.0C2004.2 1608.3 2002.4 1612.9 2001.7 1614.5L2000.1 1614.5C1999.4 1612.9 1997.6 1608.3 1995.9 1605.0C1994.2 1601.7 1989.6 1598.6 1990.1 1594.9C1990.6 1591.2 1997.2 1587.4 1998.9 1583.0C2000.6 1578.6 2000.1 1570.8 2000.3 1568.4Z" fill="#4a1a58" stroke="#2a2a2a" stroke-width="1.1" stroke-linejoin="round"/>
<text transform="translate(1734.3,1641.4) rotate(-90)" font-size="15.4" text-anchor="end">1</text>
<text transform="translate(1764.2,1641.4) rotate(-90)" font-size="15.4" text-anchor="end">3</text>
<text transform="translate(1794.1,1641.4) rotate(-90)" font-size="15.4" text-anchor="end">7</text>
<text transform="translate(1824.0,1641.4) rotate(-90)" font-size="15.4" text-anchor="end">Microglia 1</text>
<text transform="translate(1853.9,1641.4) rotate(-90)" font-size="15.4" text-anchor="end">Microglia 2</text>
<text transform="translate(1883.8,1641.4) rotate(-90)" font-size="15.4" text-anchor="end">Microglia 3</text>
<text transform="translate(1913.7,1641.4) rotate(-90)" font-size="15.4" text-anchor="end">Microglia 4</text>
<text transform="translate(1943.6,1641.4) rotate(-90)" font-size="15.4" text-anchor="end">Oligo.</text>
<text transform="translate(1973.5,1641.4) rotate(-90)" font-size="15.4" text-anchor="end">Pericytes</text>
<text transform="translate(2003.4,1641.4) rotate(-90)" font-size="15.4" text-anchor="end">T−cells</text>
<text x="1.5" y="1799.5" font-size="47" font-weight="bold">e</text>
<text x="53" y="1803.6" font-size="26.5" font-weight="bold">ATRT3</text>
<path d="M130 2025l4 0-24 3 29 0-6 1 7 1 12 0-32 1 26 0-9 1 13 0-22 2 3 1 20 0-62 5 11 0-2 1 48 0-39 1 4 0 24 0-24 1 28 0-55 3 40 0 38 0-87 1 51 0-48 1 67 1-53 1 3 0-5 2 5 0 4 0 13 1 10 0 9 1-34 1 20 0 29 0 6 0-14 1 1 0-65 1 10 0-8 1 43 0-37 1-15 1 78 0-40 1 9 0 14 0 45 0-102 1 5 1 35 0 40 0-61 2-23 1 26 0 25 0 40 0-98 1 59 1 1 0 40 0 2 1-22 1-82 1 29 0 54 0 6 0-74 1 79 0-64 1 8 0 13 1-42 1 105 0-105 1 14 0 16 0 22 1 5 0-70 1 20 0 41 0 19 0 4 0-67 1 55 0 4 0-38 2 51 0-73 1 74 0-84 1 8 0 1 0 52 0 4 1 15 0-22 1-8 1 26 0-75 2 1 0 32 0-7 1 54 0 25 0-113 1 29 0 36 0-59 1 48 0-56 1 68 0-16 1 14 1 6 0 4 0-50 1 14 0 36 0-56 2 20 0 22 0 25 0 26 0-103 1 7 0 24 0 52 0-68 1 20 0 55 0-114 1 33 0 86 0-66 1 52 0-77 1 43 0-30 1 12 0 6 0-3 1-6 1 5 1 7 0 24 0-29 1 19 0 17 0-69 1 12 0 4 0 54 1 20 0-51 1-13 1 24 0 42 0-87 1 39 0 35 0-97 1 74 0 7 0-70 1 57 0 2 0-12 1-56 1 25 0 49 0-70 1 52 0 33 0 17 0-109 1 11 0 3 0 25 0-8 2 53 2-85 1 48 1 2 1-45 1 59 1 30 0-74 1 33 0 55 0-71 1 67 0-67 1-15 1 19 1 7 0 47 0-79 1 40 0 14 0 2 0-37 1 11 0 16 2 13 0-42 1 15 2 18 0-28 1 36 0 5 1 21 1-83 1 36 0 19 0-1 1 7 1-29 1 6 0 12 0-40 1 2 0 49 0-25 3 6 2-22 1 25 0 7 1-21 1 9 2 10 2-7 18" fill="none" stroke="none" marker-start="url(#k20)" marker-mid="url(#k20)" marker-end="url(#k20)"/>
<path d="M180 2126l-5 3-6 1-4 1 9 0-8 6 8 0-15 2 18 1 6 0 2 0 2 0-25 1 10 0-10 1 14 3 9 0-35 1 11 0 16 0 2 0 14 3 5 0-14 2-4 1 7 0 11 2-13 1-25 5 32 0 14 0-26 1-14 1 18 0-22 1 35 0 5 0 3 2-5 1-20 1 2 1 17 3 8 0-26 1 20 0 16 1-28 2 5 1 14 0 3 1 1 0 1 3 8 6-7 6 11 1-1 1 8 3" fill="none" stroke="none" marker-start="url(#k21)" marker-mid="url(#k21)" marker-end="url(#k21)"/>
<path d="M271 1884l1 12-6 6 0 4 39 2-43 2 4 2 9 2 20 2-14 6-12 4-51 2-9 1 9 0-3 1 7 0 12 0 44 1-82 1 95 1-91 1 12 0 35 1-43 2 5 0-4 1 14 0-35 1 54 3-71 2 68 0 10 2-10 1-66 2-19 2 76 0-67 1 98 1-80 1 72 0-51 1 18 0 11 0 31 0-90 2 1 0 38 1-12 1-54 2 73 0-69 1 62 1 49 0-87 1 45 0 19 0 9 1 13 0 3 0-111 2 19 0 50 0 40 0-75 1 67 0-38 1 8 0 24 0-34 2 21 0 29 0-97 1 55 0 8 0 4 0 10 1-79 1 48 0-26 1 70 0-28 1 7 0-12 1 38 0-102 1 77 0 11 0-57 2 32 1-11 1 12 0 31 0-1 2-71 1 10 0 60 0 6 0-70 2 29 1 30 0-48 1 48 0 4 1-79 1 63 0 12 0-49 1-25 1 45 0-1 1 5 0-46 1 39 1 29 0-64 1-12 2 40 0 6 4 21 1-59 4 71 0-60 2 46 0 9 0-33 1 21 0-51 1 48 0 13 0-41 1 18 0 9 0 7 0 20 0-58 1 54 0-36 1 27 0-23 1 14 1-6 1-24 2 1 1-2 1 21 0 38 1-82 1 3 0 32 0 7 1-6 1 9 0-38 3 28 0 49 1-74 4 23 0 38 0-43 1 37 1 19 0-15 1-30 2 4 1 8 0 14 0 13 0-84 2 16 0 36 0 18 3 11 1-69 1 20 1 42 1-53 1 30 0 34 0-37 1 7 0 25 0-45 1 37 1 19 1-68 1 13 0 13 0-52 1 83 0-83 1 19 0 1 0 2 0 63 1 6 0-2 3-77 1 7 1 73 0-63 1 32 0 25 1-3 1 6 0-25 2 6 1-36 1-31 1 40 1 30 0-28 1-20 1 24 3 14 0 26 0-62 1 72 0-57 1 5 3-15 2-5 1 39 0 9 0-41 1-11 1 18 0 6 0 4 2 11 0-56 1 53 0 11 0 17 0-58 2 27 1 40 0-93 1 36 0 21 0-53 1 14 0-10 1 5 1 74 0" fill="none" stroke="none" marker-start="url(#k22)" marker-mid="url(#k22)" marker-end="url(#k22)"/>
<path d="M309 1908l-7 1 13 3-2 5 60 5-70 2 52 4-53 3 9 3 19 0 32 0-57 2 10 0 29 0-33 1 38 0-76 2 42 1 24 0 82 1-100 2 10 1 11 0-46 1 10 0 84 0-93 1 19 0 39 0-75 2 29 0 35 1-40 1 35 0 31 0-19 1-73 1 40 0 8 0 5 0 16 1 21 0 22 0-68 2-18 1 14 0-58 2 74 0 52 0-106 1 23 0 22 0 51 0-29 1 37 0-32 1-51 1 41 0-32 1-20 1 69 0-91 1 80 0 18 0-99 1 60 1 6 0 44 0 11 0-93 1 27 0 48 0-43 2-47 1 86 0 9 1 20 0-108 1 65 0-42 1 39 0 12 0-89 1-4 1 48 0 77 0-114 1 57 0 8 0 47 0-22 1-109 1 40 0-20 1 35 0 58 0-45 1 13 0-60 1 20 0 18 0 51 0-97 1 33 0 32 0 1 0-66 1 70 0 10 0-16 1-55 1 6 0 13 0 8 0 47 0 7 0-77 1 77 0-87 1 66 0 26 0-73 1 114 0-69 1 3 0 30 0 10 0 28 0-107 1 93 0-29 1-51 1 9 0 46 0 21 0-122 1 65 0 2 0 9 0 2 0 43 0 23 0-147 1 67 0 46 0 7 0-92 1 19 0 44 0 13 0-41 1 11 0 5 0 4 0-53 1 21 0 36 0-36 1 36 0 8 0 2 0 3 0 25 0-74 1 26 0 18 0 1 0-103 1 88 0 52 0-123 1 1 0 71 0 48 0 1 0 9 0-52 1-64 1 58 0 6 0-74 1 15 0 23 0 95 1-137 1 62 0 2 0 44 0 6 0 23 0-146 1 17 0 62 0-32 1 16 0 7 0 8 0 40 0-77 1 19 0 17 0 14 0-82 1 2 0 10 1 8 0 10 0 24 0 25 0-73 1 69 0-13 1 17 0-87 1 62 0 7 0-78 1 59 0 9 0 12 1 48 0-113 1 11 0 41 0 73 0-138 1 53 0-11 1 17 0-39 1-27 1 73 0 91 0-145 1-13 1 39 0 16 0 4 0 3 0 89 0-129 1 33 0 11 0-69 1 23 0 25 0 51 1 1 0-58 1 66 1-107 1 58 0-61 1 21 0 8 0 42 0 91 0-147 1 86 0 26 0 20 0 9 0-108 1 93 1-132 1 16 0 58 0-35 1 2 0 39 0 4 0 11 0 1 0-67 1-20 1 37 0-52 1 19 0 23 0 82 0-111 1 30 0 13 1 9 0 39 0 11 0-99 1 11 0 5 0 66 0-76 1 90 0 16 1 7 0-3 1-131 1 45 0 17 0 20 0 51 0-133 1 71 0 5 0 22 0-94 1 11 0 59 0-7 1 49 0-98 1 82 0 45 0-84 1 14 0 9 0 10 0 12 0-81 1 27 0 55 0 3 0-49 1 15 0 1 2-69 1-6 1 51 0 89 0-57 1 47 0-122 1 35 0 16 0 39 0-93 1 16 0 50 0 59 0 2 0-101 1 110 0-96 1 33 1 43 0-79 1 45 1 27 0-124 1 126 0-12 1 34 0-82 1 11 0-71 1 17 0 9 0 67 0-95 2 46 3-22 1" fill="none" stroke="none" marker-start="url(#k23)" marker-mid="url(#k23)" marker-end="url(#k23)"/>
<path d="M370 2072l8 0 23 0-5 1-36 2 36 0-39 6 11 2-25 1-45 1 60 0 6 2 14 0-8 1 17 0-35 1 4 0 30 1-97 1 101 0-92 1 23 0 8 0 17 0-44 1 2 0 20 0 12 0 27 0-2 1 2 0 2 0-56 1 7 0 24 0 5 0-52 1 83 0-26 1 23 0-76 1 66 0-45 1 3 0 25 0 13 0 2 0 9 0-67 1 26 0 4 0 13 1-23 1 18 0 2 2-40 1 50 0 8 0 9 0-1 1 19 2-60 1 21 0-54 1 8 0 78 0-75 2 21 1 66 0-74 1 73 0-54 1 3 0 40 0-56 1 2 0 3 0 8 0 49 0 6 0 3 0 17 0-97 1 2 0 28 2 62 0-49 1 28 0-35 2 47 0-33 1 2 4-9 2 44 0 5 0-32 1 7 2 10 1 2 2 5 1-46 2 31 3-10 1 17 0-25 1 10 0-9 4" fill="none" stroke="none" marker-start="url(#k24)" marker-mid="url(#k24)" marker-end="url(#k24)"/>
<path d="M276 1837l-3 4-13 3-14 2 18 2-2 3-3 1 9 0 10 0 4 0-13 1-1 3-23 1 15 4 11 1-17 1 5 1 6 1 13 0-23 2 19 1 1 0 1 2-20 1 15 0-5 1-11 1 3 3 32 0-1 1-22 2 21 3-4 1-18 3 25 4-29 3 26 5-6 3 8 0" fill="none" stroke="none" marker-start="url(#k25)" marker-mid="url(#k25)" marker-end="url(#k25)"/>
<path d="M167 1843l1 5-7 1 12 2 5 3-2 4" fill="none" stroke="none" marker-start="url(#k26)" marker-mid="url(#k26)" marker-end="url(#k26)"/>
<path d="M122 1932l4 6 3 1-10 1 2 0-8 1 6 1 3 0-1 3-8 2 5 3 8 0-6 1 2 0 6 2-1 1-13 1 14 0" fill="none" stroke="none" marker-start="url(#k27)" marker-mid="url(#k27)" marker-end="url(#k27)"/>
<path d="M362 1898l3 1 26 5-2 6 0 2-4 4-212 66-22 6 4 5" fill="none" stroke="none" marker-start="url(#k28)" marker-mid="url(#k28)" marker-end="url(#k28)"/>
<path d="M266 1812l-12 1" fill="none" stroke="none" marker-start="url(#k29)" marker-mid="url(#k29)" marker-end="url(#k29)"/>
<path d="M117 2022l-23 6 49 0-27 1 19 1-28 1 37 1-35 1 1 4 10 1 22 1-2 1-46 1 34 0-53 2 28 0 31 0-31 1 16 0 27 2 19 0-50 1-36 1 64 1-24 1 6 0-18 1-37 1 26 0 57 0-18 1 32 0-89 1 8 0 72 0-66 2 31 0-24 1 16 2 44 0 1 0-94 1 32 0 39 0-53 1 61 0 10 0-46 1 2 0 46 0-47 1 10 0 1 1 25 0-28 1 32 0-41 1 13 0 7 0 3 0 41 1-6 1-76 1 31 0 25 0 16 0-93 1 46 1 1 0 47 0-70 1 6 0 24 0-45 1 12 0-16 1 29 0 1 0 9 0 5 0 31 1-49 1 71 0-118 1 24 0 22 0 23 0 10 0-80 1 56 0 7 1 22 0-35 1-17 1 15 0 42 0-41 1 52 0-49 1 1 0 7 0 1 0 14 0 32 0-55 1 2 0 57 0-27 1 30 0-71 1 45 0-24 1 15 1-50 1 39 0 17 0-31 1-13 1 13 0 16 0-22 1 6 0 3 0-33 1 40 0 4 0-67 1 16 0 43 0 48 0-111 1 59 0 40 0-103 1 1 0 60 0 18 0-22 1 19 0 1 0-71 1 48 0 13 0-31 1 1 0 6 0 0 1 12 0 15 1 48 0-107 1 70 0 3 0-21 1 15 0-69 1 35 1-5 1 26 0 25 0 4 0-85 1-19 1 46 0 25 1-59 1 9 0 68 0-47 1 27 0 5 0-34 1 56 1-76 1 35 0-34 1 45 0 35 0-71 1 33 0 0 1 37 1-27 1 34 1-33 1 7 0-46 1 10 0-3 1 23 0 49 0-28 1-37 1 32 0 29 0-81 3 17 0 39 0 9 0-73 1 10 0 3 0 27 0 22 0-42 1 42 1-25 1 6 0 43 0-47 2 9 0-33 1 5 0 34 0 32 0-30 1-29 1 54 0-13 1 1 0-32 1 13 2-29 1 45 1-53 1 49 0-55 1 8 0 13 3-4 1-5 1 37 0-5 1-8 1 8 2-8 1" fill="none" stroke="none" marker-start="url(#k20)" marker-mid="url(#k20)" marker-end="url(#k20)"/>
<path d="M175 2134l-5 3-3 1 7 0 5 1 3 1 7 1-19 3-5 1 12 0 15 0-5 1 6 0-22 2 20 0-40 1 16 1 6 0 6 1-14 1 37 0-41 2-10 1 12 0 44 1-48 1 30 0 2 1 7 0-39 2 14 0-11 1 23 0 11 1-14 3 2 0-14 1 20 1 4 0-18 1 2 0 36 1 5 1-12 2-16 1 21 0-24 1 24 1-27 1 29 0 6 2-21 1 8 1-7 1 9 3-2 2 9 4" fill="none" stroke="none" marker-start="url(#k21)" marker-mid="url(#k21)" marker-end="url(#k21)"/>
<path d="M278 1886l-5 10 19 5 6 10-9 1-20 3 27 4-90 5 63 0 3 0-28 4-31 1 15 0 68 2-65 1 34 0-66 1 22 1-17 2 35 0 52 0-51 1-26 1 15 0 64 0-73 1-3 2 42 0-66 1 3 0 28 0 10 0 6 0-39 1 8 0 20 0-7 2 28 0-5 2 4 0 5 1-32 1 18 0-88 1 83 0-75 1 29 0 14 0 42 0-73 1 46 1 23 1-22 1 25 0-14 1-61 1 52 0-29 1 21 1 3 0-2 2 29 0-38 2 45 0-44 1 15 0 13 0-63 2 23 0 53 1-91 1 52 0-16 1 34 0-24 2 27 0 6 0-45 2 51 0-88 1 57 0 30 1 4 0 10 1-39 1 35 0-28 1 1 0-50 1 54 0 19 0 10 0-85 1 84 1-99 2 53 2 27 0 2 0-72 2 41 0 29 1 4 0-3 1 5 0-19 2-6 1-42 2 25 1 12 0-10 1 14 1 17 0-34 1 30 0-12 1-57 1 11 0 25 0 26 0-46 1 47 0 17 0-9 3-8 1-40 1 56 0 14 0-13 1 6 0 15 0-54 1 10 0 22 0-22 2 12 0-17 1 1 0-43 1 36 0 24 0-8 1 2 0 27 0-30 1-46 1 54 1 10 2 1 0-74 1 5 0 11 1 1 0-15 1 25 0 31 0 2 0-29 3-25 1 3 0 27 0-38 1 4 0 15 2 8 0 66 1-49 1 23 2-56 1-11 1 16 0 22 0 8 0 0 1-38 1 23 0 32 1 11 0 2 0-65 2 85 0-61 1-7 1 8 0 23 1 16 1 5 1 1 1-78 1 18 0 79 0-17 1 17 0-34 1 20 0 15 0-92 1 19 2 68 0-66 1 1 0 10 3-30 2 5 0 2 0 8 0 11 0-32 1 88 0-25 1-38 1 43 0-65 1 15 0 25 0 8 0 38 1-65 1 7 0-21 1 21 0-15 1 40 2-52 2 88 0-81 2 15 0 45 0-37 2 3 1 45 4 10 1-47 1-22 2 48 1-48 1 48 1-42 3 51 0-48 2 5 0-2 1 13 0 29 0-4 1 3 2-1 2 2 1-75 4" fill="none" stroke="none" marker-start="url(#k22)" marker-mid="url(#k22)" marker-end="url(#k22)"/>
<path d="M303 1907l40 11 31 3-21 5-47 1 36 0-47 2 24 0-24 1 4 0 47 0-38 1 20 0 6 2-14 3 36 1-16 2 5 1-34 1 3 0-57 1 73 0 0 3 14 0-48 1 66 0-77 1 82 1-93 1 10 0 59 1 6 0 7 0-85 1-2 3 66 0 1 0 6 0-60 1 53 0-41 1 8 0 12 0 40 0-73 1 24 0 3 0 3 1 12 0 36 0 8 0 7 0-113 2 91 1 13 0 20 0-98 1 58 0 7 0-36 1 56 1-41 1-52 1 37 0 15 0-49 1 29 0 69 0 7 0-110 1 48 1 38 0-34 1 4 0-53 1 39 0 2 0 49 0 2 0 18 0-59 1 14 0 12 0-38 1 2 0 22 0 47 0-79 1 77 0-131 1 72 0 1 0 6 0 74 0-126 1 15 0-17 1 65 0 2 0 5 0 20 0 5 0-36 1 9 0-88 1 24 0 29 0 73 0-53 1 24 0-101 1 75 0-53 2 11 0 21 0 7 0 12 1 59 0-93 1 21 0 1 0 7 0 4 0 9 0 2 0-80 1 33 0 66 1 7 0-75 1 14 0 2 0 7 0 11 0 38 0-76 1 73 0 38 0-105 1 10 0 39 0 33 0 10 0 19 0-38 1 1 0 18 0 3 0 27 0-94 1 14 0 37 0-60 1 9 0 31 0 14 0-100 1 76 0 20 0-94 2 27 0 9 0 23 0 24 0 32 0 26 0-53 1 21 0-78 1 19 0 12 0 43 0 37 0 3 0-106 1 12 0 34 0 3 0-58 1 14 0 23 0 11 0 31 0-108 1 24 0 8 0 27 0 19 0 41 0-121 1 14 0 123 0-126 1 16 0 21 0 3 0 13 0 11 0 13 0 16 0 39 0-126 1 31 0 26 0-60 1 20 0 38 0 62 0 14 0-159 1 34 0 6 0 18 0 16 0-2 1 45 0-68 1-43 1 20 0 41 0 34 0 5 0-93 1 36 0 10 0 14 0 17 0 9 0 22 0 22 0 10 0-79 1 3 0 41 0-117 1 98 0 49 0-121 1 9 0 45 0-57 1 55 0 58 0-86 1 4 0 12 0 31 0 8 0-90 1 4 0 66 0 42 0-43 1-12 1-14 1-45 1 33 0 19 0 1 0 20 0-16 1-56 1 1 0-2 1 11 0 12 0 87 0-89 1 18 1 2 0 3 0 26 0 9 0-69 1 17 0 51 0 38 0 20 1-38 1 39 0-100 1 15 0 6 0-72 1 65 0-21 1 30 1 6 0 4 0 56 0-101 1 90 1-103 1-20 1 54 0 70 0-95 1 19 0-36 3 136 0-8 3-97 1 12 0-39 1 48 0 1 0 7 2-24 1 32 0 37 0-32 1 29 0-111 1 82 0 3 0 47 1-84 1 52 0 11 0 9 1-56 1 13 0-24 1 19 0-67 1 9 0 25 0-26 1 95 0 15 0-56 1-75 1 56 0 22 1 2 0 32 0 8 0-35 1-50 1 107 0-101 1 86 0-66 2 21 0 18 0-8 1 50 0-144 2 66 1 20 0-61 1 30 0 29 0-81 1 105 1-111 4 47 1" fill="none" stroke="none" marker-start="url(#k23)" marker-mid="url(#k23)" marker-end="url(#k23)"/>
<path d="M311 2071l62 1-70 1 80 1-55 3 36 0 11 1 3 3-19 4 19 1-20 1 5 1 0 1 6 0-62 1 8 0 63 0 16 0-91 2-7 1 2 0 47 0 47 0-70 1 63 0-84 1 5 0 7 0-8 1 19 1 2 0-29 1 8 0 61 0-57 1 21 0 63 0-22 1 35 2-93 1 5 0 11 1 15 0-14 1 12 0-45 1 79 0 21 0-70 1 8 0 45 0 7 0-22 1 37 0-53 1-27 1 26 0 5 0 43 0-62 1 3 0 19 0-51 1 22 0 28 1-20 1 69 0-68 1 43 0 3 1-26 1 2 1-19 1 4 0 52 1-33 1 10 0-15 1 23 0 9 1 18 0-22 2-38 2 6 0 9 1-22 1 33 0-24 1 22 0-22 1 40 1-41 1 5 1 10 0-12 1 30 0 2 1 12 0-46 2 1 0-4 1 10 0 7 0 8 3-2 1-14 3" fill="none" stroke="none" marker-start="url(#k24)" marker-mid="url(#k24)" marker-end="url(#k24)"/>
<path d="M267 1836l-2 2 13 1-25 3 8 1 22 4-15 1 8 0-9 1 8 0-8 1 0 3-2 1 5 1-18 1 2 3 28 0-26 2 7 1 8 3 4 0-17 3 31 4-26 1 10 1 6 2 9 0-14 5 2 0-30 1 47 3 1 2 2 0-21 1 0 2-22 1 36 5 10 8" fill="none" stroke="none" marker-start="url(#k25)" marker-mid="url(#k25)" marker-end="url(#k25)"/>
<path d="M172 1850l-1 3 4 0 2 0 0 3" fill="none" stroke="none" marker-start="url(#k26)" marker-mid="url(#k26)" marker-end="url(#k26)"/>
<path d="M118 1933l3 4 4 0 1 0-5 1-3 2-1 1-3 1 12 0-10 3 7 0 16 7-15 2 6 0-17 1 10 1-3 1" fill="none" stroke="none" marker-start="url(#k27)" marker-mid="url(#k27)" marker-end="url(#k27)"/>
<path d="M387 1912l-1 5 1 0-215 65 6 1-31 5 3 1 9 4" fill="none" stroke="none" marker-start="url(#k28)" marker-mid="url(#k28)" marker-end="url(#k28)"/>
<path d="M251 1813l10 0" fill="none" stroke="none" marker-start="url(#k29)" marker-mid="url(#k29)" marker-end="url(#k29)"/>
<path d="M134 2019l-13 1 18 0-31 1 1 1 26 0-21 2-2 1 15 0 1 0 15 0-14 4-21 1-5 2 38 0-11 2 5 1-10 2 3 0-45 1 35 0 50 1-71 1-7 1 26 0-25 1 15 0 41 0 18 0-87 1 24 0 18 2 21 1-11 3 8 0-25 1 46 0-64 1 41 0-38 1 50 0-16 2-41 1 78 0 5 0-60 1-30 1 32 0 14 0 38 0-84 1 53 0 15 0-98 2 19 0 31 0 1 0 2 0 14 0 29 0 7 0-60 1 10 0 16 0-1 1 38 2-102 2 25 0 12 1 36 0-20 1 43 0-88 1 79 2-64 1 4 0 14 0 39 0-59 2 14 0 3 0 6 0 7 0 33 0-19 1-12 2 27 0-45 1 32 0 21 0-72 3 11 0 22 0 6 0-38 1 2 0 50 0 13 0-81 1 35 0 10 0 37 0-84 1 40 0 23 0 23 0-93 1 73 0 9 1 6 0-47 1 48 0-55 1 20 0 32 1 16 0-95 1 24 0 18 0 10 0-58 1 41 0-48 1 52 0 1 1 6 0 13 0-38 1 3 0 30 0 13 0 12 0 18 0-40 1 50 0-23 1 24 0-35 1 9 0 6 0-52 1 14 1 29 1 7 0 3 0-55 1 10 0 12 0 40 1-104 1 65 0-60 1 16 0 27 0 42 0-81 1 79 0 26 0-92 1 23 0 5 0 37 0-51 1 46 2-61 1 37 0-9 1 29 0-66 1-22 1 2 0 104 0 6 1-40 1 14 0-34 1 52 1 1 0-53 1-24 1-20 1 33 0 27 0-37 1 42 0 11 0 32 0 3 0-43 1-19 1 22 0 20 0 12 0-72 1 5 0 62 0-56 1 28 0 31 0-39 3 4 0 11 0 1 0-5 1-17 1 3 0-48 1-7 1 102 0-9 2-10 2 1 0-52 1 8 0 15 0 4 0-2 1-52 1 73 0-44 2 56 0-6 1-16 3-32 2-6 1 2 0 10 0-26 1 31 0-11 1 16 0 25 4-46 1 5 1-3 1 8 5 0 2" fill="none" stroke="none" marker-start="url(#k20)" marker-mid="url(#k20)" marker-end="url(#k20)"/>
<path d="M176 2129l-9 7 19 2-4 2 3 0-24 2 27 0-36 1 8 1 13 1 1 1 12 2 8 0 1 1-9 6 11 1-5 2-23 1 13 0-11 1 34 0-44 1 35 0-28 1 37 0 4 0-33 1 30 2 4 0-11 3 1 0-23 3 8 0 18 0-3 1-28 1 19 0-4 2 26 0-11 1-15 1 8 0 17 0-7 4 15 2-11 1 9 0-17 1 12 0 3 2 6 0-1 1 8 1-6 1-2 4 15 4" fill="none" stroke="none" marker-start="url(#k21)" marker-mid="url(#k21)" marker-end="url(#k21)"/>
<path d="M279 1894l6 6-24 5 27 4-5 2 2 1-20 1 30 5-18 4 11 4-78 1 99 0-68 2-14 1 7 0 11 0 52 0-102 1 34 0 76 0-88 1 19 0-30 1 18 0-10 1 10 0 18 1-38 3 6 0 21 0 9 0 7 0-22 1-21 1 18 0 47 1-35 2 13 0-22 1 9 1 1 0-5 1-15 1 23 0 22 0-54 1 34 1-38 2 54 1-5 1-27 1-33 2-28 1 84 0 11 0-105 1 78 0 5 0-21 2-6 1 44 0-86 2 29 0 22 0-62 1 57 0-1 1 22 0-23 2-11 1 15 0-29 1 61 0 7 0-47 1 40 0 5 0-91 1 36 0 11 0 22 0 13 0 6 0-43 1 14 0-57 1 57 0 28 0-48 1 22 0 14 0-78 1 66 0 27 1-16 2-67 1 30 0 8 0 12 0 34 0-49 1 50 0-1 1-66 1 33 0 2 0 7 0 28 0-39 1 28 0-85 1 84 0-17 1-74 1 44 0 32 3 11 0-67 1 18 0 51 0-27 1-57 1 62 0 14 0-9 2 3 2-61 1 6 0 46 1 9 1 4 3-64 1 77 0-28 1 14 0-16 2 14 0-13 1-12 1-16 1-10 1 36 0-51 1 15 0 53 0 2 0 9 1-44 1 26 1-50 1 49 0 23 1-8 1 9 0-84 1 87 0 6 1-36 1-17 1 12 1 28 0-63 1 46 0-47 1 41 1-36 1 36 0 4 1-48 1 3 0 20 0-37 2 17 0 47 0 6 1-17 1-3 2 49 1-4 4-45 1 13 0 4 0-44 1 73 0-78 3 76 0-70 1 12 0 11 0 15 0 10 0-56 1 74 0-61 1-31 1 27 1-20 1 29 0 25 0-51 2 91 0-81 1 11 0 11 0 19 1-50 1 4 0 66 0-62 2 26 0 33 2-50 2 1 3 10 0-10 1 45 0-16 2 20 0 9 1-65 2 12 1 14 0 8 1 39 0 7 0-73 1 57 2 4 0-8 1-44 1 67 0-11 2-52 1 13 0 7 2 30 1-48 2 38 0-4 1-67 2 71 0 8 1-7 1-67 1 70 0-24 3-11 2 7 1 26 0-54 4" fill="none" stroke="none" marker-start="url(#k22)" marker-mid="url(#k22)" marker-end="url(#k22)"/>
<path d="M306 1907l17 1 25 4-43 6 20 2 26 1-10 4-28 3 11 0 6 1 3 4-28 2 38 0-47 1 22 3-29 1 33 0 6 0 24 0-24 1-20 3-32 1 42 0 20 0 31 0-74 1 39 0-78 2 56 1 58 0-83 1 50 0-60 1 72 0 22 0 2 0-9 1 14 0-83 2 37 0 14 0-75 1 23 0 13 1 51 2-112 1 148 1-119 1 53 1 10 0 21 2 3 0 31 0-67 1 18 0 2 0 36 0-91 1 27 0 13 0 11 0-38 1 14 0 34 0-105 1 42 0 105 0-135 2 97 0 11 0-45 1 14 0 65 0-107 1 8 0 36 0 64 0-137 1 40 0 15 0 29 0 12 0-102 1 25 0 60 0 40 0-77 1 17 0 16 0 49 0-53 1 31 0 15 0-19 1 14 0 7 0 2 0-22 1-12 1 6 0-59 1 31 0 3 0-32 1 4 0 92 0-67 1 38 0-83 1 51 0 2 0-46 1 20 0 4 0-49 1 12 0 75 0 2 0 16 1-92 1 17 0 44 0-34 1 21 0 4 0-6 1 28 0-72 1 39 0 33 0 60 0-132 1 54 0 16 0 5 0-61 1 27 0 9 0 10 0 23 0 4 0-86 1 4 0 75 0 2 0 6 0-98 1 50 0 7 0 12 1 14 0 3 0-62 1 14 0 26 0 21 0 53 0 2 0-138 1 44 0 29 0 1 0 4 1-69 1 28 0 25 0 57 0-84 2 5 0 62 0 22 0-57 1 4 0 44 0-96 1 14 1 6 0 26 0 8 0 6 0 29 0-57 1 1 0 24 0 2 0-76 1 72 0 44 0-84 1-50 1 25 0 20 0 8 0 52 0 16 0-90 1 42 0 7 0 4 0-71 1 107 0 5 0-52 1 46 0-94 1 34 0 14 0 4 0 4 0 22 1-48 1 24 0 49 0-108 1 73 0 50 0 9 0-154 1 59 1 11 0 5 0-59 1 12 0 1 0 11 0 57 0-68 1 67 0 27 0 7 0-56 1 67 0 2 0 7 0-96 2 17 0 46 0-13 1-81 1 34 0 41 0 23 0-109 1 14 0 9 0 67 0 32 0-117 1 52 0 14 0 18 0-68 1 33 0 89 0-106 1 59 0 42 0-141 1 57 0 15 0 34 0 12 1-77 1 7 0 3 0 57 1 12 0 7 0-127 1 1 0 107 0 6 0-98 1 13 0 74 0-83 1 34 0 48 0-55 1 9 0 26 2 6 0 61 0-77 1 54 0 8 0-93 1-19 1 56 0 19 0 30 0-116 1 16 0 110 0 17 0-125 1 111 0-86 1 15 0 3 0 29 1-96 1 10 0 2 0 98 0-77 1 97 0-66 2 32 0 48 0-80 1-63 1 83 0 51 0-102 1 111 0-129 1 4 0 46 0-28 1-38 1 53 0 51 1 1 0-99 1 116 0-53 2 8 0-69 1 78 0 18 0-90 2 33 0-53 1 105 0 25 0-77 1 2 0 16 1 40 0-61 1 50 0 1 1 4 0-43 1-53 1 29 0-4 1 1 0 19 0-47 3 9 0 73 0-77 1 16 1 27 0-30 1-5 1-21 2" fill="none" stroke="none" marker-start="url(#k23)" marker-mid="url(#k23)" marker-end="url(#k23)"/>
<path d="M361 2073l-65 1 48 1 30 1-14 1-72 1 63 0-21 2 47 0-36 1 19 0 52 1-89 1-14 2 67 0-21 1-5 1 16 0 30 1-92 1 17 2 35 0 22 0-67 1 3 0 62 0-66 1 9 0 17 0 37 0-54 2-26 1 47 0 27 0 11 2-63 1 9 0 48 0 4 0-86 1 22 0-17 1 11 0 2 0 40 0 27 0 24 0-32 2-31 2 28 0 14 0-31 1-24 1 68 0 13 0-53 1-39 1 34 0 24 0-61 1 1 0 8 0 78 0-75 1 89 0-81 1 3 0 4 1 59 0-80 2 39 0-10 1 24 0 8 0-69 1 56 0 15 0 25 1-87 2 34 0-38 1 49 1 12 0 38 0-62 1 1 0-1 1 32 0 6 2 14 0 6 0-66 1 9 7 2 0 11 1 8 0-8 1 10 0 29 1 4 0-14 1-23 4-13 1 28 4-5 2-5 1" fill="none" stroke="none" marker-start="url(#k24)" marker-mid="url(#k24)" marker-end="url(#k24)"/>
<path d="M260 1829l6 5-7 3 5 5 6 2-6 4 9 0-21 1 10 1-16 1 23 0-14 2 7 1-19 2 11 0 6 0-13 2 21 1-18 1 23 0-21 3 29 0 1 3 5 1-11 1-5 1-17 2 17 4 14 0-16 1 5 7 22 0-24 1-10 2 34 1-12 10 11 8" fill="none" stroke="none" marker-start="url(#k25)" marker-mid="url(#k25)" marker-end="url(#k25)"/>
<path d="M170 1845l-6 1 8 3 1 5 7 3" fill="none" stroke="none" marker-start="url(#k26)" marker-mid="url(#k26)" marker-end="url(#k26)"/>
<path d="M119 1934l-23 1 32 2-4 1 7 0-11 3 6 2 2 0-12 1 9 0-8 4 1 0-1 1 5 1 6 1 0 2-7 5 4 1" fill="none" stroke="none" marker-start="url(#k27)" marker-mid="url(#k27)" marker-end="url(#k27)"/>
<path d="M362 1893l2 5 1 4 24 8-214 72-28 7 9 4" fill="none" stroke="none" marker-start="url(#k28)" marker-mid="url(#k28)" marker-end="url(#k28)"/>
<path d="M263 1813" fill="none" stroke="none" marker-start="url(#k29)" marker-mid="url(#k29)" marker-end="url(#k29)"/>
<text x="287.6" y="1842.7" font-size="17.8" font-weight="bold">Microglia</text>
<text x="133" y="1874.7" font-size="17.8" font-weight="bold">T−cells and</text>
<text x="133" y="1895" font-size="17.8" font-weight="bold">NK−cells</text>
<rect x="232" y="1866.5" width="203" height="20" fill="#fff" fill-opacity="0.8"/>
<text x="235.3" y="1882" font-size="17.7" font-weight="bold">Pericytes &amp; Endothelial</text>
<text x="19" y="1975" font-size="17.5" font-weight="bold">Macrophages</text>
<rect x="358.0" y="1960.2" width="16.0" height="20.7" fill="#fff" fill-opacity="0.85" rx="2"/><text x="366.0" y="1977.1" font-size="18" font-weight="bold" text-anchor="middle">0</text>
<rect x="253.0" y="1976.2" width="16.0" height="20.7" fill="#fff" fill-opacity="0.85" rx="2"/><text x="261.0" y="1993.1" font-size="18" font-weight="bold" text-anchor="middle">1</text>
<rect x="134.4" y="2053.2" width="16.0" height="20.7" fill="#fff" fill-opacity="0.85" rx="2"/><text x="142.4" y="2070.1" font-size="18" font-weight="bold" text-anchor="middle">2</text>
<text x="396" y="2087.5" font-size="18" font-weight="bold" text-anchor="middle">3</text>
<text x="224.6" y="2137" font-size="18" font-weight="bold" text-anchor="middle">5</text>
<text x="29" y="2218" font-size="23.4">(3,896)</text>
<text x="618.8" y="1796.7" font-size="27">Group 2a/b</text>
<path d="M754 1830l-7 1 5 1-1 5-7 10 9 0 8 2-4 1-19 3 17 1-7 5 15 3 21 12-12 9 33 6-8 3-9 1-30 4 61 0-8 2-44 3 39 0 2 1 20 1-36 1-41 1 46 1 12 0-60 1 54 0-49 2 16 0-5 1-7 1 9 0-11 1 19 0 25 2 2 0 5 0-10 1 22 1-39 1 29 1-52 2 25 0 44 0-13 2-61 1 45 0 18 0-58 1 31 0 29 0-49 1-1 1 25 0-5 2 12 1 1 0-34 3-6 1 43 0-40 1 43 0-147 1 12 0 76 0 40 0 30 0-38 1 15 0 44 0-88 1 16 0 26 0-33 1 2 0 31 0-42 1 80 4-167 2 128 0 36 0-32 1 15 2-21 1-37 1 1 2 26 2 2 1-11 2-128 2 0 1 34 6-12 5-35 6 196 3-195 3-6 3 51 7-28 1 42 6-45 6 65 12 9 0" fill="none" stroke="none" marker-start="url(#k10)" marker-mid="url(#k10)" marker-end="url(#k10)"/>
<path d="M756 1828l-18 5-42 1 51 1 5 0-56 1 63 0-15 1-45 2 1 0 37 0 5 3 11 0 2 2-1 1 2 1-6 1 3 7-5 1 7 3 20 10 8 0 37 2-68 2 25 1 16 4-10 2-17 1 15 0 15 0-144 3 115 0 31 1-44 1-88 1 116 0 14 0-51 1 28 1 19 0 17 0-141 1 100 0 11 0 1 0-115 1 129 1-32 1 25 0 23 0 1 0-134 1-15 1 1 0 103 0 24 0-32 1-12 1 30 0 13 0-5 1 34 0 5 0-68 1 44 0 5 1-26 1 2 0 7 0 9 0 1 0 10 0-13 1 8 2 9 0 16 0-32 1 10 0-60 1 41 0 1 0 33 0-51 1 14 0 38 0 2 0-66 1 43 0 22 0-29 2-34 1 14 0 9 1 7 0-41 1 45 0 16 0-30 1 15 0 7 0-19 1 27 0 5 0 6 0 13 0-66 1 42 0-56 1 9 0 16 0 8 0 5 0 31 0-54 1 19 0 14 0 3 0 12 0-49 1 48 0-55 1 11 0 4 0 15 0 33 0 13 0-66 1 2 0 24 0 2 0 8 0-26 1 9 0 6 0 17 0-50 1 6 0 13 0 3 0 13 0 2 0 1 0-41 1 60 0 17 0-30 1 14 0 2 0-61 1 67 0-40 1 14 0 29 0-31 1-40 1 25 0 7 0 11 0 24 0 6 0-45 1 7 0-47 1 12 0 1 0 1 0 5 0 12 0 17 1 29 0-71 1 58 0 27 0-82 1 2 0 22 0-35 1 23 0 30 0 3 0 19 0-18 1-19 1-38 1 31 0 26 1 6 0 25 0-159 1 84 0 2 0 21 1 23 0-8 1 21 0 17 0-158 1 79 0 71 0-178 1 2 0 111 0 41 0 25 0 10 0-47 1 33 0-179 1 162 0-167 1 110 1 36 0 3 0 26 0-17 1 3 0 29 0-181 1 133 0 9 0 17 0 7 0-150 1 116 0 32 2 10 0-77 1 45 0-134 1 11 0 28 0 64 0 14 0-93 1 89 0 39 0-144 1 2 0 122 0 25 0-162 1 36 0 8 0 132 0-162 1 90 0 25 0 3 0 11 0-16 1 15 0-146 2 9 0 96 0-85 2 8 0-18 3 12 0-4 1-40 1 21 2 172 0-169 1 3 1 15 0-5 1-39 1 68 0-47 1 6 4-14 2 16 1 7 0 17 1 127 4-156 2-18 3 68 0-43 2 6 0-15 3 3 0 9 0 12 0 22 0 3 0-66 1 59 0 14 0-12 1-29 2 44 1-10 1-48 1 15 0 31 0 16 0-18 2 19 1-57 1 36 0 8 1-8 1 1 0 20 0 3 1-11 1 1 0 9 4-7 2 1 0 11 5 9 6" fill="none" stroke="none" marker-start="url(#k11)" marker-mid="url(#k11)" marker-end="url(#k11)"/>
<path d="M743 1814l5 0-2 14 3 0-56 3 56 0-2 1-56 1 4 0 65 0-70 1 59 0 6 0 1 0-14 1 6 1 3 0-52 1 53 0-10 1 6 0 4 0-54 2 48 1-3 1 3 1-2 5 19 0-17 2 6 0 11 0 1 0-10 3 9 0-21 5 23 0-5 3-1 3 12 3 26 3 2 5 13 1-41 1 22 1-20 1 4 0 24 0-14 1-13 1 15 1-13 1-110 1 1 0 109 0-107 1-7 1 5 0 119 0 14 0-133 1 2 0 2 0 75 0 39 0 2 1 6 0 2 0-29 1 35 0-139 1 96 0 3 0-94 1 88 0 17 0 4 0 26 0-137 1 119 0 26 0-139 1 1 0 108 0 16 0 10 0 8 0 7 0-151 1 1 0 82 0 6 0 23 0 8 0-122 1 103 0 1 0 1 0 7 0 20 0-134 1 3 0 150 0-23 1 4 0-122 1 84 0 32 0 1 0 4 0 8 0-32 1-66 1 41 0 8 0 6 0 23 0 8 0-56 1 60 0 16 0 5 0-74 1-4 1 16 0 22 0 5 0 1 0 2 0 2 0 32 0-72 1 12 0 9 0 27 0 4 0 22 0-136 1 72 0 13 0 3 0 19 0 3 0 1 0 19 0-58 1 30 0 24 0 19 0-63 1 24 0 1 0 11 0 9 0 3 0-56 1 18 0 7 0 1 0 12 0-30 1 55 0-125 1 59 0 2 0 17 0 2 0 11 0-40 1 6 0 31 0 3 0 3 0-35 1 3 0 6 0 7 0-11 1 22 0 20 0 1 0-48 1 14 0 20 0 2 0 16 0 24 0 2 0-55 1 6 0 2 0 19 0 1 0-9 1 5 0 1 0 2 0 2 0 12 0-95 1 23 0 24 0 3 0 12 0 3 0 10 0 17 0-52 1 12 0 8 0 1 0 7 0 1 0 2 0 2 0 2 0 10 0-32 1 20 0 5 0 1 0 27 0-81 1 7 0 7 0 8 0 23 0 15 0 14 0-75 1 46 0 5 0 28 0 3 0-69 1 9 0 10 0 8 0 6 0 4 0 15 0-71 1 11 0 12 0 10 0 13 0 5 0 26 0 7 0-81 1 35 0 10 0 13 0-54 1 27 0 6 0 5 0 25 0-42 1 13 0 1 0 15 0-39 1 27 0-39 1 5 0 20 0 11 0 11 0 3 0 5 0 18 0-81 1 3 0 31 0-104 1 79 0 27 0 5 0 42 0-168 1 113 0 1 0 9 0 48 0-155 1 110 0 19 0-125 1 88 0 10 0 2 0 4 0 51 0-160 1 80 0 5 0 1 0 13 0 5 0 1 0 5 0 2 0 13 0 22 0-170 1 152 0 7 0 23 0-169 1 111 0 5 0 4 0-106 1 83 0 10 0 47 0 4 0 5 0-167 1 20 0 149 0-145 1 124 0 12 0-54 1 6 0 1 0 7 0 16 0 2 0-132 1 27 0 84 0 45 0-68 1 3 0 14 0 8 0 12 0 22 0-173 1 21 0 95 0 9 0 19 0-128 1 9 0 101 0 8 0 37 0-133 1 81 0 24 0 3 0 8 0 26 0 2 0-75 1 5 0 83 1-183 1 10 0 7 0 84 0 37 0 5 0 5 0 1 0 3 0-150 1 31 0 76 0 16 0 2 0-85 1 3 0 91 0 8 0-120 1 72 0 4 0 59 0-146 1 93 0 21 0 11 0 6 0 26 0-165 1 9 0 14 0 8 0 85 0 16 0 3 0 4 0 15 0 4 0-59 1 40 0 28 0-164 1 6 0 82 0 19 0 6 0 45 0-135 1 121 0 8 0-152 1 117 0 29 0 2 0 1 0-143 1 87 0 34 0-150 1 43 0 12 0 67 0 9 0-124 1 6 0 1 0 94 0 69 0-158 1 1 0 3 0 36 1 63 0-98 1 20 0 89 0-101 1 7 0-21 1 24 0-41 1 42 0-21 1 19 1-33 1-18 1 33 0-34 1 29 0 6 0 7 0-40 1 40 0 103 0-107 1-26 1 13 0 7 0 18 0-49 1 9 0 8 0 6 0 118 0-150 1 19 0 18 0 31 0-7 1-54 1 24 0 5 1 8 0 13 0-24 1 8 1 126 0-124 1 121 0-141 1-13 1 1 0 6 1 30 0 19 0 151 0-181 1 26 0-10 2-49 1 24 0 7 0 28 0 3 0-35 1 1 0 33 0-25 1 11 1 4 0 25 0-39 1 34 0-66 1 25 0 11 0 23 0 12 0-35 2-3 1 45 0-2 1 2 0-58 1 50 0 9 0-67 1 13 0 39 0-56 1 31 0 27 0 7 0 5 0-68 1 13 0 3 0 38 0 9 0-46 1-2 1 4 1 49 0 9 0-54 1-5 1 48 2 9 0-8 2 14 0 1 1-10 1 7 0 1 0-14 1 10 0 8 1-21 1 15 0-18 1 9 0 2 0 15 0-2 2-5 2 2 2-1 1 3 0 5 0-3 1 8 1-9 2" fill="none" stroke="none" marker-start="url(#k12)" marker-mid="url(#k12)" marker-end="url(#k12)"/>
<path d="M750 1814l0 12 0 1 7 2-15 2-49 3 56 0 2 0-1 1-4 1-50 1 1 0 2 1 47 0-7 1 12 0-8 1 8 0 3 1 5 1-2 1-11 2-3 2 5 1 5 1 1 0 9 1-12 1 5 2 4 1 7 0-17 1 16 0 1 1-12 1 8 4 1 3 5 1 1 3 51 1-27 4 18 2-96 2 70 3-119 1 104 0-106 1 51 0 71 0 18 0-24 1 13 0-22 1 6 0 24 0-130 1 46 0 62 0-116 1 2 0 110 0 2 0 7 0 7 0 47 0-175 2 5 0 105 0-108 1 1 0 74 0 26 0 22 0 32 0-157 1 56 0 14 0 10 0 31 0 33 0-139 1 91 0 31 0 4 0 15 0-144 1 4 0 83 0 3 0 42 0 1 0-32 1-15 1-86 1 2 0 98 0 11 0-92 1 54 0 43 0 21 0 5 0 4 0 1 1-27 1 5 0-71 1 83 0 20 0-87 1 51 0 18 0 11 0-72 1 15 0 13 0 4 0 4 0 2 0 3 0 29 0 5 0-97 1 5 0 29 0 28 0-2 1 4 0 24 0-44 1 21 0 4 0 3 0 19 0-97 1 30 0 28 0-20 1 5 0 39 0 10 0 9 0-27 1 22 0 7 0-50 1 9 0 13 0 13 0 7 0 10 0-74 1 38 0-6 1 3 0 8 0 2 0 18 0 12 0-53 1 7 0 17 0 1 0 6 0 1 0 1 0 0 1 3 0 1 0 5 0-78 1 33 0 1 0 7 0 14 0 21 0 19 0 4 0-65 1 5 0 29 0 9 0 7 0 14 0-72 1 24 0 1 0 8 0 13 0-53 1 1 0 26 0 3 0 14 0 2 0 5 0 32 0-82 1 14 0 6 0 38 0 22 0 1 0-52 1 15 0-17 1 2 0 15 0 2 0 16 0-68 1 30 0 14 0 4 0 27 0 4 0-69 1 2 0 9 0 34 0 19 0 5 0-54 1 8 0 13 0 2 0-74 1 35 0 10 0 8 0 14 0 48 0 1 0-92 1 16 0 13 0 20 0-66 1 26 0 21 0 4 0 8 0 1 0 4 0 4 0 1 0 6 0 1 0 10 0 20 0-88 1 12 0 21 0 10 0 1 0 24 0-54 1 31 0 1 0-37 1 64 0-90 1 52 0 3 0 9 0 26 0 2 0-65 1 59 0-148 1 87 0 6 0 24 0 3 0 39 0-82 1 11 0-92 1 88 0 13 0 6 0 31 0 13 0-144 1 46 0 61 0 15 0-20 1 10 0 48 0 2 0-172 1 13 0 77 0 32 0 9 0 17 0-142 1 24 0 67 0 16 0 13 0 25 0-141 1 6 0 7 0 67 0 4 0 14 0 5 0 42 0 3 0-118 1 50 0 30 0 46 0-166 1 11 0 96 0 10 0 27 0 17 0-75 1 9 0 45 0-152 1 6 0 25 0 94 0 33 0-148 1 1 0 15 0 8 0 10 0 70 0 32 0 11 0 17 0-180 1 19 0 120 0-89 1 67 0 14 0 14 0 2 0-147 1 27 0 12 0 19 0 58 0 58 0-166 1 27 0 2 0 77 0 34 0 8 0 10 0 6 0-155 1 16 0 82 0 32 0 19 0 19 0-190 1 24 0 6 0 26 0 54 0 14 0 2 0 8 0-99 1 102 0 8 0-133 1 5 0 18 0 9 0 73 0 5 0 14 0 20 0 19 0-172 1 1 0 4 0 19 0 20 0 107 0 38 0-194 1 22 0 19 0 8 0 3 0 2 0 62 0 10 0 40 0 22 0-185 1 20 0 5 0 4 0 4 0 9 0 6 0 80 0 13 0 49 0 1 0-188 1 20 0 23 0 96 0 40 0-153 1 22 0 104 0 5 0 17 0-185 1 6 0 15 0 20 0 129 0 6 0 22 0-179 1 12 0 21 0 7 0 1 0 1 0 55 0-116 1 37 0 42 0-63 1 8 0 1 0 9 0 4 0 10 0 6 0 63 0 1 0 59 0-167 1 10 0 2 0 11 0 92 0 16 0-136 1 1 0 47 0 61 0 18 0-109 1 15 0 6 0 2 0 71 0 2 0 11 0 39 0-159 1 23 0 1 0 5 0 46 0 33 0-109 1 23 0 17 0 114 0 21 0-182 1 4 0 5 0 10 0 5 0 6 0 1 0 8 0 163 0-204 1 1 0 22 0 5 0 11 0 8 0 14 0-27 1-32 1 19 0 22 0 137 0-152 1 7 0 11 0 8 0 94 0-127 1 7 0 50 0 73 0-144 1 20 0 9 0 109 0-134 1 19 0 1 0 9 0 22 0 88 0-156 1 43 0 2 0 8 0 1 0-37 1 13 0 8 0 22 0 84 0 15 0 28 0-149 1 13 0 16 0 85 0 20 0-166 1 12 0 7 0 19 0 2 0-18 1 1 0 23 0 1 0 103 0-150 1 31 0 15 0 117 0 7 0 13 0-141 1 1 1 104 0-135 1 5 0 10 0-25 1 41 0 150 0-45 1 38 0 6 0 7 0-204 1 12 0 17 0 2 0 18 0 117 0 22 0 1 0 3 0-196 1 7 0 16 0 15 1 1 0 26 0-49 1 1 0 24 0 1 0 141 0-162 1 23 0-1 1 17 0 137 0-195 1 46 0-18 1 2 0 7 0 6 0 15 0-48 1 9 0 14 0 10 0-36 1 14 0 35 0-18 1-21 1 1 0 23 0 29 0 131 0-163 1 15 0 21 0-46 1 20 0 29 0 3 0 1 0-62 1 17 0 7 0 12 0 135 0-145 1 10 0 6 0 11 0-57 1 70 0-71 1 28 0 18 0 17 0 8 0-65 1 2 0 1 0 4 0 34 0 20 0 5 0-66 1 16 1 41 0-58 1 14 0 15 0 40 0-8 1 1 0 2 1-12 1-44 1 39 0 14 0 4 0 8 0-25 1 3 0 5 0 12 0-15 2 4 1 1 0 3 2 9 0 4 0 3 1 0 1-64 1 49 0 5 0 10 0-8 1 5 1-4 1 12 0 0 3 1 0-4 1 4 1 1 1 4 3 3 0" fill="none" stroke="none" marker-start="url(#k13)" marker-mid="url(#k13)" marker-end="url(#k13)"/>
<path d="M747 1814l-1 9 8 11-58 1 42 1-43 1 43 2 21 1-18 1 7 1-6 1 11 1 6 0-15 1 11 0 1 0-3 1 14 10 38 6 1 0-33 5-25 2 2 1 13 0 56 0-47 3 47 0-101 5 34 0 10 0 38 0-34 2 3 0-100 4 2 0 124 0-127 1 3 0 53 0 6 0 63 0-128 1 49 0 10 0-62 1 3 0 47 0 20 0 49 0-117 1 63 0 29 0-18 2-73 1 127 0-96 1 61 1 51 0-140 1 122 0 3 0 3 0-89 2 9 0 58 0 29 0-56 1 24 0-1 1-6 1 15 0-28 1-59 1 47 0 49 0-101 1 17 0 32 0 27 0 61 0-107 1 41 0 24 0 26 0-85 1 58 0-48 1 42 0 6 0 9 0 15 0 16 0-78 1 1 0 35 0-93 1 50 0-41 1 43 0 8 0 12 0-62 1 1 0 7 0 11 0 75 0 19 0-22 1-60 1 7 0 47 0 5 0-93 1 77 0-86 1 90 0-67 1 87 0 28 0-37 1 9 0 19 0 7 0-94 1 34 0 30 0-94 1 17 0 5 0-22 1 27 0 32 0-27 1 50 0 23 0 3 0 19 0-88 1 52 0 45 1-102 1 30 1 27 0-92 1 65 0 11 0 5 0-74 1 61 0 11 0 23 0-98 1 31 0 30 0-54 1 13 0 42 0 32 0 12 0-30 1 11 0 10 0-55 2 3 0 75 0-109 1 75 0 2 0-123 1 57 0 33 0 6 0 26 0-38 1 69 0-155 1 10 0 50 0 72 0-94 1 70 0-58 1 15 0 18 0 65 0-154 1 3 0 26 0 60 0-26 1 70 0 23 0-140 1 30 0 11 0-44 1 64 0 43 0-111 1-12 1 18 0 163 0-185 1 32 0-25 1 1 0 17 0 85 0 71 0-164 1 45 0 15 0 5 0 7 0 9 0 76 0-124 1 72 0 17 0 3 0 12 0 13 0-136 1 9 0 88 0 5 1 48 0-178 1 1 0 22 0 145 0 15 0-193 1 42 0 4 0 103 0-129 1 15 0 17 0 7 0 54 0-79 1 101 0 45 0-187 1 4 0 5 0 90 0 48 0 23 0 6 0-166 1 8 0 5 0 2 0 64 0 18 0-82 1 133 0-61 1 7 0 1 0 3 0-98 1 7 0 19 0 1 0-37 1 50 0 8 0 53 0 15 0 22 0 17 0-153 1 30 0 5 0-30 2 54 0 61 0 33 0-157 1 12 0 13 0 96 0 16 0 44 0-196 1 14 0 9 0 9 0 1 0 4 0 8 0 69 0 62 0-166 1 34 0 91 0 24 0-141 1 1 0 3 0 9 0-22 1 3 0 17 0 21 0 11 0-10 1 55 0 1 0 1 0 67 0 1 0-136 1 5 0 3 0 17 0 75 0 45 0 1 0-181 1 34 0 10 0 40 0 19 0 62 0-168 1 14 0 97 0 33 0 26 0 2 0 13 0-184 1 35 0 56 0 14 0 2 0 40 0 8 0-145 1 15 0 3 0 3 0 2 0 60 0 57 0 25 0-180 1 18 0 6 0 20 0 13 0 7 0 75 0 30 0 13 0-158 1 6 0 16 0 9 0 92 0 11 0 14 0 8 0 5 0 2 0-161 1 28 0 133 0-149 1 17 0 83 0 3 0 22 0 8 0-162 1 14 0-21 1 23 0 9 0 3 0 28 0 95 0-136 1 4 0 14 0 100 0 3 0 35 0 9 0-186 1 3 0 7 0 2 0 3 0 2 0-21 1 59 0 83 0 29 0 11 0-177 1 25 0 15 0 15 0 115 0 33 0-213 1 15 0 33 0 117 0-136 1 6 0 1 0 13 0 7 0 115 0-136 1 24 0 111 0 19 0 14 0 1 0-175 1 26 0 99 0 29 0-164 1 41 0-36 1 17 0 3 0 24 0 111 0 3 0 3 0 22 0-160 1 10 0 6 0 115 0-152 1 18 0-30 1 163 0 12 0-177 1 4 0 6 0 20 0 167 0-198 1 11 0 52 0 104 0-150 1-7 1 12 0 27 0 17 0 102 0 7 0-167 1 17 0 156 0-167 1 14 0 10 0 28 0 103 0-158 1 6 0 15 0 40 0-13 1 16 0-76 1 184 0-149 1 31 0 2 0-51 1 12 0 38 0 121 0-111 1-72 1 62 0-43 1 38 0 8 0 3 0-43 1 29 0-41 1 36 0 23 1 9 0-57 1 41 1-50 2 56 1 6 0-14 1 14 0-11 2 15 0-3 2 4 1 6 1-4 1 5 8" fill="none" stroke="none" marker-start="url(#k14)" marker-mid="url(#k14)" marker-end="url(#k14)"/>
<path d="M742 1814l9 21 6 1-14 3 1 2 18 3-5 11 9 1 40 6 1 1-57 1 17 2-17 1 23 1 48 1-60 1 17 0-23 1 12 1 51 0 1 1-52 1-9 2-4 1-37 3 8 0 6 0 37 0-59 1 21 0 3 0-22 1 8 0 7 0-12 1 22 0-21 1 20 0-9 1-4 1 41 0 24 1-58 2 9 0 29 0 20 0-93 2 31 0 10 0-68 1 60 0-33 3 13 0 17 0-3 1 12 0-24 1 10 0 1 0-40 1 30 1 5 0 16 0 13 1 41 0-64 1-9 1 98 0-120 1 20 0 3 0 4 0 12 0 8 0-9 1 53 0-69 1-11 1 28 0 12 0-16 1-22 1 19 0 20 0-46 1 26 0 6 0 12 0 32 0-85 1 52 0 15 0 12 0 26 0-107 1 17 1-21 1 1 0 102 0-48 1 89 0-101 1 7 0-45 1 26 0 7 0 15 1 56 0-93 1 31 0 66 0-103 1 85 0-77 1 107 0-112 1 23 0 76 0-16 1 21 0-70 1-14 1 21 0 1 0-37 1 21 0 13 0-42 1 6 0 22 0 7 0 3 0-5 1 2 0 13 0 2 0 36 0-58 1 13 0-41 2 1 0 42 0-32 1 8 0-50 1 49 0 11 0 17 0 38 0-78 1 19 0 63 0-83 1-19 1 3 0 46 0-49 1 23 0-25 1 6 0 19 0-3 1 18 0 22 1 10 0-84 3 63 0 3 0 4 0 12 0-52 1 9 0-46 1 79 0-67 1 81 0-59 1 3 0 14 0 32 0 10 0 42 0-149 1 30 0 25 0 27 0 25 0-84 1 45 0 14 0 27 0-99 1 30 0 19 0 108 0-162 1 26 0 32 0 10 0 21 0-86 1 41 0 10 0 37 0-93 1 46 0-63 1 35 0 45 0-55 1 66 0-58 1 27 0 14 0 5 0 116 0-174 1 24 0 39 0 28 0 2 0-77 1 57 0 6 1-26 1 8 0 66 0 1 0-138 1 38 0 38 0 2 0-52 1 14 0 78 0 48 0 20 0-129 1 40 0 76 0-184 1 27 0 131 0 26 0-156 2 158 0-156 1 9 0 11 0 7 0-20 1 41 0-56 1 2 0 8 0 15 0 131 0 2 0-164 1 13 0 35 0 22 0 92 0 14 0 5 0-171 1 23 0 1 0 128 0-184 1 30 0 7 0 39 0 65 0 8 0 25 0-121 1 63 0 29 0 1 0 13 0 9 0 5 0 11 0 5 0 7 0-48 1 7 0-115 1 5 0 33 0 38 0 4 0 23 0 20 0-137 1 2 0 9 0 156 0 8 0-175 1 2 0 5 0 24 0 92 0 15 0-127 1 13 0 34 0 87 0 33 0-189 1 158 0 13 0 2 0-172 1 39 0 110 0 10 0-14 1 2 0 5 0 30 0 8 0-210 1 41 0 10 0 4 0 124 0 23 0-38 1 7 0 2 0 34 0-204 1 1 0 35 0 24 0 92 0 13 0 15 0 23 0-163 1 1 0 22 0 97 0 12 0-170 1 26 0 131 0 4 0 1 0 17 0 13 0-185 1 5 0 143 0 14 0 2 0-15 1 19 0 26 0 8 0-21 1-13 1 23 0 10 0-131 1 131 0-187 1 23 0 8 0 125 0 19 0-14 1-8 1-144 1 144 0-139 1 140 0 2 0 6 0 10 0-142 1 1 0 4 0 127 0 4 0 14 0 3 0-134 1 104 0 34 0-132 1-24 1-13 1 140 0 8 0-145 1 150 2-174 1 15 0 52 0 3 0-64 4 48 2 20 0-21 1 16 0 13 4-10 1-6 1-4 2 20 4-10 1" fill="none" stroke="none" marker-start="url(#k15)" marker-mid="url(#k15)" marker-end="url(#k15)"/>
<path d="M749 1837l0 6 56 16-51 2 53 3 15 1-59 3-11 9-30 2 13 0 2 0-15 2 7 0 43 0-60 1 8 0 6 1 13 0-25 1 20 0-31 1 17 0 9 0 23 1-44 1 26 0-41 1 24 0 8 1 7 0-17 1 28 0-11 1-48 1 4 0 1 0 33 1 23 0-19 1 1 0 10 0 3 0 5 1-15 1-13 1 25 1-47 2 24 0 5 0 7 0-49 1 19 0 16 0 1 0-2 2 12 0 4 0 8 0 5 0-56 1 18 0 17 0 2 0-41 1 53 0-8 2-36 1 17 0 4 0 12 0 15 0 2 0-2 1 2 0-22 1 16 0-49 1 53 0-26 1-33 1 46 0 4 0 2 0-14 1 17 0-50 1 20 0-21 1 34 2 10 0-17 1-25 1 7 0 34 1 36 0-36 1 8 1-33 1 17 0 25 0-19 1-33 1 19 0 11 0 6 0 5 0-17 1 5 0-8 1 9 0 2 1 12 0-43 1 39 0-58 1 16 0 9 0 21 0 4 0-26 1-5 1 14 0 17 0-57 1 22 0 2 0 4 0 25 0 7 3-34 3 39 0 9 0 27 1-59 1 6 0 23 0 4 0-20 1-24 1 16 1 22 0-35 1-15 1 40 0 6 0-15 1 22 0 4 0-51 1 14 0 36 1-77 1 23 0 15 0 6 0 9 0-27 1 4 0 2 0 3 0 12 0 24 0 6 0-49 2 2 0 7 0-5 1 12 0 15 2 7 0-38 1 31 0 4 0 37 1-59 1 5 0 7 0 12 0 10 0 67 0 17 0-167 1 79 1 2 0 54 0 9 0-176 1 79 0 12 0-6 1 7 0 27 0-22 1 79 0 5 1-100 1 85 0-84 1 91 0-106 1 9 0 7 0 92 0-109 1 21 0 5 0 19 1 37 0 39 0-173 1 44 0 27 0 12 0 43 0 4 0 10 0 1 0 7 0 32 0-127 1 23 0 55 0 19 0-70 1 16 0 34 1 3 0 3 0 2 0 7 0 9 0 7 0 2 0 3 0 2 0-36 1 36 0-125 1 98 0-6 1 17 0 10 0-158 1 1 0 179 0-27 1 16 0 14 0-58 1 4 0 5 0 30 0 6 1-152 1 124 0-127 1 134 1 1 1 10 0 23 0-186 1 25 1 109 0 34 0 5 0 17 0-178 1 143 0 18 1-133 1 110 0-155 1 154 0 40 0-19 1 8 1 2 0-23 1 17 1 6 1-27 1 6 0 4 0 12 1-10 1 14 0-13 2 3 2-166 4 42 1 19 0" fill="none" stroke="none" marker-start="url(#k16)" marker-mid="url(#k16)" marker-end="url(#k16)"/>
<path d="M753 1854l12 10-18 2 13 4 8 0 6 8-51 2 4 0 5 0 6 0 29 0-17 1 14 2-50 2 21 0-25 2 16 0 3 0 6 0 4 1 1 2-55 1 29 1 9 2 23 0-52 1 45 0-48 1 29 1-33 2 29 0 25 0 3 0 2 1-25 1-13 1 10 0 21 0 4 0-14 1 10 0-24 1 6 0 15 0 3 0-21 1 6 0 17 0-9 2-36 1 18 0 8 1 22 0-40 2 6 0 7 0 16 0 6 0-30 2 27 0-11 1 4 0 7 0-43 1-5 1 31 0 3 0 6 3 10 2-16 1 12 1 8 0-26 1 16 2-23 1 19 0 9 0-13 1 2 0-26 5 13 1 7 0-22 1 4 1 14 0 1 0 3 2-2 1 10 1 6 0 2 0-91 1 53 0 5 1 16 0 6 0-2 1 14 1-26 2 30 0 1 0-38 1 1 1 2 0 32 0-32 1 2 0 4 0 21 0-39 1 29 0-71 1 44 0 3 0 2 0 3 3 3 1 35 0-40 1 2 0 6 0-80 1 111 0-3 1 8 0-55 1 120 1-41 1 46 0-106 2 32 1-23 1 82 0-95 1 76 0-76 1 7 0 14 0 47 0-41 1 80 0-74 1-27 1 28 0 31 0 51 0-10 1 8 0-124 2 6 0 72 0 4 0 14 0-161 1 105 0-42 2 78 0 8 0 32 1 17 0-33 4 1 0-26 1 30 0-12 1 30 2 0 2-13 2 21 2-24 1 8 0 5 2-19 3 30 0-19 2 0 1" fill="none" stroke="none" marker-start="url(#k17)" marker-mid="url(#k17)" marker-end="url(#k17)"/>
<path d="M758 1860l-5 1 8 2-11 8 17 2-47 7 1 0 7 0 29 1-33 1 41 0 1 2-34 4 0 2 3 1-30 1 8 0 25 0-39 2 12 0 10 0 15 0 1 3-44 2 1 0 28 0 10 0 7 3-48 2-3 1 37 1 10 0-13 1 2 2-25 2 36 2 1 0-40 1-2 1 25 2-26 1 17 1 12 0 3 1 0 2-23 1 20 2-7 1-4 1-14 1 41 0-4 1-26 2 6 0 12 0 17 2-36 2 37 1-13 1-39 2 20 0 6 0-9 1 37 1-25 1-44 1 30 0-3 2-11 3 50 4 3 2-40 2 20 0-10 3-11 2 10 0 12 2-9 3 17 0-9 3 5 1 6 0 72 0-94 1 86 0-78 1 23 0 61 0-114 1 111 0 6 3-20 3 19 0 13 1-47 1 25 3-13 1 23 8-9 9" fill="none" stroke="none" marker-start="url(#k18)" marker-mid="url(#k18)" marker-end="url(#k18)"/>
<path d="M756 1876l-47 5 8 3 6 1 16 0 8 5-6 3 3 0-15 2-13 4 4 0 8 5 6 0-8 1 15 1-20 1 4 0-2 3 14 1-18 2 3 2-24 1 14 2 13 2 4 2-8 2 14 0-15 2-22 2 25 2-20 4 21 0 9 11 11 0-22 3-9 1 0 2 18 2 2 0-33 6 35 0 71 4-65 1 1 2-17 4" fill="none" stroke="none" marker-start="url(#k19)" marker-mid="url(#k19)" marker-end="url(#k19)"/>
<text x="1006.5" y="1796.5" font-size="27">Microglia</text>
<path d="M1075 1832l60 2-49 2 37 0 15 15 5 1 7 3 41 1-48 1-4 1 1 0 7 2 46 1-57 1-3 1 3 1 23 0-3 1 1 0 1 0 2 0 8 0-35 1 3 1 9 0 2 0 2 0 5 0 10 0 42 0-71 1 3 1 67 0-42 1-11 1 1 0 5 0 11 1 16 0 13 0-54 1 54 0-97 1 56 0 22 0-42 1 23 0 19 0 7 0-78 1 15 0 36 0 4 0 6 0 18 0-85 1 3 0 3 0 2 0 4 0 3 0 6 0 29 0 3 0 11 0 7 0 9 0-75 1 8 0 27 0 16 0 2 0 12 0-75 1 14 0 7 0 32 0 23 0 2 0-138 1 68 0 4 0 2 0 11 0 3 0 25 0 11 0 19 0 11 0-89 1 18 0 38 0 4 0 2 0 3 0 14 0 2 0 5 0-100 1 12 0 1 0 2 0 2 0 16 0 18 0 12 0 28 0-79 1 12 0 37 0 15 0 4 0 3 0 1 0 6 0 3 0 4 0 40 0-132 1 2 0 16 0 3 0 3 0 3 0 10 0 1 0 6 0 25 0 2 0 7 0 1 0-74 1 4 0 15 0 25 0 17 0 8 0 6 0 4 0 2 0-69 1 5 0 2 0 1 0 8 0 26 0 1 0 1 0 10 0 2 0 7 0 2 0 6 0 6 0 4 0 4 0 12 0-106 1 5 0 12 0 5 0 3 0 21 0 14 0-81 1 38 0 3 0 9 0 10 0 3 0 3 0 31 0 1 0 2 0 1 0 13 0 2 0-127 1 1 0 29 0 13 0 11 0 16 0 9 0 10 0 12 0 13 0 1 0 1 0 3 0 8 0 1 0-89 1 19 0 3 0 1 0 12 0 23 0 7 0 9 0 12 0 6 0 7 0-123 1 23 0 4 0 10 0 2 0 3 0 5 0 6 0 1 0 7 0 7 0 16 0 6 0 2 0 3 0 3 0-103 1 1 0 12 0 16 0 1 0 16 0 6 0 13 0 8 0 4 0 2 0 1 0 4 0 3 0 20 0-110 1 3 0 14 0 22 0 3 0 6 0 8 0 28 0 2 0 13 0 14 0 5 0 11 0-110 1 8 0 2 0 1 0 1 0 26 0 11 0 13 0 13 0 16 0 13 0 5 0 5 0-146 1 2 0 40 0 36 0 15 0 16 0 5 0 3 0 1 0 4 0 8 0 12 0-133 1 23 0 5 0 2 0 3 0 3 0 9 0 33 0 11 0 3 0 33 0 12 0-115 1 10 0 5 0 8 0 12 0 8 0 13 0 21 0 2 0 8 0 1 0 8 0 1 0 2 0 9 0-135 1 11 0 2 0 24 0 2 0 18 0 6 0 6 0 26 0 2 0 1 0 1 0 2 0 3 0 2 0 1 0 6 0 5 0 15 0 1 0 4 0 1 0-117 1 4 0 4 0 6 0 5 0 4 0 13 0 4 0 13 0 7 0 4 0 39 0 4 0 14 0-114 1 3 0 2 0 1 0 12 0 4 0 9 0 4 0 1 0 11 0 23 0 1 0 1 0 3 0 1 0 2 0 2 0 12 0 6 0 14 0 5 0-138 1 17 0 14 0 3 0 5 0 7 0 4 0 1 0 17 0 9 0 15 0 6 0 4 0 4 0 3 0 4 0 3 0 8 0 11 0-140 1 3 0 1 0 27 0 2 0 6 0 1 0 13 0 7 0 1 0 4 0 11 0 12 0 1 0 2 0 1 0 10 0 8 0 4 0 1 0 6 0 13 0 2 0 1 0-121 1 25 0 1 0 3 0 6 0 6 0 2 0 8 0 2 0 16 0 9 0 5 0 4 0 3 0 18 0 9 0 4 0 2 0 10 0-113 1 2 0 2 0 5 0 6 0 9 0 13 0 2 0 31 0 4 0 3 0 1 0 2 0 6 0 3 0 3 0 2 0 1 0 3 0 1 0 3 0-129 1 1 0 2 0 7 0 7 0 5 0 12 0 17 0 2 0 2 0 10 0 4 0 7 0 10 0 20 0 4 0 1 0 7 0 10 0-118 1 18 0 2 0 5 0 13 0 1 0 1 0 3 0 24 0 2 0 6 0 7 0 2 0 1 0 2 0 3 0 16 0 16 0-139 1 36 0 16 0 2 0 4 0 9 0 5 0 1 0 2 0 9 0 3 0 4 0 1 0 2 0 2 0 8 0 1 0 19 0-122 1 10 0 19 0 16 0 5 0 1 0 3 0 8 0 3 0 4 0 8 0 4 0 7 0 5 0 5 0 2 0 1 0 1 0 3 0 1 0 7 0 1 0 20 0-138 1 8 0 18 0 5 0 33 0 11 0 2 0 1 0 5 0 7 0 19 0 8 0 4 0 1 0 3 0 2 0-128 1 19 0 13 0 4 0 9 0 4 0 1 0 1 0 2 0 20 0 1 0 7 0 2 0 8 0 1 0 4 0 7 0 2 0 13 0 6 0 2 0 19 0 4 0-136 1 10 0 2 0 12 0 9 0 6 0 3 0 21 0 8 0 4 0 2 0 9 0 2 0 9 0 1 0 7 0 8 0 1 0 1 0 3 0 3 0 3 0 6 0 5 0 2 0 2 0-148 1 5 0 31 0 2 0 6 0 4 0 24 0 8 0 15 0 1 0 5 0 2 0 1 0 3 0 6 0 7 0 2 0 11 0 2 0 15 0-151 1 2 0 5 0 4 0 29 0 25 0 1 0 1 0 6 0 2 0 17 0 1 0 6 0 1 0 4 0 5 0 2 0 1 0 3 0 4 0 2 0 2 0 1 0 1 0 12 0 13 0-125 1 1 0 7 0 9 0 23 0 2 0 14 0 8 0 3 0 9 0 3 0 1 0 2 0 8 0 1 0 1 0 1 0 12 0 7 0 10 0 1 0-142 1 4 0 1 0 23 0 8 0 2 0 24 0 13 0 1 0 5 0 7 0 2 0 5 0 1 0 6 0 2 0 1 0 2 0 4 0 12 0 4 0-129 1 21 0 2 0 8 0 1 0 6 0 31 0 11 0 5 0 1 0 4 0 2 0 8 0 7 0 2 0 2 0 3 0 2 0 1 0 2 0 4 0 10 0 11 0 2 0-148 1 7 0 14 0 15 0 1 0 22 0 6 0 17 0 2 0 3 0 2 0 1 0 9 0 4 0 4 0 3 0 8 0 9 0 7 0 4 0 2 0-135 1 37 0 7 0 15 0 4 0 1 0 3 0 8 0 13 0 8 0 6 0 3 0 4 0 19 0 5 0 5 0 1 0 2 0-117 1 4 0 8 0 33 0 3 0 2 0 5 0 2 0 3 0 2 0 1 0 1 0 3 0 8 0 1 0 2 0 3 0 2 0 2 0 10 0 5 0-116 1 24 0 9 0 8 0 13 0 4 0 1 0 5 0 3 0 6 0 5 0 5 0 3 0 1 0 4 0 5 0 16 0 17 0 6 0 2 0-143 1 10 0 10 0 5 0 15 0 1 0 2 0 8 0 6 0 5 0 2 0 2 0 10 0 5 0 8 0 10 0 3 0 9 0 9 0 4 0 3 0 14 0-137 1 21 0 8 0 5 0 16 0 4 0 8 0 13 0 1 0 3 0 2 0 7 0 1 0 3 0 1 0 2 0 2 0 1 0 6 0 1 0 11 0 1 0 1 0 3 0 8 0 6 0-144 1 4 0 2 0 3 0 2 0 13 0 1 0 3 0 3 0 8 0 2 0 15 0 6 0 5 0 1 0 1 0 9 0 6 0 13 0 2 0 1 0 13 0 11 0-104 1 8 0 6 0 1 0 3 0 11 0 2 0 19 0 1 0 3 0 2 0 11 0 14 0 1 0 1 0 7 0 2 0 3 0 26 0-134 1 9 0 10 0 2 0 5 0 2 0 7 0 5 0 15 0 3 0 1 0 3 0 1 0 15 0 2 0 7 0 4 0 4 0 6 0 4 0 5 0 18 0 2 0-100 1 1 0 5 0 6 0 5 0 3 0 10 0 21 0 3 0 3 0 2 0 7 0 1 0 2 0 23 0 2 0-87 1 19 0 2 0 5 0 2 0 5 0 13 0 5 0 3 0 11 0 29 0-170 1 8 0 7 0 3 0 19 0 6 0 1 0 5 0 2 0 4 0 10 0 4 0 21 0 5 0 7 0 12 0 1 0 6 0 3 0 1 0 2 0 2 0 9 0 19 0 11 0 4 0-171 1 15 0 34 0 1 0 16 0 19 0 10 0 1 0 20 0 10 0 19 0 8 0 27 0-144 1 2 0 2 0 28 0 16 0 4 0 4 0 3 0 3 0 9 0 1 0 3 0 9 0 2 0 2 0 17 0 14 0 4 0 17 0-166 1 2 0 2 0 5 0 13 0 4 0 2 0 5 0 17 0 2 0 2 0 23 0 8 0 5 0 1 0 4 0 5 0 4 0 3 0 2 0 1 0 5 0 2 0 6 0 2 0 5 0 3 0 1 0 18 0-142 1 18 0 2 0 7 0 19 0 38 0 7 0 2 0 10 0 21 0 29 0 1 0-183 1 13 0 7 0 2 0 4 0 23 0 2 0 15 0 28 0 2 0 3 0 26 0 5 0 2 0 1 0 1 0 3 0 4 0 17 0 2 0 7 0 16 0-175 1 7 0 9 0 3 0 3 0 4 0 43 0 3 0 16 0 10 0 5 0 10 0 2 0 4 0 2 0 39 0 20 0-183 1 4 0 16 0 4 0 3 0 47 0 20 0 1 0 3 0 15 0 4 0 16 0 4 0 2 0 9 0 8 0 1 0 3 0 3 0 4 0 7 0 5 0-163 1 3 0 9 0 8 0 6 0 3 0 1 0 11 0 2 0 3 0 1 0 28 0 4 0 8 0 2 0 6 0 14 0 12 0 16 0 1 0 17 0-167 1 36 0 38 0 2 0 14 0 10 0 7 0 6 0 1 0 7 0 1 0 15 0 8 0 1 0 16 0-177 1 21 0 32 0 30 0 19 0 9 0 11 0 10 0 1 0 23 0 18 0 17 0-181 1 16 0 7 0 1 0 40 0 7 0 3 0 5 0 8 0 3 0 2 0 8 0 2 0 1 0 13 0 1 0 1 0 6 0 13 0 31 0 5 0 8 0-187 1 2 0 2 0 5 0 1 0 2 0 3 0 11 0 6 0 1 0 10 0 12 0 4 0 4 0 11 0 23 0 10 0 1 0 6 0 3 0 29 0 9 0 2 0 1 0 22 0 10 0-199 1 2 0 14 0 1 0 4 0 4 0 61 0 9 0 3 0 22 0 3 0 4 0 25 0 20 0 13 0 6 0-165 1 3 0 35 0 7 0 15 0 12 0 2 0 8 0 2 0 9 0 1 0 15 0 6 0 1 0 1 0 4 0 3 0 18 0 13 0-176 1 18 0 7 0 11 0 9 0 2 0 1 0 7 0 7 0 4 0 30 0 7 0 1 0 4 0 6 0 13 0 17 0 2 0 1 0 3 0 9 0 13 0 7 0 4 0-186 1 30 0 5 0 20 0 8 0 45 0 6 0 22 0 8 0 4 0 9 0 10 0 6 0 2 0-167 1 2 0 7 0 3 0 7 0 6 0 14 0 16 0 17 0 3 0 14 0 3 0 5 0 4 0 2 0 5 0 32 0 9 0 2 0 1 0 3 0 4 0 7 0 12 0 3 0 5 0-199 1 12 0 3 0 2 0 7 0 21 0 3 0 10 0 25 0 28 0 14 0 2 0 8 0 6 0 2 0 3 0 8 0 1 0 4 0 13 0 1 0 1 0 25 0-194 1 5 0 26 0 11 0 4 0 6 0 2 0 1 0 9 0 8 0 1 0 9 0 12 0 9 0 17 0 12 0 9 0 6 0 1 0 7 0-148 1 1 0 3 0 10 0 2 0 3 0 9 0 4 0 10 0 3 0 4 0 41 0 13 0 3 0 19 0 8 0 10 0 2 0 18 0 1 0-173 1 1 0 4 0 9 0 12 0 6 0 12 0 10 0 4 0 2 0 1 0 1 0 4 0 7 0 31 0 1 0 4 0 7 0 3 0 19 0 13 0 6 0 17 0 9 0 1 0 6 0-195 1 9 0 13 0 19 0 4 0 4 0 5 0 42 0 4 0 12 0 6 0 21 0 6 0 3 0 9 0 1 0 4 0 5 0 4 0 6 0 12 0-179 1 8 0 4 0 2 0 4 0 4 0 1 0 3 0 5 0 10 0 10 0 1 0 8 0 14 0 5 0 10 0 8 0 4 0 6 0 5 0 3 0 1 0 6 0 29 0 20 0 9 0 5 0-192 1 3 0 19 0 1 0 5 0 18 0 14 0 4 0 6 0 4 0 37 0 19 0 3 0 4 0 6 0 13 0 16 0 9 0 2 0 3 0 5 0-180 1 16 0 2 0 22 0 12 0 3 0 2 0 26 0 8 0 33 0 6 0 11 0 4 0 5 0 14 0 2 0-185 1 6 0 9 0 6 0 1 0 8 0 5 0 2 0 4 0 1 0 1 0 24 0 9 0 17 0 19 0 1 0 35 0 23 0 6 0 9 0 13 0-198 1 18 0 3 0 9 0 5 0 20 0 3 0 2 0 2 0 4 0 31 0 3 0 4 0 4 0 7 0 8 0 3 0 14 0 11 0 2 0 1 0 3 0 13 0 6 0 3 0 19 0-192 1 10 0 35 0 20 0 9 0 49 0 2 0 7 0 8 0 1 0 17 0 1 0-166 1 9 0 5 0 2 0 5 0 3 0 1 0 9 0 4 0 9 0 1 0 2 0 2 0 3 0 7 0 1 0 8 0 8 0 1 0 6 0 6 0 11 0 2 0 9 0 1 0 3 0 60 0 3 0 4 0 14 0-189 1 2 0 6 0 2 0 2 0 5 0 3 0 3 0 2 0 14 0 27 0 10 0 1 0 36 0 3 0 2 0 14 0 28 0 6 0 12 0 8 0-191 1 1 0 19 0 2 0 3 0 8 0 15 0 13 0 41 0 2 0 2 0 18 0 4 0 2 0 3 0 4 0 9 0 15 0 17 0 13 0-198 1 14 0 1 0 10 0 2 0 5 0 1 0 4 0 3 0 6 0 2 0 1 0 4 0 38 0 8 0 15 0 2 0 16 0 11 0 34 0 8 0-185 1 10 0 2 0 11 0 13 0 5 0 7 0 40 0 28 0 4 0 15 0 37 0-161 1 7 0 1 0 8 0 1 0 23 0 34 0 75 0 15 0 2 0 10 0-179 1 2 0 3 0 10 0 5 0 1 0 1 0 4 0 8 0 8 0 2 0 6 0 22 0 10 0 7 0 10 0 48 0 27 0 25 0-205 1 1 0 6 0 16 0 5 0 1 0 4 0 2 0 1 0 3 0 8 0 2 0 13 0 15 0 2 0 27 0 6 0 33 0 20 0 9 0-179 1 25 0 2 0 8 0 4 0 4 0 5 0 3 0 2 0 33 0 4 0 19 0 1 0 1 0 33 0 33 0 3 0 3 0 6 0 1 0-183 1 13 0 28 0 4 0 19 0 19 0 3 0 19 0 4 0 63 0 3 0 4 0 10 0 5 0-182 1 3 0 7 0 4 0 2 0 5 0 2 0 9 0 1 0 1 0 15 0 2 0 18 0 8 0 4 0 7 0 5 0 4 0 31 0 7 0 22 0 2 0 4 0 3 0 6 0 4 0 4 0-198 1 1 0 3 0 1 0 13 0 6 0 1 0 1 0 3 0 3 0 1 0 9 0 40 0 7 0 7 0 17 0 25 0 11 0 3 0 4 0 15 0 5 0 14 0-194 1 15 0 16 0 3 0 1 0 2 0 2 0 3 0 2 0 9 0 11 0 28 0 9 0 2 0 12 0 31 0 1 0 2 0 1 0 4 0 5 0 1 0 1 0 1 0 3 0 4 0 5 0 11 0 1 0 4 0 11 0-197 1 15 0 1 0 8 0 10 0 1 0 1 0 1 0 1 0 4 0 1 0 1 0 13 0 7 0 2 0 1 0 2 0 3 0 28 0 45 0 3 0 2 0 2 0 1 0 14 0 3 0 9 0 2 0 12 0-195 1 14 0 12 0 6 0 3 0 3 0 5 0 2 0 3 0 6 0 3 0 11 0 27 0 4 0 15 0 1 0 4 0 23 0 7 0 11 0 1 0 29 0-187 1 9 0 9 0 5 0 1 0 1 0 2 0 5 0 3 0 15 0 3 0 88 0 1 0 4 0 2 0 4 0 2 0 3 0 3 0 10 0 7 0 7 0 1 0 2 0 2 0 8 0-206 1 19 0 11 0 7 0 7 0 2 0 15 0 2 0 3 0 3 0 4 0 73 0 11 0 7 0 5 0 10 0 14 0 1 0-177 1 15 0 9 0 11 0 2 0 7 0 6 0 11 0 10 0 61 0 7 0 10 0 10 0 4 0 16 0 13 0 4 0-206 1 3 0 1 0 8 0 5 0 7 0 2 0 1 0 8 0 9 0 109 0 2 0 7 0 9 0 13 0-179 1 8 0 8 0 1 0 2 0 1 0 18 0 8 0 2 0 13 0 81 0 22 0 7 0 4 0 2 0 3 0 1 0 5 0-177 1 2 0 3 0 2 0 5 0 10 0 1 0 10 0 4 0 108 0 2 0 5 0 6 0 3 0 16 0 5 0 6 0 2 0 1 0-213 1 7 0 35 0 10 0 4 0 11 0 83 0 9 0 1 0 3 0 6 0 12 0 1 0 9 0 13 0 5 0-196 1 7 0 5 0 5 0 6 0 2 0 2 0 2 0 2 0 9 0 15 0 87 0 4 0 6 0 8 0 2 0 6 0 3 0 2 0 14 0 9 0 8 0-214 1 12 0 3 0 6 0 17 0 6 0 4 0 5 0 4 0 4 0 92 0 1 0 12 0 1 0 2 0 13 0 22 0 1 0-205 1 8 0 21 0 12 0 1 0 7 0 15 0 95 0 2 0 10 0 3 0 7 0 22 0 7 0-207 1 2 0 5 0 5 0 2 0 19 0 20 0 110 0 1 0 4 0 1 0 4 0 14 0 4 0 2 0 2 0 3 0 15 0-215 1 7 0 1 0 14 0 6 0 5 0 1 0 25 0 4 0 90 0 5 0 2 0 12 0 11 0 3 0 8 0 15 0-195 1 4 0 4 0 16 0 1 0 20 0 100 0 25 0 16 0 12 0-189 1 17 0 1 0 1 0 1 0 6 0 17 0 1 0 89 0 23 0 3 0 3 0 6 0 16 0 6 0-214 1 22 0 10 0 3 0 10 0 18 0 1 0 115 0 6 0 7 0 5 0 5 0 10 0-187 1 1 0 2 0 1 0 15 0 1 0 2 0 13 0 1 0 1 0 117 0 18 0 2 0 13 0-209 1 35 0 9 0 8 0 26 0 93 0 4 0 3 0 9 0 10 0 9 0-199 1 6 0 6 0 2 0 7 0 9 0 2 0 4 0 2 0 1 0 14 0 15 0 95 0 12 0 1 0 24 0 3 0-202 1 2 0 8 0 1 0 14 0 2 0 8 0 15 0 13 0 117 0-185 1 18 0 4 0 27 0 10 0 113 0 24 0 2 0-194 1 17 0 11 0 3 0 1 0 36 0 101 0 1 0 1 0 6 0 10 0-178 1 17 0 5 0 3 0 10 0 1 0 5 0 13 0 114 0 6 0 5 0 7 0 3 0-188 1 5 0 1 0 13 0 2 0 9 0 7 0 16 0 2 0 2 0 7 0 94 0 1 0 2 0 23 0 8 0-184 1 3 0 18 0 2 0 18 0 4 0 4 0 3 0 3 0 2 0 92 0 6 0 4 0-165 1 17 0 4 0 3 0 25 0 5 0 6 0 2 0 2 0 108 0 6 0-190 1 21 0 11 0 6 0 7 0 3 0 7 0 5 0 15 0 98 0 6 0 1 0 5 0 8 0-189 1 3 0 1 0 27 0 1 0 23 0 10 0 5 0-57 1 2 0 3 0 7 0 6 0 1 0 24 0 9 0 1 0 8 0 94 0 17 0-183 1 1 0 6 0 2 0 1 0 4 0 34 0 12 0 11 0 2 0 101 0 6 0-181 1 6 0 2 0 4 0 4 0 5 0 6 0 31 0 4 0 12 0 2 0 102 0-154 1 33 0 8 0 1 0 2 0 2 0 9 0-72 1 12 0 2 0 15 0 19 0 21 0-67 1 15 0 45 0-58 1 1 0 6 0 53 0 10 0-21 1 7 0 5 0 1 0-19 1 7 0 1 0 4 0 3 0 4 0 7 0 1 0-66 1 40 0 1 0 3 0 9 0 10 0 2 0-65 1 45 1 8 0 9 0 4 0 2 0-19 1 3 0 5 0 2 0 3 0 1 0-13 1 20 0 3 0-19 1 8 0 2 0 2 0-19 1 10 0 5 0 7 0 4 0-18 1 1 0 13 0 1 0-65 1 54 0 5 0 3 0 2 0 1 0-8 1 8 0 4 0-9 1 2 0 3 0-8 1 5 1 7 0-11 1 4 0 3 0 5 1 4 1-7 1 4 0-6 1 7 0-2 1 2 0 4 2 2 0" fill="none" stroke="none" marker-start="url(#k10)" marker-mid="url(#k10)" marker-end="url(#k10)"/>
<path d="M1135 1825l-7 3 4 0-8 2 12 2 5 0-9 1 10 0 3 1-17 2 9 0-12 1 4 2 9 0-3 1-6 2 12 0-5 7 17 2 38 8 1 0 1 1-44 1 1 0-2 5 35 1-42 1 11 1 28 1 25 0-63 3-5 1 2 0-36 1 45 0-27 1-15 1 7 0 40 0-59 1 20 0 21 0 18 0 3 0-61 1 2 0 4 0 4 0-5 1 53 0 5 0-58 1-43 1 52 0 5 0 1 0 9 0 42 0-59 1 3 0 10 1-42 1 34 0 12 0 36 0-41 2 13 0-22 1 10 0 9 0 33 0-89 1 18 0 51 0-61 1 111 0-96 1 17 0 2 1 43 0-88 1 32 0 66 0 30 0-75 1 59 0-54 1 20 0 37 0-107 1 1 0 22 0 25 0 4 0 59 0-67 1 9 0 52 0-97 1 16 0 5 0 36 0 2 0 12 0-85 1 49 0 3 0 45 0-55 1 1 0 7 0 3 0 71 0 1 0-121 1 25 0 10 0 3 0 34 0 8 0 58 0-117 1 21 0 1 0 47 0 14 0-53 1 19 0 32 0-107 1 39 0 8 0 8 0 55 0 11 0-93 1 9 0 16 0 3 0-44 1 18 0-19 1 3 0 22 0 44 0 22 0 5 0-88 1 23 0 5 0 5 0 63 0-30 1-89 1 54 0 1 0 30 0 7 0 21 0 1 1 11 0-98 1 13 0 81 0 11 0-95 1 1 0 63 0 24 0-111 1 26 0 13 0 34 0 21 0 31 0-103 1 94 0-83 1-30 1 37 0 78 0-55 1 9 0 26 0 34 0-31 1 3 0 4 0-83 1 8 0 18 0 77 0-109 1 7 0 13 0 11 0 29 0-46 1 35 0 23 0 2 0 19 0-88 1 7 0 5 0 5 0 43 0-71 1 16 0 63 0-90 1 41 0 64 0 17 0 14 0-46 1-97 1 2 0 31 0 17 0 4 0 16 0 40 0 19 0-126 1 132 0-162 1 57 0 1 0 16 0 23 0 26 0-124 1 38 0 10 0 6 0 61 0-116 1 8 0 24 0 20 0 3 0 7 0 36 0 20 0 20 0 22 0 9 1-171 1 52 0 4 0 91 0-116 1 9 0 45 0 42 0-66 1 107 0-157 1 66 0 84 0-112 1 26 0 10 0 32 0 22 0-134 1 4 0 2 0 126 0-149 1 5 0 41 0 18 0 9 0 6 0-78 1 44 0 92 0 29 0 10 0-147 1 25 0 63 0 66 0-130 1 16 0 15 0 1 0 12 0 78 0-183 1 38 0 22 0 4 0 36 0 3 0 31 0-94 1 10 0 40 0 6 0 14 0 41 0 5 0-131 1 28 0 15 0 2 0 121 0-179 1 1 0 48 0 6 0 2 0 4 0 22 0 81 0 5 0-154 1 6 0 2 0 2 1 37 0 7 0 31 0 8 0-96 1 27 0 12 0 1 0 11 0 25 0-112 1 11 0 24 0 24 0 22 0 81 0-132 1 22 0 25 0-45 1 28 0 56 0 36 0-99 1 2 0 29 0 1 0 14 0 14 0 41 0 23 0-117 1 51 0 4 0-108 1 92 0 82 0-142 1 10 0 14 0 57 0 20 0 12 0-63 1 31 0 65 0-161 1 4 0 49 0 9 0 91 1-144 1 13 0 37 0 39 0 36 0 21 0-143 1 5 0 3 0 35 0 14 0 21 0 6 0-98 1 12 0 58 0 74 0-162 1 8 0 19 0 8 0 4 0 8 0 10 0-13 1 32 0 21 0-54 1 18 0-42 1 6 0 48 0 6 0 88 0 8 0-123 1 43 0 14 0-43 1 18 0 98 0 8 0-194 1 13 0 25 0 72 0 9 0-103 1 59 0 78 0-157 1 44 0 8 0 24 0 94 0 5 0 10 0-177 1 9 0 3 0 163 0 2 0-134 1 97 0 5 0 13 0 16 0-176 1 19 0 4 1 10 0 14 0 118 0-141 1 115 0 19 0 3 0 23 0-186 1 4 0 191 0-150 1 124 0 14 0-150 1 122 0 8 1-169 1 7 0 26 0-6 1 5 0 11 0 120 0 18 0 14 0 7 0 1 0-151 1 1 0 5 0 115 0 2 0-173 1 175 0 26 0-188 1 31 0-30 1 4 0 35 0 122 0 9 0-176 3 2 0 4 0 15 0 19 0 141 0-115 1 100 0 1 0 15 0-163 1 2 0 2 0 25 0 12 0 5 0 122 0-178 1 12 0 27 0-39 1 21 0 149 0-162 1 9 0 171 0-200 1 30 0 43 0 2 0-62 1 4 0 33 0 132 1-150 1 31 0 3 0 2 0-13 1 13 0 8 0-1 1-51 1 2 1 5 1-12 1 6 0 30 0 7 0 13 0 7 0-22 1-30 1 52 0-1 1-20 1 3 0 6 0 11 0 1 0 7 0-16 1-1 2-2 2 2 1 6 0 6 0-7 1-2 1 1 0 4 0 10 1-1 3 5 0-1 2 3 0" fill="none" stroke="none" marker-start="url(#k11)" marker-mid="url(#k11)" marker-end="url(#k11)"/>
<path d="M1142 1826l-10 3-55 1 58 1 5 0-7 1 3 0-53 2 1 0 53 0 1 0-54 2 42 2 4 0 2 0 2 1 11 0-14 1 14 1-4 1 0 1-5 1 3 0-1 2 9 0-23 4 16 1-7 1 18 0 2 1-20 3 16 2-1 1-3 2 10 1-3 1 55 3 0 1-2 3-152 12-4 1 2 0 0 1 1 0 2 0-5 1 2 1 1 3 22 0-18 1-3 1-2 2 3 0 27 14-14 3 1 1 4 2-12 28-27 31 51 24" fill="none" stroke="none" marker-start="url(#k12)" marker-mid="url(#k12)" marker-end="url(#k12)"/>
<path d="M1132 1821l9 4-62 3 56 0 2 3-9 1-4 1 9 0-52 1 1 0 3 1 47 0 1 0 5 0-16 1 7 0-46 1 46 0-2 2 4 3 9 0 8 0-10 1-9 1 1 0 4 1 15 0-9 1-3 1 12 0 1 0-10 3 2 0 7 0-14 2 18 1-12 1 0 1-13 1 18 2 62 4-158 17 4 2 1 1-3 1-3 2-2 2 3 0 5 1-5 1 6 1 6 0-6 1-3 1" fill="none" stroke="none" marker-start="url(#k13)" marker-mid="url(#k13)" marker-end="url(#k13)"/>
<path d="M1136 1823l0 1-4 1 8 2-2 2-58 1 65 0-66 1 63 0-61 1 56 0-55 1 47 1 7 0 1 3 8 0-6 1-11 2 15 0-5 1-9 4 2 2 18 0-3 4-7 1 13 1 55 13-155 15 2 0 2 0-5 1-1 1 1 0-4 1 7 0 2 0-2 1-1 1-1 3-5 2 8 0 2 0-5 2" fill="none" stroke="none" marker-start="url(#k14)" marker-mid="url(#k14)" marker-end="url(#k14)"/>
<path d="M1081 1832l60 9 2 6-91 32-5 4 5 3-3 1 2 2-3 2" fill="none" stroke="none" marker-start="url(#k15)" marker-mid="url(#k15)" marker-end="url(#k15)"/>
<path d="M1056 1889" fill="none" stroke="none" marker-start="url(#k16)" marker-mid="url(#k16)" marker-end="url(#k16)"/>
<path d="M1133 1812l-83 76" fill="none" stroke="none" marker-start="url(#k17)" marker-mid="url(#k17)" marker-end="url(#k17)"/>
<path d="M1134 1811" fill="none" stroke="none" marker-start="url(#k18)" marker-mid="url(#k18)" marker-end="url(#k18)"/>
<path d="M1129 1811l7 0-9 1" fill="none" stroke="none" marker-start="url(#k19)" marker-mid="url(#k19)" marker-end="url(#k19)"/>
<text x="1373" y="1796.3" font-size="27">Cytotoxic T-cells</text>
<path d="M1493 1810l1 0 4 0 1 0 2 0-3 9 3 3 1 1 5 0-10 1-4 3 5 0 2 0-2 1 6 0-4 2 2 0-9 1 6 0 3 0 4 0-17 1 8 0 2 0 4 0-1 1-4 1-10 1 1 0 4 0 10 0-13 1 4 0 8 0 9 0-19 1 13 0-6 1 11 0-17 1 1 0 7 1 3 0 3 0 1 0-1 1 7 0-8 1 1 1-13 1 7 0 14 0-10 1 7 0-15 1 6 0 1 0 5 0 5 0-12 2 4 1 8 0 5 1-15 1 13 0-18 1 9 0 10 0 1 0-12 1 9 1-17 2 6 2 7 0 3 0-1 1 45 0-46 1 2 0-14 1 10 0-13 1 20 0-17 2 22 0 2 0 1 0-12 1 8 0 2 0 11 0-36 1 12 0 62 0 1 0-73 1 12 0 2 0 15 0 42 0 1 0-72 1 6 0-4 1 15 0 54 0-54 1 6 0 5 0 17 0-27 1 17 0 16 1 13 0-57 1 2 0 54 0-59 1 18 0 23 0-43 1 11 0 12 0 20 0 6 0-79 1 13 0 39 0 4 0 6 0 19 0-84 1 5 0 3 0 1 0 3 0 1 0 35 0 1 0 2 0 17 0 1 0 9 0-89 1 14 0 7 0 4 0 17 0 7 0 14 0 2 0 2 0-112 1 46 0 2 0 4 0 4 0 5 0 1 0 40 0 23 0 2 0 16 0-92 1 11 0 11 0 3 0 26 0 8 0 4 0 18 0-128 1 47 0 1 0 2 0 17 0 39 0 4 0 2 0 3 0 14 0 3 0 4 0-138 1 2 0 47 0 9 0 12 0 4 0 15 0 12 0 15 0 13 0-131 1 58 0 5 0 38 0 15 0 4 0 4 0 6 0 4 0 4 0 40 0-180 1 8 0 56 0 4 0 2 0 3 0 1 0 10 0 1 0 6 0 25 0 2 0 8 0 1 0-126 1 30 0 20 0 4 0 10 0 6 0 7 0 17 0 18 0 1 0 7 0 7 0 4 0-128 1 1 0 59 0 4 0 3 0 9 0 26 0 1 0 12 0 8 0 2 0 6 0 6 0 5 0 4 0 12 0-103 1 12 0 6 0 2 0 7 0 15 0 14 0-108 1 25 0 22 0 9 0 8 0 3 0 8 0 1 0 11 0 3 0 3 0 34 0 1 0 14 0 1 0-146 1 17 0 1 0 5 0 17 0 8 0 13 0 12 0 15 0 4 0 6 0 10 0 12 0 7 0 1 0 6 0 1 0 3 0 8 0 1 0 1 0-138 1 12 0 8 0 46 0 3 0 1 0 13 0 23 0 8 0 19 0 2 0 6 0 7 0-163 1 38 0 23 0 4 0 2 0 9 0 4 0 6 0 6 0 1 0 7 0 7 0 16 0 6 0 2 0 4 0 3 0-132 1 40 0 16 0 7 0 8 0 30 0 4 0 2 0 1 0 4 0 3 0 21 0-118 1 9 0 14 0 16 0 7 0 9 0 7 0 13 0 16 0 9 0 6 0 15 0 5 0 4 0 7 0-102 1 1 0 1 0 18 0 8 0 11 0 14 0 13 0 13 0 17 0-138 1 2 0 38 0 2 0 1 0 17 0 6 0 13 0 6 0 31 0 2 0 2 0 4 0 7 0 12 0 1 0 4 0-140 1 7 0 1 0 16 0 7 0 6 0 19 0 3 0 27 0 5 0 4 0 7 0 14 0 4 0 8 0 12 0-110 1 3 0 1 0 1 0 11 0 1 0 4 0 8 0 2 0 5 0 13 0 32 0 2 0 1 0 6 0 2 0 2 0 9 0-127 1 17 0 10 0 3 0 18 0 5 0 7 0 7 0 2 0 5 0 7 0 7 0 2 0 8 0 1 0 5 0 22 0 4 0 1 0-142 1 5 0 15 0 7 0 4 0 5 0 1 0 3 0 2 0 17 0 18 0 7 0 4 0 9 0 6 0 3 0 15 0 7 0 3 0 4 0 11 0-123 1 12 0 1 0 11 0 2 0 10 0 4 0 3 0 37 0 2 0 2 0 2 0 14 0 7 0 1 0 18 0-141 1 1 0 27 0 7 0 5 0 1 0 3 0 5 0 3 0 18 0 9 0 4 0 10 0 2 0 6 0 3 0 5 0 7 0 5 0 3 0 3 0 9 0 2 0 4 0-140 1 16 0 9 0 2 0 6 0 1 0 9 0 3 0 3 0 7 0 4 0 11 0 2 0 10 0 9 0 14 0 3 0 2 0 5 0 14 0 2 0 1 0-139 1 3 0 13 0 26 0 9 0 3 0 3 0 2 0 2 0 9 0 7 0 9 0 4 0 2 0 1 0 3 0 4 0 3 0 1 0 3 0 3 0 29 0-139 1 36 0 2 0 3 0 16 0 3 0 7 0 7 0 2 0 31 0 5 0 3 0 3 0 5 0 2 0 5 0 2 0 1 0 2 0 2 0 3 0 1 0-133 1 18 0 5 0 7 0 3 0 2 0 3 0 2 0 6 0 4 0 2 0 3 0 2 0 14 0 7 0 10 0 15 0 6 0 4 0 3 0 3 0 12 0-129 1 8 0 11 0 30 0 1 0 14 0 12 0 1 0 2 0 6 0 7 0 4 0 1 0 1 0 2 0 12 0 7 0-118 1 1 0 7 0 18 0 1 0 1 0 5 0 10 0 6 0 3 0 7 0 5 0 12 0 7 0 3 0 2 0 5 0 5 0 17 0 2 0 15 0-141 1 2 0 11 0 38 0 17 0 6 0 2 0 4 0 8 0 3 0 3 0 7 0 3 0 1 0 1 0 3 0 6 0 23 0-140 1 14 0 6 0 6 0 7 0 10 0 7 0 5 0 3 0 7 0 2 0 7 0 1 0 4 0 5 0 2 0 1 0 4 0 7 0 1 0 6 0 5 0 2 0 6 0 1 0 4 0-116 1 10 0 14 0 21 0 22 0 4 0 6 0 7 0 1 0 11 0 7 0 1 0 12 0 3 0 1 0 1 0-129 1 12 0 13 0 20 0 8 0 2 0 18 0 8 0 3 0 1 0 6 0 1 0 5 0 5 0 4 0 7 0 1 0 5 0 6 0 1 0 7 0 3 0 11 0 4 0 1 0-143 1 37 0 7 0 23 0 1 0 12 0 11 0 11 0 7 0 3 0 7 0 1 0 1 0 9 0 2 0 4 0 5 0 4 0 3 0-155 1 1 0 1 0 5 0 27 0 41 0 8 0 11 0 1 0 4 0 1 0 1 0 3 0 4 0 2 0 7 0 5 0 1 0 2 0 1 0 1 0 3 0 10 0-130 1 2 0 14 0 8 0 7 0 25 0 1 0 1 0 1 0 8 0 21 0 4 0 4 0 1 0 2 0 3 0 1 0 1 0 3 0 2 0 4 0 10 0 4 0 2 0 14 0-143 1 1 0 21 0 2 0 15 0 21 0 13 0 1 0 5 0 2 0 3 0 9 0 1 0 2 0 1 0 3 0 3 0 4 0 2 0 1 0 7 0 9 0 14 0 1 0-144 1 19 0 12 0 5 0 41 0 2 0 10 0 2 0 7 0 8 0 3 0 2 0 6 0 6 0 2 0 20 0 1 0-148 1 23 0 8 0 7 0 32 0 16 0 1 0 2 0 2 0 1 0 1 0 8 0 1 0 5 0 2 0 3 0 1 0 2 0 2 0 1 0 2 0 7 0 8 0-127 1 27 0 10 0 12 0 10 0 4 0 7 0 3 0 2 0 3 0 2 0 10 0 9 0 2 0 1 0 15 0 9 0 4 0 2 0-137 1 24 0 13 0 8 0 14 0 6 0 1 0 4 0 3 0 3 0 14 0 7 0 3 0 1 0 2 0 1 0 3 0 3 0 2 0 9 0 9 0 6 0 4 0 1 0 2 0-107 1 17 0 14 0 1 0 5 0 2 0 5 0 2 0 6 0 1 0 3 0 10 0 3 0 2 0 1 0 2 0 15 0 14 0 8 0-139 1 19 0 1 0 13 0 1 0 3 0 4 0 5 0 9 0 1 0 12 0 6 0 5 0 8 0 2 0 3 0 2 0 3 0 17 0 6 0 3 0 1 0 13 0-133 1 9 0 1 0 20 0 1 0 9 0 5 0 2 0 8 0 2 0 10 0 3 0 2 0 3 0 6 0 7 0 2 0 4 0 8 0 2 0 8 0 5 0-121 1 19 0 1 0 5 0 2 0 5 0 20 0 1 0 3 0 1 0 4 0 13 0 1 0 5 0 6 0 1 0 1 0 4 0 4 0 1 0 1 0 5 0 1 0 1 0 9 0 1 0 1 0 2 0 11 0 6 0-146 1 4 0 2 0 2 0 16 0 1 0 4 0 5 0 1 0 4 0 2 0 1 0 4 0 10 0 14 0 4 0 3 0 8 0 5 0 8 0 1 0 1 0 1 0 2 0 11 0 1 0 11 0 17 0-127 1 2 0 2 0 8 0 6 0 1 0 1 0 2 0 9 0 2 0 22 0 1 0 30 0 1 0 1 0 8 0 4 0-110 1 1 0 19 0 2 0 6 0 1 0 7 0 6 0 15 0 3 0 1 0 1 0 2 0 16 0 2 0 8 0 2 0 1 0 4 0 7 0 4 0 4 0 13 0 6 0 2 0 6 0-108 1 2 0 4 0 6 0 5 0 3 0 7 0 7 0 18 0 3 0 3 0 4 0 6 0 1 0 25 0 2 0-133 1 1 0 4 0 28 0 12 0 9 0 12 0 5 0 2 0 5 0 12 0 1 0 20 0 1 0 15 0 4 0 9 0-165 1 36 0 6 0 2 0 4 0 10 0 3 0 1 0 27 0 7 0 12 0 1 0 9 0 2 0 1 0 2 0 10 0 29 0 1 0 5 0-160 1 27 0 8 0 12 0 1 0 16 0 7 0 10 0 1 0 1 0 5 0 15 0 10 0 1 0 54 0-146 1 1 0 20 0 11 0 16 0 5 0 10 0 1 0 7 0 2 0 10 0 2 0 2 0 3 0 17 0 35 0-168 1 21 0 5 0 2 0 5 0 11 0 3 0 6 0 1 0 23 0 8 0 6 0 1 0 4 0 5 0 4 0 4 0 1 0 1 0 5 0 2 0 6 0 2 0 6 0 3 0 19 0-126 1 2 0 7 0 58 0 7 0 2 0 10 0 22 0 27 0 3 0 1 0-161 1 24 0 2 0 10 0 5 0 29 0 2 0 3 0 26 0 5 0 2 0 2 0 7 0 18 0 2 0 7 0-165 1 3 0 16 0 4 0 6 0 6 0 41 0 15 0 1 0 16 0 10 0 2 0 4 0 2 0 7 0 26 0 7 0 4 0 16 0-182 1 24 0 38 0 10 0 20 0 4 0 15 0 4 0 20 0 3 0 8 0 9 0 4 0 12 0 2 0 6 0-168 1 13 0 8 0 9 0 2 0 11 0 2 0 3 0 2 0 18 0 13 0 9 0 2 0 5 0 15 0 13 0 16 0 12 0 6 0-170 1 37 0 13 0 25 0 3 0 9 0 5 0 9 0 14 0 1 0 7 0 2 0 14 0 2 0 7 0 17 0-96 1 20 0 8 0 12 0 11 0 20 0 3 0 19 0 17 0-191 1 5 0 26 0 41 0 7 0 3 0 5 0 8 0 6 0 7 0 3 0 1 0 13 0 3 0 18 0 32 0 5 0 8 0-190 1 2 0 2 0 8 0 3 0 18 0 27 0 4 0 9 0 6 0 30 0 6 0 4 0 14 0 5 0 10 0 10 0 2 0 1 0 6 0 10 0 6 0 10 0-202 1 38 0 15 0 10 0 21 0 13 0 2 0 23 0 2 0 3 0 2 0 59 0 6 0-168 1 36 0 10 0 16 0 5 0 2 0 5 0 1 0 6 0 14 0 1 0 15 0 7 0 5 0 1 0 2 0 19 0 13 0-184 1 5 0 24 0 24 0 1 0 6 0 1 0 4 0 3 0 33 0 3 0 5 0 1 0 1 0 4 0 5 0 14 0 2 0 15 0 3 0 4 0 22 0 7 0 4 0-189 1 30 0 9 0 9 0 16 0 6 0 19 0 21 0 6 0 22 0 9 0 3 0 2 0 5 0 8 0 13 0-170 1 2 0 42 0 12 0 3 0 2 0 12 0 3 0 11 0 16 0 2 0 5 0 32 0 9 0 1 0 1 0 1 0 4 0 3 0 7 0 1 0 12 0 3 0 5 0-202 1 12 0 3 0 62 0 7 0 5 0 15 0 8 0 15 0 10 0 6 0 2 0 3 0 8 0 6 0 5 0 8 0 2 0 5 0 15 0 5 0-198 1 21 0 11 0 2 0 19 0 8 0 6 0 18 0 10 0 30 0 11 0 8 0 6 0 2 0 1 0-145 1 1 0 35 0 7 0 6 0 9 0 8 0 1 0 6 0 18 0 14 0 2 0 6 0 22 0 10 0 2 0-151 1 9 0 12 0 35 0 1 0 1 0 1 0 3 0 7 0 36 0 7 0 4 0 15 0 4 0 35 0 1 0 1 0 9 0 7 0-194 1 50 0 43 0 4 0 5 0 4 0 2 0 1 0 7 0 21 0 6 0 3 0 7 0 1 0 2 0 4 0 6 0 3 0 19 0-192 1 10 0 12 0 10 0 4 0 10 0 16 0 9 0 4 0 15 0 10 0 9 0 9 0 10 0 6 0 26 0 1 0 3 0 16 0 4 0 8 0 1 0 5 0-196 1 24 0 26 0 10 0 2 0 4 0 6 0 4 0 35 0 14 0 7 0 8 0 5 0 14 0 16 0 10 0 10 0-151 1 20 0 6 0 2 0 4 0 1 0 14 0 14 0 3 0 5 0 23 0 2 0 7 0 42 0 3 0-192 1 54 0 16 0 2 0 27 0 7 0 1 0 2 0 1 0 35 0 12 0 5 0 5 0 1 0 5 0 1 0 7 0 2 0 1 0 13 0-159 1 13 0 4 0 4 0 30 0 5 0 7 0 12 0 36 0 3 0 3 0 20 0 2 0 20 0-183 1 42 0 6 0 44 0 7 0 1 0 7 0 2 0 4 0 2 0 16 0 2 0 5 0 16 0-165 1 5 0 21 0 28 0 1 0 8 0 2 0 8 0 7 0 17 0 2 0 10 0 2 0 22 0 8 0 18 0 14 0 7 0-173 1 2 0 59 0 1 0 8 0 2 0 1 0 5 0 23 0 4 0 5 0 5 0 14 0 29 0 5 0 5 0 16 0 3 0-190 1 15 0 6 0 3 0 18 0 33 0 40 0 4 0 9 0 4 0 9 0 15 0 9 0 14 0-178 1 12 0 6 0 7 0 29 0 47 0 2 0 19 0 2 0 40 0 9 0 13 0-168 1 3 0 2 0 11 0 31 0 4 0 5 0 3 0 8 0 15 0 19 0 3 0 24 0 21 0 6 0-160 1 58 0 8 0 23 0 4 0 1 0 40 0 27 0-178 1 8 0 8 0 16 0 9 0 29 0 18 0 70 0 9 0 1 0 11 0 20 0-187 1 7 0 5 0 8 0 9 0 6 0 33 0 18 0 7 0 42 0 26 0-159 1 12 0 3 0 40 0 2 0 2 0 4 0 14 0 6 0 1 0 34 0 6 0 20 0 9 0 1 0 10 0-167 1 2 0 8 0 45 0 11 0 20 0 65 0 4 0 1 0 5 0 7 0-173 1 6 0 6 0 16 0 20 0 3 0 16 0 7 0 9 0 10 0 4 0 63 0 4 0 4 0 11 0 5 0-202 1 2 0 22 0 3 0 5 0 1 0 5 0 30 0 4 0 15 0 3 0 9 0 7 0 10 0 23 0 11 0 4 0 22 0 15 0 5 0 2 0 2 0-202 1 1 0 33 0 2 0 5 0 43 0 29 0 2 0 1 0 30 0 3 0 5 0 2 0 3 0 1 0 5 0 3 0 6 0 6 0 10 0 2 0-180 1 4 0 24 0 2 0 2 0 2 0 4 0 15 0 3 0 22 0 10 0 2 0 43 0 1 0 2 0 5 0 7 0 1 0 7 0 5 0 10 0 1 0 1 0 16 0-203 1 18 0 8 0 43 0 4 0 2 0 6 0 16 0 20 0 33 0 5 0 2 0 1 0 2 0 13 0 3 0 13 0-180 1 6 0 18 0 6 0 5 0 1 0 9 0 1 0 3 0 11 0 9 0 23 0 15 0 29 0 3 0 4 0 12 0 1 0 14 0 7 0 6 0-174 1 3 0 1 0 5 0 2 0 118 0 7 0 4 0 2 0 1 0 2 0 3 0 1 0 9 0 8 0 1 0 3 0 3 0 1 0 2 0 1 0 9 0-178 1 13 0 30 0 4 0 11 0 59 0 3 0 5 0 2 0 1 0 2 0 13 0 8 0 14 0 3 0 13 0-201 1 23 0 7 0 10 0 3 0 14 0 100 0 10 0 16 0 22 0-54 1 3 0 7 0 4 0 4 0 10 0 6 0-176 1 13 0 3 0 117 0 3 0 14 0 2 0 7 0 3 0 3 0 7 0 3 0 5 0 12 0-191 1 33 0 114 0 16 0 17 0 5 0 2 0 7 0 1 0-217 1 20 0 47 0 85 0 5 0 4 0 5 0 6 0 11 0 1 0 3 0 6 0 3 0 11 0 5 0-187 1 11 0 4 0 29 0 89 0 10 0 7 0 2 0 11 0 15 0-201 1 1 0 12 0 8 0 18 0 10 0 108 0 12 0 1 0 2 0 2 0 12 0 22 0 1 0-200 1 1 0 32 0 1 0 119 0 3 0 9 0 2 0 1 0 8 0 22 0 7 0-184 1 6 0 21 0 8 0 99 0 4 0 1 0 2 0 4 0 4 0 14 0 5 0 1 0 1 0 1 0 1 0 2 0 4 0 1 0 11 0-204 1 142 0 4 0 16 0 9 0 3 0 24 0-210 1 16 0 4 0 16 0 1 0 147 0 17 0 4 0 8 0-199 1 25 0 6 0 2 0 109 0 24 0 3 0 3 0 5 0 17 0 6 0-196 1 24 0 12 0 7 0 117 0 1 0 6 0 3 0 4 0 4 0 6 0 10 0-191 1 2 0 22 0 13 0 139 0 2 0 13 0-212 1 52 0 26 0 96 0 3 0 12 0 11 0 9 0-198 1 1 0 2 0 7 0 9 0 7 0 2 0 6 0 2 0 2 0 11 0 15 0 98 0 11 0 2 0 6 0 18 0 3 0-203 1 8 0 15 0 2 0 23 0 18 0 102 0 13 0 3 0-192 1 19 0 11 0 20 0 18 0 5 0 103 0 20 0 4 0 2 0-198 1 23 0 6 0 40 0 104 0 1 0 6 0-147 1 32 0 108 0 7 0 5 0 2 0 4 0 1 0 7 0 3 0-186 1 13 0 1 0 11 0 23 0 2 0 3 0 7 0 96 0 1 0 25 0 8 0-207 1 31 0 30 0 5 0 11 0 94 0 10 0-142 1 12 0 12 0 6 0 6 0 1 0 118 0-171 1 40 0 114 0 7 0 1 0 3 0 10 0-188 1 47 0 20 0-56 1 17 0 18 0 15 0 1 0 9 0 95 0 18 0-179 1 53 0 9 0 107 0-161 1 5 0 6 0 22 0 14 0 11 0 1 0 2 0 104 0 3 0-172 1 13 1 42 0-43 1 45 0 8 0-65 1 42 0 23 0 5 0-14 1 5 0 4 0-14 1 6 0 4 0 8 0-26 1 3 0 8 0 3 0-13 1 21 0 5 1 2 0-23 1 5 0 9 0-9 1 2 0 10 0-8 1-5 1 17 0 3 0-14 1 0 1 15 0 1 0-16 1 4 0 15 0-12 1 0 1 3 0 2 0 0 2 0 1 3 0 5 0 0 1 5 1-4 1 1 2 4 1" fill="none" stroke="none" marker-start="url(#k10)" marker-mid="url(#k10)" marker-end="url(#k10)"/>
<path d="M1500 1824l8 1-19 4 22 0-16 4 13 0-9 1 4 0-8 3 2 1 0 1-2 2 15 0-6 1-9 2 20 2-1 1-8 3 6 0-11 2 5 2-12 1 15 1 49 0 0 3-42 1 44 1-39 1-1 4 29 1 22 2 1 1-106 4 37 0-35 1 20 1-21 1 4 0 2 0 16 0 44 0-53 1-65 1 55 0-69 1 118 0-103 1 3 0 1 0 66 0-65 1 32 0 15 0 3 0 8 0 2 0-67 1 1 0 1 0 49 0 10 0-56 1 39 0 2 0-47 1 5 0 128 0-64 1 50 0-47 1-71 1 114 0-112 1 4 0 130 0-130 1 53 0-53 1 1 0 40 0 82 0-126 1 3 0 24 0-28 1 25 0 26 0 17 0 13 0 31 0-110 1 42 0 5 2 10 1 62 0 3 0-95 1 87 0-42 1-30 1 4 0 29 0 3 0 41 0-71 1 6 0 4 0 9 1 62 0-85 1 124 0-110 1 4 0 12 0 57 0-103 1 41 0-15 1 67 0-73 1 25 0 2 0 24 0-27 1-6 1 0 1 2 0 72 0-127 1 2 0 37 0 14 0 2 0 1 0-30 1 14 0 5 0 66 0-84 1 14 0 2 0 8 0-10 1-9 1 9 0 7 0 3 0 22 0 47 1-112 1 21 0 15 0-30 1 36 0 23 0 28 1-60 1 4 0 4 0 49 0-50 1 38 0-72 1 27 0 43 0-66 1 20 0 12 1 39 0 22 0-50 1 19 0 18 0 19 1 7 0-70 1-61 1 68 0 7 0 38 0-129 1 18 0 17 0 17 0 79 0-130 1 5 0 143 0 7 0-152 1 38 0 11 0 42 0 19 0 45 0 3 0-159 1 9 0 1 0 23 0 26 0 4 0 77 0-122 1 48 0-68 1 4 0 7 0 7 0 39 0 12 0 17 0 45 0 19 0-151 1 7 0 15 0 20 0 58 0-79 1 112 0 30 0-150 1 3 0 23 0 16 0 35 0-13 1 33 0 10 0 29 0-164 1 21 0 1 0 3 0 2 0 28 0-45 1 24 0 16 0 19 0 7 0 27 0 27 0-116 1 1 0 12 0 22 0 12 0 42 0-91 1 1 0 4 0 4 0 10 0 52 0 88 0-159 1 49 0 13 0 68 0 8 0 32 0-156 1 9 0 2 0-39 1 35 0 3 0 63 0 9 0 41 0-142 1 8 0 3 0 4 0 3 0 21 0 8 0 46 0-92 1 1 0 1 0 22 0 7 0 3 0 24 0 39 0 75 0-156 1 47 0 32 0 16 0 36 0-136 1 2 0 3 0 9 0 5 0 10 0 3 0 1 0 42 0 47 0-145 1 32 0 5 0 15 0 3 0 4 0 2 0 3 0 12 0-81 1 9 0 32 0 9 0 5 0-63 1 26 0 4 0 6 0 5 0 13 0 3 0 4 0 18 0 14 0 39 0-98 1 6 0 18 0 3 0-47 1 8 0 12 0 6 0 23 0 93 0 1 0-154 1 15 0 6 0 9 0 5 0 2 0 5 0 1 0 11 0-53 1 21 0 9 0 5 0 31 0 31 0-94 1 3 0 29 0 2 0 10 0 4 0 10 0 20 0 21 0 37 0 3 0 25 0-151 1 17 0 17 0 1 0 3 0 25 0-68 1 7 0 2 0 1 0 2 0 1 0 13 0 9 0 138 0-180 1 5 0 10 0 2 0 4 0 1 0 3 0 8 0 11 0 62 0 2 0-108 1 7 0 11 0 2 0 14 0 8 0 61 0-111 1 11 0 1 0 21 0 4 0 5 0 13 0 68 0 2 0 21 0 29 0-132 1 2 0 49 0-80 1 5 0 4 0 9 0 3 0 16 0 2 0 1 0-51 1 1 0 6 0 19 0 1 0 1 0 4 0 17 0 11 0 2 0-67 1 4 0 30 0 7 0 9 0 3 0 16 0 44 0-65 1 4 0 2 0 131 0-179 1 1 0 12 0 3 0 20 0 9 0 3 0 43 0 52 0-130 1 6 0 8 0 19 0 8 0 31 0 23 0-117 1 8 0 22 0 3 0 68 0 25 0-95 1 4 0 7 0 4 0 18 0 40 0 14 0 82 0-199 1 36 0 1 0 3 0 6 0 1 0 13 0 10 0 75 0 8 0-127 1 2 0 3 0 18 0 7 0 61 0 4 0 73 0-181 1 23 0 3 0 19 0 4 0 90 0-158 1 31 0 1 0 6 0 9 0 12 0 3 0 1 0 2 0 118 0-175 1 9 0 8 0 6 0-20 1 9 0 12 0 1 0 3 0 10 0 15 0 13 0 106 0-167 1 16 0 1 0 7 0 7 0 1 0 6 0 8 0 2 0 115 0 24 0-189 1 4 0 9 0 3 0 2 0 5 0-27 1 5 0 30 0 11 0 3 0 107 0-133 1 8 0 6 0 10 0 114 0 44 0 8 0-216 1 13 0 31 0 8 0 5 0 3 0 107 0-159 1 20 0 6 0 1 0 5 0 9 0 14 0-62 1 3 0 9 0 3 0 17 0 2 0 10 0 14 0 125 0-185 1 7 0 2 0 14 0 6 0 5 0 20 0 2 0 119 0 4 0-119 1 7 0 95 0 20 0-159 1 21 0-44 1 18 0 14 0 3 0 29 0-36 1 1 0 15 0 1 0 17 0 1 0 118 0-144 1 10 0 137 0-175 1 2 0 10 0 10 0 15 0-25 1 25 0 29 0-47 1 3 0 29 0 6 0-45 1 6 0 6 0 9 0 18 0-42 1 3 0 15 0 5 0 3 0 10 0 1 0 5 0-41 1 5 0 5 0 12 0 143 0 28 0-184 1 3 0 18 0 2 0 27 0 3 0 5 0 99 0-163 1 17 0 5 0 41 0 2 0-77 1 11 0 27 0 11 0 12 0 15 0 107 0 1 0 3 0-156 1 5 0 27 0 3 0 1 0 3 0-67 1 19 0 7 0 31 0 8 0 8 0 3 0-73 1 1 0 8 0 1 0 1 0 3 0 58 0 2 0-75 1 5 0 3 0 10 0 6 1 42 0 3 0 2 0 9 0-73 1 13 0 1 0 34 0-46 1 4 0 23 0 14 0 7 0-39 1 1 0 51 0 2 0 2 1-50 1 30 0 1 0 5 0 1 0 21 0-67 1 41 0 4 0 16 0 5 0 3 0-69 1 49 0 15 0-11 1 14 0-9 1 5 0-14 1 14 0 9 0-7 1 9 0-16 1 5 0 1 0 10 0-27 1 7 1 6 0 5 0 3 0 2 0-65 1 65 0 1 0 0 1 4 2-11 1 5 0 5 0-1 1 0 2-2 2 7 0-2 1" fill="none" stroke="none" marker-start="url(#k11)" marker-mid="url(#k11)" marker-end="url(#k11)"/>
<path d="M1505 1826l0 4 2 0-6 3 2 0 7 0-16 2 3 7-2 1 9 0-5 1 8 5-18 1-73 29 3 3-8 1 4 0 0 1 1 0 3 0-3 2-5 1 3 0 0 2 4 2-6 1 3 1 72 7-14 7-42 3-2 21-5 1-24 1 23 1 2 2-3 1 64 1-88 3 26 0-34 1 15 0 7 2 28 0 5 3-50 1 43 0-36 1-12 1 23 0 31 0-32 1-10 1 5 0 1 0 18 0-17 1 0 1 6 0-1 1-14 1-21 2 48 0-4 3-47 1 23 0 25 0-38 2-1 1 4 0 27 0 2 0 7 1-12 1-21 2 25 1-40 1 15 0 13 0 5 0 1 0-37 1 1 2 22 0 39 0-50 1 34 1-11 1 17 0-27 1 26 0 4 7-19 2 28 0-59 5 31 2 16 2-31 2 54 0-38 1 13 0-38 1 53 0-24 1 35 0-7 2-40 2 39 0-48 2 59 5-2 4 5 2 19 7 8 6" fill="none" stroke="none" marker-start="url(#k12)" marker-mid="url(#k12)" marker-end="url(#k12)"/>
<path d="M1504 1838l3 4 12 11 56 9-161 26" fill="none" stroke="none" marker-start="url(#k13)" marker-mid="url(#k13)" marker-end="url(#k13)"/>
<path d="M1449 1835l-29 55 26 17" fill="none" stroke="none" marker-start="url(#k14)" marker-mid="url(#k14)" marker-end="url(#k14)"/>
<path d="M1443 1827l7 8" fill="none" stroke="none" marker-start="url(#k16)" marker-mid="url(#k16)" marker-end="url(#k16)"/>
<path d="M1443 1830l3 1 1 2 2 0-1 3" fill="none" stroke="none" marker-start="url(#k17)" marker-mid="url(#k17)" marker-end="url(#k17)"/>
<path d="M1441 1829l4 0 1 4 3 1" fill="none" stroke="none" marker-start="url(#k18)" marker-mid="url(#k18)" marker-end="url(#k18)"/>
<path d="M1440 1831l6 0 0 1-1 1" fill="none" stroke="none" marker-start="url(#k19)" marker-mid="url(#k19)" marker-end="url(#k19)"/>
<text x="1711" y="1796.3" font-size="27" font-style="italic">VIM</text>
<path d="M1772 1949" fill="none" stroke="none" marker-start="url(#k11)" marker-mid="url(#k11)" marker-end="url(#k11)"/>
<path d="M1799 1940l-24 11 19 7-6 6 23 1-30 1 4 4-7 12 36 15 21 20" fill="none" stroke="none" marker-start="url(#k12)" marker-mid="url(#k12)" marker-end="url(#k12)"/>
<path d="M1862 1843l-71 90-24 7 9 0 0 6-13 3-1 1 14 1 2 2 29 2-54 4 43 0-44 1-7 1 36 0-6 3 9 3-2 1-15 3 31 1-36 1-17 5 11 0-1 8 8 2 36 0-35 5-6 1 16 0 2 2 31 3-30 1-15 1 6 0 38 7 1 0 31 5-16 4 16 2 5 8" fill="none" stroke="none" marker-start="url(#k13)" marker-mid="url(#k13)" marker-end="url(#k13)"/>
<path d="M1874 1830l4 6-4 5-86 50-4 37-8 1 16 0-2 2-13 2 12 0 3 3-10 2 1 0 5 0-20 2 13 0 11 0-19 1-11 2-3 1 8 1-3 3 48 0-54 2 25 0-3 1-3 1 30 1-22 1 18 1 11 0-29 1-29 1 25 0 17 0 11 0-44 1 6 0-12 1 16 0 10 0 9 1-16 1 14 0-5 1 8 1 3 0-45 1 43 0-14 1-12 1 7 0 19 0-22 1-31 2 29 0 13 0-15 1 16 0 2 0 0 1-3 1 9 0-36 1 3 0 5 0 10 0 28 0-50 1 39 0 3 0-49 1 19 0 11 0 3 0-35 1 32 0 18 0 13 0-53 1 8 0 4 0-33 1 24 0-4 1 22 0-1 1-17 1 21 0-1 1 9 0-35 1 39 0-35 2 20 0 28 0-26 1 9 0 19 0-69 1 30 1 15 0 36 0-67 1 24 0-16 2 14 0-30 1 15 1 39 0-16 1 11 0 23 1-50 1 3 0 21 0 17 0 16 0-2 1-52 1 12 0 3 1 35 1 8 0-66 1-2 1 6 0 51 0 14 0-57 1 46 0 4 2-16 1 28 0-16 2-8 1 11 0-2 1 11 1 3 0 3 0-16 1 10 0 0 2-16 1 9 1 14 0-7 4 5 1 1 1" fill="none" stroke="none" marker-start="url(#k14)" marker-mid="url(#k14)" marker-end="url(#k14)"/>
<path d="M1861 1827l9 3 5 0-5 1-3 1 8 0 3 0-12 2-10 1 6 1 10 2 2 3-5 2 13 1-18 2 5 2 6 1-1 4 9 1-1 5-98 22-1 2-2 2 3 3 0 1-4 2 6 0-3 1-3 38 8 1 9 1-2 1-19 1 1 0 21 0 4 0-29 1 24 0 4 0 0 1-31 4 18 0 11 0 11 0-53 1 2 0 19 0 5 0-9 1 9 0-26 1 24 1 8 0-6 1 3 0 12 0 9 0-41 1 3 0 24 0-24 1 1 0 20 0 21 0-29 1 3 0 14 0 16 0-59 2 50 0-61 1 7 0 32 0 10 0 4 0 7 0-27 1-12 1 12 0-25 1 24 0 24 0-53 1 4 1 15 0 28 0 4 0 9 0-61 1 14 0 34 0 4 0 3 0-33 1 17 0-29 1 12 0 32 0 85 0-127 1 13 0 13 0 6 0 23 0-69 1 10 0 22 0 9 0 8 0-39 2 1 0 2 0 5 0 4 0 5 0 1 0 7 0-32 1 1 0 8 0 11 0 6 0 1 0 5 0 4 0 2 0 17 0 4 0-12 2-46 1 15 0 4 0 28 0-28 1 8 0 18 0-55 1 9 0 28 0-31 1 9 0 5 0 14 0 5 0 4 0 11 0 14 0-31 1 34 0-55 1 12 0 1 0 4 0 12 0-31 1 12 0 2 0 2 0-2 1-25 1 10 0-6 1 8 0 10 0 2 0 2 1 3 0 14 0 5 0 3 0-30 1 5 0-27 1 49 0-26 1 7 0 7 0 10 0-52 1 10 0 29 0 7 0 8 0-17 1 20 0 149 0-159 1-45 1 14 0 19 0 6 0 16 0 5 0-57 1 40 0-2 1 2 0 4 0-26 1 6 0 17 0 3 0 9 0 4 0-33 1-16 1 12 0 23 0 8 0 8 0-53 1 8 0 15 0 13 0 1 0 2 0 3 0 23 0 3 0 1 0-68 1 2 0 9 0 17 0 7 0-22 1 7 0 2 0 2 0 6 0 19 0-50 1 10 1 23 0 17 0-35 1 14 0 2 0 9 0 25 0 3 0 7 0-76 1 71 0 1 0-55 1 13 0 5 0 11 0 4 0 25 0-66 1 41 0 27 0-68 1 59 0 8 0-21 1 16 0 6 0-22 1 21 0 3 0-73 1 8 0 11 0 8 0 32 0 16 0-5 1-46 1-15 1 11 0 30 0 19 0 7 0-64 1 12 1 36 0 17 0-15 1 11 0 8 0-66 1 40 0 24 0-10 2-5 1 2 0-1 2 4 0 11 0-7 1 9 0 4 2-1 1-3 1 7 2-4 1 2 1 4 1-3 1 5 1 6 4" fill="none" stroke="none" marker-start="url(#k15)" marker-mid="url(#k15)" marker-end="url(#k15)"/>
<path d="M1866 1810l-1 9 4 3 6 3-10 3 6 0-3 2-7 1 5 0-52 1 43 0-43 1 3 1 53 2-11 1 4 0 4 1 7 2 1 2-3 1-15 6 17 1-8 2 19 10-103 21 5 1-6 1 3 0-2 2 5 1-8 3 60 7 66 1 41 19-154 10 3 0-13 1-3 2 9 0 4 0 5 0-29 2 26 0-11 1-6 1 16 0-31 3 16 0 8 0-20 1 6 0 39 0-36 1-1 1 21 0 1 2 3 0 9 0 2 0-51 1 35 0 3 0-28 1-15 1 46 0-10 1 16 0-39 1 13 0 14 0 8 0-40 1 32 0-33 1 32 0 14 0-55 1 18 0 4 0 2 0 9 0 3 0 10 0 3 0-46 1 7 0 16 0 24 0 2 0 1 0-58 2 35 0 7 0 1 0 16 0-37 1 15 0-30 1 29 0 25 0-44 1-5 1 8 0 1 0 4 0-4 1 5 0 1 0 3 0 3 0 3 0 154 0-176 1 9 0 16 0 28 0-57 1 11 0 13 0 2 0 6 0 5 0-21 1-9 1 12 0 12 0 9 0-43 1 55 0-67 1 28 0 6 0 7 0 2 0 8 0-3 1 4 0-33 1 1 0 28 0 20 0-67 1 18 0 15 0 1 0 25 0-28 1 4 0 5 0-25 1 3 0 21 0 2 0 16 0 3 0 6 0-68 1 2 0 15 0 19 0 3 0-36 1 5 0 18 0 6 0 6 0 16 0 3 0 4 1 128 0 3 0-167 1 13 0 2 0 111 0 16 0 38 0-158 1-41 1 21 0 2 0 24 0 116 0-132 1 1 0 16 0-46 1 12 0 179 0-193 1 29 0 11 0 3 0 12 0-43 1 19 0 17 0-50 1 4 0-2 1 25 0 1 0 131 0-164 1 26 0 5 0 1 0 138 0 4 0 14 0-162 1 164 1 14 0-185 2 13 0 29 0-19 1 156 0-198 1 39 0-26 1 6 0 10 0 8 0 21 0 12 1-7 1-28 1 3 0 37 0-59 1 36 0-29 1 3 0 10 0 18 0 16 0 138 0-189 1 61 0-61 1 25 0 24 0-61 1 182 0-178 1 28 0 4 0 27 0 7 0-64 1 11 0 2 0 3 0 38 0-53 1 9 0 50 0 14 0-59 1 4 1 46 0-59 1 14 0 5 0 10 0-23 1 59 1-4 1 5 0-12 1 8 0 12 0-25 1 4 0 4 0 12 0 7 0-1 2-9 1 1 0 4 0 11 1-22 2 11 0 7 0 3 0-17 1 15 0-11 1 10 0 0 1 5 0-9 2 9 1-11 1 3 0 9 1 1 2" fill="none" stroke="none" marker-start="url(#k16)" marker-mid="url(#k16)" marker-end="url(#k16)"/>
<path d="M1860 1810l2 0 7 13-1 1 5 2 5 3-67 1 58 1 1 1-57 1 4 0 45 0 6 0 3 0-10 1-43 1 37 0 7 0-4 1 7 1 8 0-13 1 18 0-17 1 7 0 8 0-4 1-10 1 2 0-1 2-1 1 5 0 6 1 3 1 6 0 1 0-10 3 6 1 7 0-18 1 17 0 0 1-11 2-8 1 16 2 1 3 59 2-3 5 0 2-26 5-28 2-29 1 29 0 3 0-106 1 1 1 5 1-2 1 1 0 3 0 48 0 46 0 33 0-133 1 5 0 93 0-98 1-1 1 4 0 65 0-68 1 1 0 2 0 56 0 13 1 64 0-25 1-113 1 6 0 24 0 101 0-119 1 7 0-13 1-3 1 3 0 111 0 10 0-123 2 50 1 102 0-110 2 6 0 80 0-50 1 35 0 17 0-79 1 21 0 46 0 4 0-43 1 12 1 24 0-49 1 12 1-2 1 3 1 67 0-4 2-55 1 27 1-90 1 73 1 29 1-108 2 102 1-74 2 58 0 53 0-1 1 4 0-70 1 38 1-40 1-3 1 5 0 37 0-8 1 6 0 24 0-59 1 31 0 15 0-25 2 42 0-25 1-104 1 69 0 40 0 28 0-170 2 51 0 45 0 23 2 23 0-54 1 27 0 31 0-142 1 49 0 61 0-99 1 73 0 27 0 13 0-117 2 1 0 91 0 5 0 61 0-31 1-145 2 26 0 20 0-50 1 29 0 97 0-100 1 92 0 47 0-145 2 1 1-18 1 10 0-8 1 32 0 28 0-72 1 26 0 93 1-121 1 24 0 30 0-31 1 22 0 109 0-137 1 101 0 10 0 26 0 10 0-137 1-26 1 26 0 128 0 28 0-178 1 6 0 21 0-11 1 12 0 21 0 103 1-94 1 114 0 11 1-168 1 137 0-142 1 6 0 77 0 76 0-132 1 38 0 31 0-6 1-65 1-22 1 20 0 58 0-86 2 26 1-49 1 3 0 14 0 6 0 4 0 5 0-7 1 140 0 12 0-142 1 107 0 28 0-173 1 45 0 112 0 35 0-144 1 7 0 13 0 88 1 32 0-194 1 37 0 1 0 26 0 10 0 74 0 3 0 30 0 14 0-171 1 27 0 110 0 38 1-47 1-115 2 127 0 18 0 27 0-192 1 51 0 101 0-165 1 47 0 12 0 3 0-35 1 134 0 10 0-168 1 12 0 43 0 4 0-56 1 1 0 15 0 152 0 35 0-188 1 37 0 155 0-198 1 7 0 135 0 26 0-160 1 7 0 167 0 4 0-140 1 116 1 4 0-3 2-152 1 15 0 13 0 22 0 122 0-167 1 149 0-108 1 114 0 5 0 7 0 5 1-156 1 33 0 3 0-14 1 16 0 114 0-153 1 17 0 11 0 115 0 1 0-113 1 10 0-43 1 152 1-162 1 53 0 105 0-154 1 33 0 11 0 10 0-24 1 2 1-46 1 7 0 55 1 3 1-61 2 46 1 4 2 17 1-3 1-7 1-3 1 10 0-4 1 2 0 18 6-9 2 6 1 5 2" fill="none" stroke="none" marker-start="url(#k17)" marker-mid="url(#k17)" marker-end="url(#k17)"/>
<path d="M1867 1810l-2 13 9 0-63 4 54 0-56 2 48 0-43 1 54 0 5 0-59 1 55 0-4 1-50 1 54 0-4 1 5 1-8 3 16 2-5 1 8 0-10 1 9 3-10 1 12 3-10 1 0 1 4 0 10 1 39 4-45 3 46 0-48 1 49 1-61 1 22 0-19 1 21 1 2 0 10 0-36 1 23 0-20 1 13 0 58 0-72 1 72 0-2 2-52 1 5 0-5 1 46 0-57 1 2 0-43 1 56 0-9 1 38 0-79 1 52 0 2 0-53 1 5 0 8 0 42 0 4 0 2 0 19 0-82 1 7 0 4 0 25 0 11 0 4 0 3 0 22 0-75 1 11 0 17 0 40 0-66 1 53 0-108 1 99 0 5 0-107 1 48 0 1 0 8 0 7 0 6 0 67 0-100 1 21 0 3 0 52 0 8 0 10 0 4 0-91 1 12 0 24 0 6 0 31 0 10 0 48 0-171 1 43 0 44 1 11 0 6 0 1 0 6 0 7 0 1 0 7 0 15 0 12 0-93 1 2 0 2 0 28 0 5 0 2 0 11 0 10 0-126 1 74 0 7 0 11 0 3 0 37 0 13 0 2 0-147 1 71 0 28 0 10 0 20 0-127 1 23 0 7 0 18 0 40 0 4 0 31 0 11 0 8 0 4 0-141 1 70 0 27 0 24 0 6 0 12 0 13 0-97 1 12 0 29 0 5 0 11 0 15 0-132 1 1 0 49 0 14 0 10 0 33 0 2 0 27 0-82 1 39 0 13 0 38 0 4 0 7 0-143 1 42 0 1 0 22 0 13 0 69 0-110 1 1 0 79 0 2 0-104 1 27 0 2 0 10 0 5 0 15 0 37 0 16 0 8 0-104 1 50 0 30 0 6 0 14 0-128 1 5 0 6 0 76 0 9 0 45 0 4 0-122 1 23 0 9 0 3 0 5 0 13 0 50 0-91 1 13 0 8 0 4 0 1 0 17 0 33 0 11 0 7 0 1 0 12 0-102 1 3 0 2 0 3 0 11 0 32 0 2 0 8 0 15 0 29 0 4 0-105 1 17 0 3 0 9 0 7 0 14 0 12 0 4 0 8 0 7 0 14 0-90 1 5 0 26 0 9 0 14 0 7 0 8 0 8 0 9 0 6 0 1 0 2 0 10 0-150 1 36 0 4 0 66 0 10 0 3 0 4 0 3 0 5 0 5 0-126 1 19 0 28 0 17 0 4 0 16 0 2 0 7 0 18 0 7 0 10 0-126 1 31 0 14 0 2 0 27 0 56 0-140 1 13 0 23 0 15 0 17 0 7 0 5 0 7 0 5 0 4 0 5 0 3 0 2 0 8 0-116 1 14 0 5 0 6 0 7 0 16 0 33 0 17 0 4 0 2 0 1 0 5 0 1 0 6 0 1 0-101 1 14 0 53 0 2 0 23 0 13 0 3 0 2 0-131 1 3 0 25 0 27 0 21 0 30 0 2 0 6 0 7 0 6 0 1 0 1 0-103 1 19 0 4 0 6 0 24 0 8 0 5 0 1 0 23 0 14 0 1 0 12 0 3 0-139 1 5 0 39 0 36 0 16 0 1 0 25 0 1 0 11 0-135 1 25 0 10 0 31 0 1 0 25 0 2 0 11 0 16 0 3 0 1 0 12 0 13 0-142 1 18 0 5 0 1 0 33 0 16 0 1 0 7 0 3 0 13 0 10 0 2 0 14 0 4 0 12 0-113 1 10 0 24 0 28 0 7 0 8 0 5 0 2 0 10 0-93 1 6 0 63 0 11 0 1 0 2 0 2 0 29 0 2 0-143 1 31 0 35 0 7 0 3 0 21 0 5 0 2 0 8 0 1 0 9 0-58 1 32 0 9 0 23 0-101 1 8 0 33 0 3 0 7 0 8 0 4 0 10 0 3 0 2 0 1 0 17 0-83 1 12 0 14 0 6 0 3 0 5 0 14 0 5 0 21 0 9 0 7 0 7 0 1 0-118 1 14 0 11 0 16 0 10 0 5 0 9 0 13 0 8 0-108 1 22 0 13 0 28 0 18 0 9 0 4 0 2 0 4 0 6 0 11 0 3 0 11 0-139 1 28 0 11 0 2 0 15 0 12 0 10 0 21 0 1 0 24 0 1 0-107 1 2 0 13 0 5 0 33 0 16 0 11 0 4 0 8 0 3 0 2 0-89 1 44 0 25 0 3 0 19 0 18 0 3 0-100 1 5 0 14 0 10 0 21 0 7 0 9 0 2 0-43 1 9 0 5 0 13 0 6 0-92 1 13 0 16 0 4 0 17 0 4 0 12 0 12 0 7 0 3 0 3 0 2 0 29 0 10 0 5 0-95 1 19 0 20 0 29 0-104 1 9 0 6 0 28 0 14 0 10 0 3 0 31 0 17 0-102 1 3 0 32 0 3 0 5 0 5 0 5 0 23 0 2 0 5 0 23 0-132 1 7 0 9 0 19 0 96 0 12 0-118 1 31 0 34 0 2 0 2 0 4 0 19 0-118 1 27 0 14 0 14 0 13 0 4 0 16 0 2 0 39 0 21 0-90 1 1 0 18 0 27 0 8 0 13 0 3 0 8 0 3 0 5 0-118 1 19 0 22 0 35 0 16 0-114 1 13 0 9 0 16 0 26 0 13 0 1 0 25 0 23 0-44 1 23 0-89 1 7 0 10 0 5 0 13 0 8 0 2 0 1 0 14 0 52 0 4 0 8 0-176 1 61 0 6 0 19 0 10 0 7 0 32 0 12 0 1 0 6 0 10 0-132 1 75 0 63 0 2 0-128 1 7 0 21 0 1 0 5 0 7 0 15 0 15 0 7 0 5 0 3 0 32 0-123 1 1 0 4 0 3 0 46 0 6 0 25 0 5 0 3 0 37 0-118 1 19 0 20 0 22 0 19 0 6 0-61 1 51 0 3 0 11 0 15 0 13 0 8 0-142 1 14 0 11 0 5 0 14 0 9 0 5 0 9 0 10 0 6 0 14 0 10 0 8 0 7 0 20 0-176 1 13 0 27 0 6 0 6 0 11 0 11 0 10 0 30 0 8 0 8 0 6 0-145 1 39 0 30 0 18 0 13 0 30 0 12 0-122 1 29 0 2 0 56 0 15 0 4 0 35 0 11 0-80 1 3 0 6 0 27 0 11 0-138 1 43 0 9 0 3 0 34 0 10 0 42 0 3 0 28 0 1 0 5 0-135 1 6 0 44 0 22 0 42 0 10 0-155 1 15 0 20 0 5 0 3 0 4 0 14 0 15 0 8 0 25 0 7 0 1 0 43 0-119 1 33 0 1 0 2 0 1 0 35 0 22 0 1 0 5 0 8 0 16 0-108 1 5 0 1 0 7 0 11 0 36 0 6 0 20 0 2 0 20 0-91 1 15 0 6 0 2 0 39 0-138 1 29 0 8 0 9 0 36 0 24 0 26 0-150 1 77 0 27 0 9 0 43 0 28 0-114 1 24 0 33 0 9 0-37 1 82 0-119 1 64 0 43 0-94 1 28 0 40 0 7 1 21 0-155 1 18 0 39 0 24 0-113 1 77 0 4 0 19 0 47 0 27 0 1 0-90 1 21 0 64 0 5 0 5 0 7 0-105 1 62 0 34 0 4 0-74 1 42 0 22 0 22 0 2 0-86 1 30 0 8 0 5 0 1 0-120 1 62 0 1 0 12 0 31 0 3 0 11 0 1 0 7 0 15 0 18 0-46 1 3 0 13 0-94 1 38 0 1 0 61 0 13 0-37 1 21 0 8 0 1 0 19 0-146 1 6 0 90 0 40 0-143 1 109 0 29 0-15 1-23 1 23 0 16 0 16 0-5 1 8 0 1 0-48 1 4 0 3 1-171 1 155 0 13 0 4 0-12 1 14 0 9 0 15 0 1 0-43 1 13 0 19 0 8 0 22 0-44 1 11 0-4 1 5 0-6 1 7 0-7 1-130 2 126 0 15 0-16 1 19 0 21 0-35 1 16 0-16 1 24 0-23 1 1 0 25 1-133 1 110 1 11 1-124 1 113 0 9 0 12 0-127 2 113 1-99 3 4 5-61 9 70 5" fill="none" stroke="none" marker-start="url(#k18)" marker-mid="url(#k18)" marker-end="url(#k18)"/>
<path d="M1869 1810l-1 16-55 2-5 2 63 4-54 1-1 1 49 3 7 7 10 0-21 9 15 1-4 1 1 1 6 0 46 0 1 0 0 1-42 1-15 1 23 3 2 0-13 1 60 0-63 1 2 0 7 0 10 0 19 0-42 1-3 1 15 1 10 0 42 0-25 1-10 1 16 0 12 1-60 1 1 0-36 2 35 0 42 0-78 1 3 0 12 0 6 0 50 0-63 1 4 0 40 0 4 0 14 0-121 1 43 0 1 0 1 0 15 0 4 0 60 0-78 1 4 0 3 0 1 0 6 0 14 0 25 0 23 0 18 0-154 1 62 0 3 0 18 0 2 0 28 0 8 0 6 0 3 0 13 0 1 0-82 1 21 0 4 0 38 0-112 1 50 0 3 0 7 0 4 0 26 0 26 0 13 0-132 1 2 0 71 0 42 0 2 0 8 0-125 1 46 0 9 0 9 0 3 0 3 0 7 0 6 0 38 0 5 0-95 1 34 0 5 0 1 0 8 0 52 0 2 0-74 1 20 0 6 0 21 0 39 0-146 1 54 0 10 0 11 0 8 0 17 0 15 0-92 1 48 0 6 0 19 0 35 0 7 0 4 0 8 0-123 1 17 0 8 0 14 0 18 0 36 0 5 0 13 0 14 0 3 0-93 1 13 0 6 0 4 0 6 0 37 0 2 0 4 0-96 1 12 0 11 0 1 0 5 0 18 0 8 0 6 0 7 0 7 0 4 0-93 1 5 0 4 0 13 0 17 0 9 0 13 0 13 0 14 0 11 0 21 0-98 1 2 0 12 0 9 0 9 0 8 0 30 0 8 0 5 0 15 0 10 0-95 1 17 0 11 0 50 0 3 0 7 0 12 0-140 1 65 0 18 0 8 0 5 0 4 0 7 0 6 0 8 0-115 1 8 0 26 0 4 0 8 0 9 0 3 0 21 0 34 0 8 0 18 0-130 1 24 0 13 0 19 0 14 0 15 0 6 0 3 0 29 0-117 1 16 0 4 0 18 0 1 0 5 0 15 0 13 0 8 0 2 0 18 0 10 0 4 0 2 0 4 0-113 1 4 0 6 0 4 0 18 0 24 0 21 0 2 0-97 1 20 0 4 0 1 0 2 0 12 0 4 0 13 0 36 0 1 0 4 0 2 0 3 0 17 0 3 0 17 0-140 1 2 0 16 0 17 0 5 0 7 0 14 0 13 0 4 0 15 0 14 0 3 0 2 0 3 0 2 0 8 0 9 0-138 1 3 0 13 0 11 0 4 0 2 0 8 0 7 0 5 0 38 0 1 0 11 0 6 0 2 0 26 0-96 1 15 0 1 0 3 0 7 0 8 0 20 0 18 0 11 0 10 0-104 1 8 0 2 0 5 0 2 0 4 0 22 0 13 0 25 0 5 0 1 0 17 0-126 1 3 0 7 0 8 0 11 0 6 0 11 0 4 0 2 0 4 0 21 0 20 0 2 0-96 1 8 0 12 0 6 0 2 0 17 0 4 0 2 0 24 0 2 0 8 0 6 0 4 0 3 0 18 0-90 1 18 0 20 0 20 0 44 0-135 1 39 0 6 0 4 0 1 0 4 0 6 0 3 0 6 0 12 0 6 0 2 0 14 0 2 0 13 0-91 1 43 0 1 0 2 0 1 0 5 0 35 0 4 0-126 1 2 0 36 0 10 0 4 0 1 0 1 0 2 0 30 0 1 0 7 0 1 0 4 0 6 0 1 0 43 0 4 0-138 1 25 0 15 0 3 0 21 0 23 0 13 0 6 0 11 0 3 0 3 0 3 0 11 0 2 0 2 0 2 0-146 1 15 0 14 0 2 0 60 0 2 0 3 0 2 0 2 0 2 0 6 0 3 0 3 0 1 0 6 0-126 1 10 0 21 0 1 0 7 0 26 0 7 0 3 0 20 0 4 0 4 0 6 0 1 0 1 0 3 0 6 0 17 0-97 1 7 0 19 0 20 0 17 0 3 0 10 0 1 0 7 0 9 0 15 0-143 1 3 0 1 0 15 0 17 0 39 0 1 0 12 0 8 0 6 0 5 0 17 0-126 1 19 0 13 0 6 0 32 0 15 0 1 0 2 0 3 0 1 0 16 0 2 0 7 0 2 0 15 0-136 1 9 0 27 0 11 0 12 0 6 0 19 0 3 0 2 0 10 0 9 0 3 0 15 0 14 0-135 1 37 0 7 0 15 0 5 0 9 0 2 0 14 0 11 0 3 0 6 0 2 0 23 0 5 0 1 0 2 0-118 1 12 0 39 0 6 0 3 0 4 0 11 0 8 0 2 0 11 0-112 1 19 0 5 0 3 0 10 0 4 0 17 0 20 0 6 0 4 0 8 0 40 0-143 1 10 0 10 0 1 0 6 0 14 0 1 0 10 0 13 0 15 0 41 0 5 0 3 0-122 1 20 0 6 0 1 0 21 0 3 0 1 0 10 0 11 0 1 0 5 0 16 0 1 0 6 0 2 0 3 0 12 0 15 0-141 1 2 0 2 0 16 0 1 0 4 0 7 0 3 0 2 0 5 0 23 0 15 0 6 0 7 0 4 0-73 1 6 0 1 0 14 0 2 0 19 0 4 0 3 0 24 0 1 0 1 0 39 0-136 1 1 0 8 0 13 0 5 0 1 0 1 0 7 0 5 0 1 0 14 0 3 0 2 0 3 0 15 0 17 0 7 0 4 0 31 0-107 1 12 0 5 0 37 0 6 0 1 0 32 0 2 0-133 1 34 0 11 0 6 0 15 0 5 0 28 0 13 0 18 0-118 1 8 0 45 0 7 0 12 0 11 0 3 0 10 0 30 0-135 1 16 0 5 0 7 0 1 0 4 0 19 0 16 0 25 0 1 0 26 0 28 0-145 1 1 0 3 0 27 0 21 0 7 0 12 0 11 0 3 0 2 0 2 0 31 0 20 0-142 1 2 0 2 0 5 0 11 0 8 0 2 0 36 0 1 0 18 0 1 0 7 0 17 0-104 1 64 0 7 0 13 0 1 0 20 0 30 0-135 1 2 0 43 0 5 0 26 0 16 0 17 0 3 0 20 0 3 0-135 1 28 0 44 0 13 0-107 1 43 0 9 0 24 0 20 0 16 0 3 0 20 0 6 0 5 0-152 1 19 0 6 0 3 0 2 0 10 0 1 0 2 0 4 0 32 0 11 0 20 0 40 0-88 1 1 0 1 0 9 0 2 0 3 0 17 0 10 0 5 0 1 0 23 0-78 1 28 0 12 0 10 0 20 0 39 0-119 1 8 0 19 0 2 0 45 0 28 0-117 1 4 0 5 0 30 0 38 0 5 0 19 0 36 0-139 1 22 0 3 0 9 0 22 0 3 0 3 0 3 0 60 0 6 0-131 1 16 0 9 0 56 0 6 0 4 0 17 0 15 0-131 1 47 0 3 0 5 0 1 0 1 0 10 0 14 0 18 0 4 0 21 0 8 0-136 1 52 0 16 0 21 0 12 0 2 0 13 0 13 0-125 1 3 0 8 0 1 0 2 0 3 0 12 0 2 0 18 0 10 0 6 0 41 0 1 0 6 0 3 0 7 0 16 0-123 1 38 0 33 0 3 0 14 0 5 0 8 0 2 0 20 0-70 1 2 0 28 0 30 0-131 1 4 0 2 0 8 0 8 0 2 0 21 0 16 0 31 0 6 0 4 0-102 1 3 0 4 0 2 0 1 0 1 0 4 0 7 0 2 0 34 0 6 0 1 0 58 0 1 0 8 0 8 0-100 1 4 0 5 0 5 0 29 0 9 0 14 0 9 0 19 0-106 1 5 0 10 0 27 0 29 0 23 0 4 0-119 1 10 0 4 0 48 0 15 0 5 0 50 0-118 1 32 0 27 0 9 0-77 1 29 0 11 0 47 0 5 0 12 0 8 0 1 0-88 1 57 0-89 1 15 0 20 0 16 0 1 0 9 0 12 0 2 0 7 0 2 0 5 0-76 1 8 0 16 0 2 0 13 0 29 0 32 0-104 1 1 0 8 0 2 0 1 0 27 0 9 0 19 0 34 0 5 0 2 0-72 1 15 0 4 0 45 0-63 1 21 0 2 0 40 0-94 1 4 0 12 0 15 0 6 0 13 0 2 0 24 0 13 0 8 0-95 1 8 0 27 0 67 0-108 1 18 0 79 0 1 0 31 0-52 1 11 0 15 0-103 1 2 0 5 0 20 0 1 0 1 0 33 0 36 0 10 0-111 1 14 0 90 0 8 0-121 1 26 0 6 0 10 0 4 0 62 0 4 0 4 0 10 0 5 0-132 1 4 0 15 0 2 0 1 0 9 0 7 0 9 0 23 0 11 0 41 0 4 0-112 1 14 0 15 0 2 0 8 0 25 0 1 0 6 0 4 0 5 0 9 0 16 0 2 0-123 1 22 0 9 0 54 0 20 0 10 0 1 0 12 0-125 1 2 0 6 0 16 0 19 0 28 0 5 0 3 0 2 0 18 0 15 0-86 1 20 0 23 0 3 0 5 0 11 0 1 0 21 0-145 1 106 0 5 0 8 0 2 0 1 0 3 0 1 0 21 0 4 0 3 0-121 1 11 0 66 0 6 0 20 0-146 1 132 0 10 0 38 0-44 1 8 0 10 0 2 0 4 0-26 1 2 0 3 0 7 0 3 0 14 0-37 1 6 0 16 0 8 0 9 0 7 0-56 1 4 0 4 0 22 0 1 0 3 0 9 0 7 0 8 0-53 1 10 0 9 0 11 0 32 0-49 1 3 0 2 0 12 0 22 0 1 0-32 1 24 0 13 0-51 1 1 0 4 0 18 0 13 0 5 0 4 0 1 0-29 1-17 1 41 0-20 1 6 0 2 0 4 0 4 0 12 0 6 0-35 1 33 0 0 1-12 1 9 0-25 1 2 0 24 0-19 1 13 1-25 1 7 0 11 0-5 1 13 0 3 0-30 1 1 0 2 0 30 0-35 1 10 0 8 2-13 2 18 0-130 9" fill="none" stroke="none" marker-start="url(#k19)" marker-mid="url(#k19)" marker-end="url(#k19)"/>
<text transform="translate(546,2129) rotate(-90)" font-size="18.8">Mean</text><text transform="translate(566.5,2129) rotate(-90)" font-size="18.8">expression</text>
<rect x="610" y="2046" width="322.0" height="70.8" fill="none" stroke="#e2e2e2" stroke-width="1.6"/>
<text x="606" y="2053.4" font-size="16" text-anchor="end" fill="#222">1.2</text>
<text x="606" y="2123.8" font-size="16" text-anchor="end" fill="#222">0</text>
<path d="M631.0 2054.9C631.1 2057.4 631.2 2065.8 631.9 2070.0C632.6 2074.2 634.0 2077.0 635.4 2080.0C636.8 2083.0 639.9 2085.7 640.4 2088.0C640.9 2090.3 638.4 2092.0 638.4 2094.0C638.4 2096.0 640.9 2098.0 640.4 2100.0C639.9 2102.0 636.8 2103.8 635.4 2106.0C634.0 2108.2 632.5 2111.8 631.9 2113.0L628.9 2113.0C628.3 2111.8 626.8 2108.2 625.4 2106.0C624.0 2103.8 620.9 2102.0 620.4 2100.0C619.9 2098.0 622.4 2096.0 622.4 2094.0C622.4 2092.0 619.9 2090.3 620.4 2088.0C620.9 2085.7 624.0 2083.0 625.4 2080.0C626.8 2077.0 628.2 2074.2 628.9 2070.0C629.6 2065.8 629.6 2057.4 629.8 2054.9Z" fill="#8eaec8" stroke="#2a2a2a" stroke-width="1.1" stroke-linejoin="round"/>
<path d="M665.9 2049.0C666.1 2050.2 666.2 2053.5 667.3 2056.0C668.4 2058.5 670.3 2061.0 672.3 2064.0C674.3 2067.0 679.5 2070.8 679.3 2073.8C679.1 2076.8 673.3 2079.0 671.3 2082.0C669.3 2085.0 668.2 2086.8 667.3 2092.0C666.4 2097.2 666.1 2109.5 665.9 2113.0L664.7 2113.0C664.5 2109.5 664.2 2097.2 663.3 2092.0C662.4 2086.8 661.3 2085.0 659.3 2082.0C657.3 2079.0 651.5 2076.8 651.3 2073.8C651.1 2070.8 656.3 2067.0 658.3 2064.0C660.3 2061.0 662.2 2058.5 663.3 2056.0C664.4 2053.5 664.5 2050.2 664.7 2049.0Z" fill="#a8c8e0" stroke="#2a2a2a" stroke-width="1.1" stroke-linejoin="round"/>
<path d="M700.7 2060.7C701.1 2061.9 701.9 2065.3 703.1 2068.0C704.3 2070.7 706.8 2074.1 708.1 2077.0C709.4 2079.9 711.3 2082.4 711.1 2085.4C710.9 2088.4 708.5 2091.7 707.1 2095.0C705.7 2098.3 703.7 2102.0 702.6 2105.0C701.5 2108.0 701.0 2111.7 700.7 2113.0L699.5 2113.0C699.2 2111.7 698.7 2108.0 697.6 2105.0C696.5 2102.0 694.5 2098.3 693.1 2095.0C691.7 2091.7 689.3 2088.4 689.1 2085.4C688.9 2082.4 690.8 2079.9 692.1 2077.0C693.4 2074.1 695.9 2070.7 697.1 2068.0C698.3 2065.3 699.1 2061.9 699.5 2060.7Z" fill="#5a88a8" stroke="#2a2a2a" stroke-width="1.1" stroke-linejoin="round"/>
<path d="M736.2 2056.0C736.6 2057.0 737.4 2059.7 738.6 2062.0C739.8 2064.3 742.4 2067.6 743.6 2070.0C744.8 2072.4 746.1 2074.0 745.6 2076.7C745.1 2079.4 742.0 2082.1 740.6 2086.0C739.2 2089.9 737.8 2095.5 737.1 2100.0C736.4 2104.5 736.4 2110.8 736.2 2113.0L735.0 2113.0C734.9 2110.8 734.8 2104.5 734.1 2100.0C733.4 2095.5 732.0 2089.9 730.6 2086.0C729.2 2082.1 726.1 2079.4 725.6 2076.7C725.1 2074.0 726.4 2072.4 727.6 2070.0C728.8 2067.6 731.4 2064.3 732.6 2062.0C733.8 2059.7 734.6 2057.0 735.0 2056.0Z" fill="#b8e0f8" stroke="#2a2a2a" stroke-width="1.1" stroke-linejoin="round"/>
<path d="M771.0 2063.6C771.6 2065.0 773.2 2068.9 774.4 2072.0C775.6 2075.1 776.9 2079.3 778.4 2082.0C779.9 2084.7 783.6 2086.0 783.4 2088.3C783.2 2090.6 779.2 2093.7 777.4 2096.0C775.6 2098.3 773.5 2099.5 772.4 2102.0C771.3 2104.5 771.2 2109.5 771.0 2111.0L769.8 2111.0C769.6 2109.5 769.5 2104.5 768.4 2102.0C767.3 2099.5 765.2 2098.3 763.4 2096.0C761.6 2093.7 757.6 2090.6 757.4 2088.3C757.2 2086.0 760.9 2084.7 762.4 2082.0C763.9 2079.3 765.2 2075.1 766.4 2072.0C767.6 2068.9 769.2 2065.0 769.8 2063.6Z" fill="#2a6a98" stroke="#2a2a2a" stroke-width="1.1" stroke-linejoin="round"/>
<path d="M806.8 2076.7C807.2 2078.1 808.0 2082.3 809.2 2085.0C810.4 2087.7 812.2 2090.5 814.2 2093.0C816.2 2095.5 820.9 2098.0 821.2 2100.0C821.5 2102.0 818.0 2103.2 816.2 2105.0C814.4 2106.8 811.7 2109.5 810.2 2111.0C808.7 2112.5 807.7 2113.5 807.2 2114.0L805.2 2114.0C804.7 2113.5 803.7 2112.5 802.2 2111.0C800.7 2109.5 798.0 2106.8 796.2 2105.0C794.4 2103.2 790.9 2102.0 791.2 2100.0C791.5 2098.0 796.2 2095.5 798.2 2093.0C800.2 2090.5 802.0 2087.7 803.2 2085.0C804.4 2082.3 805.2 2078.1 805.6 2076.7Z" fill="#606060" stroke="#2a2a2a" stroke-width="1.1" stroke-linejoin="round"/>
<path d="M841.6 2072.3C842.2 2074.4 843.9 2081.2 845.0 2085.0C846.1 2088.8 846.7 2092.3 848.0 2095.0C849.3 2097.7 852.8 2099.0 853.0 2101.0C853.2 2103.0 850.7 2105.0 849.0 2107.0C847.3 2109.0 844.0 2112.0 843.0 2113.0L839.0 2113.0C838.0 2112.0 834.7 2109.0 833.0 2107.0C831.3 2105.0 828.8 2103.0 829.0 2101.0C829.2 2099.0 832.7 2097.7 834.0 2095.0C835.3 2092.3 835.9 2088.8 837.0 2085.0C838.1 2081.2 839.8 2074.4 840.4 2072.3Z" fill="#a898b0" stroke="#2a2a2a" stroke-width="1.1" stroke-linejoin="round"/>
<path d="M878.9 2066.5C879.2 2067.9 880.1 2071.4 880.9 2075.0C881.7 2078.6 883.1 2084.1 883.9 2088.0C884.7 2091.9 886.2 2095.7 885.5 2098.5C884.8 2101.3 881.4 2102.6 879.9 2105.0C878.4 2107.4 877.2 2111.7 876.7 2113.0L875.1 2113.0C874.6 2111.7 873.4 2107.4 871.9 2105.0C870.4 2102.6 867.0 2101.3 866.3 2098.5C865.6 2095.7 867.1 2091.9 867.9 2088.0C868.7 2084.1 870.1 2078.6 870.9 2075.0C871.7 2071.4 872.6 2067.9 872.9 2066.5Z" fill="#807888" stroke="#2a2a2a" stroke-width="1.1" stroke-linejoin="round"/>
<path d="M920.2 2092.6C920.9 2093.2 923.4 2094.3 924.2 2096.0C925.0 2097.7 925.5 2100.8 925.2 2102.8C924.9 2104.8 923.4 2106.6 922.2 2108.0C921.0 2109.4 918.9 2110.9 918.2 2111.5L906.2 2111.5C905.5 2110.9 903.4 2109.4 902.2 2108.0C901.0 2106.6 899.5 2104.8 899.2 2102.8C898.9 2100.8 899.4 2097.7 900.2 2096.0C901.0 2094.3 903.5 2093.2 904.2 2092.6Z" fill="#5a2060" stroke="#2a2a2a" stroke-width="1.1" stroke-linejoin="round"/>
<text transform="translate(635.5,2124.6) rotate(-90)" font-size="18" text-anchor="end">0</text>
<text transform="translate(670.3,2124.6) rotate(-90)" font-size="18" text-anchor="end">1</text>
<text transform="translate(705.2,2124.6) rotate(-90)" font-size="18" text-anchor="end">2</text>
<text transform="translate(740.0,2124.6) rotate(-90)" font-size="18" text-anchor="end">3</text>
<text transform="translate(774.9,2124.6) rotate(-90)" font-size="18" text-anchor="end">5</text>
<text transform="translate(811.2,2124.6) rotate(-90)" font-size="18" text-anchor="end">Macrophages</text>
<text transform="translate(846.8,2124.6) rotate(-90)" font-size="18" text-anchor="end">Microglia</text>
<text transform="translate(872.3,2124.6) rotate(-90)" font-size="18" text-anchor="end">Pericytes &amp;</text>
<text transform="translate(891.1,2124.6) rotate(-90)" font-size="18" text-anchor="end">Endothelial</text>
<text transform="translate(907.1,2124.6) rotate(-90)" font-size="18" text-anchor="end">T−cells and</text>
<text transform="translate(927.3,2124.6) rotate(-90)" font-size="18" text-anchor="end">NK−cells</text>
<rect x="987.6" y="2044.7" width="316.7" height="72.1" fill="none" stroke="#e2e2e2" stroke-width="1.6"/>
<text x="980.5" y="2053.4" font-size="16" text-anchor="end" fill="#222">0.8</text>
<text x="980.5" y="2123.8" font-size="16" text-anchor="end" fill="#222">0</text>
<path d="M1010.0 2104.0C1010.2 2105.0 1009.8 2108.5 1011.4 2110.0C1013.0 2111.5 1018.9 2112.2 1019.4 2113.0C1019.9 2113.8 1015.2 2114.7 1014.4 2115.0L1004.4 2115.0C1003.6 2114.7 998.9 2113.8 999.4 2113.0C999.9 2112.2 1005.8 2111.5 1007.4 2110.0C1009.0 2108.5 1008.6 2105.0 1008.8 2104.0Z" fill="#8eaec8" stroke="#2a2a2a" stroke-width="1.1" stroke-linejoin="round"/>
<path d="M1044.9 2101.0C1045.1 2102.5 1044.4 2108.2 1046.3 2110.0C1048.2 2111.8 1055.8 2111.3 1056.3 2112.0C1056.8 2112.7 1050.5 2113.7 1049.3 2114.0L1039.3 2114.0C1038.1 2113.7 1031.8 2112.7 1032.3 2112.0C1032.8 2111.3 1040.4 2111.8 1042.3 2110.0C1044.2 2108.2 1043.5 2102.5 1043.7 2101.0Z" fill="#a8c8e0" stroke="#2a2a2a" stroke-width="1.1" stroke-linejoin="round"/>
<path d="M1078.3 2099.0C1078.5 2100.8 1078.0 2107.8 1079.7 2110.0C1081.4 2112.2 1088.2 2111.2 1088.7 2112.0C1089.2 2112.8 1083.7 2114.1 1082.7 2114.5L1072.7 2114.5C1071.7 2114.1 1066.2 2112.8 1066.7 2112.0C1067.2 2111.2 1074.0 2112.2 1075.7 2110.0C1077.4 2107.8 1076.9 2100.8 1077.1 2099.0Z" fill="#5a88a8" stroke="#2a2a2a" stroke-width="1.1" stroke-linejoin="round"/>
<path d="M1112.3 2100.0C1112.5 2101.7 1111.8 2107.8 1113.7 2110.0C1115.6 2112.2 1123.4 2112.2 1123.7 2113.0C1124.0 2113.8 1117.0 2114.7 1115.7 2115.0L1107.7 2115.0C1106.4 2114.7 1099.4 2113.8 1099.7 2113.0C1100.0 2112.2 1107.8 2112.2 1109.7 2110.0C1111.6 2107.8 1110.9 2101.7 1111.1 2100.0Z" fill="#b8e0f8" stroke="#2a2a2a" stroke-width="1.1" stroke-linejoin="round"/>
<path d="M1148.5 2108.0C1150.2 2108.7 1158.3 2110.9 1158.5 2112.0C1158.7 2113.1 1151.0 2114.1 1149.5 2114.5L1143.5 2114.5C1142.0 2114.1 1134.3 2113.1 1134.5 2112.0C1134.7 2110.9 1142.8 2108.7 1144.5 2108.0Z" fill="#2a6a98" stroke="#2a2a2a" stroke-width="1.1" stroke-linejoin="round"/>
<path d="M1181.4 2077.0C1181.6 2078.3 1182.3 2082.3 1182.8 2085.0C1183.3 2087.7 1184.3 2090.5 1184.3 2093.0C1184.3 2095.5 1183.2 2098.3 1182.8 2100.0C1182.4 2101.7 1182.0 2102.5 1181.8 2103.0L1179.8 2103.0C1179.6 2102.5 1179.2 2101.7 1178.8 2100.0C1178.4 2098.3 1177.3 2095.5 1177.3 2093.0C1177.3 2090.5 1178.3 2087.7 1178.8 2085.0C1179.3 2082.3 1180.0 2078.3 1180.2 2077.0Z" fill="#606060" stroke="#2a2a2a" stroke-width="1.1" stroke-linejoin="round"/>
<path d="M1215.7 2051.0C1215.8 2055.8 1215.9 2073.5 1216.1 2080.0C1216.3 2086.5 1216.8 2087.0 1217.1 2090.0C1217.4 2093.0 1218.1 2095.0 1218.1 2098.0C1218.1 2101.0 1217.5 2105.8 1217.1 2108.0C1216.7 2110.2 1216.1 2110.5 1215.9 2111.0L1214.3 2111.0C1214.1 2110.5 1213.5 2110.2 1213.1 2108.0C1212.7 2105.8 1212.1 2101.0 1212.1 2098.0C1212.1 2095.0 1212.8 2093.0 1213.1 2090.0C1213.4 2087.0 1213.9 2086.5 1214.1 2080.0C1214.3 2073.5 1214.4 2055.8 1214.5 2051.0Z" fill="#a898b0" stroke="#2a2a2a" stroke-width="1.1" stroke-linejoin="round"/>
<path d="M1248.8 2094.0C1248.9 2095.3 1248.8 2099.8 1249.2 2102.0C1249.6 2104.2 1250.5 2105.7 1251.2 2107.0C1251.9 2108.3 1253.2 2109.0 1253.2 2110.0C1253.2 2111.0 1251.5 2112.5 1251.2 2113.0L1245.2 2113.0C1244.9 2112.5 1243.2 2111.0 1243.2 2110.0C1243.2 2109.0 1244.5 2108.3 1245.2 2107.0C1245.9 2105.7 1246.8 2104.2 1247.2 2102.0C1247.6 2099.8 1247.5 2095.3 1247.6 2094.0Z" fill="#807888" stroke="#2a2a2a" stroke-width="1.1" stroke-linejoin="round"/>
<path d="M1286.1 2092.0C1286.3 2092.7 1287.1 2094.3 1287.1 2096.0C1287.1 2097.7 1286.5 2100.2 1286.1 2102.0C1285.7 2103.8 1285.0 2105.7 1284.6 2107.0C1284.2 2108.3 1283.8 2109.5 1283.7 2110.0L1282.5 2110.0C1282.3 2109.5 1282.0 2108.3 1281.6 2107.0C1281.2 2105.7 1280.5 2103.8 1280.1 2102.0C1279.7 2100.2 1279.1 2097.7 1279.1 2096.0C1279.1 2094.3 1279.9 2092.7 1280.1 2092.0Z" fill="#5a2060" stroke="#2a2a2a" stroke-width="1.1" stroke-linejoin="round"/>
<text transform="translate(1015.9,2124.6) rotate(-90)" font-size="18" text-anchor="end">0</text>
<text transform="translate(1050.7,2124.6) rotate(-90)" font-size="18" text-anchor="end">1</text>
<text transform="translate(1085.5,2124.6) rotate(-90)" font-size="18" text-anchor="end">2</text>
<text transform="translate(1119.9,2124.6) rotate(-90)" font-size="18" text-anchor="end">3</text>
<text transform="translate(1154.7,2124.6) rotate(-90)" font-size="18" text-anchor="end">5</text>
<text transform="translate(1190.2,2124.6) rotate(-90)" font-size="18" text-anchor="end">Macrophages</text>
<text transform="translate(1225.1,2124.6) rotate(-90)" font-size="18" text-anchor="end">Microglia</text>
<text transform="translate(1251.8,2124.6) rotate(-90)" font-size="18" text-anchor="end">Pericytes &amp;</text>
<text transform="translate(1271.5,2124.6) rotate(-90)" font-size="18" text-anchor="end">Endothelial</text>
<text transform="translate(1287.5,2124.6) rotate(-90)" font-size="18" text-anchor="end">T−cells and</text>
<text transform="translate(1306.4,2124.6) rotate(-90)" font-size="18" text-anchor="end">NK−cells</text>
<rect x="1358.5" y="2044.9" width="305.4" height="70.4" fill="none" stroke="#e2e2e2" stroke-width="1.6"/>
<text x="1353" y="2053.4" font-size="16" text-anchor="end" fill="#222">1.5</text>
<text x="1353" y="2123.8" font-size="16" text-anchor="end" fill="#222">0</text>
<path d="M1380.0 2097.0C1380.4 2098.3 1382.3 2103.2 1382.4 2105.0C1382.5 2106.8 1378.6 2106.8 1380.4 2108.0C1382.2 2109.2 1393.4 2111.0 1393.4 2112.0C1393.4 2113.0 1382.6 2113.7 1380.4 2114.0L1378.4 2114.0C1376.2 2113.7 1365.4 2113.0 1365.4 2112.0C1365.4 2111.0 1376.6 2109.2 1378.4 2108.0C1380.2 2106.8 1376.3 2106.8 1376.4 2105.0C1376.5 2103.2 1378.4 2098.3 1378.8 2097.0Z" fill="#8eaec8" stroke="#2a2a2a" stroke-width="1.1" stroke-linejoin="round"/>
<path d="M1412.3 2098.0C1413.2 2099.3 1417.0 2104.0 1417.7 2106.0C1418.4 2108.0 1417.2 2108.8 1416.7 2110.0C1416.2 2111.2 1415.0 2112.5 1414.7 2113.0L1408.7 2113.0C1408.4 2112.5 1407.2 2111.2 1406.7 2110.0C1406.2 2108.8 1405.0 2108.0 1405.7 2106.0C1406.4 2104.0 1410.2 2099.3 1411.1 2098.0Z" fill="#a8c8e0" stroke="#2a2a2a" stroke-width="1.1" stroke-linejoin="round"/>
<path d="M1444.6 2094.0C1445.0 2095.3 1446.1 2100.0 1447.0 2102.0C1447.9 2104.0 1449.7 2104.7 1450.0 2106.0C1450.3 2107.3 1449.3 2108.8 1449.0 2110.0C1448.7 2111.2 1448.2 2112.5 1448.0 2113.0L1440.0 2113.0C1439.8 2112.5 1439.3 2111.2 1439.0 2110.0C1438.7 2108.8 1437.7 2107.3 1438.0 2106.0C1438.3 2104.7 1440.1 2104.0 1441.0 2102.0C1441.9 2100.0 1443.0 2095.3 1443.4 2094.0Z" fill="#5a88a8" stroke="#2a2a2a" stroke-width="1.1" stroke-linejoin="round"/>
<path d="M1478.1 2098.0C1478.5 2099.2 1479.6 2103.2 1480.5 2105.0C1481.4 2106.8 1483.3 2107.7 1483.5 2109.0C1483.7 2110.3 1481.8 2112.3 1481.5 2113.0L1473.5 2113.0C1473.2 2112.3 1471.3 2110.3 1471.5 2109.0C1471.7 2107.7 1473.6 2106.8 1474.5 2105.0C1475.4 2103.2 1476.5 2099.2 1476.9 2098.0Z" fill="#b8e0f8" stroke="#2a2a2a" stroke-width="1.1" stroke-linejoin="round"/>
<path d="M1511.6 2096.0C1512.2 2097.3 1514.1 2102.0 1515.0 2104.0C1515.9 2106.0 1516.8 2106.5 1517.0 2108.0C1517.2 2109.5 1516.2 2112.2 1516.0 2113.0L1506.0 2113.0C1505.8 2112.2 1504.8 2109.5 1505.0 2108.0C1505.2 2106.5 1506.1 2106.0 1507.0 2104.0C1507.9 2102.0 1509.8 2097.3 1510.4 2096.0Z" fill="#2a6a98" stroke="#2a2a2a" stroke-width="1.1" stroke-linejoin="round"/>
<path d="M1545.1 2092.0C1545.3 2094.0 1545.9 2101.0 1546.5 2104.0C1547.1 2107.0 1548.2 2108.5 1548.5 2110.0C1548.8 2111.5 1548.5 2112.5 1548.5 2113.0L1540.5 2113.0C1540.5 2112.5 1540.2 2111.5 1540.5 2110.0C1540.8 2108.5 1541.9 2107.0 1542.5 2104.0C1543.1 2101.0 1543.7 2094.0 1543.9 2092.0Z" fill="#606060" stroke="#2a2a2a" stroke-width="1.1" stroke-linejoin="round"/>
<path d="M1578.6 2099.0C1579.0 2100.2 1580.8 2104.2 1581.0 2106.0C1581.2 2107.8 1578.8 2108.8 1580.0 2110.0C1581.2 2111.2 1586.7 2112.5 1588.0 2113.0L1568.0 2113.0C1569.3 2112.5 1574.8 2111.2 1576.0 2110.0C1577.2 2108.8 1574.8 2107.8 1575.0 2106.0C1575.2 2104.2 1577.0 2100.2 1577.4 2099.0Z" fill="#a898b0" stroke="#2a2a2a" stroke-width="1.1" stroke-linejoin="round"/>
<path d="M1612.1 2101.0C1612.7 2102.0 1614.6 2105.5 1615.5 2107.0C1616.4 2108.5 1617.2 2109.0 1617.5 2110.0C1617.8 2111.0 1617.5 2112.5 1617.5 2113.0L1605.5 2113.0C1605.5 2112.5 1605.2 2111.0 1605.5 2110.0C1605.8 2109.0 1606.6 2108.5 1607.5 2107.0C1608.4 2105.5 1610.3 2102.0 1610.9 2101.0Z" fill="#807888" stroke="#2a2a2a" stroke-width="1.1" stroke-linejoin="round"/>
<path d="M1644.8 2052.0C1644.9 2056.7 1645.1 2072.0 1645.2 2080.0C1645.3 2088.0 1645.5 2095.2 1645.5 2100.0C1645.5 2104.8 1645.1 2107.5 1645.0 2109.0L1643.4 2109.0C1643.3 2107.5 1642.9 2104.8 1642.9 2100.0C1642.9 2095.2 1643.1 2088.0 1643.2 2080.0C1643.3 2072.0 1643.5 2056.7 1643.6 2052.0Z" fill="#5a2060" stroke="#2a2a2a" stroke-width="1.1" stroke-linejoin="round"/>
<text transform="translate(1379.5,2124.6) rotate(-90)" font-size="18" text-anchor="end">0</text>
<text transform="translate(1413.9,2124.6) rotate(-90)" font-size="18" text-anchor="end">1</text>
<text transform="translate(1449.5,2124.6) rotate(-90)" font-size="18" text-anchor="end">2</text>
<text transform="translate(1483.2,2124.6) rotate(-90)" font-size="18" text-anchor="end">3</text>
<text transform="translate(1518.8,2124.6) rotate(-90)" font-size="18" text-anchor="end">5</text>
<text transform="translate(1549.1,2124.6) rotate(-90)" font-size="18" text-anchor="end">Macrophages</text>
<text transform="translate(1584.9,2124.6) rotate(-90)" font-size="18" text-anchor="end">Microglia</text>
<text transform="translate(1610.9,2124.6) rotate(-90)" font-size="18" text-anchor="end">Pericytes &amp;</text>
<text transform="translate(1629.8,2124.6) rotate(-90)" font-size="18" text-anchor="end">Endothelial</text>
<text transform="translate(1647.8,2124.6) rotate(-90)" font-size="18" text-anchor="end">T−cells and</text>
<text transform="translate(1666.4,2124.6) rotate(-90)" font-size="18" text-anchor="end">NK−cells</text>
<rect x="1705" y="2044.9" width="316.0" height="70.4" fill="none" stroke="#e2e2e2" stroke-width="1.6"/>
<text x="1700" y="2053.4" font-size="16" text-anchor="end" fill="#222">6</text>
<text x="1700" y="2123.8" font-size="16" text-anchor="end" fill="#222">0</text>
<path d="M1737.8 2049.0C1738.4 2049.5 1739.3 2050.4 1741.2 2052.0C1743.1 2053.6 1748.7 2056.1 1748.9 2058.3C1749.1 2060.5 1744.0 2062.2 1742.2 2065.0C1740.4 2067.8 1738.9 2073.3 1738.2 2075.0L1736.2 2075.0C1735.5 2073.3 1734.0 2067.8 1732.2 2065.0C1730.4 2062.2 1725.3 2060.5 1725.5 2058.3C1725.7 2056.1 1731.3 2053.6 1733.2 2052.0C1735.1 2050.4 1736.0 2049.5 1736.6 2049.0Z" fill="#8eaec8" stroke="#2a2a2a" stroke-width="1.1" stroke-linejoin="round"/>
<path d="M1770.5 2048.0C1771.2 2048.5 1772.8 2049.6 1774.9 2051.0C1777.0 2052.4 1783.3 2054.6 1783.3 2056.6C1783.3 2058.6 1776.9 2060.8 1774.9 2063.0C1772.9 2065.2 1772.1 2065.2 1771.4 2070.0C1770.7 2074.8 1770.7 2088.2 1770.5 2091.8L1769.3 2091.8C1769.2 2088.2 1769.1 2074.8 1768.4 2070.0C1767.7 2065.2 1766.9 2065.2 1764.9 2063.0C1762.9 2060.8 1756.5 2058.6 1756.5 2056.6C1756.5 2054.6 1762.8 2052.4 1764.9 2051.0C1767.0 2049.6 1768.6 2048.5 1769.3 2048.0Z" fill="#a8c8e0" stroke="#2a2a2a" stroke-width="1.1" stroke-linejoin="round"/>
<path d="M1804.0 2057.4C1804.6 2058.7 1805.8 2062.2 1807.4 2065.0C1809.1 2067.8 1813.9 2071.4 1813.9 2074.2C1813.9 2077.0 1809.0 2079.4 1807.4 2082.0C1805.8 2084.6 1805.0 2084.7 1804.4 2090.0C1803.8 2095.3 1804.1 2110.0 1804.0 2114.0L1802.8 2114.0C1802.7 2110.0 1803.0 2095.3 1802.4 2090.0C1801.8 2084.7 1801.0 2084.6 1799.4 2082.0C1797.8 2079.4 1792.9 2077.0 1792.9 2074.2C1792.9 2071.4 1797.8 2067.8 1799.4 2065.0C1801.1 2062.2 1802.2 2058.7 1802.8 2057.4Z" fill="#5a88a8" stroke="#2a2a2a" stroke-width="1.1" stroke-linejoin="round"/>
<path d="M1837.5 2052.0C1838.2 2052.5 1839.6 2053.5 1841.9 2055.0C1844.2 2056.5 1851.6 2059.0 1851.6 2060.8C1851.6 2062.6 1844.1 2064.1 1841.9 2066.0C1839.7 2067.9 1839.1 2068.2 1838.4 2072.0C1837.7 2075.8 1837.7 2086.1 1837.5 2088.9L1836.3 2088.9C1836.2 2086.1 1836.1 2075.8 1835.4 2072.0C1834.7 2068.2 1834.1 2067.9 1831.9 2066.0C1829.7 2064.1 1822.2 2062.6 1822.2 2060.8C1822.2 2059.0 1829.6 2056.5 1831.9 2055.0C1834.2 2053.5 1835.6 2052.5 1836.3 2052.0Z" fill="#b8e0f8" stroke="#2a2a2a" stroke-width="1.1" stroke-linejoin="round"/>
<path d="M1871.0 2061.6C1871.7 2062.7 1873.8 2065.8 1875.4 2068.0C1877.1 2070.2 1880.9 2072.7 1880.9 2075.0C1880.9 2077.3 1877.0 2079.0 1875.4 2082.0C1873.8 2085.0 1871.9 2091.2 1871.2 2093.0L1869.6 2093.0C1868.9 2091.2 1867.0 2085.0 1865.4 2082.0C1863.8 2079.0 1859.9 2077.3 1859.9 2075.0C1859.9 2072.7 1863.8 2070.2 1865.4 2068.0C1867.1 2065.8 1869.1 2062.7 1869.8 2061.6Z" fill="#2a6a98" stroke="#2a2a2a" stroke-width="1.1" stroke-linejoin="round"/>
<path d="M1904.5 2056.6C1905.1 2057.8 1906.6 2061.2 1907.9 2064.0C1909.2 2066.8 1912.3 2070.2 1912.3 2073.4C1912.3 2076.6 1909.2 2079.4 1907.9 2083.0C1906.6 2086.6 1905.2 2093.0 1904.7 2095.0L1903.1 2095.0C1902.6 2093.0 1901.2 2086.6 1899.9 2083.0C1898.6 2079.4 1895.5 2076.6 1895.5 2073.4C1895.5 2070.2 1898.6 2066.8 1899.9 2064.0C1901.2 2061.2 1902.7 2057.8 1903.3 2056.6Z" fill="#606060" stroke="#2a2a2a" stroke-width="1.1" stroke-linejoin="round"/>
<path d="M1938.1 2055.4C1938.7 2056.2 1940.1 2058.1 1941.5 2060.0C1942.9 2061.9 1946.7 2064.5 1946.7 2067.0C1946.7 2069.5 1942.9 2070.3 1941.5 2075.0C1940.1 2079.7 1938.8 2091.7 1938.3 2095.0L1936.7 2095.0C1936.2 2091.7 1934.9 2079.7 1933.5 2075.0C1932.1 2070.3 1928.3 2069.5 1928.3 2067.0C1928.3 2064.5 1932.1 2061.9 1933.5 2060.0C1934.9 2058.1 1936.3 2056.2 1936.9 2055.4Z" fill="#a898b0" stroke="#2a2a2a" stroke-width="1.1" stroke-linejoin="round"/>
<path d="M1970.7 2052.0C1971.3 2052.5 1973.0 2053.4 1974.1 2055.0C1975.2 2056.6 1977.1 2059.1 1977.1 2061.6C1977.1 2064.1 1975.0 2066.9 1974.1 2070.0C1973.2 2073.1 1972.2 2076.2 1971.6 2080.0C1971.0 2083.8 1970.8 2090.8 1970.7 2093.0L1969.5 2093.0C1969.3 2090.8 1969.2 2083.8 1968.6 2080.0C1968.0 2076.2 1967.0 2073.1 1966.1 2070.0C1965.2 2066.9 1963.1 2064.1 1963.1 2061.6C1963.1 2059.1 1965.0 2056.6 1966.1 2055.0C1967.2 2053.4 1968.9 2052.5 1969.5 2052.0Z" fill="#807888" stroke="#2a2a2a" stroke-width="1.1" stroke-linejoin="round"/>
<path d="M2003.0 2058.7C2003.6 2060.2 2005.0 2064.7 2006.4 2068.0C2007.8 2071.3 2011.8 2075.1 2011.6 2078.4C2011.4 2081.7 2006.8 2082.1 2005.4 2088.0C2004.0 2093.9 2003.4 2109.7 2003.0 2114.0L2001.8 2114.0C2001.4 2109.7 2000.8 2093.9 1999.4 2088.0C1998.0 2082.1 1993.4 2081.7 1993.2 2078.4C1993.0 2075.1 1997.0 2071.3 1998.4 2068.0C1999.8 2064.7 2001.2 2060.2 2001.8 2058.7Z" fill="#5a2060" stroke="#2a2a2a" stroke-width="1.1" stroke-linejoin="round"/>
<text transform="translate(1730.3,2124.6) rotate(-90)" font-size="18" text-anchor="end">0</text>
<text transform="translate(1765.9,2124.6) rotate(-90)" font-size="18" text-anchor="end">1</text>
<text transform="translate(1801.5,2124.6) rotate(-90)" font-size="18" text-anchor="end">2</text>
<text transform="translate(1837.2,2124.6) rotate(-90)" font-size="18" text-anchor="end">3</text>
<text transform="translate(1872.8,2124.6) rotate(-90)" font-size="18" text-anchor="end">5</text>
<text transform="translate(1903.0,2124.6) rotate(-90)" font-size="18" text-anchor="end">Macrophages</text>
<text transform="translate(1937.8,2124.6) rotate(-90)" font-size="18" text-anchor="end">Microglia</text>
<text transform="translate(1962.8,2124.6) rotate(-90)" font-size="18" text-anchor="end">Pericytes &amp;</text>
<text transform="translate(1978.5,2124.6) rotate(-90)" font-size="18" text-anchor="end">Endothelial</text>
<text transform="translate(1998.3,2124.6) rotate(-90)" font-size="18" text-anchor="end">T−cells and</text>
<text transform="translate(2015.0,2124.6) rotate(-90)" font-size="18" text-anchor="end">NK−cells</text>
<text x="1.2" y="2302.6" font-size="47" font-weight="bold">f</text>
<text x="52.8" y="2297.8" font-size="26.5" font-weight="bold">ATRT4</text>
<path d="M35 2344l5 8-4 4 5 1-3 2-3 1 27 2-15 2-10 1 2 1 6 0 0 1 15 3-10 1-1 3-20 4 38 0-28 1 18 2 6 1 8 0-42 1 13 0 10 3 22 1-31 2 5 2 9 1 4 3-11 1 5 4-1 2 34 133" fill="none" stroke="none" marker-start="url(#k30)" marker-mid="url(#k30)" marker-end="url(#k30)"/>
<path d="M139 2333l62 28-8 2 3 4-10 1 5 1-8 2-5 1 30 1-23 4-7 3 2 4 36 1 6 7-66 4 0 2 66 0-95 1 91 1-88 1-49 3 10 0 62 1-6 1-69 4 18 2 46 0-10 1-60 1 38 0 113 0-84 1-70 1 14 0 15 1 6 0 116 0-102 1-33 3 31 0 7 0 20 1-12 1-27 3-31 4 112 1-99 1 1 1 96 0-81 2 35 2-69 3 37 2 45 0-49 1 18 0-42 2 37 0 17 1 34 2-9 2-39 1-54 3 29 7 59 0 10 0 65 0-131 2 50 0-90 2 65 0 9 0 9 0-9 2 35 1-108 1 36 0 11 0 28 0 85 0-149 2 29 0 9 0 32 0 101 0-172 1 5 0 59 0-66 1 67 0 24 1 23 0 26 0-139 1 80 1 42 0-87 1 143 0-174 1 178 0-191 1 112 0 40 1 11 1-1 1 9 0-153 1 5 0 10 0 14 0-42 1 15 0 21 0 47 0 36 0-100 1 107 1-74 1 43 0 60 0 11 0 21 0-4 1-184 1 72 0-39 1 67 0-97 2 1 0 64 0 59 0-55 2 93 0-166 1 18 0 140 0-154 1-4 2 77 0 10 0 16 0-94 1 28 0 40 0 80 0-100 2-54 1 63 0 33 0-97 1 30 0 31 0 64 0-122 1 59 0 32 0 30 0 73 0-165 3 102 0 63 1-94 1-82 2 5 0 45 0 9 0 12 0-22 1 33 0 38 0 54 0-173 1 33 0 7 1 105 1 9 0 13 1-44 2 49 0-143 1 60 1 29 0-82 1 32 0 16 0 1 0 2 0 72 1 7 0-59 1 47 2-133 8 1 6" fill="none" stroke="none" marker-start="url(#k31)" marker-mid="url(#k31)" marker-end="url(#k31)"/>
<path d="M263 2345l12 9-46 3 79 0 2 1 5 3-93 1 56 0 7 0-1 2 23 0-81 1 9 0-29 1 19 0 38 1 51 0-35 1 6 1 29 1-6 1-65 1 52 0-4 1-62 1 19 1 15 0 26 0-63 1 39 3-17 1 32 0-32 4-14 1 69 1-13 3-55 2 4 0 68 2-13 1-60 1 66 3-1 1" fill="none" stroke="none" marker-start="url(#k32)" marker-mid="url(#k32)" marker-end="url(#k32)"/>
<path d="M273 2473l15 6-33 3 35 2-10 2-13 1 5 1 27 1-35 1 47 0-54 1 21 0 11 1-24 1 56 0-24 3 29 0-29 1 7 0 29 0-26 1-41 1 60 2 10 0-55 2 9 0 3 0-32 2 17 0 25 0 35 0-15 2-28 1 30 3-33 6 16 1 15 1-5 3 0 5" fill="none" stroke="none" marker-start="url(#k33)" marker-mid="url(#k33)" marker-end="url(#k33)"/>
<path d="M285 2558l4 13-143 5 9 3 11 2-16 1 5 0 22 0-26 2 24 0-11 1-16 1 5 0 127 1-127 1 9 0-13 1 17 0 6 1 11 1-22 1 15 0-15 1-9 1 12 1 8 1-18 3 4 0 26 1-8 2 7 1 104 0-130 2 12 1 119 0-126 1 127 2-120 1 34 1 98 1-81 1 81 2-115 2 4 0-4 1 107 1-81 2-19 1 20 0-1 1 30 0 11 1 1 0 10 0-38 1 2 0 72 0-56 1 25 1-36 1 38 1 18 0-57 1-5 1 29 0 6 1-4 1 37 0-34 1-18 1 1 0 6 0 1 0-37 2 46 0 3 0-27 1 29 0 33 0-38 1 10 0-21 1 14 0 1 0-18 1 18 0 11 0 8 0 8 0-68 2 24 0 10 0-15 1 18 0-21 1 16 0 14 0-23 3 35 0-31 6 6 1-7 1 20 0" fill="none" stroke="none" marker-start="url(#k34)" marker-mid="url(#k34)" marker-end="url(#k34)"/>
<path d="M30 2354l-8 2 18 0 7 0 3 1-27 5 28 0-29 3 7 0 34 2-4 2-2 3-25 1 13 0 14 2-29 1 34 0-26 1 23 0 6 0-27 4 23 2-20 1 16 1-13 1 14 0-15 5-5 6 4 4 12 3 13 0-5 1 1 2" fill="none" stroke="none" marker-start="url(#k30)" marker-mid="url(#k30)" marker-end="url(#k30)"/>
<path d="M212 2354l-8 2 10 2-2 1-10 3-9 6-10 2 19 2-16 4-6 1-4 6-69 16 101 2 9 2-144 1 59 2-49 1 0 1 44 3 6 0 15 0 78 0-154 1 149 1-104 2 11 1-42 3 18 0 16 0 42 0 9 0 47 0 3 0-145 1 6 0 5 0 78 0-20 2-34 1 34 1-79 1 5 0 79 0 30 1 6 0-98 2 46 0 32 0-97 1 49 0-21 3 94 2-114 2 19 0 77 1-31 1-55 1 68 0 21 2-87 3 90 0-65 2 26 0-20 1 45 2-41 1-53 3 90 2-5 1 34 0 2 0-130 2 78 0 37 0-37 1-3 3 7 0-45 1 2 0 62 0 17 0-116 1 28 0 48 0 60 0-83 2 50 0-23 3 13 0 4 1-105 1 33 0 108 0-129 1 10 0 169 0-19 1-143 1 19 0 8 0 51 0-29 1 18 1 94 0-187 1 19 1 73 0-89 1 2 0 71 0 13 0-85 1 5 0 8 0 51 1 71 0-137 1 22 0-13 1-6 1 67 0 17 0 101 0-174 2 8 0 144 0-168 1 7 1 14 0 46 2 36 0 39 0 12 0-121 1 112 0 15 0-141 2 92 0-110 2 37 0 10 1 54 0 2 0-81 1 9 0 5 0 151 0-167 1 85 0-104 1 120 0-91 2 60 0-48 1 58 0 2 0 71 0-155 1 120 0 59 0-6 1-53 1 7 0-93 2 59 0 85 2-151 2 54 1-76 1 162 0-61 1 15 0 44 0 7 0-75 2 70 0-76 1-5 1 64 0 9 0-100 1 105 0-55 1 52 1 4 0-112 1 11 1-6 1 57 0-57 1 46 1 16 0-89 10" fill="none" stroke="none" marker-start="url(#k31)" marker-mid="url(#k31)" marker-end="url(#k31)"/>
<path d="M254 2356l-2 1 55 3-39 1 3 0-17 2 25 0 23 0-72 2 65 0-84 2 27 0-22 1 37 0 7 0 23 0 32 1-92 1-7 1 28 0 8 0-35 1 28 1 68 0-75 1 21 2 22 0 15 2-20 3 31 0-95 1 85 0-10 1 2 3-67 7 5 0-5 2 8 0 73 1 2 1-9 1 5 9-11 7" fill="none" stroke="none" marker-start="url(#k32)" marker-mid="url(#k32)" marker-end="url(#k32)"/>
<path d="M266 2469l5 6 9 2-30 3 32 1 8 0-20 5-12 2 38 0 8 1 2 0-51 2 40 0-20 3 57 1-45 1 43 0-57 4 25 0 24 0 6 0-65 1 54 2-26 1 30 0 4 0-13 2 28 1-52 2 10 0 7 4-37 4 6 3 7 2-4 2 28 0 2 5-24 4" fill="none" stroke="none" marker-start="url(#k33)" marker-mid="url(#k33)" marker-end="url(#k33)"/>
<path d="M288 2554l7 2 1 0-6 1-10 3-144 3 155 0 1 2-132 3-17 1 155 1-142 2 11 0 5 0 125 1-153 1 15 2 6 0 4 2-19 1 152 0-149 1 11 2 131 0-143 6 5 2 14 0 122 0-120 1 120 0-132 1 9 0-16 3 5 0 134 0 6 0-9 3-124 2 6 2 3 0 6 0 96 0-92 4 16 0 80 0-110 4 1 0 14 1-16 1 9 0 107 2-104 1 21 0-7 1 17 0 85 1-52 5-35 2 19 1-4 1 19 2 6 0 27 0-59 1-33 1 31 0 10 0 7 0 46 0-23 1 33 0-55 1 62 0-57 1-15 1 40 0-30 1 26 0-37 1 26 0-11 2-9 1 13 0 14 0 9 0-28 1-2 1 13 0 11 0-34 1 8 1 31 0-32 1 9 1 16 0 2 0 14 0-4 5-19 3 1 0" fill="none" stroke="none" marker-start="url(#k34)" marker-mid="url(#k34)" marker-end="url(#k34)"/>
<path d="M39 2342l-9 3-1 3 4 4-3 2 20 5-10 2 5 3 14 0 6 6-45 2 6 1 18 1 2 0-17 1 10 3 4 0 10 0 1 1-22 3 12 0 16 4-29 1 18 1 16 4-22 6 42 0-28 1 12 0-11 3-8 4 3 3 5 9" fill="none" stroke="none" marker-start="url(#k30)" marker-mid="url(#k30)" marker-end="url(#k30)"/>
<path d="M213 2359l3 0-17 10-6 1-10 3 9 0-14 1-1 4-66 17 103 1-67 1 31 0-68 1-16 2-1 2 6 1 52 0-34 3 1 3 7 0 2 0 96 0-106 1 35 0 15 2-95 2 49 0 15 1 22 1-17 1-45 1 36 1 44 0-70 1 11 0 10 0 91 0-148 2 15 0 136 0 2 0 1 0-147 1 22 1 8 0 11 0 20 0-22 1-22 1 87 1-114 1 25 0 22 0 31 0-51 1 1 0 20 0-29 1 54 1-33 2 14 6 46 0 25 1-112 1 17 1 44 0-56 1-25 1 113 0-23 1-46 1 63 1-10 2-70 1 89 0-54 1 21 0-37 2 15 0-60 1 99 0-96 4 3 0 142 0-114 2 9 0 20 0 48 3-54 1 30 0-5 2 20 0-110 3 92 0 13 2 13 0-74 1 12 0 116 0-162 1 67 0 52 0-56 1-47 1 3 3 64 0 90 1-151 1 123 0 4 1-91 1 96 0-153 1 147 0-110 1 36 0 16 0 70 0 21 1-188 1 66 0 18 0 11 0 87 0 8 0-92 1 67 1-56 1 23 0 53 0-181 1 36 0 35 0 57 0-97 2 105 0-138 1 72 0 12 0 2 0 48 1-118 1 61 0-78 1 15 0 95 1 1 0-91 1 91 2-101 1 147 0-67 2 7 0 21 0-86 1 115 0-47 1-26 1 120 1-42 2 3 0-71 2 45 0 62 2-110 1 79 0 32 0-151 1 25 1 26 0 4 0 2 1 70 0-80 1 99 0-2 1 2 0 11 0-113 1 100 1-115 1 39 0 48 0 37 3-63 1 60 2-54 1-12 2-81 2 35 0-31 3 3 1 6 2" fill="none" stroke="none" marker-start="url(#k31)" marker-mid="url(#k31)" marker-end="url(#k31)"/>
<path d="M255 2344l2 12 47 0-30 1 6 0-64 7 70 0 2 1 25 3 2 1-76 1 13 1-24 1 35 0 49 0-38 2-14 1-10 1 24 0 1 0 4 1-37 3 7 0 38 0-42 2 12 0 18 1-34 2 51 0-6 1 14 1 9 1-26 1 11 2-7 2-65 1 75 0-8 5 5 0 8 1-11 4 14 0-11 3" fill="none" stroke="none" marker-start="url(#k32)" marker-mid="url(#k32)" marker-end="url(#k32)"/>
<path d="M260 2477l4 7 37 2-33 2 7 1-18 1 4 0 1 0 16 2-4 1 16 1-17 1 13 0 9 1 32 1-70 2 44 0-20 1-23 1 41 1 40 0-18 4 10 2-48 2-5 1 39 1-23 2-25 5 62 0-58 1 0 1 24 0 14 0-34 5 10 4 17 1 7 1-10 1" fill="none" stroke="none" marker-start="url(#k33)" marker-mid="url(#k33)" marker-end="url(#k33)"/>
<path d="M283 2557l-6 2-124 3-5 4-8 3 154 1-4 2 0 3-137 1 146 0-153 1 18 0-18 1 12 1 5 0 7 2 7 0-20 1 9 0 3 3-11 1 124 0-109 1 3 2 115 0-137 1 9 2-12 1 21 0-9 2 3 0-5 1 14 1-3 1-4 1-8 2-6 3-2 2 3 0 8 0 4 0 36 0-23 4 33 3 5 1 84 1-91 1 9 1-32 1 114 0-104 1 12 0 81 1-97 1 1 0 45 3-35 1 82 0-101 3 12 0 68 0-28 1 2 0 20 0 1 1 19 0-47 1 13 0-50 1 73 0 7 0-42 1 14 0 4 1-14 1-2 1 15 0 7 0 3 0-12 1 7 0 12 0 1 0-49 1 12 0 26 0 23 0-53 1 28 1-26 1 20 0 4 0 13 0-37 1 13 0 18 1-22 1 4 0 16 1 5 1-20 1 6 1-16 8" fill="none" stroke="none" marker-start="url(#k34)" marker-mid="url(#k34)" marker-end="url(#k34)"/>
<text x="82.3" y="2344.2" font-size="18.5" font-weight="bold" text-anchor="middle">4</text>
<text x="305.6" y="2343" font-size="18.5" font-weight="bold" text-anchor="middle">2</text>
<rect x="183.3" y="2426.4" width="16.0" height="21.3" fill="#fff" fill-opacity="0.85" rx="2"/><text x="191.3" y="2443.7" font-size="18.5" font-weight="bold" text-anchor="middle">0</text>
<text x="328.8" y="2476.2" font-size="18.5" font-weight="bold" text-anchor="middle">3</text>
<text x="267.6" y="2590" font-size="18.5" font-weight="bold" text-anchor="middle">1</text>
<text x="30.3" y="2696" font-size="23.4">(1,002)</text>
<text x="418.6" y="2296" font-size="27">Group 1</text>
<path d="M436 2332l136 9 52 14-54 5-83 1-48 4 55 9 13 1-9 3-21 15 93 21-102 5 3 2 30 7 28 0-5 3 53 19-64 41 36 22" fill="none" stroke="none" marker-start="url(#k35)" marker-mid="url(#k35)" marker-end="url(#k35)"/>
<path d="M429 2327l133 10-126 1 16 1 110 1 27 0 24 1-160 1 179 1-178 1 84 0 7 0 83 1-202 1 119 0 37 0-132 2 154 0 4 0-173 2 162 1 16 0-155 1-20 1 144 0 22 0 16 0-6 2-53 7-86 2 40 3-72 1 10 0 1 1 43 1-6 2 22 0-27 2-17 4 14 0 9 3-17 1 62 1-29 3-31 1-1 2 39 4-35 1 2 2 45 0-17 3 13 7-32 3 3 0 29 3-67 1 20 0 93 0-84 1 2 1 16 0 32 0 18 0-41 1 29 0-90 2 1 1 115 2-106 1 44 0 81 0-70 1-28 1 81 0-27 1-69 1 24 0 45 0 9 0-52 1 10 1 36 1-86 1 5 1 63 0-71 1 106 0-34 1-65 1 57 0-66 1 59 0 46 3 33 0-9 5-72 2 20 1 20 0-50 1 28 0-20 1 33 2-57 8-2 1 22 16 20 22-2 1 10 4 27 8 27 10-1 5-4 4 21 2" fill="none" stroke="none" marker-start="url(#k36)" marker-mid="url(#k36)" marker-end="url(#k36)"/>
<path d="M435 2325l-3 1 163 1-172 8 166 0 19 0-47 1 42 0-170 1 2 0 8 0 117 0-116 1-20 1 187 0-183 1 12 0 1 0 9 0 95 0 65 0-176 1 121 0-115 1 138 0-32 1 61 0-63 1 6 0 82 0 1 0-99 1 61 0 35 0-91 1 42 0 37 0 13 0-203 1 11 0 1 0 137 0 26 0-17 1 7 0-165 1 7 0 16 0 4 0 81 0-91 1 89 1 47 0-133 1 4 1-7 2 5 0-7 1-5 1 1 2 9 0 6 0 164 0-1 1-174 2-7 1 3 0 47 0 80 0-47 1 95 0-165 2 11 1 5 0 7 0 6 0 147 1-158 1 45 0-66 1 52 0 69 1-69 1 68 1-64 1-35 1 63 2 33 0 1 1-68 1 72 0-81 1 14 0 9 0-26 1 22 0 5 0-29 1 8 0 46 0 4 0-37 1-28 1 36 0-42 2 1 1 69 0-76 2 42 1 4 0 18 1-38 4 26 0-26 1 12 0-31 2 55 0-34 1 5 0 37 0-75 1-7 2 68 0 26 1-89 1 78 0-52 1 14 0 12 0 7 1 54 0-39 1 6 1 14 0-44 1-61 2 79 0-51 1 38 0-63 1 6 0 67 0-58 1 14 0 61 0-40 1-34 1 119 0 1 1-127 1 9 0 46 0 2 0 62 0-48 1 21 1-96 1 5 0 23 0-1 1 56 0-75 1 6 0 40 0 77 0-19 1 20 0-5 1 2 0-106 1 88 0-112 1 101 0 16 1-109 1 17 0-29 1 18 0 18 0 43 0-64 1 9 0 40 0 72 0-133 1 25 0 28 0 21 0-45 2 14 0 29 0 9 0-36 1 21 0 1 0 69 0-38 1 8 3 33 0-124 1 4 0 13 0 25 0 9 0 23 0-15 1 14 1 47 0-58 2 40 0 9 1 13 0-63 2 54 0-38 1 3 1 0 3-66 3 3 2 6 2 126 12-4 1-94 2-4 3 107 3-89 1-21 2 7 1 5 0-10 1 13 0-8 2 2 1 6 0 1 0 93 0-102 3 4 0 88 0-95 2 3 0 9 0-3 2 10 0-17 1 1 1 9 0 6 1-2 1-9 1 1 1 8 1 7 0-19 2 35 0-14 1-4 4 88 1-82 2 80 0-81 1 18 0-11 2 66 2-44 1-20 1 57 0-27 2 5 0 30 0-23 1 29 1-32 1 6 0-20 2 18 1 1 0-16 1 9 0 30 0-44 1 21 1-13 1 2 1 14 0-10 1 23 0-9 1-12 3-13 1" fill="none" stroke="none" marker-start="url(#k37)" marker-mid="url(#k37)" marker-end="url(#k37)"/>
<path d="M428 2329l1 4 175 0-171 2 3 0 135 0 58 1-2 1-26 1 6 1 16 0-11 1-189 1 146 0 50 0-179 1 108 0 11 0-111 3-8 1 95 1 68 1-165 1 169 0-161 1 9 0 79 0 51 1-155 1 9 0 120 0 68 0-36 1 26 1-177 1 9 0 1 0-20 1 30 0 150 1-168 1 134 0-10 3 9 0 45 0-152 2 151 0-172 1 1 0 9 0 107 0 57 0 3 0-67 1-111 1 28 0 89 0-46 2-26 1 127 0-151 1 156 0-114 3 18 0-68 1 156 0-107 2-59 1 84 0 32 0-74 1 11 0 23 0 41 1-98 1 43 0-33 1 48 2-70 1 17 0 17 0-30 1 84 2-88 5 7 3 62 2-5 1-25 1-1 2 28 1-69 2 23 1-3 1-20 2 71 0-25 1 25 0-25 1-44 2 26 0 30 0 9 0 10 1 19 0-97 1 49 0-51 3 3 1 10 0 41 0 11 0 41 1-62 1 4 0 64 0 2 0 6 0-110 1 57 0 42 0-95 1 37 0 69 1-115 1 62 0 2 0-45 1-11 3-13 1 12 0 42 0 20 1-74 1 55 0 56 2 42 0-151 1 21 0 49 0 52 0-34 1 52 0-72 1 10 1 17 1-45 2 50 0-31 1 70 0-96 1 12 0 70 0 4 0 2 0-106 1 109 0-68 1-12 1 64 0 11 0-88 2 6 0 6 2 121 0-88 1 0 4-53 3 121 16 10 4-94 2 92 2-87 1 88 0-100 4 5 0 14 2-9 2 8 3-2 1-7 1 5 0 88 0-86 1-10 1 96 0-86 1-13 2 21 1 12 3-15 3 5 1-3 2 6 2 80 1-41 2-14 3 13 1 18 0-36 1 9 1 2 0 33 0-33 2 4 0 6 0 10 0-27 1 18 0 1 0 10 0-21 1 5 0 6 0-27 1 16 0 10 0 7 0 2 0 2 0 24 0-50 1 1 0 9 0 10 0 7 0 3 0 9 1-41 1 14 0 13 0-29 1 14 0 10 0 3 0-1 1-9 2 2 4" fill="none" stroke="none" marker-start="url(#k38)" marker-mid="url(#k38)" marker-end="url(#k38)"/>
<path d="M507 2319l118 15-37 1 11 3 34 0-198 4 105 1 22 0 50 0-33 1 9 1-166 1 149 1 48 2-34 5 30 3-49 3 61 0-60 1-32 2 87 0-122 2-43 2 159 0-153 5 39 0-43 1 17 0 2 3 4 0 17 0-6 1-31 1 30 6-8 3 49 5-62 3 37 1 49 8-79 3 2 0 25 0 5 0-63 2 58 4 73 0-62 3 47 4-50 1-62 1 26 0 114 4 29 4 21 3-47 3-127 5 24 0 59 1 49 2 3 2-97 4 108 3-3 18-100 8 108 1-99 2-7 4 8 2-5 1 14 1-13 2 14 2-6 3 2 3-6 4 4 1 4 0 84 5-64 1 5 0 5 0 23 5-23 1 14 0 24 0-42 1 16 0 12 0-41 2 33 0 20 0-46 2 22 0 30 0-9 3-26 1 13 0 22 0-10 2 3 0-9 1-10 1 1 0 3 0 19 0-18 1 11 0 2 0" fill="none" stroke="none" marker-start="url(#k39)" marker-mid="url(#k39)" marker-end="url(#k39)"/>
<path d="M551 2338l5 8 68 16-6 2-163 18 143 29-145 3 150 0-2 2 12 2 2 2-17 4-3 1 24 0-22 3-34 1 41 0 21 1 2 1-36 1 57 1-197 2 189 0-27 3 32 0-35 1-25 3 23 5 22 0-3 5-19 21-89 13 15 2-16 5 5 12 7 2 23 1-7 7 42 2-10 3 30 1-16 4 12 3" fill="none" stroke="none" marker-start="url(#k40)" marker-mid="url(#k40)" marker-end="url(#k40)"/>
<path d="M559 2333l-54 42 18 3-9 4 5 17-5 9 13 1-80 9 9 1 134 1-79 1 104 1-120 1 109 2 3 1-4 3-151 1 188 0-185 3 137 0 24 2-108 5 99 0-44 2 23 0 42 3-25 1 36 0-9 8-15 21-87 11 5 4 6 5 74 10 10 4-31 14-24 2" fill="none" stroke="none" marker-start="url(#k41)" marker-mid="url(#k41)" marker-end="url(#k41)"/>
<path d="M492 2371l53 21 65 28-6 8 11 1 30 0-26 1 22 0-126 3 107 1-81 1 96 2-155 18 26 25 17 4 81 18-47 14 11 5 19 7" fill="none" stroke="none" marker-start="url(#k42)" marker-mid="url(#k42)" marker-end="url(#k42)"/>
<path d="M491 2375l-2 9 134 39-174 1 150 0-3 1 30 0-36 1 29 0 11 0-24 1 8 0 6 3-22 2 22 0 2 0-14 2 9 0-2 1 22 0 12 1-31 6-18 3 44 1-41 1-17 1 49 0 0 3-10 2-3 2-7 66" fill="none" stroke="none" marker-start="url(#k43)" marker-mid="url(#k43)" marker-end="url(#k43)"/>
<path d="M608 2417l29 11 9 3-50 2 38 1 0 7" fill="none" stroke="none" marker-start="url(#k44)" marker-mid="url(#k44)" marker-end="url(#k44)"/>
<text x="721.6" y="2296" font-size="27" font-style="italic">VIM</text>
<path d="M739 2325l1 7 0 3-1 2 126 6-111 5 1 1 88 0-104 2 155 2-28 13-84 1 22 13 10 27-37 1 82 11-15 4 29 0-28 2-13 3-52 3 83 2-46 10-29 15 42 24 91 6-79 7-6 3-7 2-4 1 83 1-87 2 11 4 24 0 59 2 10 0-73 3 29 7-37 1 54 6-9 1-14 1 11 0 13 0-29 1 7 0 6 1" fill="none" stroke="none" marker-start="url(#k35)" marker-mid="url(#k35)" marker-end="url(#k35)"/>
<path d="M736 2326l-4 3 130 4-135 2 10 0 169 1-159 1 183 0-175 2 100 0 59 0 0 1-5 3 5 0-156 1 84 2 17 0 47 1 0 1-157 2-9 1 22 1-20 1 98 1-97 5 9 0 6 0 33 2 31 1-82 1 3 0 35 1-17 3 34 2-33 4 108 1-100 1 38 0 2 0 13 1-51 2 43 2-28 1 28 0-38 3 35 6-37 5 55 1-57 2 55 0-19 11-6 1-51 1 32 1 39 0-48 1 29 1 3 1 12 1-12 2 53 1-105 1 112 0-110 1 11 0 94 0-94 1-3 1 120 0-131 2 51 0-28 1-1 1-23 2 134 2-47 1-9 1-31 1 24 0-8 1 5 0 31 0 4 0 34 0 5 0-43 1-48 1 24 4-29 1 67 0 14 0-44 2 57 1-8 1-99 13 127 12-102 9 3 3 6 1-5 1 4 5 9 0-4 1 86 0-93 2 3 0 3 1 10 0 1 0-8 1 8 1-13 1 98 0-93 1 91 1-83 3-15 2 11 1 86 0 1 1-49 3 57 0-69 2 67 1-78 1 4 2 26 2 7 0 10 0 7 0-42 1 44 1 8 0-32 1 19 0-20 1 10 0 11 0 13 0 7 0-66 1 52 0-21 1 5 0 10 0 24 0 1 0-44 1 2 0 5 0 4 0 1 0 9 0-28 1 8 0 14 0 9 0-6 1 6 0-27 1 19 0-2 1 4 0 22 0-43 1 22 1-2 1 11 0-3 3-25 4" fill="none" stroke="none" marker-start="url(#k36)" marker-mid="url(#k36)" marker-end="url(#k36)"/>
<path d="M892 2327l-147 8 2 0-6 1 121 1-122 1 162 0 7 1-165 1 1 0 184 0-71 1 17 0 41 0-176 1 111 0-2 2 4 0 82 0-62 1 18 0-147 1 141 0 48 0-190 1 145 1 1 0 7 0-164 1 1 0 6 0 183 0-172 1 87 0 47 1 3 0-153 1 9 0-1 1 14 0 160 0-172 2 10 0-8 1 178 0-178 2 169 1-46 1 51 0-173 2 122 1-108 1 40 0 125 0-122 1 55 0-109 1 28 0 140 1-98 1 108 0-8 1-170 1 50 0-33 2 35 0 4 0 63 1-75 2-34 1 21 0 55 1-41 1 10 0 61 0-94 1 27 0-33 1 24 0 23 0-31 1-23 1 26 0 9 0 50 0-64 5 67 0-63 2 52 3-56 1 31 0 28 2-42 1 8 0 6 0-13 3-36 1-6 1 92 2-29 3 53 0-90 1 2 0 30 0 14 4-69 1 18 0 38 0 50 0-107 1 113 0 10 0-125 1 11 0 106 0-72 1 55 0-88 1 77 0-91 1 130 0-129 1 5 0 6 1 6 0 25 1-36 1 24 0 36 0-56 1 18 0 56 0-28 1 70 0-128 1 68 0 44 0 22 0-133 1 24 0 76 1 13 0-65 1 12 0 30 0-39 1-18 2 41 0-73 2 5 0 48 0 57 0-71 1 24 0-62 1 11 0 9 0 8 0 14 0 27 0 19 1 50 0-32 3 31 1-120 1 51 1 69 0-83 1 76 0 2 0-107 1 92 0 12 0-57 1 4 0 2 2-1 1 55 1-43 2 34 0 11 0-3 1-104 4 2 0 23 0-34 2 142 12 2 2 4 0-8 1-4 1-90 1-11 1 109 0 1 2-106 2 110 1-98 4 99 0-106 2 4 0 104 0-93 1-10 1 5 0-11 3 3 0 0 1 6 0 8 0-8 3-7 2 5 0 5 0 95 0-91 2-9 1 12 2 4 0-19 1 33 1-28 1 1 0 16 0-10 2 6 0-7 1 2 0 10 0-3 2 10 1 12 0 63 0-79 1 71 2-69 1 12 2 54 0-42 1 29 1-58 1 60 0-26 1 4 0 28 0 8 0-40 2 19 0-26 1 20 0 6 0-8 1 1 0 5 0-27 1 20 0-15 1 28 0 2 0-23 1 8 0 1 0 4 0 14 0-35 1 15 0 14 0-23 1 3 0 3 0 12 0-13 1 10 0 2 0 8 0-4 1-10 1 22 0-22 4 1 0" fill="none" stroke="none" marker-start="url(#k37)" marker-mid="url(#k37)" marker-end="url(#k37)"/>
<path d="M898 2327l-165 6 124 2 17 0 20 0-31 2-115 1 156 0 22 1-194 1 133 0 6 1 1 0-128 1 152 0-47 1-11 2 27 0 19 0 14 0-168 1 4 0 114 0 18 0 52 0 3 0-177 1 94 0 36 0 33 1 4 0-72 1 71 0-171 1 20 0 79 1 50 0 22 0 5 0-163 1 4 0 173 0-197 1 104 0 49 0-132 2 11 1 167 0-189 1 176 0-37 1 49 2-55 1-11 1 62 0-110 1 112 0-177 1 68 3-72 1 11 1 12 0 35 0-34 1 24 2 77 0-59 1-51 1 1 0 23 2 26 0 56 0-88 1 5 0 48 0 36 2 2 0-99 1-10 1 78 1-81 1 15 1-1 1 70 1-63 3 55 1-5 1 18 1-76 2 21 1 42 0-12 3-10 1 10 0 14 0-11 3 34 2-81 1 20 0 27 1-15 2 6 0-20 1 6 0 10 1 13 2-66 1 2 0 18 0 72 0-71 1 60 0 46 0-129 1 14 0 14 0 41 0 11 0-55 2 32 1-59 1 106 0-91 1 102 0-109 1 11 0 39 0 3 0-62 1 2 0 14 1 48 0 67 0 39 0-53 1 11 1-79 1 23 0-71 1 1 0 99 0-90 2 14 0 28 0 57 0-95 1-16 1 14 0 62 0-1 1-3 2 10 0-37 1 51 3 40 0-30 1-74 1 98 2 5 0 0 1-67 1 51 1 7 0-68 1 32 0 10 0 29 0 58 0-145 1 23 0 10 0 2 0 50 0 2 0-37 1-38 1 41 3-8 2-52 3 28 20 11 7 1 4 8 0-19 1 3 4 8 0 7 0 82 0-83 1 85 0-92 1 91 0-100 1 7 0-1 1 2 0 1 0 3 3 11 1 0 1 69 3-43 7-7 1 59 0-58 2 0 1 21 0-11 2 53 0-58 2 28 3-11 2 13 0-21 1 3 0 21 0 11 0-30 1-2 1 33 0-28 1 16 1-19 1" fill="none" stroke="none" marker-start="url(#k38)" marker-mid="url(#k38)" marker-end="url(#k38)"/>
<path d="M890 2335l20 0-157 5 125 0 35 0-51 2 36 0 14 1 22 0-53 1-40 1 50 0-165 1 158 0-137 1 125 1-113 1 129 2-5 4-4 3-10 3 55 2-137 1 137 0-104 7-40 2 17 1 120 0-49 3 2 3-74 1 14 0-18 3 4 0-23 3 1 4 22 3 22 1-25 1 2 3-8 1-10 6 19 2 43 0 14 0-44 5 24 0 54 4-8 1 10 4-61 3-3 1 75 2-136 1 62 1 96 0-156 1 167 5-100 1 62 1-124 3 20 4 101 0-29 2-22 3 80 21-4 10-80 7-5 7 4 0-2 3-13 2" fill="none" stroke="none" marker-start="url(#k39)" marker-mid="url(#k39)" marker-end="url(#k39)"/>
<path d="M862 2352l-93 15 33 3-5 7-31 12 130 28 15 0-19 3 26 0-13 5 16 0 11 1-26 2-1 1 41 1-119 1 67 1 49 1 10 4-51 7 3 2-75 1 78 3 17 5" fill="none" stroke="none" marker-start="url(#k40)" marker-mid="url(#k40)" marker-end="url(#k40)"/>
<path d="M848 2340l85 5-178 57 4 22 168 1 2 0-35 1 35 5-28 1 22 0 29 2-129 2 124 2-62 7 47 9-20 1-119 4" fill="none" stroke="none" marker-start="url(#k41)" marker-mid="url(#k41)" marker-end="url(#k41)"/>
<path d="M927 2334l-17 5-22 15 34 7-2 3-125 7 16 15 10 5-12 16 103 13-10 4 21 1-2 5 6 0 13 3-22 2-22 1 43 1 1 0-28 2 8 3-1 2-105 1 88 0 27 7" fill="none" stroke="none" marker-start="url(#k42)" marker-mid="url(#k42)" marker-end="url(#k42)"/>
<path d="M906 2333l-2 83-15 3 10 3 18 0-14 1-8 1 4 1-2 1 12 0 7 1 31 2-4 1-18 2-150 1 123 0 13 1-2 6 27 1-78 4 50 4 7 4" fill="none" stroke="none" marker-start="url(#k43)" marker-mid="url(#k43)" marker-end="url(#k43)"/>
<path d="M900 2411l1 13-7 2 15 1 8 2-2 1 8 0-28 3 29 1 13 0-28 2 19 6 19 4-42 1 27 0 6 1-10 1 9 2-9 2" fill="none" stroke="none" marker-start="url(#k44)" marker-mid="url(#k44)" marker-end="url(#k44)"/>
<text transform="translate(377.5,2677) rotate(-90)" font-size="18.8">Mean</text><text transform="translate(396.8,2677) rotate(-90)" font-size="18.8">expression</text>
<rect x="443.2" y="2580.8" width="252.1" height="106.8" fill="none" stroke="#e2e2e2" stroke-width="1.6"/>
<text x="437" y="2586.7" font-size="16.5" text-anchor="end" fill="#222">1.2</text>
<text x="437" y="2689.3" font-size="16.5" text-anchor="end" fill="#222">0.0</text>
<path d="M472.6 2592.3C472.8 2597.8 472.3 2617.4 473.5 2625.0C474.7 2632.6 477.2 2634.2 480.0 2638.0C482.8 2641.8 487.8 2645.2 490.0 2648.0C492.2 2650.8 493.5 2652.7 493.0 2655.0C492.5 2657.3 489.7 2659.2 487.0 2662.0C484.3 2664.8 479.3 2668.6 477.0 2672.0C474.7 2675.4 473.7 2680.8 473.0 2682.5L471.0 2682.5C470.3 2680.8 469.3 2675.4 467.0 2672.0C464.7 2668.6 459.7 2664.8 457.0 2662.0C454.3 2659.2 451.5 2657.3 451.0 2655.0C450.5 2652.7 451.8 2650.8 454.0 2648.0C456.2 2645.2 461.2 2641.8 464.0 2638.0C466.8 2634.2 469.3 2632.6 470.5 2625.0C471.7 2617.4 471.2 2597.8 471.4 2592.3Z" fill="#2f6f96" stroke="#2a2a2a" stroke-width="1.1" stroke-linejoin="round"/>
<path d="M521.5 2613.5C521.8 2614.6 523.0 2616.9 523.5 2620.0C524.0 2623.1 523.5 2627.8 524.5 2632.0C525.5 2636.2 527.5 2640.7 529.5 2645.0C531.5 2649.3 536.8 2654.2 536.5 2658.0C536.2 2661.8 530.2 2663.9 527.5 2668.0C524.8 2672.1 521.7 2680.1 520.5 2682.5L518.5 2682.5C517.3 2680.1 514.2 2672.1 511.5 2668.0C508.8 2663.9 502.8 2661.8 502.5 2658.0C502.2 2654.2 507.5 2649.3 509.5 2645.0C511.5 2640.7 513.5 2636.2 514.5 2632.0C515.5 2627.8 515.0 2623.1 515.5 2620.0C516.0 2616.9 517.2 2614.6 517.5 2613.5Z" fill="#5e8aa8" stroke="#2a2a2a" stroke-width="1.1" stroke-linejoin="round"/>
<path d="M568.8 2588.0C569.0 2594.2 568.6 2616.7 569.7 2625.0C570.8 2633.3 573.0 2634.2 575.2 2638.0C577.5 2641.8 581.5 2645.2 583.2 2648.0C584.9 2650.8 585.5 2652.2 585.2 2655.0C584.9 2657.8 583.0 2661.2 581.2 2665.0C579.4 2668.8 575.4 2675.8 574.2 2678.0L562.2 2678.0C561.0 2675.8 557.0 2668.8 555.2 2665.0C553.4 2661.2 551.5 2657.8 551.2 2655.0C550.9 2652.2 551.5 2650.8 553.2 2648.0C554.9 2645.2 559.0 2641.8 561.2 2638.0C563.5 2634.2 565.6 2633.3 566.7 2625.0C567.8 2616.7 567.5 2594.2 567.6 2588.0Z" fill="#8aaec4" stroke="#2a2a2a" stroke-width="1.1" stroke-linejoin="round"/>
<path d="M620.0 2586.0C620.3 2586.7 621.0 2586.8 622.0 2590.0C623.0 2593.2 624.5 2600.0 626.0 2605.0C627.5 2610.0 630.0 2615.8 631.0 2620.0C632.0 2624.2 632.6 2625.8 631.8 2630.0C631.0 2634.2 628.0 2640.0 626.0 2645.0C624.0 2650.0 621.4 2654.7 620.0 2660.0C618.6 2665.3 618.2 2674.2 617.8 2677.0L616.2 2677.0C615.8 2674.2 615.4 2665.3 614.0 2660.0C612.6 2654.7 610.0 2650.0 608.0 2645.0C606.0 2640.0 603.0 2634.2 602.2 2630.0C601.4 2625.8 602.0 2624.2 603.0 2620.0C604.0 2615.8 606.5 2610.0 608.0 2605.0C609.5 2600.0 611.0 2593.2 612.0 2590.0C613.0 2586.8 613.7 2586.7 614.0 2586.0Z" fill="#b0cce0" stroke="#2a2a2a" stroke-width="1.1" stroke-linejoin="round"/>
<path d="M668.7 2628.3C669.2 2629.4 669.9 2632.2 671.7 2635.0C673.5 2637.8 677.0 2641.5 679.7 2645.0C682.4 2648.5 688.0 2652.5 687.7 2655.8C687.4 2659.1 681.0 2661.1 677.7 2665.0C674.4 2668.9 669.4 2676.7 667.7 2679.0L663.7 2679.0C662.0 2676.7 657.0 2668.9 653.7 2665.0C650.4 2661.1 644.0 2659.1 643.7 2655.8C643.4 2652.5 649.0 2648.5 651.7 2645.0C654.4 2641.5 657.9 2637.8 659.7 2635.0C661.5 2632.2 662.2 2629.4 662.7 2628.3Z" fill="#b8e0f8" stroke="#2a2a2a" stroke-width="1.1" stroke-linejoin="round"/>
<text transform="translate(476.6,2694) rotate(-90)" font-size="20.5" text-anchor="end">0</text>
<text transform="translate(524.1,2694) rotate(-90)" font-size="20.5" text-anchor="end">1</text>
<text transform="translate(572.8,2694) rotate(-90)" font-size="20.5" text-anchor="end">2</text>
<text transform="translate(621.6,2694) rotate(-90)" font-size="20.5" text-anchor="end">3</text>
<text transform="translate(670.3,2694) rotate(-90)" font-size="20.5" text-anchor="end">4</text>
<rect x="730.5" y="2580.8" width="253.0" height="106.8" fill="none" stroke="#e2e2e2" stroke-width="1.6"/>
<text x="723" y="2586.7" font-size="16.5" text-anchor="end" fill="#222">4</text>
<text x="723" y="2689.3" font-size="16.5" text-anchor="end" fill="#222">0</text>
<path d="M759.5 2602.9C760.1 2604.9 761.0 2610.5 762.9 2615.0C764.8 2619.5 768.7 2624.7 770.9 2630.0C773.1 2635.3 776.2 2642.0 775.9 2647.0C775.6 2652.0 771.2 2655.8 768.9 2660.0C766.6 2664.2 762.4 2668.8 761.9 2672.0C761.4 2675.2 764.4 2677.1 765.9 2679.0C767.4 2680.9 770.1 2682.8 770.9 2683.5L746.9 2683.5C747.7 2682.8 750.4 2680.9 751.9 2679.0C753.4 2677.1 756.4 2675.2 755.9 2672.0C755.4 2668.8 751.2 2664.2 748.9 2660.0C746.6 2655.8 742.2 2652.0 741.9 2647.0C741.6 2642.0 744.7 2635.3 746.9 2630.0C749.1 2624.7 753.0 2619.5 754.9 2615.0C756.8 2610.5 757.7 2604.9 758.3 2602.9Z" fill="#2f6f96" stroke="#2a2a2a" stroke-width="1.1" stroke-linejoin="round"/>
<path d="M807.4 2624.0C808.3 2625.8 810.9 2631.0 812.8 2635.0C814.7 2639.0 817.3 2643.8 818.8 2648.0C820.3 2652.2 822.5 2656.7 821.8 2660.0C821.1 2663.3 815.3 2665.3 814.8 2668.0C814.3 2670.7 816.6 2673.4 818.8 2676.0C821.0 2678.6 826.3 2682.2 827.8 2683.5L785.8 2683.5C787.3 2682.2 792.6 2678.6 794.8 2676.0C797.0 2673.4 799.3 2670.7 798.8 2668.0C798.3 2665.3 792.5 2663.3 791.8 2660.0C791.1 2656.7 793.3 2652.2 794.8 2648.0C796.3 2643.8 798.9 2639.0 800.8 2635.0C802.7 2631.0 805.3 2625.8 806.2 2624.0Z" fill="#5e8aa8" stroke="#2a2a2a" stroke-width="1.1" stroke-linejoin="round"/>
<path d="M856.1 2609.0C857.0 2610.8 859.6 2615.7 861.5 2620.0C863.4 2624.3 866.0 2629.4 867.5 2635.0C869.0 2640.6 871.2 2648.7 870.5 2653.7C869.8 2658.7 865.2 2661.4 863.5 2665.0C861.8 2668.6 859.7 2671.9 860.5 2675.0C861.3 2678.1 867.2 2682.1 868.5 2683.5L842.5 2683.5C843.8 2682.1 849.7 2678.1 850.5 2675.0C851.3 2671.9 849.2 2668.6 847.5 2665.0C845.8 2661.4 841.2 2658.7 840.5 2653.7C839.8 2648.7 842.0 2640.6 843.5 2635.0C845.0 2629.4 847.6 2624.3 849.5 2620.0C851.4 2615.7 854.0 2610.8 854.9 2609.0Z" fill="#8aaec4" stroke="#2a2a2a" stroke-width="1.1" stroke-linejoin="round"/>
<path d="M905.7 2586.0C906.9 2587.5 910.5 2591.0 913.1 2595.0C915.7 2599.0 919.5 2605.5 921.1 2610.0C922.7 2614.5 923.9 2617.8 922.9 2622.0C921.9 2626.2 917.4 2630.7 915.1 2635.0C912.8 2639.3 910.6 2643.0 909.1 2648.0C907.6 2653.0 906.4 2660.3 906.1 2665.0C905.8 2669.7 906.9 2672.9 907.1 2676.0C907.3 2679.1 907.1 2682.2 907.1 2683.5L903.1 2683.5C903.1 2682.2 902.9 2679.1 903.1 2676.0C903.3 2672.9 904.4 2669.7 904.1 2665.0C903.8 2660.3 902.6 2653.0 901.1 2648.0C899.6 2643.0 897.4 2639.3 895.1 2635.0C892.8 2630.7 888.3 2626.2 887.3 2622.0C886.3 2617.8 887.5 2614.5 889.1 2610.0C890.7 2605.5 894.5 2599.0 897.1 2595.0C899.7 2591.0 903.3 2587.5 904.5 2586.0Z" fill="#b0cce0" stroke="#2a2a2a" stroke-width="1.1" stroke-linejoin="round"/>
<path d="M954.8 2622.0C955.3 2623.3 956.3 2626.7 957.8 2630.0C959.3 2633.3 961.8 2638.1 963.8 2642.0C965.8 2645.9 969.8 2649.9 969.8 2653.7C969.8 2657.5 965.6 2661.4 963.8 2665.0C962.0 2668.6 958.8 2671.9 958.8 2675.0C958.8 2678.1 963.0 2682.1 963.8 2683.5L943.8 2683.5C944.6 2682.1 948.8 2678.1 948.8 2675.0C948.8 2671.9 945.6 2668.6 943.8 2665.0C942.0 2661.4 937.8 2657.5 937.8 2653.7C937.8 2649.9 941.8 2645.9 943.8 2642.0C945.8 2638.1 948.3 2633.3 949.8 2630.0C951.3 2626.7 952.3 2623.3 952.8 2622.0Z" fill="#b8e0f8" stroke="#2a2a2a" stroke-width="1.1" stroke-linejoin="round"/>
<text transform="translate(763.5,2694) rotate(-90)" font-size="20.5" text-anchor="end">0</text>
<text transform="translate(811.4,2694) rotate(-90)" font-size="20.5" text-anchor="end">1</text>
<text transform="translate(860.1,2694) rotate(-90)" font-size="20.5" text-anchor="end">2</text>
<text transform="translate(909.7,2694) rotate(-90)" font-size="20.5" text-anchor="end">3</text>
<text transform="translate(958.4,2694) rotate(-90)" font-size="20.5" text-anchor="end">4</text>
<text x="1043.3" y="2300.8" font-size="47" font-weight="bold">g</text>
<text x="1102.6" y="2297.8" font-size="26.5" font-weight="bold">ATRT5</text>
<path d="M1208 2370l26 7-2 4 26 0-10 3 17 1-10 1 5 1-20 1-10 1-22 1 2 0 44 1 4 1-33 2 4 0 28 0 20 0-28 1-4 1 34 0-46 2-8 1-24 1 44 0-3 1-40 1 28 0 27 0 12 0 10 0-89 2 31 2 64 2-94 1 5 0 2 0 14 0 33 0 33 1-47 1 44 0-25 1-87 1 129 0-87 2 68 0-73 1 65 0-93 1-17 1 57 0 17 0 12 0-69 1 6 0 37 0-60 1 1 0 85 0 6 0-94 1 143 0-145 1 94 1 76 1-179 1 74 0 3 0-79 1 85 0 34 0-33 1 73 0-68 1 83 0-105 2 15 0 6 0 50 1 5 0 9 0-125 1 112 0 37 0-146 1 54 0 25 0 58 0-67 1 26 0 43 0-142 2 69 0-109 1 3 0 39 0 20 0 62 0-137 2 17 0 93 0-77 1 57 0 53 0-135 1 50 0 72 0 5 0-148 1 38 0 17 0 6 0-44 1 79 0 7 0 38 0 41 0 3 0-65 1-54 1-11 1 25 0 120 0-182 1 45 1 90 0 3 0 4 0 47 0-181 1 99 0 10 0 62 0-168 1 87 0 28 0 7 0 4 0-166 1 19 0 42 0 97 0-136 1 139 0 23 0-151 1 48 0 69 0 3 0 52 0-90 1 27 0 87 0-130 1-66 1 5 0 26 0 3 0 86 0 66 0 2 0 4 0-208 1-24 1 95 0 9 0 70 0 23 0-171 1 10 0 9 0 125 0-141 1 19 1 95 0 43 0-157 1 139 0 16 0 23 0-197 1 19 0 147 0-1 1-182 1 110 0 65 0-82 2-31 1 64 0 22 0 57 0 43 0-260 1 30 0 134 0 34 0 24 0 9 0-217 1 134 0-72 1 38 0 66 0-158 1 30 0 30 0 25 1 62 0 49 0 12 0 9 0 14 0-243 1 56 0 38 0 131 0-175 1 48 0 53 0 3 0 14 0-40 2 70 0 56 0-254 1 52 0 27 0 3 0 52 0 3 0 55 0-169 1 33 0 14 0 150 0-223 1 43 0 138 0 33 0 10 0 33 0-239 1 3 0 20 0 39 0 7 0 46 0-74 1 14 0-85 1 5 0 35 0 41 0 132 0 56 0-233 1 147 0-74 1 8 0-83 1 194 0-155 1 31 0 42 0 39 0 12 0 6 0 56 0-174 1-70 1 136 0 31 0-124 1 120 0 24 0 5 0 11 0-89 1 87 0-185 1 147 0-144 1 114 0 14 0 3 0 53 0 50 0-93 1 95 0-216 1 17 0 45 0 43 2 77 0-129 1 17 0 57 0 15 0-103 1 60 0 50 0-86 1 27 0-133 1 37 0 157 0 45 0-193 1 70 0 57 0-148 1 40 0 77 0 41 1 27 1 19 1-75 1 38 0-137 1 3 1 12 0 67 0 115 0 12 0-174 1 126 0 22 0-182 1 139 0-89 1 11 0 11 0-64 1 38 0 70 0 60 0 7 0-188 1 187 0 24 0-173 1 55 0 23 0 50 0 14 0-104 1 9 0 8 0 89 0-90 1 65 0-117 1 19 0-29 1 98 0 22 0 16 0 20 0-159 1 59 0 17 0 57 0 12 0-139 2 28 0 22 0 20 0 89 0-38 1-123 1 4 0 148 0 9 0-162 1 23 0 66 0 56 0-78 1 28 0 21 1 62 0-171 1 44 0-49 1 33 0 126 0 17 0-173 1 31 0 62 0-20 1 19 0-26 1 23 0 20 0-40 1 12 0 50 0 4 0-133 2 59 0 46 0 11 0 29 0 5 0 2 0-155 1 98 0-39 1 15 0-21 1 14 0 14 0 35 0-99 1 10 0-7 1 98 0-7 1 42 0-32 1-100 1 53 1 32 0-67 1 49 0 48 0 0 1-17 1 25 0-113 1 122 0-122 1 10 0 69 0 35 0-122 2 14 1 29 0 87 1 4 0-88 2 12 0 54 0-108 1 14 1 45 0-39 1 88 1-40 2 52 0-63 1-7 1-22 1 65 0 20 0 10 0-51 1 27 0 26 2-93 1 58 0-64 3 33 1 42 0-72 1 7 0 83 0-39 1 33 0-56 2 13 0-26 4 11 1-6 1 48 2-26 3-9 1 29 1" fill="none" stroke="none" marker-start="url(#k45)" marker-mid="url(#k45)" marker-end="url(#k45)"/>
<path d="M1181 2573l45 0-47 4-1 3 24 1-5 3 23 0-20 1 23 0-29 1 25 0-37 1 12 0 21 0-18 3 16 1-44 1 17 2 13 1 13 0 8 0-43 1 11 1 38 0-36 2 3 1-12 1 2 0 25 2-22 2 22 0-36 1 66 0-56 2 56 0-28 2 7 0-40 3 32 0-25 1 1 0 26 0 38 0-74 1 48 0 5 0-39 5 13 5 22 0-45 1 35 0 13 0 6 0-44 1 2 0-14 1 0 1 32 0 10 0-19 3-6 1 8 1 12 1-27 1-4 1 4 0 6 0 34 0-43 2 34 0-19 1 1 0-4 1 6 0-19 1-2 1 14 1-14 2 12 0 22 1-25 1 4 0 2 0 5 0 5 4-18 2 12 5" fill="none" stroke="none" marker-start="url(#k46)" marker-mid="url(#k46)" marker-end="url(#k46)"/>
<path d="M1216 2324l-4 5-7 5 14 0-9 2 16 2-5 1 0 1 0 4-2 2 5 2-11 3 4 0 5 8 6 1-11 3 1 0 3 0 2 6 3 3" fill="none" stroke="none" marker-start="url(#k47)" marker-mid="url(#k47)" marker-end="url(#k47)"/>
<path d="M1365 2513l6 3-1 1 1 0 9 2-1 2 9 4 2 3 1 3-10 1 5 0 1 0-10 2-1 2" fill="none" stroke="none" marker-start="url(#k48)" marker-mid="url(#k48)" marker-end="url(#k48)"/>
<path d="M1120 2554l1 1-3 5 0 2-6 2" fill="none" stroke="none" marker-start="url(#k49)" marker-mid="url(#k49)" marker-end="url(#k49)"/>
<path d="M1232 2380l-5 3 3 1 28 0-35 1 41 0-41 2 11 0-8 2 34 1-19 2-30 1 47 3-46 3 17 0 40 0-37 1 57 1-47 3 19 0-7 1-80 1 71 1 3 0 9 0 33 0-48 1 15 0-49 1 29 0 56 0-38 1-89 1 38 0 50 0 8 0-80 1 55 0-48 2 19 0 56 0-31 1 60 0-135 1 24 0 45 0-81 3 118 0-12 1-99 1 24 0 25 0 70 0 1 0 7 0-63 1 51 0 45 0-124 1 70 0 6 0 35 0 14 0-72 1-42 1 14 0-34 1 75 0 11 0 39 0-116 1 41 0 11 0 1 0 56 0 19 0 1 0-137 1 35 0 64 0 40 2-179 1 54 0 12 0 32 0 67 0-116 1 73 0 51 0-138 1 88 0-101 1 20 0 32 0 87 0-126 1 101 0 18 0 5 0-48 1-70 1 27 0 69 0-78 2 22 0 5 1 6 0-105 2 172 0 20 0-157 1 27 0 4 0 2 0 58 0 68 0-70 1 25 0-147 1 170 0 20 0-147 1 114 0 36 0-216 1 50 0 155 0 12 0-215 1 8 0 18 0 58 0 13 0 45 0 9 0-85 1-71 1 105 0 88 0 14 0-170 1 74 0 6 0-93 1 12 0 9 0 90 0 86 0-201 1-31 1 101 0 37 0 36 0 15 0 8 0-173 1 5 0 65 0 26 0 115 0-22 1-219 1 7 0 182 0-84 1 87 0-159 2 148 1-79 1 16 0 102 1-183 1 82 0 119 0-103 1 78 0-221 1 80 0 24 0 2 0 17 0-109 1 98 0 72 0-72 1 103 0-182 1 129 0 13 0 2 0-165 1 97 0 49 0 35 0 5 0-173 1 148 0 30 0 11 0-223 1 79 0 39 0 12 0 49 0-126 1 66 0 3 0 46 0 45 0 29 0-58 1-194 1 152 0 2 0 46 0-199 1 135 0-124 1 30 0 9 0 89 0 97 0-117 1 4 0 8 0 110 0-14 1 4 0-209 1 42 0 132 0 58 0-223 1 143 0-75 2 105 0 7 0 16 0 2 0-162 1 26 0 158 0-126 1 6 0-23 1 75 0 28 0-176 1 6 0 104 0-138 1 218 0-57 1 24 0 21 0 1 0 32 0-225 1 125 0 94 0 35 0-8 1-237 1 89 0 66 0-121 1 139 0 14 0 24 0-142 1 101 0-158 1 146 0-55 1 102 0 23 0-57 1 34 0 15 0 19 0-217 1 19 0 39 0 18 0 1 0 13 0 57 0 73 0 2 0-143 1 48 0-69 1 28 0 1 0 11 0 117 0-216 1 73 0 15 0 94 0-142 1 170 0-189 1 63 0 9 0 4 0-14 1 104 0-144 1 157 0 3 0-182 1 53 0 137 0-206 1 44 0 16 0 94 0 1 0 17 0 32 0 7 0-150 1 130 0-67 1 3 0 79 0-110 1 70 0 32 0-177 1 18 0 43 0 83 0-110 1 67 0-98 2 103 0 12 0-103 1 30 1 62 0 22 0-104 1 41 0 5 0 59 0 8 0 16 0 3 0 21 0-110 1-51 1 66 0 21 1 61 0-126 1 5 0 48 0-89 1 58 0 65 0-36 1 16 0 63 0-69 1-74 3 29 0-42 1 9 1 21 0 12 0 14 0 25 0 43 1 18 1-126 1 33 0 36 0 6 0 69 0 15 0-130 1 116 0 2 0 10 0-144 1 10 0 90 0 28 0-133 1 115 0 21 0 17 1-111 1 28 0-69 1 22 0 104 0 23 0 2 0-80 1 38 0 17 0-128 1 14 0 86 0 14 0-31 1-91 1 23 0 24 2 35 0 3 0 29 0 21 0-116 1 58 0 72 1-98 1-19 1-20 1 0 1 55 0-39 1 33 0 13 0 31 0 18 0 28 0-123 1 6 0 109 0-97 1 103 0-112 1 67 0 25 0-11 1 13 0-68 1 84 1-107 1 15 0 17 0 15 0-51 1 17 0 69 0 12 0-34 1-39 1 46 1-11 1 7 1 3 0 6 0-60 1 12 0 38 2-42 1 46 1-6 3 20 0-45 2 9 0 46 0-60 5 7 0 5 0 22 0-14 1 32 0-45 1 3 0 1 1 14 0-26 1 15 0-15 1 49 0-40 1 0 7 6 0" fill="none" stroke="none" marker-start="url(#k45)" marker-mid="url(#k45)" marker-end="url(#k45)"/>
<path d="M1214 2575l-19 2-21 2 37 0-41 2 41 1-32 2 16 0 22 0-40 1 7 0-6 1 1 0-9 3 13 1 52 2-18 1 15 0-7 1-25 3 17 0 23 1-63 1 27 3-14 1 50 0-26 1 11 0-26 1 7 0 31 0-45 1 38 0-52 1 19 0 4 0-18 1 39 0 15 0-25 1-36 1 12 0 17 0 5 0-17 2 18 1-39 2 52 0-24 1 18 2 19 0 4 0 5 2-43 1-9 1 26 0-3 2-27 1 25 0 5 1 0 3 13 0-53 1 7 0-1 1 12 1 3 0-11 1 2 0 23 1-32 1 25 0 3 0-17 1 21 0-30 2 8 2-1 2 2 0 20 0-14 1 3 0-1 3 4 6-20 2 11 2 5 1" fill="none" stroke="none" marker-start="url(#k46)" marker-mid="url(#k46)" marker-end="url(#k46)"/>
<path d="M1210 2324l-8 2 12 3-10 1 22 2-13 2-9 1 11 6 14 1-14 3 1 0 5 0 4 4 4 5 1 1-6 1-12 2 7 0-2 2 9 0-11 6" fill="none" stroke="none" marker-start="url(#k47)" marker-mid="url(#k47)" marker-end="url(#k47)"/>
<path d="M1364 2513l9 2 1 4 5 1 1 2-1 1 8 1 3 2 2 3-11 3 6 0-12 3 6 2" fill="none" stroke="none" marker-start="url(#k48)" marker-mid="url(#k48)" marker-end="url(#k48)"/>
<path d="M1126 2552l17 2-4 4-20 1 22 1" fill="none" stroke="none" marker-start="url(#k49)" marker-mid="url(#k49)" marker-end="url(#k49)"/>
<path d="M1237 2375l2 0 11 4-15 5 19 3-11 1 21 0-51 3 50 0 7 1-43 1-23 1 53 1 18 0-9 2-44 1-10 1 67 0-35 2-18 4 3 1 12 0-48 1 90 1-86 1 47 1 23 0-92 1 22 0-30 1-90 1 146 0 38 0-59 1 91 0-102 1 61 0 53 0-46 1-105 1 35 1 90 0-122 1 126 0-126 1 27 0 65 0 20 0 38 0-133 1 143 0-146 1 5 1 75 0-113 1 51 0 17 0 52 0-34 1-59 1 32 0 78 0 4 0-36 1 35 0-152 1 33 0 100 0 11 0-121 1 51 1 45 0-57 1 51 0 28 1-132 1 28 1 1 0 8 0 78 1 73 0-180 1 127 0 11 0-110 2 14 0 30 0-87 1 10 0 79 0-98 1 29 0-9 1 16 0 66 0 22 0 60 1-185 1 53 0 13 0 44 0-100 1 74 0 14 0-32 1 13 0 44 0 9 0 26 0-174 1 10 0 92 1 16 0 57 0 37 0-218 1 39 0 33 0 52 0 58 0 24 2 20 0-99 1 17 1 43 0-151 1 52 0 45 0 22 1 15 0-111 1 53 1 68 0 12 0 14 0-55 1-102 1 14 0 127 0 10 0 9 0-207 1 77 0 9 0 94 0-146 1 84 0 29 0 41 0-158 1 33 0 8 0 9 0 56 0 4 0 60 0-187 1 58 0-30 1 15 0 41 0 9 0 6 0 68 0-205 1 120 0 9 0 9 0 5 0 19 0 6 0 30 0 12 0 22 0-204 1 32 0 135 0-173 1 82 0 89 0 4 0-78 1 94 0-219 1 35 0 39 0 118 0 61 1-223 1 114 0-131 1 57 0 106 0 14 0 56 0-170 1 20 0 11 0 144 0-180 1 51 1 72 0 35 0-40 1 27 0 30 0-181 1 62 0 7 0 17 0 40 0 41 0-175 1 170 0 31 0-116 1 8 0 48 0-158 1 181 0-204 1 1 0-28 1 50 0 185 0-226 1 3 0 90 0 102 0 70 0-259 1 19 0 144 0 15 0-189 1 36 0 8 0 99 0 44 0 34 0 39 0-231 1 106 0 84 0-197 1 54 0 86 0 50 0 37 0-229 1 16 0 18 0 120 0 58 0-181 1 165 0 20 0-139 1 93 0 63 0-65 1 83 0-244 1 3 0 116 0 54 0 16 0 34 0-227 1 26 0 11 0 65 0 9 0 129 0-240 1 39 0 2 0 161 0 7 0-159 1 89 0 79 0-56 1 19 0 2 0 18 0 18 0 12 0-147 1 86 0-42 1 83 0-201 1 64 1 121 0 7 0 35 0-199 1 166 0-166 1 30 0 1 0-4 1 62 0 98 0-63 1 1 0 31 0 3 0-181 1 85 0 82 0 57 0-212 1 42 0 103 0 24 0 28 0-200 1 98 0 127 1-152 1 12 0 128 0-154 1 29 1 99 0 35 0-141 1 49 0 18 0 34 0-97 1 133 0-128 1-50 1 100 0 4 0 36 0 38 0-53 1-99 1 61 0 101 0-195 1 3 0 1 0 52 0 86 0-94 1 14 0 50 0-1 2 67 0-148 1 83 0 81 0-188 1 90 0-32 1 11 0 35 0-71 1 41 0 90 0-100 1-7 1 23 0 9 0-11 1 41 0-1 2-80 3 15 0 121 0-126 1 39 0 3 0 31 0 28 0 11 1-113 1 17 0-33 1 107 0 15 0 8 0 5 0-123 1-11 1 17 0 42 0-68 1 3 0 23 0 36 0 6 1 44 0-82 1 105 0 24 0-96 1 1 0-17 2-42 1 75 0 38 0 30 0-117 1 41 0-42 1 39 0-41 2 10 1 32 0 77 0 3 1 2 0-144 1 38 0 44 0-58 1 30 0 54 0 14 0-109 1 68 0 31 0-4 1 9 0-140 2 127 0-97 1 83 0-35 1 63 0-76 1 78 0-5 1 9 0 1 0-50 1 10 0 25 1-67 1 60 0 5 0 1 0 9 0-38 1-33 1 55 0-86 1 23 0 25 0-17 1 32 0 8 1 22 0-28 1 2 1 2 0 23 0-40 1 9 1 29 0-59 1 2 0 41 0 14 1-33 1-23 1 64 0-71 1 54 0-39 2-3 1 45 2 15 0-45 5 6 0-9 2" fill="none" stroke="none" marker-start="url(#k45)" marker-mid="url(#k45)" marker-end="url(#k45)"/>
<path d="M1187 2576l18 1-23 2 2 0-5 2 25 2 12 0 14 2-56 1 4 0 9 0-15 2 11 0 8 0 32 0-13 1 1 2-23 1-9 2-3 1 21 0 28 1-22 1 16 0-48 2 39 0 3 0 15 1 10 1-45 1 4 0-7 1 8 0-20 3 25 0 40 0-66 3 37 0 5 0-37 1 58 1-64 1 26 1 31 2-34 1-12 1 56 1-38 1-22 2 25 0-11 1 43 0-49 2 27 1-30 1 26 0-28 3 33 1-30 1 3 0 18 0 7 0-26 1 7 0 28 0-35 1 6 1 4 0 3 0-9 1 3 4 15 0-1 2-14 1 16 0-27 2 31 0-35 3 22 0 13 0-10 2-19 1 21 0-14 1-15 3 17 4" fill="none" stroke="none" marker-start="url(#k46)" marker-mid="url(#k46)" marker-end="url(#k46)"/>
<path d="M1209 2320l5 3 3 1-1 3-3 1-8 4-9 1 8 1 6 3 0 1 9 3-3 1 7 2-2 4 9 4-2 3 2 5-10 2 5 4 0 1" fill="none" stroke="none" marker-start="url(#k47)" marker-mid="url(#k47)" marker-end="url(#k47)"/>
<path d="M1355 2509l14 4-9 1 17 4 4 6 9 1-2 2 3 3-9 1 3 2 0 2" fill="none" stroke="none" marker-start="url(#k48)" marker-mid="url(#k48)" marker-end="url(#k48)"/>
<path d="M1125 2550l-1 2 18 4-1 3" fill="none" stroke="none" marker-start="url(#k49)" marker-mid="url(#k49)" marker-end="url(#k49)"/>
<text x="1243" y="2332" font-size="18.5" font-weight="bold" text-anchor="middle">2</text>
<rect x="1246.7" y="2448.2" width="16.0" height="21.3" fill="#fff" fill-opacity="0.85" rx="2"/><text x="1254.7" y="2465.5" font-size="18.5" font-weight="bold" text-anchor="middle">0</text>
<text x="1387.9" y="2502.8" font-size="18.5" font-weight="bold" text-anchor="middle">3</text>
<rect x="1223.0" y="2580.2" width="16.0" height="21.3" fill="#fff" fill-opacity="0.85" rx="2"/><text x="1231.0" y="2597.5" font-size="18.5" font-weight="bold" text-anchor="middle">1</text>
<text x="1066.3" y="2701" font-size="23.4">(8,693)</text>
<text x="1474.5" y="2304" font-size="27">Group 1</text>
<path d="M1580 2335l6 3-3 7 2 11 27 12-7 2 11 1-16 1-21 2 1 2 14 5 7 2 32 2-82 3 63 1 21 1 8 0-89 2-10 1 63 0-66 1 107 0-117 1 86 2 26 0-44 3 28 1-93 2 19 1 34 1-11 1 64 1-40 2 42 1-123 1 67 0 63 0-58 1-3 1 53 0-17 1-124 1 118 0 29 1-150 1 23 1 36 0-15 3 99 1-138 1 107 1-95 1 117 0-49 1-84 1 107 0 24 0 24 0-174 2 94 0 40 0-89 1 136 0-150 1 49 0-64 1 46 0-31 1-7 1 118 0 27 0-145 2 13 0 119 0 26 2-164 1 62 0 40 0 60 0-34 1 36 0-110 2 58 0 21 0 22 0-151 1 80 0-23 1 57 5 39 0-94 1 42 0 30 1-15 1-62 1 67 1-74 2 18 0-25 1 69 1-66 2 13 0-9 2 27 0-11 1 13 0 40 0-47 3 24 2-35 1 85 2-49 1-10 1-14 2 0 1-3 1 81 1-29 1 18 4-5 2 5 1-20 2 4 0-8 2-24 1 51 0-81 4-3 4 22 3-15 1 16 0 1 0 9 4-8 4-28 2 44 0-38 1 45 4-31 4-3 1-9 11 23 3-24 2 2 5" fill="none" stroke="none" marker-start="url(#k50)" marker-mid="url(#k50)" marker-end="url(#k50)"/>
<path d="M1579 2329l3 2-8 2 2 5 3 3 8 0-2 2 5 5 1 4-11 1 7 1 6 1-11 3 8 4 16 5-15 3 18 1 6 0-2 1-32 2 28 0 2 3 1 1 13 0-30 1-14 1 11 0 27 0 7 2-12 1-27 1 48 2-41 1-24 1 28 0-50 1 26 0-9 1 2 0 7 4 77 0-95 1 9 0-6 2 67 0-25 1-37 2 13 0 22 0-47 1 2 0 95 0 3 0 3 2-128 1 33 0 6 0-35 1-7 1 14 0 50 2 14 0 30 0-126 2 7 0-3 1 19 0 48 0 48 0-101 1 80 0 5 0-71 2 54 0-50 1 22 0 87 1-140 1 48 0 45 0 8 0-87 1 42 0 42 0 16 0 3 0 15 0-119 1 3 0 81 1-34 2 69 0 13 0-89 1-1 1 87 0-32 1-66 1 10 1 2 0-78 1 76 0 44 0 28 0 3 0-118 1 50 0-65 1 35 0 94 0-141 1 41 0 95 0-137 1 21 0 94 0 22 0-132 1 28 0-18 1 15 0 17 0 91 0-80 1 18 0 52 1-86 1 56 0 23 1 9 1-124 1 2 0 18 0 70 0 69 0-71 1-2 1 51 0 5 0-29 1 34 0-105 1 40 0 17 0-113 1 86 0 4 0-58 1 22 0 30 0 10 0 45 0 21 0-37 1 41 1-5 2-75 1 2 0-29 1 15 0 84 1 5 0-106 1 67 0 33 0 6 0-86 1 68 0 21 0-90 1-21 2-2 1 40 0-1 2 22 0-54 3 74 1-48 1 75 0 3 0-68 1 36 0 17 0 14 0-80 1 74 0-71 1 19 0 15 0 53 0 1 0-103 1 73 0-55 1 52 0-22 3 32 0-36 3 52 0 4 0-24 1-97 1-16 3 14 0 31 0 22 0 13 0 19 1-27 1 52 0-20 1 3 1 21 1-31 3-14 1 29 0-39 1 19 0 27 0-9 1 6 1-77 2 34 0 5 0 5 0-43 1 41 0 5 0-8 1 10 0 28 0-5 1-71 1 6 0 3 1 21 0-36 3 11 1 9 0 17 0-18 1 4 1-15 2 6 1-8 3 15 0 12 1 2 0-24 4 9 1-8 1 2 4 0 1 29 0-13 1-25 1 28 1-14 1-2 3-5 1 6 7 7 2" fill="none" stroke="none" marker-start="url(#k51)" marker-mid="url(#k51)" marker-end="url(#k51)"/>
<path d="M1583 2333l7 4-9 1-6 1 8 4 3 2 1 2 2 5 2 2-2 5 5 9 2 2-8 1 0 1 8 0-6 1 21 3-36 1 17 0 13 0 18 0-20 1-14 2 4 1 8 0 1 0-2 3 3 1-47 2 4 1 18 1 56 0-90 1 63 0 10 0 5 0 13 0-93 2 23 0 35 1 4 0 1 0-64 1 81 0 5 0-43 1 19 0 4 0 33 0-75 1 7 0-1 1 17 0 64 0-50 1 47 0-126 1 15 0 22 0 93 0-74 1 10 0 4 0 33 0-36 1 25 0 3 0-70 1 99 0-7 1-115 1 38 0 62 0-35 1-74 1 2 0 20 0 52 0 11 0 11 0-8 1 49 0-146 1 10 0 36 0 17 0 7 0 77 0-128 1 25 0 55 0-103 2 14 0 90 0 5 0-56 1 30 0 52 0 9 0-147 1 27 0 6 0 78 0-96 1 39 0-37 1 5 0 47 0 25 0 39 0 25 0-138 1 121 0-140 1 35 0 87 0-110 1 49 0-43 1 76 0 3 0-86 1 16 0 24 0 13 0 26 0 28 0-117 1 13 0 64 0 35 0-127 1 41 0 55 0 4 0-42 1 12 0 58 0-82 1 42 0 15 0 22 0 17 0-146 1 9 0 7 0 4 0 77 0 17 0 3 0-115 1 45 0 7 0 1 0 64 0 26 0 24 0-105 1 51 0 31 0-48 1 33 0 34 0-169 1 91 0 12 0 2 0 6 0 21 0 28 0-118 1 54 0 6 0 53 1 3 0 4 0-164 1 69 0 89 0-151 1 16 0 36 0 69 1 28 0-135 1 54 0 15 0 59 0-134 1 10 0 47 0 39 0 8 0 6 0 2 0 12 0-102 1 108 0 27 0-156 1 25 0 81 0-33 1-71 1 4 0 23 0 57 0 20 0 5 0 37 0-134 1 20 0 79 0 7 0 28 0-23 1-104 1 39 0 84 0-65 1 43 0 16 0 31 0-3 1-131 1 37 0 39 0-42 1 7 0 49 0 21 0-125 1 97 0 17 0 20 0 7 0-138 1 40 0 64 0 38 0-136 1 56 0 76 0 1 0-109 1 114 0-27 1-61 1 89 0-60 1 30 0-84 1 34 0 14 0 7 0 61 0-131 1 3 0 39 0 2 0 32 0 9 0-11 1 1 0 45 0-3 1-117 1 74 0-47 1 28 0 3 0 57 0-80 2 93 0-118 1 3 0 115 0-96 1 29 0-44 1 54 0-8 1 2 0 1 0 33 0 6 0 7 0 4 0-103 1 23 0 16 0 58 0-85 1 73 0 18 0-96 1 46 0 42 0-9 1-82 1 15 0 34 0 12 0 7 0-61 1 24 1 24 0 22 0 8 0-73 1 8 0 4 0 50 0-40 1 56 0-82 1 60 0-23 1 25 0 13 0 21 0-85 1 15 0 63 1-86 1 52 0-42 1 57 0 20 0-115 1 75 0 11 0-86 1 41 0 13 0 8 0 12 1-7 1 21 0 17 0-46 1 33 0 3 0-18 1 2 0-28 1 6 0-11 2 34 0-13 2 6 0 13 0 19 0-74 1 5 1 17 1 36 0-20 1 1 0 2 0-53 1 28 0 15 0 30 1-63 1 10 0 16 0-31 1 4 1 21 0 2 3-28 2 1 0 24 0-17 1 8 0-15 1 9 0 2 1 23 0-30 1 14 0 3 1 12 0 8 1-40 1 9 0 15 1-6 1 3 0 1 0 4 0-28 2 16 2-7 3 13 0-10 1-10 2 16 0 8 0-17 1 30 1-38 1 2 0 27 0-14 1-6 1 2 0 6 0 16 0-8 1-18 1-3 1 13 4-6 1 15 1-5 1-13 1 14 0-15 2 10 2" fill="none" stroke="none" marker-start="url(#k52)" marker-mid="url(#k52)" marker-end="url(#k52)"/>
<path d="M1584 2332l-3 2 1 1-3 4 3 3 10 1-5 2 1 0-7 4 3 0 9 0-9 5 0 3-6 4 19 3 19 8-23 1 20 1 2 0-15 1 11 0-20 1 26 2 9 2-15 1 22 0-67 2 24 0 2 1 17 0 2 1-44 1 4 0 40 0 18 0-27 1 7 0 1 0 7 0 6 0 2 0-19 1 10 1-40 1 36 1-30 1 18 0-64 1 6 0 1 0 1 0 18 0-22 1 97 0-25 1 5 0 32 0-66 1 2 0 15 0-51 1 40 0 20 0 14 0 16 0-94 1 67 0 8 0 5 0-32 1-60 1 103 0-71 1 18 1 58 0-35 1-55 1 27 0-50 1 27 1 29 0 11 0-46 1 38 0 55 0-80 1 4 0 2 0 4 0-48 1 47 0 13 0 24 0 16 0 16 0 13 0-99 1 7 0 87 0 7 0 1 0-145 1 33 0 66 0-102 1 75 1-61 1 5 0 35 0 37 0 39 0 18 0-79 1 30 0 47 0-132 1 4 0 19 0 22 0 14 0 22 0 41 0-140 2 41 0 81 0-68 1 25 0 20 0 17 0 10 0 9 0-87 1 24 0-7 1-79 1 73 0 33 0 17 0 5 0-127 1 70 0 6 0 7 0 43 0-116 1 1 0 114 0 41 0-93 1 29 0 16 0 29 0-146 1 16 0 25 0 26 0 52 0 24 0-118 1 4 0 13 0 62 0-41 1 73 0-59 1 33 0-113 1 24 0 54 0 12 0 5 0-57 1-26 1 149 0-167 1 177 0-178 1 64 0 29 0 47 0-92 1 33 0 39 0 45 0-153 1 13 0 114 0 32 0-169 1 117 0 6 0 17 0 7 0 7 0-149 1 129 0 5 0 18 0 4 0 19 0-145 1 59 0 36 0 42 0-161 1 93 0 27 0 11 0-98 1 88 0 34 0-12 1-87 1 11 0 52 0 22 0 24 0 4 0-120 1 22 0 45 0 43 0-143 1 2 0 28 0 12 0 19 0 60 0 4 0-57 1 25 0 51 0-152 1 73 0 51 0 29 0-145 1 17 0 14 0 21 0 64 0-81 1 44 0 31 0 42 0-112 1 6 0 107 0-35 1 8 0 10 0-116 1 34 0 4 0 42 0-39 1 30 0 30 0-86 1 37 0 23 0 52 0-102 1 16 0 11 0 35 0 6 0-88 1 35 0 16 0 39 0-25 1 27 0 4 0 4 0-74 2 10 0 18 0 8 0-56 1 82 0 20 0-103 1 51 0 46 0-98 2 28 0 26 0-31 2 10 0 16 0 8 0 4 0 5 0 29 0 60 0-129 1 53 0 7 1 22 0-39 1 50 0-102 1 5 0 9 0 8 0 5 0 14 0 23 0-66 1 40 0-40 1 105 0-45 2 17 0 9 3-119 1 57 0 73 0-131 1 38 0 55 0-95 1 55 0 1 0 20 0 41 0 5 0-121 1 78 0 31 0 2 0 4 0-34 1 33 1-117 1 115 0 7 0 1 0 2 0-6 1-123 1 101 0 5 1 9 0 3 0 1 0 12 0-54 1 11 0-18 1 38 1-40 2 23 0-4 2-24 1 15 0 6 1 13 1 9 0 12 0-61 2 16 0 10 0-12 1 18 0 25 0-66 1-7 1 49 0 5 0-55 1 49 0 21 0-53 1 36 0-10 1-10 2 3 0-5 1 14 2-28 1-4 1 6 1 6 0 23 0-30 1-10 1 36 0-41 1 23 0 21 1-22 1 2 0-18 1 26 0 1 0 5 0-40 1 2 0 20 2 7 4-16 1 24 0-28 1 4 1 19 0-23 1 4 0 6 0 11 0-17 1 2 1 1 0 8 0-17 1 10 2 14 0-13 1 1 1 9 0-22 1 14 1 11 1-19 1 4 2 6 0-6 3 2 1" fill="none" stroke="none" marker-start="url(#k53)" marker-mid="url(#k53)" marker-end="url(#k53)"/>
<path d="M1579 2331l-3 4-6 2 5 1 4 2 8 2 0 2 5 7-7 2 5 2-4 1 3 3-1 1 7 5-1 3-1 2 19 0 8 5-40 5 23 0-30 1 1 0 30 4-34 1 8 0 2 0 17 0-47 1 25 0 13 1 26 0-19 2-41 1 26 1 12 0-34 1 61 0 25 0-89 1 66 0-18 1-26 1 35 1-47 1 28 0 7 0 27 0 11 0-55 1-14 1 3 0 31 0 27 0 14 0-97 2 14 0 85 0-90 1 69 0-27 1-15 1-41 1 30 0-48 1 20 0-25 1 29 0 26 0 17 0-29 1-17 1 30 0 56 0-102 1 57 0 29 0 32 0-135 2 29 0 65 0-82 1 79 0 5 0 20 0-11 1 10 0-49 1-35 1 22 0 59 0-49 4 1 0 24 0 25 0 3 0-122 1 74 0 40 0 10 1-147 1 24 0 25 0 104 0-26 1-37 1 31 0 45 0-118 1 23 0 10 0-37 2-40 1 75 0 17 0 43 0 34 0-151 1 127 0 6 1-42 1 10 0 8 0 46 0-181 1 27 0 28 0 62 0-38 1 70 0-84 2 33 1 3 0 44 0 2 0-127 1 13 0 51 0 84 0-50 1 34 0 4 0-120 1 50 2 10 0 26 0 25 1-106 1 20 0 40 0-42 1 65 0-21 1-4 1 54 1 9 0-107 2 66 0-76 1 30 0 12 0 33 0 29 0-95 1-12 1 168 0-114 1 3 0 65 0-9 1-12 1 24 0-92 1 36 0 74 0-121 1 38 1 17 0 2 0 44 0 6 0-64 1 19 0-15 1 29 0-73 1 14 0 47 1 40 1 10 0-98 1 31 0 45 0 21 0-100 1 90 0-102 1 49 5 14 0 34 0-84 1 93 0-86 1 9 0 26 0 47 0-82 1 27 1-68 1 36 0 29 0 58 0 4 1-60 1 47 0-103 1 9 0 43 1-68 2 91 1-29 1-11 2 42 0-51 4 55 0-56 2 50 0-47 1 18 0-6 2-16 1 17 0 8 0 9 1-23 1 40 1-50 4 26 2-14 4 22 2 5 1-34 1-7 2 11 0 6 0 24 3 2 0-39 2 42 0-4 1-14 2-20 1 14 1-15 1 1 1 14 0-13 1 7 0 2 1 5 0-12 3 14 0-10 1 2 0-6 1 3 0 11 0-13 1-1 2 8 0-16 5" fill="none" stroke="none" marker-start="url(#k54)" marker-mid="url(#k54)" marker-end="url(#k54)"/>
<path d="M1584 2331l-8 6 14 3-1 7 3 4-5 6 12 7 2 9-11 3-3 3-32 5 13 1 3 1 59 0-140 3 71 1 12 1 17 0-48 1 73 1-83 4 50 0 69 1-122 3 78 0-59 1 52 0 7 1 12 0-11 1 19 0-74 1-31 2 11 0 76 1-41 3 45 0-34 1 61 0-108 2 66 0 3 0 36 4-123 2 104 0 16 0-113 1 11 0 36 1 40 0 16 3 13 2 6 0-116 1 25 0 41 0 23 2 22 0-20 1-96 1 89 0-66 1 32 0-91 1 17 0 113 0 38 0-151 2 74 0 56 0-29 1 2 1-37 1 66 1-89 1 84 0-103 2 40 1-4 1 83 3-78 1-43 2 125 0 8 1-129 1 9 0 145 0 3 0-88 1 12 0 77 1-51 1 56 0-150 1 19 1 18 0 114 1-109 1 110 0 6 1-51 2-26 1 78 0-129 1 82 0 36 2-106 1 19 0 20 2 7 0 11 0-39 4-30 2 28 0-32 2 4 0-5 1 8 3 68 2-56 1 30 4 14 1-14 1 14 0-49 1 8 0-35 3 39 2 20 0-45 2 35 2-43 1 41 2-49 4 26 0 20 0-31 2-11 4 4 1 19 3 12 1-7 1 16 1-15 2 0 3-4 4 1 2-21 1 6 0 12 2-13 1-8 2 14 2" fill="none" stroke="none" marker-start="url(#k55)" marker-mid="url(#k55)" marker-end="url(#k55)"/>
<path d="M1585 2345l24 27-31 2 41 7 9 4-27 1 2 0 23 6 2 0-75 2 65 0-84 2 78 0-59 6-22 5 18 4 2 0 73 0-26 1-11 1 8 2 37 2 16 0-18 1-115 1 130 2-80 1-12 2 55 2 40 1-38 1-66 2-16 6 48 0 32 1-4 4-47 1-37 3 127 0-142 2 25 0 12 1 113 2 28 3-3 1-38 3 51 0-100 1 23 1 1 3 85 1-5 2 0 1-73 1 73 0-51 1-89 2 90 1-40 2 46 0-52 1-20 5 32 0-21 1 42 0-57 2 19 3 31 2-37 1 42 1-46 3 20 1-21 6-16 2 30 10-36 1 13 0-2 1 15 12-28 11 3 1 9 9" fill="none" stroke="none" marker-start="url(#k56)" marker-mid="url(#k56)" marker-end="url(#k56)"/>
<path d="M1624 2376l-67 18 97 2-64 1-34 4 62 1 18 1-29 4 22 1-134 9 51 2-30 12 144 0-173 1 125 4 5 9-36 6 99 3 14 3-137 1 45 1 17 3 82 2-7 1-129 5 57 0-26 2-11 14-30 14 39 4-13 4 3 16-14 11" fill="none" stroke="none" marker-start="url(#k57)" marker-mid="url(#k57)" marker-end="url(#k57)"/>
<path d="M1655 2412l-87 30 109 8 22 10 1 1-1 1 1 1-6 2-78 20-25 48" fill="none" stroke="none" marker-start="url(#k58)" marker-mid="url(#k58)" marker-end="url(#k58)"/>
<path d="M1687 2455l3 2 3 1 0 1 1 1 5 0 0 5-8 1 0 2 3 1" fill="none" stroke="none" marker-start="url(#k59)" marker-mid="url(#k59)" marker-end="url(#k59)"/>
<text x="1784" y="2304" font-size="27" font-style="italic">VIM</text>
<path d="M1885 2331l3 0 2 0 0 1-10 1 9 0-1 1-6 1 4 0 2 0-12 2 6 0 14 0-15 1 1 0 10 0-11 1 4 0 0 1 11 0-11 1 4 1 2 1 7 0-5 1-4 1 1 0 1 0 1 0 1 0 1 0-1 2 2 0 1 1-8 1 2 0 9 0 0 2-4 1 2 0-10 1 4 0-1 1 7 0-1 1 3 0-8 1 1 0-2 1 3 0-4 1 6 1 10 5-3 1 10 2-12 1 18 0-21 2 2 0 3 0 9 0 7 0-24 1 22 0 7 0-29 1 8 0 4 0 9 0-19 1 3 0 8 0-23 1 3 0 28 0 4 0-13 1 12 0 8 0-30 1 1 0 20 0 14 0-50 1 17 0 14 0 5 0 12 0-20 1 9 0 5 0 9 0-39 1-6 1 8 0 3 0 11 0 16 0 7 0-53 1 1 0 19 0 8 0 2 0 8 0 8 0 7 1-60 1 24 0 11 0 13 0-59 1 32 0 5 0 8 0-32 1 35 0 2 0 6 0 22 0-63 1 1 0 10 0 17 0 3 0 10 0 19 0 6 0-86 1 6 0 19 0 19 0 8 0 8 0 14 0 2 0-75 1 9 0 29 0 9 0 8 0 9 0-125 1 84 0 4 0 36 0 2 0 19 0-91 1 17 0 4 0 2 0 9 0 19 0 13 0 14 0 13 0 9 0-90 1 19 0 18 0 22 0-71 1 12 0 12 0 15 0 2 0 9 0 34 0 3 0-93 1 6 0 1 0 1 0 14 0 4 0 39 0 3 0 2 0 2 0 8 0 3 0 26 0-105 1 1 0 12 0 2 0 2 0 17 0 45 0 8 0 11 0 11 0 3 0-121 1 25 0 9 0 38 0 10 0 4 0 23 0 10 0-117 1 32 0 8 0 4 0 8 0 16 0 11 0 42 0-122 1 27 0 12 0 11 0 7 0 1 0 1 0 19 0 3 0 4 0 7 0 20 0 8 0-87 1 28 0 9 0 10 0 8 0 5 0 2 0 23 0-112 1 22 0 24 0 69 0-84 1 4 0 5 0 1 0 10 0 10 0 4 0 24 0 9 0 8 0-115 1 23 0 14 0 41 0 8 0 3 0 34 0-105 1 1 0 1 0 12 0 22 0 18 0 17 0 23 0 5 0 2 0-114 1 22 0 50 0 2 0 12 0 5 0 12 0 3 0 16 0-131 1 2 0 25 0 1 0 7 0 3 0 3 0 13 0 29 0 17 0 3 0-100 1 3 0 22 0 30 0 5 0 2 0-74 1 2 0 20 0 17 0 17 0 4 0 8 0 7 0 4 0 7 0 10 0-88 1 7 0 2 0 11 0 5 0 55 0 3 0 33 0 2 0-135 1 10 0 31 0 5 0 9 0 6 0 2 0 2 0 2 0 3 0 11 0 4 0 10 0 28 0 2 0 23 0-131 1 1 0 27 0 10 0 22 0 16 0 6 0 2 0 16 0 16 0-127 1 41 0 21 0 56 0 11 0 7 0 7 0-146 1 1 0 8 0 10 0 15 0 5 0 19 0 9 0 9 0 21 0 7 0 2 0 9 0 1 0 23 0-141 1 16 0 32 0 23 0 7 0 5 0 7 0 7 0 4 0 29 0 3 0 7 0 7 0-155 1 12 0 15 0 14 0 42 0 4 0 1 0 19 0 5 0-90 1 2 0 3 0 5 0 6 0 16 0 8 0 31 0 6 0 1 0 1 0 2 0 5 0 16 0 5 0 9 0 19 0-157 1 16 0 5 0 21 0 22 0 13 0 17 0 1 0 12 0 10 0 1 0 36 0 5 0-139 1 2 0 4 0 19 0 36 0 22 0 38 0 3 0 4 0-153 1 2 0 4 0 10 0 25 0 7 0 22 0 40 0 7 0 12 0 8 0 17 0-145 1 9 0 6 0 6 0 31 0 6 0 5 0 58 0 3 0 3 0 7 0 5 0-129 1 32 0 12 0 25 0 12 0 8 0 28 0 8 0-127 1 2 0 14 0 24 0 13 0 44 0 10 0-117 1 13 0 17 0 37 0 6 0 1 0 24 0 14 0 12 0 3 0 16 0-158 1 19 0 22 0 35 0 2 0 3 0 6 0 6 0 3 0 5 0 8 0 13 0 10 0 1 0 1 0 19 0 17 0-166 1 11 0 43 0 12 0 5 0 5 0 7 0 41 0 2 0 14 0-148 1 18 0 1 0 5 0 26 0 20 0 56 0 7 0 13 0 7 0 18 0 4 0-176 1 9 0 8 0 4 0 10 0 67 0 13 0 4 0 3 0 10 0 14 0 8 0 6 0-130 1 22 0 3 0 4 0 1 0 17 0 18 0 9 0 22 0 4 0 20 0 21 0-132 1 4 0 13 0 14 0 6 0 11 0 31 0 2 0 8 0 23 0 9 0 6 0 4 0 5 0-164 1 66 0 10 0 16 0 12 0 16 0 2 0 3 0 15 0 8 0 4 0 8 0-171 1 1 0 43 0 5 0 42 0 3 0 13 0 6 0 21 0 1 0 27 0-153 1 34 0 3 0 18 0 2 0 18 0 13 0 4 0 5 0 33 0 6 0 13 0 2 0 19 0 4 0-167 1 11 0 5 0 6 0 11 0 9 0 23 0 59 0 14 0 3 0 2 0 4 0 20 0-185 1 18 0 7 0 14 0 7 0 19 0 5 0 63 0 2 0 24 0 3 0 13 0-167 1 15 0 11 0 26 0 41 0 19 0 11 0 7 0 46 0 1 0-183 1 1 0 3 0 4 0 17 0 3 0 3 0 32 0 5 0 30 0 20 0 9 0 16 0 2 0 9 0 1 0 16 0 6 0-157 1 32 0 22 0 6 0 5 0 5 0 2 0 32 0 25 0 1 0-136 1 10 0 1 0 4 0 9 0 12 0 21 0 28 0 1 0 10 0 8 0 6 0 10 0 4 0 5 0 12 0 2 0 19 0-170 1 29 0 23 0 8 0 48 0 9 0 3 0 3 0 2 0 14 0 2 0 6 0 7 0 11 0-160 1 4 0 25 0 59 0 3 0 19 0 7 0 9 0 3 0 6 0 17 0 21 0 3 0-168 1 15 0 7 0 44 0 3 0 3 0 9 0 21 0 15 0 11 0 32 0 2 0-164 1 4 0 1 0 2 0 18 0 2 0 57 0 9 0 2 0 9 0 5 0 12 0 9 0 1 0 5 0 4 0 25 0-153 1 8 0 12 0 1 0 18 0 42 0 16 0 2 0 8 0 2 0 14 0 20 0-99 1 6 0 12 0 17 0 23 0 9 0 12 0 7 0 1 0 5 0 10 0-139 1 48 0 3 0 16 0 32 0 1 0 23 0 1 0 10 0 13 0-119 1 2 0 14 0 8 0 2 0 4 0 10 0 18 0 31 0 23 0 9 0-177 1 25 0 2 0 7 0 20 0 1 0 12 0 10 0 9 0 1 0 7 0 37 0 15 0 16 0 12 0-142 1 20 0 2 0 25 0 5 0 9 0 24 0 1 0 21 0 21 0-143 1 2 0 25 0 33 0 6 0 7 0 6 0 36 0 10 0 12 0 16 0-143 1 29 0 21 0 15 0 33 0 16 0 1 0 18 0 2 0 3 0-134 1 29 0 11 0 11 0 23 0 25 0 5 0 12 0 8 0 14 0 4 0 5 0-141 1 28 0 7 0 2 0 19 0 23 0 44 0 9 0 1 0 9 0-140 1 9 0 13 0 23 0 2 0 29 0 28 0 8 0 10 0 3 0 11 0-137 1 7 0 12 0 11 0 4 0 7 0 1 0 3 0 30 0 13 0 6 0 10 0 6 0 25 0-126 1 5 0 17 0 17 0 1 0 60 0 10 0 5 0 15 0-122 1 6 0 37 0 15 0 3 0 4 0 2 0 3 0 11 0 11 0 9 0 5 0 12 0-111 1 13 0 11 0 3 0 3 0 1 0 4 0 1 0 13 0 6 0 15 0 6 0 5 0 22 0 14 0 22 0-154 1 3 0 12 0 12 0 6 0 5 0 4 0 2 0 10 0 22 0 9 0 9 0 8 0 2 0-96 1 1 0 59 0 6 0 2 0 13 0 7 0 8 0 5 0 5 0 7 0-115 1 18 0 4 0 18 0 11 0 3 0 17 0 41 0-118 1 4 0 25 0 10 0 5 0 13 0 8 0 4 0 6 0 8 0-74 1 15 0 3 0 21 0 3 0 4 0 3 0 8 0 2 0 24 0 19 0 5 0 2 0-110 1 35 0 10 0 6 0 6 0 7 0 34 0-63 1 14 0 28 0 1 0 1 0 41 0-121 1 3 0 3 0 14 0 4 0 13 0 17 0 24 0 32 0-106 1 50 0 13 0 16 0-50 1 16 0 8 0 4 0 3 0 2 0 12 0 18 0 19 0 3 0 41 0-140 1 7 0 4 0 27 0 1 0 21 0 14 0 2 0 11 0 3 0 1 0 7 0 35 0-146 1 10 0 25 0 5 0 31 0 10 0 7 0 10 0 3 0-103 1 15 0 8 0 27 0 9 0 7 0 21 0 10 0 9 0 10 0-107 1 4 0 5 0 9 0 9 0 4 0 5 0 10 0 5 0 38 0 15 0-102 1 2 0 8 0 30 0 28 0 6 0 1 0 2 0-82 1 15 0 8 0 26 0 12 0 7 0 7 0 19 0 3 0-89 1 38 0-15 1 4 0 8 0 14 0 8 0 18 0 3 0 17 0-96 1 6 0 7 0 4 0 28 0 1 0 21 0 11 0 15 0-86 1 7 0 2 0 11 0 63 0-83 1 7 0 30 0 17 0 24 0-74 1 23 0 4 0 5 0 21 0 12 0 19 0 1 0 1 0 2 0-135 1 38 0 9 0 1 0 3 0 12 0 4 0 26 0 17 0 16 0-128 1 56 0 6 0 32 0 24 0 10 0 3 0-131 1 43 0 28 0 3 0 6 0 14 0 17 0 4 0 1 0 3 0-104 1 9 0 28 0 30 0 28 0 20 0-131 1 15 0 30 0 13 0 1 0 10 0 32 0 16 0-118 1 16 0 54 0 8 0 22 0 15 0 6 0 2 0 3 0-52 1 17 0 28 0 6 0-129 1 74 0 14 0 8 0 6 0 1 0 5 0 12 0 5 0-57 1 4 0 8 0 32 0 3 0 1 0 3 0 13 0-55 1 12 0 9 0 2 0 15 0 18 0-76 1 15 0 5 0 1 0 21 0 10 0-5 1 4 0 11 0-52 1 33 0 2 0 1 0 16 0-51 1 9 0 12 0 3 0 12 0 13 0 1 0 11 0-82 1 26 0 5 0 9 0 7 0 9 0 21 0 1 0-74 1 36 0 6 0 23 0-70 1 10 0 7 0 15 0 18 0 25 0-79 1 5 0 2 0 25 0-29 1 34 0 10 0 2 0 1 0 6 0 9 0 12 0-80 1 7 0 15 0 6 0 15 0 4 0 5 0 10 0-56 1 13 0 12 0 3 0 11 0 10 0 18 0-68 1 5 0 7 0 4 0 11 0 1 0 3 0 5 0 9 0 25 0 3 0-75 1 3 0 3 0 3 0 5 0-7 1 5 0 2 0 14 0 21 0 5 0 1 0-49 1 18 0 23 0 22 0-60 1 17 0 26 0-55 1 32 0 12 0 6 0-43 1 4 0 9 0 17 0-33 1 1 0 14 0 10 0 8 0-24 1 19 0 6 0-37 1 4 0 23 0 2 0 18 0-40 1 38 0-37 1 5 0 2 0 2 0 5 0-9 1 5 0 7 0 4 0 8 0-27 1 9 0 5 0-19 1 13 0 2 0 2 0 18 0 6 0-42 1 3 0 1 0 25 0 1 0 10 0-36 1 3 0 12 0 3 0 1 0 1 0 19 1-44 1 1 0 11 0 6 0 5 0-16 1 17 0 8 0 1 0 6 0 11 0-52 1 2 0 36 0-7 1 13 0 2 0-24 1-15 1 4 0 13 0 26 0-36 1 3 0 15 0 13 0-33 1 18 0-26 1 16 0 8 0 1 0 2 0 4 0 6 0-30 1 2 0 15 0 4 0 5 0-34 1 6 0 32 0-38 1 2 0 5 0 4 0 18 0-21 1 2 0 4 0 1 0 1 0 6 0 5 0-18 1 1 0 2 0 4 0 18 0-22 1 2 0 4 0 3 0 2 0 2 0-21 1 3 0 5 0 14 0-21 1 2 0 4 0 23 0-29 1 6 0 3 0 11 0 3 0-13 1 1 0 1 0-13 1 6 0 2 0 4 0-13 1 4 0 5 0 6 0-15 1 1 1 7 0 8 0 9 0-15 1 3 0 5 0-13 1 15 0-10 1 7 0-13 1-4 1 3 0 8 1 1 1 1 0" fill="none" stroke="none" marker-start="url(#k50)" marker-mid="url(#k50)" marker-end="url(#k50)"/>
<path d="M1894 2354l21 30 8 6-98 18 94 14-4 3-96 5-31 3 135 1-66 9 81 8 55 2-6 1 11 2-2 1 5 0-1 1 5 2-131 3 134 1-3 1-1 1 0 1-7 1-169 9 12 2-2 3-14 2 62 11 8 6-5 38" fill="none" stroke="none" marker-start="url(#k51)" marker-mid="url(#k51)" marker-end="url(#k51)"/>
<path d="M1984 2450l6 3-3 1 13 3-1 2 2 1 6 1-1 1 1 1-6 2 3 0-3 4-172 9" fill="none" stroke="none" marker-start="url(#k52)" marker-mid="url(#k52)" marker-end="url(#k52)"/>
<path d="M1996 2454l11 7 1 2" fill="none" stroke="none" marker-start="url(#k53)" marker-mid="url(#k53)" marker-end="url(#k53)"/>
<path d="M1893 2341l1 19 28 11-22 10-10 14 9 5-6 7-73 7 18 10-35 3-10 5 93 14 66 20-67 11-4 2-11 41 10 18" fill="none" stroke="none" marker-start="url(#k56)" marker-mid="url(#k56)" marker-end="url(#k56)"/>
<path d="M1885 2329l4 14-3 33 1 4 52 1-30 5 6 1-61 2 88 1-92 3 78 1-15 1-23 1-20 4-10 1 73 0 23 0-126 5 130 1-88 1 43 0-38 1 53 0-107 2 130 0-49 8 22 1 15 0-93 1 33 3 37 0-47 1-74 1 145 0-69 1 3 2-3 1 65 1 15 4-24 3 3 0-127 1-4 1 32 3 26 0 23 2 60 0-31 1 5 1-8 6 82 0-163 1 123 1 44 0-134 3-11 1 25 3-18 3 20 1 68 0-54 2 62 0-24 1 20 1-87 1 86 2-83 3 14 0-5 3 74 0-4 1-52 2 58 2-21 1-3 3-37 4 8 0 7 3 26 0 12 3-81 3 32 5-28 7 10 0-6 5 21 12-1 6-14 2" fill="none" stroke="none" marker-start="url(#k57)" marker-mid="url(#k57)" marker-end="url(#k57)"/>
<path d="M1893 2342l5 9-14 10 12 1 8 2 15 8 3 0-37 2 36 0-20 5 33 6-50 1 40 1 4 7-73 3 77 0-81 1 55 0 39 0-116 1 10 1 97 0-40 1 26 0-63 1-31 5-16 3 55 0-10 1 60 0 1 0-79 2 109 0-73 2 59 0 5 0-66 1 11 0 73 0-92 1 51 1-86 1 3 0 94 0-45 1-55 1-31 1 77 2 23 0-105 2 74 0 43 0 51 0-122 1 33 0-37 1 25 0 30 1 20 0-113 1 17 0-7 3 1 0 27 0-3 1 10 0-40 2 9 0 119 0 23 2-86 1 38 1 45 0-1 1-140 2 100 0 25 1-106 1 7 1 128 0-127 2 53 3-52 2 27 2 132 0-55 2 31 1 30 1-150 1 101 0 54 0-151 2 113 1-96 1 137 0-139 1 133 0-105 1 8 0-30 1 30 2 59 0 2 2-60 4 41 0-83 1 91 2-29 1 12 1-23 2-35 1 22 2 23 1 6 0 13 0-55 2 27 4 9 0-23 4-21 2 21 0-39 2-4 2 27 1-8 4 3 0 10 0-19 1 2 1 23 0 9 2-22 1 20 0-16 2 17 0-43 1 16 4 30 2-28 1-8 3 7 4 1 1-4 5 11 0-10 1 11 0 3 1-11 8" fill="none" stroke="none" marker-start="url(#k58)" marker-mid="url(#k58)" marker-end="url(#k58)"/>
<path d="M1887 2338l-14 48 4 2 29 4 40 5-39 1 51 0-58 1-38 2 42 3-55 2 111 3-109 1-42 1 42 7 81 0-107 1 72 1-11 1 63 1-22 3-10 1-38 3 8 1-86 2 137 0-87 1 59 3 44 3-13 1 26 0-86 3 89 0-53 1 5 0-105 4 145 0-8 17-24 2 24 0 43 0-132 2 46 4 22 0-25 1-7 5 3 3 4 14-32 7 24 1 8 8-48 1 30 2-4 2-7 2 6 8-16 2 4 1-1 10" fill="none" stroke="none" marker-start="url(#k59)" marker-mid="url(#k59)" marker-end="url(#k59)"/>
<text transform="translate(1428,2676) rotate(-90)" font-size="18.8">Mean</text><text transform="translate(1449,2676) rotate(-90)" font-size="18.8">expression</text>
<rect x="1498.6" y="2580" width="210.1" height="112.3" fill="none" stroke="#e2e2e2" stroke-width="1.6"/>
<text x="1490.5" y="2587.9" font-size="16.5" text-anchor="end" fill="#222">0.8</text>
<text x="1490.5" y="2690.7" font-size="16.5" text-anchor="end" fill="#222">0.0</text>
<path d="M1530.5 2583.9C1530.7 2589.9 1530.8 2612.0 1531.4 2620.0C1532.0 2628.0 1532.0 2628.0 1533.9 2632.0C1535.8 2636.0 1542.1 2640.2 1542.9 2644.0C1543.7 2647.8 1537.4 2650.9 1538.9 2655.0C1540.4 2659.1 1552.5 2664.4 1551.7 2668.6C1550.9 2672.8 1534.7 2676.8 1533.9 2680.0C1533.1 2683.2 1544.7 2686.2 1546.9 2687.5L1512.9 2687.5C1515.1 2686.2 1526.7 2683.2 1525.9 2680.0C1525.1 2676.8 1508.9 2672.8 1508.1 2668.6C1507.3 2664.4 1519.4 2659.1 1520.9 2655.0C1522.4 2650.9 1516.1 2647.8 1516.9 2644.0C1517.7 2640.2 1524.0 2636.0 1525.9 2632.0C1527.8 2628.0 1527.8 2628.0 1528.4 2620.0C1529.0 2612.0 1529.2 2589.9 1529.3 2583.9Z" fill="#4e7ea0" stroke="#2a2a2a" stroke-width="1.1" stroke-linejoin="round"/>
<path d="M1579.4 2609.5C1580.0 2612.1 1581.6 2619.9 1582.8 2625.0C1584.0 2630.1 1585.6 2635.0 1586.8 2640.0C1588.0 2645.0 1588.1 2650.6 1589.8 2655.0C1591.5 2659.4 1597.6 2662.9 1596.8 2666.7C1596.0 2670.5 1585.6 2674.5 1584.8 2678.0C1584.0 2681.5 1590.6 2685.9 1591.8 2687.5L1565.8 2687.5C1567.0 2685.9 1573.6 2681.5 1572.8 2678.0C1572.0 2674.5 1561.6 2670.5 1560.8 2666.7C1560.0 2662.9 1566.1 2659.4 1567.8 2655.0C1569.5 2650.6 1569.6 2645.0 1570.8 2640.0C1572.0 2635.0 1573.6 2630.1 1574.8 2625.0C1576.0 2619.9 1577.6 2612.1 1578.2 2609.5Z" fill="#8aaec4" stroke="#2a2a2a" stroke-width="1.1" stroke-linejoin="round"/>
<path d="M1629.5 2604.6C1629.9 2608.8 1631.0 2622.8 1631.9 2630.0C1632.8 2637.2 1634.1 2643.3 1634.9 2648.0C1635.7 2652.7 1635.7 2654.9 1636.9 2658.0C1638.1 2661.1 1642.1 2663.4 1641.9 2666.7C1641.7 2670.0 1635.2 2674.5 1635.9 2678.0C1636.6 2681.5 1644.2 2685.9 1645.9 2687.5L1611.9 2687.5C1613.6 2685.9 1621.2 2681.5 1621.9 2678.0C1622.6 2674.5 1616.1 2670.0 1615.9 2666.7C1615.7 2663.4 1619.7 2661.1 1620.9 2658.0C1622.1 2654.9 1622.1 2652.7 1622.9 2648.0C1623.7 2643.3 1625.0 2637.2 1625.9 2630.0C1626.8 2622.8 1627.9 2608.8 1628.3 2604.6Z" fill="#a8c8e0" stroke="#2a2a2a" stroke-width="1.1" stroke-linejoin="round"/>
<path d="M1681.1 2594.5C1681.3 2596.2 1681.5 2599.9 1682.6 2605.0C1683.7 2610.1 1686.5 2619.1 1687.6 2625.0C1688.7 2630.9 1689.4 2634.6 1689.1 2640.4C1688.8 2646.2 1686.5 2654.2 1685.6 2660.0C1684.7 2665.8 1683.5 2670.4 1683.6 2675.0C1683.7 2679.6 1685.7 2685.4 1686.1 2687.5L1671.1 2687.5C1671.5 2685.4 1673.5 2679.6 1673.6 2675.0C1673.7 2670.4 1672.5 2665.8 1671.6 2660.0C1670.7 2654.2 1668.4 2646.2 1668.1 2640.4C1667.8 2634.6 1668.5 2630.9 1669.6 2625.0C1670.7 2619.1 1673.5 2610.1 1674.6 2605.0C1675.7 2599.9 1675.8 2596.2 1676.1 2594.5Z" fill="#b8e0f8" stroke="#2a2a2a" stroke-width="1.1" stroke-linejoin="round"/>
<text transform="translate(1534.5,2702.6) rotate(-90)" font-size="20.5" text-anchor="end">0</text>
<text transform="translate(1583.4,2702.6) rotate(-90)" font-size="20.5" text-anchor="end">1</text>
<text transform="translate(1633.5,2702.6) rotate(-90)" font-size="20.5" text-anchor="end">2</text>
<text transform="translate(1683.2,2702.6) rotate(-90)" font-size="20.5" text-anchor="end">3</text>
<rect x="1802.9" y="2580" width="213.4" height="112.3" fill="none" stroke="#e2e2e2" stroke-width="1.6"/>
<text x="1794.6" y="2587.9" font-size="16.5" text-anchor="end" fill="#222">3</text>
<text x="1794.6" y="2690.7" font-size="16.5" text-anchor="end" fill="#222">0</text>
<path d="M1833.6 2584.6C1833.8 2588.8 1834.3 2604.9 1834.5 2610.0C1834.7 2615.1 1835.1 2612.5 1835.0 2615.0C1834.9 2617.5 1834.2 2615.8 1834.0 2625.0C1833.8 2634.2 1833.3 2661.2 1833.8 2670.0C1834.3 2678.8 1835.1 2675.7 1837.0 2678.0C1838.9 2680.3 1842.2 2682.4 1845.0 2684.0C1847.8 2685.6 1852.2 2686.9 1853.7 2687.5L1812.3 2687.5C1813.8 2686.9 1818.2 2685.6 1821.0 2684.0C1823.8 2682.4 1827.1 2680.3 1829.0 2678.0C1830.9 2675.7 1831.7 2678.8 1832.2 2670.0C1832.7 2661.2 1832.2 2634.2 1832.0 2625.0C1831.8 2615.8 1831.1 2617.5 1831.0 2615.0C1830.9 2612.5 1831.3 2615.1 1831.5 2610.0C1831.7 2604.9 1832.2 2588.8 1832.4 2584.6Z" fill="#4e7ea0" stroke="#2a2a2a" stroke-width="1.1" stroke-linejoin="round"/>
<path d="M1884.4 2584.0C1884.5 2588.3 1884.6 2604.0 1884.8 2610.0C1885.0 2616.0 1885.8 2616.7 1885.8 2620.0C1885.8 2623.3 1884.9 2621.7 1884.8 2630.0C1884.7 2638.3 1884.5 2662.0 1885.3 2670.0C1886.1 2678.0 1887.8 2675.1 1889.8 2678.0C1891.8 2680.9 1895.8 2685.9 1897.0 2687.5L1870.6 2687.5C1871.8 2685.9 1875.8 2680.9 1877.8 2678.0C1879.8 2675.1 1881.5 2678.0 1882.3 2670.0C1883.1 2662.0 1882.9 2638.3 1882.8 2630.0C1882.7 2621.7 1881.8 2623.3 1881.8 2620.0C1881.8 2616.7 1882.6 2616.0 1882.8 2610.0C1883.0 2604.0 1883.1 2588.3 1883.2 2584.0Z" fill="#8aaec4" stroke="#2a2a2a" stroke-width="1.1" stroke-linejoin="round"/>
<path d="M1935.2 2601.0C1935.3 2613.3 1934.0 2661.5 1935.6 2675.0C1937.2 2688.5 1941.0 2679.9 1944.6 2682.0C1948.2 2684.1 1955.1 2686.6 1957.2 2687.5L1912.0 2687.5C1914.1 2686.6 1921.0 2684.1 1924.6 2682.0C1928.2 2679.9 1932.0 2688.5 1933.6 2675.0C1935.2 2661.5 1933.9 2613.3 1934.0 2601.0Z" fill="#a8c8e0" stroke="#2a2a2a" stroke-width="1.1" stroke-linejoin="round"/>
<path d="M1986.1 2589.6C1986.2 2593.0 1986.9 2604.1 1987.0 2610.0C1987.1 2615.9 1986.6 2616.7 1986.5 2625.0C1986.4 2633.3 1986.2 2652.2 1986.5 2660.0C1986.8 2667.8 1987.8 2668.7 1988.5 2672.0C1989.2 2675.3 1990.1 2677.4 1990.5 2680.0C1990.9 2682.6 1991.0 2686.2 1991.1 2687.5L1979.9 2687.5C1980.0 2686.2 1980.1 2682.6 1980.5 2680.0C1980.9 2677.4 1981.8 2675.3 1982.5 2672.0C1983.2 2668.7 1984.2 2667.8 1984.5 2660.0C1984.8 2652.2 1984.6 2633.3 1984.5 2625.0C1984.4 2616.7 1983.9 2615.9 1984.0 2610.0C1984.1 2604.1 1984.8 2593.0 1984.9 2589.6Z" fill="#b8e0f8" stroke="#2a2a2a" stroke-width="1.1" stroke-linejoin="round"/>
<text transform="translate(1837.6,2702.6) rotate(-90)" font-size="20.5" text-anchor="end">0</text>
<text transform="translate(1888.4,2702.6) rotate(-90)" font-size="20.5" text-anchor="end">1</text>
<text transform="translate(1939.2,2702.6) rotate(-90)" font-size="20.5" text-anchor="end">2</text>
<text transform="translate(1990.1,2702.6) rotate(-90)" font-size="20.5" text-anchor="end">3</text>
</svg>
</body></html>
